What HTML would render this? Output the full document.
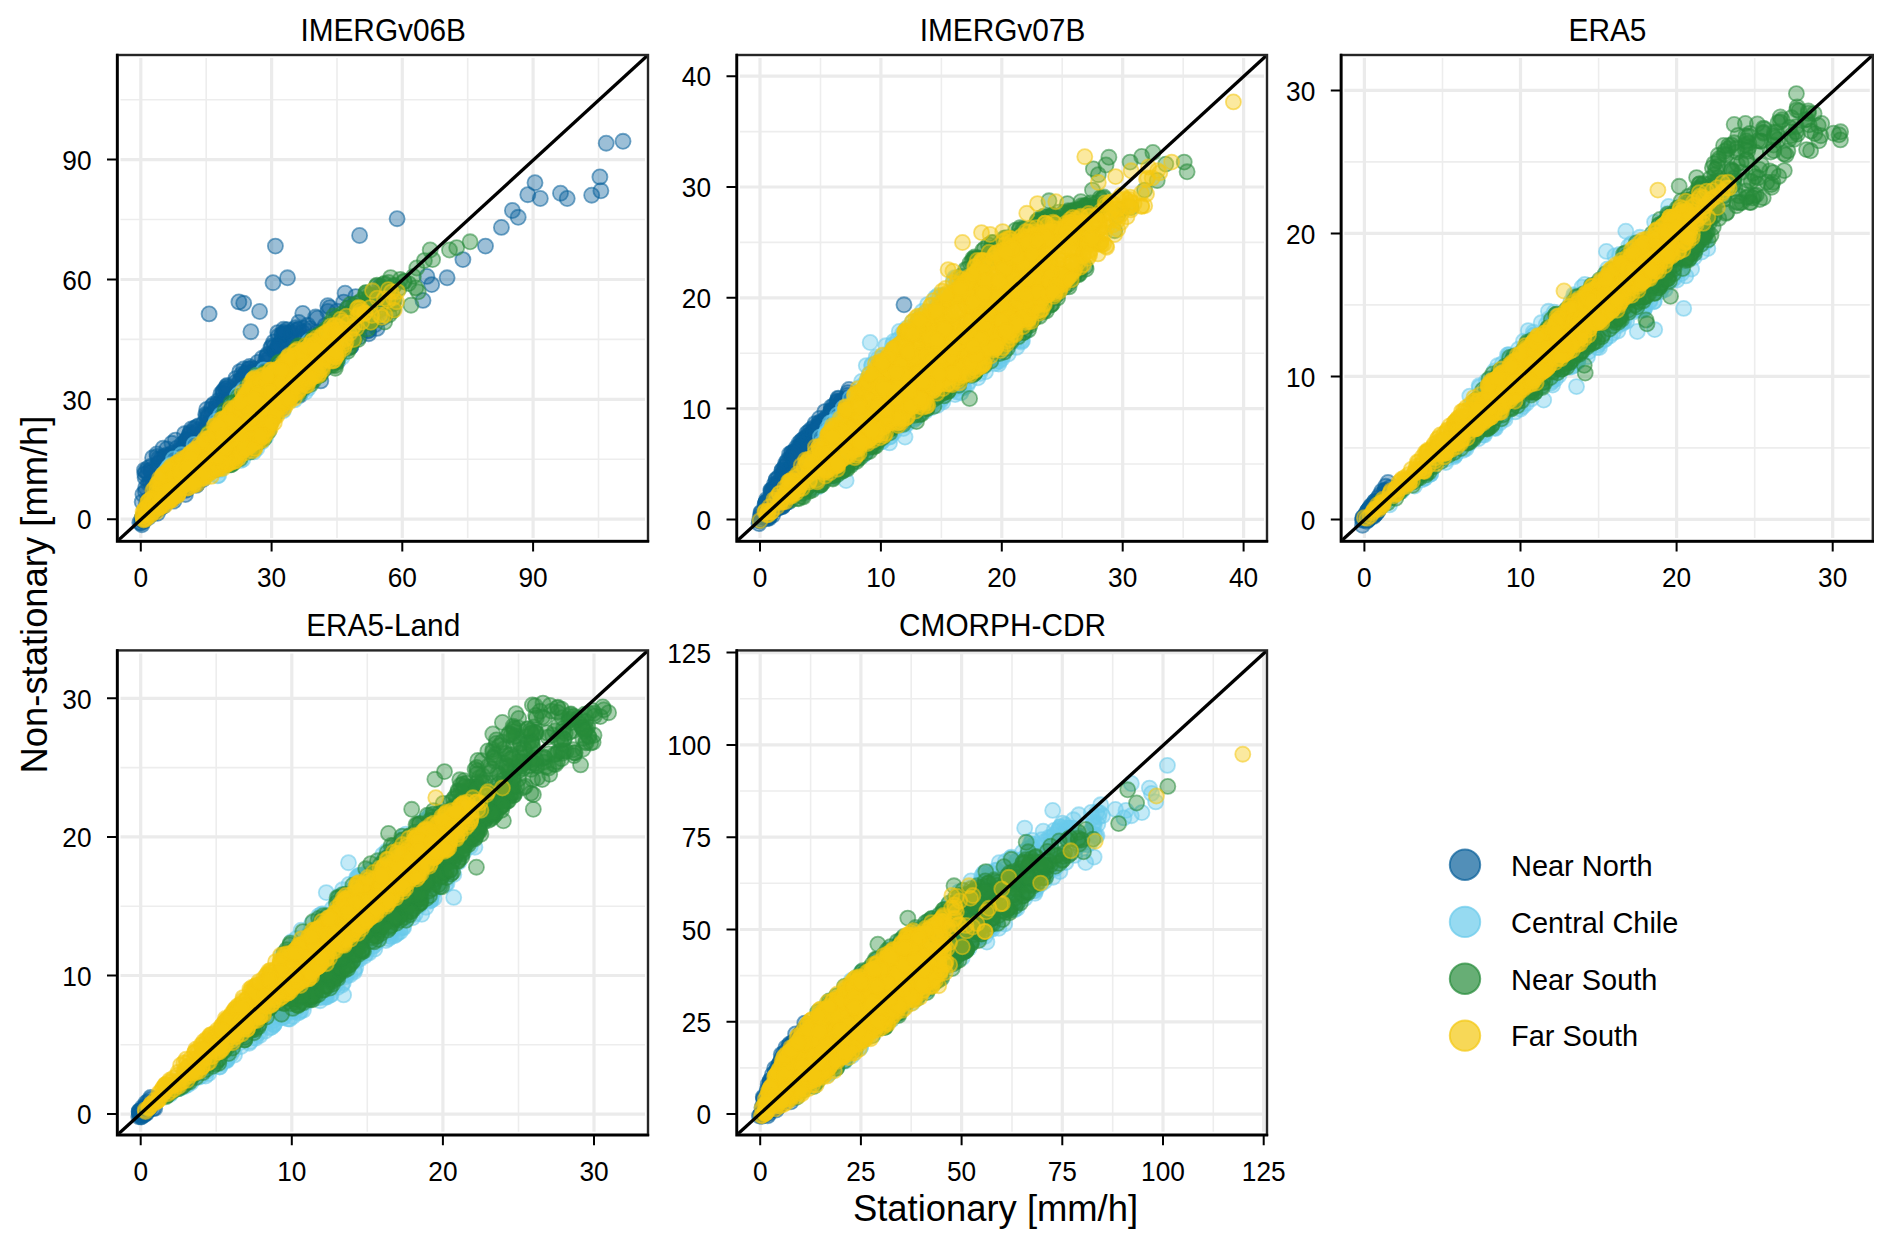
<!DOCTYPE html>
<html lang="en"><head><meta charset="utf-8"><title>Stationary vs Non-stationary</title>
<style>html,body{margin:0;padding:0;background:#fff}svg{display:block}text{font-family:"Liberation Sans", sans-serif;fill:#000}.tk{font-size:28.4px}.tt{font-size:30.8px}.ax{font-size:36.4px}.lg{font-size:29.7px}.pt circle{r:7.55px;stroke-width:1.8px}.nn{fill:#08609a;stroke:#08609a}.cc{fill:#6acaeb;stroke:#6acaeb}.ns{fill:#278b3a;stroke:#278b3a}.fs{fill:#f4c70f;stroke:#f4c70f}.pt{fill-opacity:.4;stroke-opacity:.55}</style></head><body>
<svg width="1892" height="1248" viewBox="0 0 1892 1248">
<rect width="1892" height="1248" fill="#fff"/>
<clipPath id="cp0"><rect x="117.5" y="55" width="530.5" height="486"/></clipPath>
<g><path d="M206.2 58V538M337 58V538M467.7 58V538M598.5 58V538M120.5 459.3H645M120.5 339.4H645M120.5 219.5H645M120.5 99.7H645" stroke="#ededed" stroke-width="1.6" fill="none"/><path d="M140.8 58V538M271.6 58V538M402.3 58V538M533.1 58V538M120.5 519.2H645M120.5 399.3H645M120.5 279.5H645M120.5 159.6H645" stroke="#ebebeb" stroke-width="3.2" fill="none"/></g>
<g class="pt" clip-path="url(#cp0)">
<g class="nn"><circle cx="368.7" cy="333.7"/><circle cx="221.2" cy="423.4"/><circle cx="338.2" cy="329.8"/><circle cx="198.4" cy="443.8"/><circle cx="209.9" cy="438.9"/><circle cx="169.1" cy="499.8"/><circle cx="194.3" cy="446.6"/><circle cx="209.8" cy="423"/><circle cx="360.6" cy="321.8"/><circle cx="231.6" cy="413.4"/><circle cx="257.6" cy="381.9"/><circle cx="312.8" cy="339.8"/><circle cx="312.8" cy="369.1"/><circle cx="268" cy="385.7"/><circle cx="279.1" cy="365.7"/><circle cx="190.4" cy="441.8"/><circle cx="180.1" cy="458.5"/><circle cx="315.4" cy="352.1"/><circle cx="269.5" cy="418.5"/><circle cx="257.8" cy="434.1"/><circle cx="156.9" cy="482.8"/><circle cx="369.4" cy="301.1"/><circle cx="141.9" cy="524.8"/><circle cx="196.3" cy="485.4"/><circle cx="310.9" cy="353.7"/><circle cx="228.9" cy="418.6"/><circle cx="279.1" cy="405.9"/><circle cx="337.6" cy="361.8"/><circle cx="176.3" cy="448.4"/><circle cx="379.7" cy="286.1"/><circle cx="182.2" cy="449.2"/><circle cx="346.9" cy="314.5"/><circle cx="301.2" cy="391.4"/><circle cx="202.4" cy="432.9"/><circle cx="314.9" cy="373.4"/><circle cx="368.5" cy="330.8"/><circle cx="305.1" cy="357.5"/><circle cx="232.9" cy="419.2"/><circle cx="219.4" cy="425.8"/><circle cx="238.3" cy="413.6"/><circle cx="191.2" cy="458.9"/><circle cx="278.6" cy="364.9"/><circle cx="207.2" cy="469.9"/><circle cx="350.8" cy="346.4"/><circle cx="236.6" cy="409"/><circle cx="234.2" cy="408.1"/><circle cx="309.8" cy="328.4"/><circle cx="204.9" cy="436.6"/><circle cx="295.6" cy="395"/><circle cx="322" cy="332.5"/><circle cx="148.4" cy="483.5"/><circle cx="258.1" cy="393.7"/><circle cx="245.9" cy="386"/><circle cx="377" cy="328.4"/><circle cx="143.1" cy="520.6"/><circle cx="186" cy="489.3"/><circle cx="197.4" cy="442.7"/><circle cx="155.3" cy="490.5"/><circle cx="211.3" cy="439"/><circle cx="185.4" cy="494.5"/><circle cx="301.2" cy="388.5"/><circle cx="162.5" cy="481.7"/><circle cx="189.9" cy="484"/><circle cx="269" cy="381.8"/><circle cx="172.4" cy="464.3"/><circle cx="356" cy="303.6"/><circle cx="172.9" cy="467.1"/><circle cx="292.7" cy="397.3"/><circle cx="240.8" cy="396.9"/><circle cx="207.1" cy="439.7"/><circle cx="324.5" cy="368.4"/><circle cx="220.7" cy="411.9"/><circle cx="160.5" cy="507.9"/><circle cx="150.7" cy="482.1"/><circle cx="316.7" cy="367.4"/><circle cx="215.8" cy="411.3"/><circle cx="299.6" cy="395.5"/><circle cx="350.7" cy="346.7"/><circle cx="158.5" cy="483.7"/><circle cx="259" cy="377.7"/><circle cx="195.6" cy="481.6"/><circle cx="341.5" cy="317.1"/><circle cx="202.1" cy="441.1"/><circle cx="351.6" cy="311.5"/><circle cx="186.2" cy="490.3"/><circle cx="221.2" cy="412.9"/><circle cx="295.4" cy="347"/><circle cx="353.1" cy="321"/><circle cx="277.7" cy="352.9"/><circle cx="180.8" cy="453.5"/><circle cx="270.7" cy="417.2"/><circle cx="277.4" cy="407.9"/><circle cx="267" cy="356.1"/><circle cx="254.9" cy="377.3"/><circle cx="318.7" cy="334.2"/><circle cx="246.9" cy="391.1"/><circle cx="165" cy="473.3"/><circle cx="359.5" cy="336.7"/><circle cx="292.8" cy="360.9"/><circle cx="143.4" cy="517.2"/><circle cx="350" cy="318.3"/><circle cx="264.7" cy="378.6"/><circle cx="332.3" cy="346.6"/><circle cx="176.1" cy="494"/><circle cx="254.5" cy="395.3"/><circle cx="241.7" cy="385.1"/><circle cx="180.4" cy="490.2"/><circle cx="157.5" cy="513.2"/><circle cx="266.2" cy="362.8"/><circle cx="193.6" cy="444.5"/><circle cx="256.5" cy="393.9"/><circle cx="202.8" cy="479.5"/><circle cx="305.6" cy="387.3"/><circle cx="325.2" cy="325.6"/><circle cx="276.6" cy="409.1"/><circle cx="339.8" cy="334.4"/><circle cx="154.6" cy="511.6"/><circle cx="169.9" cy="462.7"/><circle cx="245.9" cy="392.7"/><circle cx="333.4" cy="353.2"/><circle cx="182.2" cy="489.5"/><circle cx="379.1" cy="310.3"/><circle cx="319.1" cy="349.2"/><circle cx="210.6" cy="429"/><circle cx="184" cy="488.6"/><circle cx="240.6" cy="400.6"/><circle cx="149.8" cy="482.3"/><circle cx="164" cy="466.8"/><circle cx="254.6" cy="371.7"/><circle cx="362" cy="322.3"/><circle cx="145.7" cy="487.5"/><circle cx="261.1" cy="389"/><circle cx="241.3" cy="390"/><circle cx="169.7" cy="496.5"/><circle cx="310.7" cy="347.9"/><circle cx="272.8" cy="367.2"/><circle cx="371.7" cy="295.7"/><circle cx="163.5" cy="506.2"/><circle cx="239.3" cy="445.1"/><circle cx="202.3" cy="431.1"/><circle cx="321.3" cy="359.2"/><circle cx="262.5" cy="381.7"/><circle cx="260.8" cy="367.9"/><circle cx="143.9" cy="521.2"/><circle cx="190.2" cy="456.7"/><circle cx="189.2" cy="437"/><circle cx="347.6" cy="308.1"/><circle cx="141.3" cy="523.1"/><circle cx="295.7" cy="390.2"/><circle cx="295" cy="347.2"/><circle cx="155.6" cy="480.3"/><circle cx="284.6" cy="400"/><circle cx="269.3" cy="377.9"/><circle cx="332.7" cy="347.8"/><circle cx="371.1" cy="301"/><circle cx="181.3" cy="444.7"/><circle cx="240.1" cy="443.3"/><circle cx="264.7" cy="377.6"/><circle cx="139.8" cy="522.5"/><circle cx="311.1" cy="349.9"/><circle cx="212.3" cy="466.9"/><circle cx="148.4" cy="517.5"/><circle cx="152.7" cy="493.4"/><circle cx="348.4" cy="320.4"/><circle cx="336" cy="351.2"/><circle cx="219.7" cy="417.1"/><circle cx="199.4" cy="451.7"/><circle cx="173.9" cy="501.1"/><circle cx="254.9" cy="374.6"/><circle cx="303.1" cy="367.6"/><circle cx="240.4" cy="408.9"/><circle cx="146.5" cy="504"/><circle cx="231.1" cy="398"/><circle cx="172.4" cy="499.2"/><circle cx="271.4" cy="373"/><circle cx="360.6" cy="325.3"/><circle cx="220.2" cy="417.8"/><circle cx="283" cy="370.7"/><circle cx="245.5" cy="397.2"/><circle cx="313.2" cy="351.3"/><circle cx="250.4" cy="378.5"/><circle cx="221.5" cy="414.3"/><circle cx="241.1" cy="394"/><circle cx="245.7" cy="396.6"/><circle cx="374.8" cy="324.7"/><circle cx="157.2" cy="509.9"/><circle cx="153.4" cy="483.9"/><circle cx="184.6" cy="446.3"/><circle cx="142.2" cy="502"/><circle cx="223.7" cy="463.3"/><circle cx="186.8" cy="440.4"/><circle cx="306.3" cy="368.9"/><circle cx="285.6" cy="397"/><circle cx="301.6" cy="339.3"/><circle cx="170.9" cy="456.3"/><circle cx="153.2" cy="513.6"/><circle cx="235.7" cy="395.9"/><circle cx="358.3" cy="312.6"/><circle cx="197.6" cy="477.1"/><circle cx="250.1" cy="378"/><circle cx="307.9" cy="366.6"/><circle cx="340.8" cy="338.7"/><circle cx="253.2" cy="391.5"/><circle cx="235.1" cy="406.1"/><circle cx="232" cy="405.1"/><circle cx="259.1" cy="436.7"/><circle cx="336.2" cy="348"/><circle cx="337" cy="357.1"/><circle cx="197.2" cy="484.1"/><circle cx="207.3" cy="430.1"/><circle cx="215.9" cy="460.9"/><circle cx="141.9" cy="518.5"/><circle cx="233.9" cy="416.9"/><circle cx="198.8" cy="437.6"/><circle cx="239.7" cy="403.7"/><circle cx="276" cy="369.2"/><circle cx="235.3" cy="447.2"/><circle cx="308.2" cy="337.4"/><circle cx="290.4" cy="361.9"/><circle cx="247.4" cy="401.7"/><circle cx="350.2" cy="319.1"/><circle cx="263.3" cy="423.5"/><circle cx="228.3" cy="452.8"/><circle cx="195.1" cy="443.8"/><circle cx="236" cy="448.2"/><circle cx="287.6" cy="352.5"/><circle cx="151.9" cy="477.8"/><circle cx="288.9" cy="355.2"/><circle cx="179.3" cy="465.4"/><circle cx="142.4" cy="518.1"/><circle cx="302.4" cy="387"/><circle cx="181.4" cy="462.5"/><circle cx="336.1" cy="332.6"/><circle cx="216.2" cy="460.6"/><circle cx="258" cy="380.6"/><circle cx="189.1" cy="484.5"/><circle cx="269.4" cy="414.4"/><circle cx="185.3" cy="444.9"/><circle cx="211.2" cy="439"/><circle cx="249.5" cy="385.6"/><circle cx="204.4" cy="430.1"/><circle cx="166.3" cy="464.7"/><circle cx="231.1" cy="401"/><circle cx="147.4" cy="500.5"/><circle cx="181.5" cy="464.4"/><circle cx="333.4" cy="343.2"/><circle cx="187.2" cy="483.6"/><circle cx="218.3" cy="419.8"/><circle cx="181.9" cy="485.5"/><circle cx="254" cy="393.6"/><circle cx="324.5" cy="358.7"/><circle cx="278.5" cy="370.9"/><circle cx="348.8" cy="313.4"/><circle cx="184.7" cy="453.3"/><circle cx="313.7" cy="353.8"/><circle cx="315.3" cy="371.4"/><circle cx="172.3" cy="453.1"/><circle cx="145.4" cy="491.6"/><circle cx="192.6" cy="482.9"/><circle cx="354.2" cy="319.8"/><circle cx="217.1" cy="422.6"/><circle cx="236.7" cy="413"/><circle cx="271.4" cy="378.7"/><circle cx="297.3" cy="390"/><circle cx="323" cy="362.5"/><circle cx="254.4" cy="436.6"/><circle cx="320.8" cy="380.9"/><circle cx="249.4" cy="381.6"/><circle cx="292.2" cy="391.7"/><circle cx="194.4" cy="475.9"/><circle cx="281.8" cy="408.7"/><circle cx="197.9" cy="444.1"/><circle cx="344.5" cy="325.9"/><circle cx="159.3" cy="484.9"/><circle cx="324.5" cy="368.9"/><circle cx="244.1" cy="403.2"/><circle cx="220.1" cy="429.4"/><circle cx="266.8" cy="357.3"/><circle cx="382.9" cy="317.7"/><circle cx="338.4" cy="355.1"/><circle cx="296.5" cy="346.1"/><circle cx="265.5" cy="371.8"/><circle cx="316.8" cy="332.5"/><circle cx="268.8" cy="369.1"/><circle cx="180.3" cy="449.1"/><circle cx="299.5" cy="349"/><circle cx="305.3" cy="352.9"/><circle cx="317.3" cy="338.4"/><circle cx="245" cy="391.2"/><circle cx="170.8" cy="474.1"/><circle cx="223.7" cy="455.3"/><circle cx="334.6" cy="339"/><circle cx="157.6" cy="468"/><circle cx="246.3" cy="439.7"/><circle cx="368.2" cy="330.2"/><circle cx="270.4" cy="422.9"/><circle cx="377.3" cy="299.5"/><circle cx="223.9" cy="401.2"/><circle cx="289.2" cy="366.2"/><circle cx="294.4" cy="390"/><circle cx="184.8" cy="455.2"/><circle cx="297.4" cy="382.6"/><circle cx="147" cy="514.9"/><circle cx="206.8" cy="426.5"/><circle cx="218.3" cy="432.1"/><circle cx="183.3" cy="444.3"/><circle cx="198" cy="429.4"/><circle cx="171.9" cy="493.5"/><circle cx="171.5" cy="455.8"/><circle cx="175" cy="469.1"/><circle cx="209.1" cy="313.9"/><circle cx="238.9" cy="301.9"/><circle cx="243.7" cy="303.3"/><circle cx="259.6" cy="311.5"/><circle cx="250.9" cy="331.7"/><circle cx="275.4" cy="246.1"/><circle cx="273" cy="282.7"/><circle cx="287.5" cy="277.8"/><circle cx="302.8" cy="313.4"/><circle cx="359.6" cy="235.5"/><circle cx="397.1" cy="218.7"/><circle cx="327.8" cy="311.5"/><circle cx="317.3" cy="318.2"/><circle cx="283.6" cy="329.3"/><circle cx="277.8" cy="332.6"/><circle cx="345.1" cy="293.2"/><circle cx="355.7" cy="296.6"/><circle cx="382.2" cy="288.4"/><circle cx="426.9" cy="276.4"/><circle cx="431.7" cy="284.6"/><circle cx="447.1" cy="277.8"/><circle cx="423" cy="300.4"/><circle cx="462.9" cy="259.6"/><circle cx="485.5" cy="246.1"/><circle cx="501.4" cy="227.4"/><circle cx="512.4" cy="210.5"/><circle cx="518.2" cy="217.3"/><circle cx="527.8" cy="194.7"/><circle cx="535" cy="182.7"/><circle cx="540.3" cy="198.5"/><circle cx="560.5" cy="193.2"/><circle cx="567.2" cy="198.5"/><circle cx="591.7" cy="195.2"/><circle cx="600.9" cy="190.8"/><circle cx="599.9" cy="176.9"/><circle cx="606.2" cy="143.2"/><circle cx="623" cy="141.3"/></g>
<g class="nn"><circle cx="281.2" cy="341.7"/><circle cx="327.8" cy="305.7"/><circle cx="211.5" cy="409.3"/><circle cx="268.9" cy="358.6"/><circle cx="238.4" cy="387.3"/><circle cx="271.9" cy="345.9"/><circle cx="198.5" cy="431.1"/><circle cx="207.8" cy="415.7"/><circle cx="206" cy="424.8"/><circle cx="295.7" cy="327.7"/><circle cx="240.3" cy="380.2"/><circle cx="273.7" cy="341.9"/><circle cx="280.3" cy="346"/><circle cx="211.3" cy="414.8"/><circle cx="164.5" cy="457.7"/><circle cx="258.7" cy="370.3"/><circle cx="265.6" cy="360.5"/><circle cx="278.3" cy="336.3"/><circle cx="285.6" cy="335.3"/><circle cx="247.7" cy="372.2"/><circle cx="216.2" cy="407.3"/><circle cx="147.9" cy="472.7"/><circle cx="145.1" cy="477.8"/><circle cx="161.3" cy="458.6"/><circle cx="189.9" cy="434"/><circle cx="274.6" cy="351.1"/><circle cx="246.4" cy="380.5"/><circle cx="216.2" cy="404.7"/><circle cx="218.3" cy="400.6"/><circle cx="156.9" cy="454"/><circle cx="186.2" cy="439.9"/><circle cx="281.2" cy="345.1"/><circle cx="224.6" cy="405"/><circle cx="274" cy="346.9"/><circle cx="243.7" cy="369"/><circle cx="220.9" cy="393.8"/><circle cx="142.9" cy="494.2"/><circle cx="248.7" cy="369.1"/><circle cx="205.7" cy="414.4"/><circle cx="238" cy="384"/><circle cx="289.3" cy="333"/><circle cx="282.2" cy="335.3"/><circle cx="245.1" cy="374.2"/><circle cx="198.3" cy="425.9"/><circle cx="184.5" cy="433.8"/><circle cx="337" cy="311.2"/><circle cx="157.6" cy="463.5"/><circle cx="194.4" cy="428.4"/><circle cx="223.3" cy="390.6"/><circle cx="211.9" cy="406.2"/><circle cx="277.6" cy="350.2"/><circle cx="189.1" cy="435.5"/><circle cx="298" cy="329.7"/><circle cx="157.2" cy="456.5"/><circle cx="226" cy="388.9"/><circle cx="166.9" cy="448.9"/><circle cx="223.6" cy="393.7"/><circle cx="267.3" cy="354.4"/><circle cx="302.5" cy="332.4"/><circle cx="236.7" cy="390.6"/><circle cx="245.9" cy="379.9"/><circle cx="158.9" cy="463.6"/><circle cx="287.2" cy="340.5"/><circle cx="208.6" cy="416.6"/><circle cx="245.7" cy="373.1"/><circle cx="298.8" cy="322.5"/><circle cx="290.6" cy="334.8"/><circle cx="191.4" cy="429"/><circle cx="243.1" cy="379.2"/><circle cx="227.7" cy="387.4"/><circle cx="228.4" cy="400.5"/><circle cx="151.1" cy="472.4"/><circle cx="287.3" cy="329.6"/><circle cx="303.7" cy="328.5"/><circle cx="227.2" cy="385.5"/><circle cx="150.9" cy="469.9"/><circle cx="190" cy="432.4"/><circle cx="169.6" cy="455.3"/><circle cx="293.5" cy="330"/><circle cx="255.2" cy="371.4"/><circle cx="220.2" cy="401.9"/><circle cx="167" cy="454.9"/><circle cx="151.2" cy="466.3"/><circle cx="229.6" cy="398.2"/><circle cx="284.8" cy="333.4"/><circle cx="144.5" cy="470.1"/><circle cx="278.6" cy="345.3"/><circle cx="249.2" cy="368.8"/><circle cx="239.8" cy="371.6"/><circle cx="186.4" cy="440.3"/><circle cx="343.7" cy="302.1"/><circle cx="270.9" cy="347.9"/><circle cx="254.4" cy="369.1"/><circle cx="284" cy="333.2"/><circle cx="248" cy="377"/><circle cx="291.1" cy="338.1"/><circle cx="148.1" cy="467.9"/><circle cx="196.6" cy="427.1"/><circle cx="241.6" cy="378.9"/><circle cx="223.6" cy="402.6"/><circle cx="282" cy="334.1"/><circle cx="213.6" cy="404.2"/><circle cx="251.4" cy="368.1"/><circle cx="277.4" cy="347.6"/><circle cx="222.7" cy="392.7"/><circle cx="227.6" cy="391"/><circle cx="144.8" cy="474.1"/><circle cx="257.7" cy="362.5"/><circle cx="251.8" cy="373.7"/><circle cx="226.4" cy="386.4"/><circle cx="152.6" cy="457.8"/><circle cx="206.7" cy="409.4"/><circle cx="291.6" cy="332.4"/><circle cx="249.6" cy="366.4"/><circle cx="241.6" cy="374.5"/><circle cx="206.5" cy="415.4"/><circle cx="163.7" cy="456.4"/><circle cx="278.6" cy="344.8"/><circle cx="235.8" cy="378.6"/><circle cx="262.2" cy="358.3"/><circle cx="329.7" cy="307.6"/><circle cx="284.1" cy="331.6"/><circle cx="250.9" cy="375.9"/><circle cx="175.5" cy="440.1"/><circle cx="188.7" cy="439.1"/><circle cx="207.9" cy="417.2"/><circle cx="315.7" cy="317"/><circle cx="225.2" cy="389"/><circle cx="203.3" cy="423.8"/><circle cx="243.5" cy="375.5"/><circle cx="163.1" cy="448.2"/><circle cx="145.8" cy="471.4"/><circle cx="216.6" cy="409.1"/><circle cx="298.9" cy="329"/><circle cx="235.2" cy="382.6"/><circle cx="250.6" cy="374.5"/><circle cx="158.7" cy="458.6"/><circle cx="171.9" cy="443.3"/><circle cx="307.7" cy="325.3"/><circle cx="307.4" cy="331.2"/></g>
<g class="cc"><circle cx="163.2" cy="474.6"/><circle cx="257" cy="376.3"/><circle cx="220.8" cy="415"/><circle cx="194.1" cy="444.4"/><circle cx="230.9" cy="406.4"/><circle cx="293.4" cy="354.3"/><circle cx="185.9" cy="458"/><circle cx="164.7" cy="477.6"/><circle cx="292.6" cy="355.8"/><circle cx="173.5" cy="458.9"/><circle cx="256" cy="379.2"/><circle cx="192.1" cy="453.2"/><circle cx="269.2" cy="372.3"/><circle cx="218.7" cy="422.8"/><circle cx="208.5" cy="433.7"/><circle cx="242" cy="396.2"/><circle cx="232.2" cy="409.1"/><circle cx="280.9" cy="364.6"/><circle cx="263.8" cy="369.9"/><circle cx="236.1" cy="401.2"/><circle cx="241.9" cy="393.9"/><circle cx="216.4" cy="420.9"/><circle cx="190.1" cy="454.3"/><circle cx="193" cy="450.8"/><circle cx="243.9" cy="389.1"/><circle cx="236.8" cy="401.6"/><circle cx="171.4" cy="464.8"/><circle cx="237.5" cy="396"/><circle cx="171.3" cy="467.4"/><circle cx="288.1" cy="361.5"/><circle cx="167.2" cy="473.9"/><circle cx="256.9" cy="375.3"/><circle cx="172.7" cy="469.2"/><circle cx="170.3" cy="465.6"/><circle cx="226.3" cy="417.8"/><circle cx="299.6" cy="349.2"/><circle cx="165.3" cy="471.8"/><circle cx="238.8" cy="394.2"/><circle cx="260.7" cy="379.2"/><circle cx="174.3" cy="468.2"/><circle cx="292.2" cy="353.8"/><circle cx="173.2" cy="466.6"/><circle cx="208.6" cy="437.7"/><circle cx="213.3" cy="430.7"/><circle cx="168.5" cy="467.4"/><circle cx="161.4" cy="479"/><circle cx="221" cy="421.5"/><circle cx="181.5" cy="454.8"/><circle cx="168.1" cy="468"/><circle cx="204.1" cy="440.8"/><circle cx="287.8" cy="357.1"/><circle cx="299.6" cy="354.7"/><circle cx="163.4" cy="475.3"/><circle cx="240" cy="400.3"/><circle cx="215.2" cy="424.8"/><circle cx="250.6" cy="387.6"/><circle cx="252.6" cy="379.5"/><circle cx="220.1" cy="424.3"/><circle cx="308.8" cy="341.4"/><circle cx="168.3" cy="471.9"/></g>
<g class="cc"><circle cx="313" cy="378.3"/><circle cx="206.9" cy="475"/><circle cx="308.4" cy="388.3"/><circle cx="319.3" cy="373.5"/><circle cx="265.8" cy="437"/><circle cx="342.1" cy="357.2"/><circle cx="225" cy="462.2"/><circle cx="226.8" cy="465.5"/><circle cx="227.9" cy="460.7"/><circle cx="266.8" cy="432.7"/><circle cx="240.8" cy="460.5"/><circle cx="341.2" cy="354.5"/><circle cx="242.7" cy="459.5"/><circle cx="338.7" cy="352.8"/><circle cx="226.8" cy="464.2"/><circle cx="203.2" cy="475.1"/><circle cx="347.4" cy="343.1"/><circle cx="338.9" cy="357.1"/><circle cx="253.9" cy="451.9"/><circle cx="222.5" cy="467.1"/><circle cx="262.1" cy="441.7"/><circle cx="328.4" cy="363.5"/><circle cx="261.3" cy="439.4"/><circle cx="294.6" cy="399.9"/><circle cx="244" cy="453.3"/><circle cx="223.8" cy="466.3"/><circle cx="211.3" cy="470.6"/><circle cx="217.5" cy="475.9"/><circle cx="316.3" cy="374.4"/><circle cx="263.7" cy="434.9"/><circle cx="256.8" cy="448.5"/><circle cx="255.3" cy="446.2"/><circle cx="294.2" cy="394.8"/><circle cx="218.8" cy="475.2"/><circle cx="283.3" cy="410.8"/><circle cx="219.7" cy="469.9"/><circle cx="239.4" cy="453.2"/><circle cx="203.6" cy="477.9"/><circle cx="305.5" cy="392.1"/><circle cx="301" cy="392.4"/></g>
<g class="ns"><circle cx="339.1" cy="320.2"/><circle cx="240.7" cy="398"/><circle cx="296.6" cy="352.7"/><circle cx="283.2" cy="365.5"/><circle cx="285" cy="359.2"/><circle cx="221.8" cy="418.9"/><circle cx="293.3" cy="353.2"/><circle cx="259.4" cy="382.9"/><circle cx="255.8" cy="375.5"/><circle cx="321.2" cy="334.1"/><circle cx="319.1" cy="337.7"/><circle cx="230.8" cy="413.7"/><circle cx="239" cy="401.7"/><circle cx="270.2" cy="372.3"/><circle cx="228.4" cy="413.4"/><circle cx="314.9" cy="344.8"/><circle cx="279.3" cy="362.1"/><circle cx="265.7" cy="373.5"/><circle cx="330.6" cy="325.5"/><circle cx="354.4" cy="309.5"/><circle cx="315.7" cy="336.5"/><circle cx="298.7" cy="345.8"/><circle cx="285.6" cy="365.2"/><circle cx="266.6" cy="378.3"/><circle cx="217.2" cy="427.8"/><circle cx="293.3" cy="356.4"/><circle cx="312.8" cy="338.1"/><circle cx="226.8" cy="419.2"/><circle cx="340.6" cy="316.9"/><circle cx="270" cy="376.2"/><circle cx="314.5" cy="340.9"/><circle cx="309.4" cy="346"/><circle cx="265.2" cy="372.7"/><circle cx="231.3" cy="403.1"/><circle cx="332.6" cy="329.7"/><circle cx="306.4" cy="345.8"/><circle cx="298.2" cy="352.4"/><circle cx="226.5" cy="420.9"/><circle cx="224.9" cy="410.6"/><circle cx="329.8" cy="330.4"/><circle cx="258.5" cy="380.8"/><circle cx="326.1" cy="329.1"/><circle cx="220.3" cy="424.9"/><circle cx="208.4" cy="433.2"/><circle cx="283.4" cy="368.3"/><circle cx="256.8" cy="379.9"/><circle cx="216.3" cy="430.3"/><circle cx="284" cy="361.8"/><circle cx="206.6" cy="439.7"/><circle cx="320.6" cy="333.7"/><circle cx="247.8" cy="385.3"/><circle cx="330.5" cy="322.7"/><circle cx="352.3" cy="316.1"/><circle cx="240.8" cy="399.1"/><circle cx="252" cy="385"/><circle cx="313.6" cy="341"/><circle cx="306.9" cy="349.5"/><circle cx="223.7" cy="422.8"/><circle cx="232.4" cy="411.8"/><circle cx="211.8" cy="432.7"/><circle cx="257.5" cy="379.9"/><circle cx="224.6" cy="415.5"/><circle cx="244.5" cy="395.5"/><circle cx="341.8" cy="322.7"/><circle cx="289.3" cy="363.6"/><circle cx="296.4" cy="354.3"/><circle cx="260.1" cy="380"/><circle cx="234.5" cy="402.2"/><circle cx="261" cy="378.9"/><circle cx="270.9" cy="375.6"/><circle cx="347.2" cy="308.5"/><circle cx="291.6" cy="355.2"/><circle cx="230.3" cy="408.2"/><circle cx="326.5" cy="335.1"/><circle cx="278.3" cy="363.3"/><circle cx="338.2" cy="326.9"/><circle cx="224.1" cy="421.8"/><circle cx="238.2" cy="396.4"/><circle cx="259.7" cy="381.8"/><circle cx="326.5" cy="329.6"/><circle cx="216" cy="426.1"/><circle cx="224.2" cy="419.2"/><circle cx="301" cy="347.3"/><circle cx="295.9" cy="349"/><circle cx="341.8" cy="314.2"/><circle cx="243.7" cy="396.3"/><circle cx="301.9" cy="348.4"/><circle cx="212.3" cy="435.2"/><circle cx="267.4" cy="374.2"/><circle cx="281.2" cy="365.6"/><circle cx="408.6" cy="283.6"/><circle cx="413.4" cy="276.4"/><circle cx="430.2" cy="250"/><circle cx="432.6" cy="259.6"/><circle cx="449.5" cy="250"/><circle cx="456.7" cy="247.6"/><circle cx="470.1" cy="241.8"/><circle cx="418.2" cy="291.8"/><circle cx="411" cy="305.2"/><circle cx="399" cy="288.4"/><circle cx="394.2" cy="300.4"/><circle cx="384.6" cy="322.1"/><circle cx="379.8" cy="307.6"/><circle cx="403.8" cy="281.2"/></g>
<g class="ns"><circle cx="263.9" cy="433.4"/><circle cx="231.3" cy="464.7"/><circle cx="334.4" cy="351.9"/><circle cx="336.8" cy="360.7"/><circle cx="252.1" cy="449"/><circle cx="326.1" cy="365.3"/><circle cx="268.8" cy="431.2"/><circle cx="298.7" cy="392.1"/><circle cx="311" cy="375.7"/><circle cx="319.7" cy="375.1"/><circle cx="250.1" cy="452.1"/><circle cx="240" cy="458.7"/><circle cx="305.7" cy="385.7"/><circle cx="313.3" cy="378"/><circle cx="246.6" cy="448.8"/><circle cx="257" cy="443.2"/><circle cx="314" cy="380.3"/><circle cx="230.1" cy="461.4"/><circle cx="349.5" cy="347"/><circle cx="290.3" cy="395.2"/><circle cx="288.1" cy="397.8"/><circle cx="298.6" cy="394.7"/><circle cx="274.5" cy="416.4"/><circle cx="257.2" cy="441.2"/><circle cx="316.6" cy="371.3"/><circle cx="320.2" cy="375.2"/><circle cx="234.4" cy="455"/><circle cx="226.9" cy="462.5"/><circle cx="321.9" cy="371.7"/><circle cx="307.3" cy="378.7"/><circle cx="326.8" cy="360.4"/><circle cx="342.5" cy="346.3"/><circle cx="230" cy="464.9"/><circle cx="274" cy="414.5"/><circle cx="261.3" cy="435.7"/><circle cx="254.2" cy="447.4"/><circle cx="347.8" cy="351.3"/><circle cx="311.2" cy="381.5"/><circle cx="310.9" cy="384.2"/><circle cx="246.5" cy="446.3"/><circle cx="260.9" cy="440.7"/><circle cx="215.8" cy="469.4"/><circle cx="331.1" cy="365"/><circle cx="254.5" cy="442.4"/><circle cx="238.1" cy="456.2"/><circle cx="348.8" cy="348.3"/><circle cx="310.2" cy="375.5"/><circle cx="224.3" cy="463.9"/><circle cx="311.7" cy="374.9"/><circle cx="220.1" cy="462.5"/><circle cx="217.1" cy="466.3"/><circle cx="307.7" cy="378.6"/><circle cx="233" cy="463.4"/><circle cx="337.2" cy="360.2"/><circle cx="303.1" cy="388.5"/><circle cx="331.5" cy="362.8"/><circle cx="339.4" cy="353.7"/><circle cx="278.8" cy="408.8"/><circle cx="264.1" cy="438.5"/><circle cx="350.8" cy="340"/><circle cx="234" cy="458.5"/><circle cx="213.1" cy="468.3"/><circle cx="282" cy="403.5"/><circle cx="350.8" cy="337.9"/><circle cx="223.2" cy="460.9"/><circle cx="295.5" cy="392.1"/><circle cx="243.3" cy="450.3"/><circle cx="294.2" cy="394.2"/><circle cx="245.3" cy="447.6"/><circle cx="205.7" cy="471.9"/></g>
<g class="ns"><circle cx="367.6" cy="328.9"/><circle cx="373.1" cy="295.3"/><circle cx="353.9" cy="332.1"/><circle cx="335.3" cy="368.2"/><circle cx="365.9" cy="292.8"/><circle cx="333.7" cy="316"/><circle cx="381.3" cy="297.3"/><circle cx="344" cy="325.9"/><circle cx="376.4" cy="286.2"/><circle cx="392.2" cy="311.3"/><circle cx="344" cy="332.9"/><circle cx="350.3" cy="304.4"/><circle cx="360.4" cy="327.1"/><circle cx="352.4" cy="320.7"/><circle cx="366.1" cy="294.9"/><circle cx="347" cy="327.9"/><circle cx="358" cy="339.6"/><circle cx="341.9" cy="348.4"/><circle cx="392.8" cy="303.9"/><circle cx="394" cy="285.3"/><circle cx="361.8" cy="300.1"/><circle cx="332.5" cy="365.2"/><circle cx="370" cy="298.8"/><circle cx="343" cy="343.9"/><circle cx="377" cy="285.1"/><circle cx="415.8" cy="287.9"/><circle cx="372.8" cy="315.7"/><circle cx="416.8" cy="268"/><circle cx="390.6" cy="277.6"/><circle cx="338.2" cy="337"/><circle cx="350.5" cy="342.3"/><circle cx="362.6" cy="306.1"/><circle cx="389.4" cy="303.3"/><circle cx="372.5" cy="321.6"/><circle cx="383.8" cy="303.9"/><circle cx="350.4" cy="318.7"/><circle cx="404.3" cy="281.8"/><circle cx="332.6" cy="352.5"/><circle cx="372.7" cy="311.4"/><circle cx="381.2" cy="286.5"/><circle cx="393.8" cy="286.3"/><circle cx="353.7" cy="341"/><circle cx="383.5" cy="284.5"/><circle cx="355.1" cy="337.8"/><circle cx="337.7" cy="341.3"/><circle cx="357.6" cy="318.9"/><circle cx="392.9" cy="297.9"/><circle cx="360.4" cy="324.1"/><circle cx="369" cy="322.5"/><circle cx="363.7" cy="315.1"/><circle cx="359.7" cy="308.8"/><circle cx="336" cy="344.2"/><circle cx="358" cy="321.3"/><circle cx="336" cy="318.6"/><circle cx="355.2" cy="325.4"/><circle cx="334.5" cy="362.5"/><circle cx="358.7" cy="302.7"/><circle cx="350.7" cy="341.3"/><circle cx="384.4" cy="283.5"/><circle cx="389.3" cy="314.7"/><circle cx="353.7" cy="305.9"/><circle cx="351.1" cy="327.1"/><circle cx="354.6" cy="329.4"/><circle cx="365.9" cy="293"/><circle cx="346.6" cy="317.2"/><circle cx="356.5" cy="311.5"/><circle cx="388.6" cy="282.5"/><circle cx="424.4" cy="260.6"/><circle cx="343.5" cy="328.2"/><circle cx="373.7" cy="319.3"/><circle cx="339.9" cy="328.2"/><circle cx="335" cy="365.7"/><circle cx="400.3" cy="279.4"/><circle cx="393.4" cy="309.3"/><circle cx="378.3" cy="299.3"/><circle cx="369.2" cy="296.7"/><circle cx="369.5" cy="321.9"/><circle cx="355.6" cy="312.1"/><circle cx="386.7" cy="298.5"/><circle cx="343.5" cy="334.2"/></g>
<g class="fs"><circle cx="245.6" cy="415.5"/><circle cx="163.9" cy="475.5"/><circle cx="247.9" cy="415"/><circle cx="252.9" cy="425.3"/><circle cx="307.2" cy="385.6"/><circle cx="250.6" cy="445.4"/><circle cx="268.3" cy="389.2"/><circle cx="147.2" cy="517.3"/><circle cx="309.2" cy="365.4"/><circle cx="284.8" cy="375.2"/><circle cx="243.2" cy="443.7"/><circle cx="229.2" cy="462"/><circle cx="268.9" cy="414.2"/><circle cx="310.9" cy="375.9"/><circle cx="247.2" cy="446.3"/><circle cx="289" cy="357.1"/><circle cx="289.7" cy="397.4"/><circle cx="254.7" cy="440.3"/><circle cx="324.7" cy="347.6"/><circle cx="310.8" cy="352.4"/><circle cx="377.2" cy="298.1"/><circle cx="276.3" cy="397.3"/><circle cx="252.6" cy="412.3"/><circle cx="227.8" cy="433.7"/><circle cx="239.7" cy="441.8"/><circle cx="302.4" cy="370"/><circle cx="247.8" cy="427.5"/><circle cx="243.5" cy="445.5"/><circle cx="245.3" cy="446.7"/><circle cx="289.1" cy="378"/><circle cx="330.3" cy="361.1"/><circle cx="224.7" cy="435.4"/><circle cx="322.1" cy="338"/><circle cx="303.9" cy="354.4"/><circle cx="231.4" cy="419.1"/><circle cx="293.3" cy="387"/><circle cx="243.9" cy="407"/><circle cx="178.3" cy="466.1"/><circle cx="316.7" cy="361"/><circle cx="199.2" cy="447.6"/><circle cx="228.6" cy="423.7"/><circle cx="236" cy="457.2"/><circle cx="189.9" cy="454.1"/><circle cx="206.8" cy="446.6"/><circle cx="335.9" cy="357"/><circle cx="276.2" cy="379.9"/><circle cx="249" cy="441.7"/><circle cx="298.8" cy="361.4"/><circle cx="312" cy="362.1"/><circle cx="226.7" cy="463.7"/><circle cx="247.1" cy="401.7"/><circle cx="235.8" cy="455.9"/><circle cx="385" cy="314.9"/><circle cx="239.9" cy="411.2"/><circle cx="210.3" cy="459"/><circle cx="262" cy="415.4"/><circle cx="221" cy="419.6"/><circle cx="204.7" cy="476.6"/><circle cx="228.6" cy="420.9"/><circle cx="229.8" cy="413.6"/><circle cx="332.7" cy="331.7"/><circle cx="304" cy="377.5"/><circle cx="227.1" cy="459.4"/><circle cx="333" cy="344.5"/><circle cx="304" cy="382.8"/><circle cx="158.7" cy="507.1"/><circle cx="322.1" cy="367.5"/><circle cx="185.5" cy="465.6"/><circle cx="306.2" cy="385.2"/><circle cx="171.2" cy="468.5"/><circle cx="335.3" cy="325.3"/><circle cx="261.7" cy="424.3"/><circle cx="154.2" cy="499.7"/><circle cx="287.1" cy="371.5"/><circle cx="310" cy="364.4"/><circle cx="357.6" cy="316.2"/><circle cx="290" cy="391"/><circle cx="272" cy="381.8"/><circle cx="307" cy="357.1"/><circle cx="248.3" cy="424.5"/><circle cx="231.6" cy="462.2"/><circle cx="199.1" cy="444.8"/><circle cx="212.3" cy="447.6"/><circle cx="277.4" cy="385.5"/><circle cx="146.3" cy="513.7"/><circle cx="193.4" cy="451.8"/><circle cx="218.2" cy="427.3"/><circle cx="162.3" cy="505"/><circle cx="312" cy="341.6"/><circle cx="262" cy="399.8"/><circle cx="242.2" cy="426"/><circle cx="316.9" cy="373.2"/><circle cx="261.3" cy="437.4"/><circle cx="308.9" cy="351.6"/><circle cx="242.8" cy="444"/><circle cx="217" cy="455.2"/><circle cx="261.9" cy="397.3"/><circle cx="215.4" cy="426"/><circle cx="255.4" cy="423.7"/><circle cx="226.1" cy="424.5"/><circle cx="271.1" cy="370.1"/><circle cx="271.2" cy="410.7"/><circle cx="250.1" cy="396.9"/><circle cx="391.4" cy="291.9"/><circle cx="248.4" cy="404.6"/><circle cx="145.8" cy="509"/><circle cx="228.8" cy="460.8"/><circle cx="224.1" cy="448.9"/><circle cx="318.9" cy="350.9"/><circle cx="286.1" cy="359.7"/><circle cx="249.5" cy="419.6"/><circle cx="272.6" cy="383.2"/><circle cx="238.6" cy="432"/><circle cx="151.7" cy="513.4"/><circle cx="168.4" cy="491.6"/><circle cx="269" cy="426.9"/><circle cx="211.6" cy="446.3"/><circle cx="240.1" cy="449.7"/><circle cx="270.4" cy="420.2"/><circle cx="225.5" cy="452"/><circle cx="315.1" cy="343.9"/><circle cx="201.6" cy="469.4"/><circle cx="250.5" cy="389.9"/><circle cx="243.9" cy="443.8"/><circle cx="167.3" cy="500.4"/><circle cx="304.8" cy="371"/><circle cx="234.4" cy="442.6"/><circle cx="249.2" cy="391.7"/><circle cx="254.6" cy="385.8"/><circle cx="282.1" cy="391.6"/><circle cx="346.5" cy="316.2"/><circle cx="335.4" cy="350"/><circle cx="174.6" cy="472.4"/><circle cx="265.7" cy="390.8"/><circle cx="311.1" cy="354.3"/><circle cx="252.1" cy="410.9"/><circle cx="327.7" cy="342.8"/><circle cx="333.8" cy="344"/><circle cx="165.4" cy="472.7"/><circle cx="324.6" cy="334.3"/><circle cx="297.7" cy="355.3"/><circle cx="253.5" cy="379.6"/><circle cx="267.9" cy="423"/><circle cx="283.3" cy="409.4"/><circle cx="255.2" cy="438.8"/><circle cx="220.8" cy="443.8"/><circle cx="190.5" cy="476.9"/><circle cx="273.7" cy="374.9"/><circle cx="243.4" cy="408"/><circle cx="332.6" cy="330.3"/><circle cx="160.9" cy="506.8"/><circle cx="341.3" cy="347.4"/><circle cx="263" cy="431.1"/><circle cx="203.7" cy="469.7"/><circle cx="298.7" cy="354.2"/><circle cx="180" cy="488.5"/><circle cx="253.6" cy="379.1"/><circle cx="232.9" cy="409"/><circle cx="235.5" cy="454.5"/><circle cx="248.8" cy="446.8"/><circle cx="238.5" cy="458.3"/><circle cx="245.7" cy="418.7"/><circle cx="292.3" cy="386"/><circle cx="244.4" cy="438.6"/><circle cx="263.9" cy="425.2"/><circle cx="236.4" cy="411"/><circle cx="184.3" cy="469.6"/><circle cx="184" cy="482.5"/><circle cx="182.2" cy="486.5"/><circle cx="251.6" cy="403.1"/><circle cx="254" cy="424.3"/><circle cx="294.5" cy="363.6"/><circle cx="248.5" cy="405.1"/><circle cx="301.1" cy="363.4"/><circle cx="238.1" cy="453.1"/><circle cx="256.9" cy="412.4"/><circle cx="178.6" cy="471"/><circle cx="272.4" cy="379.4"/><circle cx="227.2" cy="416.7"/><circle cx="283" cy="398"/><circle cx="219.5" cy="468.6"/><circle cx="156.6" cy="511.8"/><circle cx="253.9" cy="424.2"/><circle cx="235.7" cy="450.4"/><circle cx="152.4" cy="506.2"/><circle cx="341.9" cy="329.1"/><circle cx="208.8" cy="438.6"/><circle cx="278.2" cy="382.7"/><circle cx="145.7" cy="519.2"/><circle cx="276.6" cy="394.9"/><circle cx="254.7" cy="401.1"/><circle cx="290" cy="384.5"/><circle cx="235.4" cy="456.1"/><circle cx="317.4" cy="350.6"/><circle cx="316.5" cy="338"/><circle cx="150.2" cy="512.2"/><circle cx="235.1" cy="434"/><circle cx="222.9" cy="418.7"/><circle cx="348.1" cy="323.1"/><circle cx="188.3" cy="456.4"/><circle cx="273" cy="418.1"/><circle cx="161.3" cy="500.8"/><circle cx="245.9" cy="432.3"/><circle cx="256.3" cy="379.9"/><circle cx="232.6" cy="438.5"/><circle cx="252.7" cy="450.7"/><circle cx="334.9" cy="355.5"/><circle cx="176" cy="493.8"/><circle cx="201" cy="479.3"/><circle cx="297.2" cy="391.3"/><circle cx="285.1" cy="406.5"/><circle cx="189" cy="480.7"/><circle cx="264.5" cy="430.7"/><circle cx="182" cy="465.6"/><circle cx="195.8" cy="478.8"/><circle cx="288.6" cy="394.2"/><circle cx="235.8" cy="442.3"/><circle cx="242.8" cy="405.5"/><circle cx="178.1" cy="463.8"/><circle cx="267.4" cy="399.4"/><circle cx="247.8" cy="408.2"/><circle cx="268.6" cy="385.4"/><circle cx="159.6" cy="507.5"/><circle cx="155.1" cy="502.4"/><circle cx="230.7" cy="432"/><circle cx="224.9" cy="431.2"/><circle cx="268.7" cy="425.6"/><circle cx="240.7" cy="442.7"/><circle cx="265.8" cy="394.1"/><circle cx="200.7" cy="477.8"/><circle cx="294.3" cy="398.3"/><circle cx="154.4" cy="488.4"/><circle cx="169.8" cy="474.9"/><circle cx="300.8" cy="366.7"/><circle cx="211.7" cy="441.4"/><circle cx="370.8" cy="322.3"/><circle cx="216.1" cy="455.7"/><circle cx="241.3" cy="427.8"/><circle cx="226.8" cy="449.9"/><circle cx="249.4" cy="429.1"/><circle cx="272.2" cy="416.8"/><circle cx="186.6" cy="456.8"/><circle cx="237.9" cy="444.8"/><circle cx="317.5" cy="358.5"/><circle cx="202.2" cy="460.2"/><circle cx="269.9" cy="396.5"/><circle cx="272" cy="405.3"/><circle cx="191.7" cy="481.7"/><circle cx="279.6" cy="400"/><circle cx="279" cy="396.9"/><circle cx="242.4" cy="392.2"/><circle cx="314.1" cy="351.7"/><circle cx="262.6" cy="382.2"/><circle cx="244.7" cy="426.6"/><circle cx="182.8" cy="472.4"/><circle cx="270.6" cy="380.2"/><circle cx="197.6" cy="477.7"/><circle cx="333.5" cy="347.6"/><circle cx="219" cy="452.5"/><circle cx="279.9" cy="407"/><circle cx="247.4" cy="434.6"/><circle cx="259.6" cy="440.5"/><circle cx="319.3" cy="359.1"/><circle cx="254.5" cy="448.2"/><circle cx="345.2" cy="338.2"/><circle cx="304.3" cy="384.1"/><circle cx="156.3" cy="491.7"/><circle cx="262.1" cy="440.6"/><circle cx="358.5" cy="307.4"/><circle cx="177.5" cy="462.5"/><circle cx="226.1" cy="465"/><circle cx="172.2" cy="483.9"/><circle cx="257" cy="386.2"/><circle cx="142.8" cy="515.6"/><circle cx="307.8" cy="354.8"/><circle cx="184.3" cy="481.6"/><circle cx="143.1" cy="511.8"/><circle cx="299.7" cy="361.8"/><circle cx="264.6" cy="386.8"/><circle cx="249.9" cy="384.3"/><circle cx="150.9" cy="507.2"/><circle cx="327.5" cy="354.5"/><circle cx="279.1" cy="401.1"/><circle cx="143.6" cy="520.1"/><circle cx="188.6" cy="471.6"/><circle cx="298.5" cy="366.2"/><circle cx="206.9" cy="472.8"/><circle cx="169" cy="475"/><circle cx="260.7" cy="416.8"/><circle cx="293.7" cy="372"/><circle cx="178.6" cy="466.8"/><circle cx="196.2" cy="469"/><circle cx="148.8" cy="507.3"/><circle cx="292.8" cy="363.7"/><circle cx="200" cy="460.9"/><circle cx="258.7" cy="406.4"/><circle cx="332.4" cy="346.9"/><circle cx="272.4" cy="375.7"/><circle cx="226.3" cy="438.4"/><circle cx="293.4" cy="361.4"/><circle cx="277.6" cy="396.1"/><circle cx="364.5" cy="313"/><circle cx="237.8" cy="423.7"/><circle cx="289.7" cy="396.7"/><circle cx="290.4" cy="376.3"/><circle cx="288.3" cy="366.2"/><circle cx="239.3" cy="448.4"/><circle cx="229.8" cy="449.4"/><circle cx="263.5" cy="416.1"/><circle cx="144.5" cy="518.4"/><circle cx="300.3" cy="372"/><circle cx="240.3" cy="455.1"/><circle cx="250.6" cy="405.6"/><circle cx="252.4" cy="389"/><circle cx="239.8" cy="451.4"/><circle cx="160.3" cy="488.2"/><circle cx="254.2" cy="380.8"/><circle cx="178.3" cy="493.5"/><circle cx="228.2" cy="416.7"/><circle cx="289.7" cy="360.9"/><circle cx="308.4" cy="370.1"/><circle cx="192.8" cy="485.6"/><circle cx="335.7" cy="343.1"/><circle cx="270.6" cy="376.3"/><circle cx="223.9" cy="453.6"/><circle cx="155.4" cy="506"/><circle cx="177.6" cy="462.7"/><circle cx="207.8" cy="456.9"/><circle cx="176.9" cy="473.5"/><circle cx="279.9" cy="368.5"/><circle cx="150.2" cy="515.5"/><circle cx="171.4" cy="498.2"/><circle cx="239.8" cy="451.3"/><circle cx="319" cy="373.9"/><circle cx="220.9" cy="441.4"/><circle cx="238.2" cy="440.7"/><circle cx="283.2" cy="388.6"/><circle cx="204.8" cy="478.1"/><circle cx="264" cy="429.2"/><circle cx="235.7" cy="441.8"/><circle cx="330.9" cy="349.6"/><circle cx="213.2" cy="457.1"/><circle cx="284" cy="401.7"/><circle cx="316.9" cy="352.5"/><circle cx="228.2" cy="464.1"/><circle cx="198.3" cy="469.6"/><circle cx="269.3" cy="398.7"/><circle cx="243.7" cy="421.1"/><circle cx="169.4" cy="470.4"/><circle cx="262" cy="426"/><circle cx="257.8" cy="398.3"/><circle cx="256.9" cy="420.5"/><circle cx="277.2" cy="369.2"/><circle cx="151.9" cy="499"/><circle cx="194.5" cy="472.8"/><circle cx="189.6" cy="480.6"/><circle cx="193.4" cy="483.2"/><circle cx="177.1" cy="490.9"/><circle cx="294.9" cy="351.6"/><circle cx="267.2" cy="415.6"/><circle cx="164.3" cy="492.6"/><circle cx="160.8" cy="487.4"/><circle cx="290.4" cy="392.5"/><circle cx="337.3" cy="334.2"/><circle cx="275.4" cy="379.2"/><circle cx="168.1" cy="495.1"/><circle cx="212.8" cy="443.3"/><circle cx="324.5" cy="346.2"/><circle cx="190.7" cy="469.1"/><circle cx="253.7" cy="387.1"/><circle cx="285.8" cy="362.9"/><circle cx="187.2" cy="488.2"/><circle cx="242.7" cy="431.7"/><circle cx="181.4" cy="472.7"/><circle cx="217.6" cy="450.1"/><circle cx="291.9" cy="376.1"/><circle cx="189.7" cy="466"/><circle cx="169.1" cy="499.9"/><circle cx="186.3" cy="475.8"/><circle cx="295.9" cy="379.1"/><circle cx="319.1" cy="353.6"/><circle cx="256" cy="405.2"/><circle cx="278.2" cy="406.5"/><circle cx="261.1" cy="381.3"/><circle cx="286" cy="374.4"/><circle cx="143.4" cy="519.1"/><circle cx="294.9" cy="393.4"/><circle cx="297.4" cy="349.5"/><circle cx="268.2" cy="385.7"/><circle cx="211.4" cy="453.9"/><circle cx="266.2" cy="428.8"/><circle cx="208.1" cy="466.6"/><circle cx="316.1" cy="374.2"/><circle cx="226.4" cy="426.2"/><circle cx="314" cy="357.2"/><circle cx="217.8" cy="445.9"/><circle cx="349.6" cy="333.6"/><circle cx="202.7" cy="457.1"/><circle cx="320.9" cy="357.4"/><circle cx="300" cy="380.5"/><circle cx="216" cy="458.5"/><circle cx="221.9" cy="462.6"/><circle cx="272.3" cy="373.2"/><circle cx="240.8" cy="405.3"/><circle cx="254.1" cy="424.8"/><circle cx="204.3" cy="474.9"/><circle cx="254.3" cy="394.4"/><circle cx="260.9" cy="376.5"/><circle cx="161.2" cy="502.4"/><circle cx="160" cy="498.2"/><circle cx="251.3" cy="442.7"/><circle cx="171.9" cy="465.7"/><circle cx="255.2" cy="393.8"/><circle cx="334.2" cy="360.3"/><circle cx="244.2" cy="427.3"/><circle cx="158.2" cy="499.8"/><circle cx="230.7" cy="451"/><circle cx="175" cy="465.3"/><circle cx="254.5" cy="377.9"/><circle cx="285.3" cy="403"/><circle cx="326.2" cy="343.4"/><circle cx="278.1" cy="398.4"/><circle cx="247.7" cy="418.2"/><circle cx="327.7" cy="333.9"/><circle cx="186.2" cy="466.6"/><circle cx="244.5" cy="437.4"/><circle cx="177.3" cy="474.9"/><circle cx="165" cy="505.2"/><circle cx="335.8" cy="356.8"/><circle cx="174.3" cy="496.2"/><circle cx="293.4" cy="383.2"/><circle cx="172.5" cy="468.3"/><circle cx="183.9" cy="468.2"/><circle cx="245.5" cy="429.9"/><circle cx="249.5" cy="406.8"/><circle cx="165.6" cy="490.9"/><circle cx="291.9" cy="365.2"/><circle cx="222.7" cy="468.6"/><circle cx="266.7" cy="433"/><circle cx="324.4" cy="352"/><circle cx="250.9" cy="402.2"/><circle cx="298.2" cy="382.3"/><circle cx="309" cy="375.4"/><circle cx="235" cy="461.1"/><circle cx="206.1" cy="441"/><circle cx="253.5" cy="406.2"/><circle cx="276" cy="411.7"/><circle cx="334.6" cy="354"/><circle cx="170.1" cy="479.9"/><circle cx="162.1" cy="485.9"/><circle cx="351.9" cy="329"/><circle cx="201.8" cy="445.4"/><circle cx="226.1" cy="418.2"/><circle cx="280" cy="384.9"/><circle cx="218.6" cy="465.9"/><circle cx="170.6" cy="499.7"/><circle cx="181.3" cy="465.3"/><circle cx="162.7" cy="474.8"/><circle cx="217" cy="468.7"/><circle cx="211.8" cy="463"/><circle cx="152.9" cy="490.5"/><circle cx="198.1" cy="477.6"/><circle cx="245.6" cy="447.7"/><circle cx="261.5" cy="414.6"/><circle cx="263.3" cy="422.5"/><circle cx="312" cy="377.6"/><circle cx="202.9" cy="461.8"/><circle cx="251.1" cy="387.7"/><circle cx="258.9" cy="400"/><circle cx="226.3" cy="447.8"/><circle cx="256.6" cy="421.5"/><circle cx="231.6" cy="428.5"/><circle cx="285.3" cy="378.3"/><circle cx="188" cy="460.1"/><circle cx="182.3" cy="458.7"/><circle cx="213.4" cy="464"/><circle cx="266.9" cy="416.5"/><circle cx="169.6" cy="493.6"/><circle cx="235.9" cy="409.1"/><circle cx="226.5" cy="424.8"/><circle cx="165.7" cy="477.1"/><circle cx="285.8" cy="364.7"/><circle cx="266.3" cy="417.8"/><circle cx="325.8" cy="356"/><circle cx="223.9" cy="462.5"/><circle cx="203.4" cy="444.4"/><circle cx="243.9" cy="448.5"/><circle cx="262.7" cy="405.2"/><circle cx="266.8" cy="407.8"/><circle cx="303.4" cy="374.4"/><circle cx="260.6" cy="411.7"/><circle cx="270.2" cy="428.4"/><circle cx="237.5" cy="448.7"/><circle cx="322.5" cy="369.8"/><circle cx="234.3" cy="424.2"/><circle cx="153.8" cy="511.2"/><circle cx="179.4" cy="464.8"/><circle cx="289.1" cy="401.9"/><circle cx="270.1" cy="386.5"/><circle cx="299.1" cy="361.8"/><circle cx="280.7" cy="377.2"/><circle cx="295.2" cy="378.2"/><circle cx="245.3" cy="396.6"/><circle cx="274.7" cy="405.7"/><circle cx="262.7" cy="428.8"/><circle cx="169" cy="497.9"/><circle cx="229.1" cy="462.6"/><circle cx="231" cy="423.7"/><circle cx="197.8" cy="456.4"/><circle cx="266.3" cy="423.6"/><circle cx="235.1" cy="461"/><circle cx="149.3" cy="500.7"/><circle cx="199.7" cy="476.2"/><circle cx="365" cy="313.3"/><circle cx="234" cy="457.4"/><circle cx="142.8" cy="516.4"/><circle cx="167.9" cy="490"/><circle cx="295.4" cy="370.9"/><circle cx="256.5" cy="383.3"/><circle cx="283.7" cy="362.1"/><circle cx="329" cy="340.3"/><circle cx="282.3" cy="404.3"/><circle cx="244.5" cy="449.8"/><circle cx="234.1" cy="414.7"/><circle cx="217.2" cy="431.8"/><circle cx="254.1" cy="384.7"/><circle cx="212.2" cy="442"/><circle cx="275.1" cy="407"/><circle cx="159.2" cy="501"/><circle cx="294.3" cy="358.3"/><circle cx="278.5" cy="383.4"/><circle cx="296.9" cy="382.2"/><circle cx="312.5" cy="347.3"/><circle cx="206.4" cy="450.8"/><circle cx="296.2" cy="384"/><circle cx="264.7" cy="406.1"/><circle cx="219.1" cy="453.2"/><circle cx="210.7" cy="437.2"/><circle cx="214.1" cy="426"/><circle cx="319.9" cy="337.7"/><circle cx="180.9" cy="478.8"/><circle cx="251.2" cy="438.2"/><circle cx="343" cy="332.6"/><circle cx="209.7" cy="456.9"/><circle cx="194.6" cy="481.5"/><circle cx="304.4" cy="350.4"/><circle cx="243.1" cy="450.1"/><circle cx="211.6" cy="453.9"/><circle cx="219.7" cy="466.2"/><circle cx="149.1" cy="507.7"/><circle cx="231" cy="442.1"/><circle cx="277.1" cy="394.6"/><circle cx="222.9" cy="456.2"/><circle cx="322.4" cy="334.6"/><circle cx="210.6" cy="446.9"/><circle cx="207.5" cy="448.6"/><circle cx="229.5" cy="435"/><circle cx="181.2" cy="478"/><circle cx="213.8" cy="451.6"/><circle cx="195.9" cy="477.9"/><circle cx="257.2" cy="431.7"/><circle cx="210.9" cy="472.3"/><circle cx="248.5" cy="391.2"/><circle cx="281.6" cy="401.8"/><circle cx="187.8" cy="462"/><circle cx="286.5" cy="391.9"/><circle cx="212.3" cy="465.2"/><circle cx="250.9" cy="433.3"/><circle cx="196.4" cy="467.7"/><circle cx="178.7" cy="492.3"/><circle cx="192.6" cy="482.3"/><circle cx="250.9" cy="442.6"/><circle cx="397.4" cy="291.6"/><circle cx="201.6" cy="458"/><circle cx="274.5" cy="391.8"/><circle cx="274.4" cy="373.5"/><circle cx="265.3" cy="392.2"/><circle cx="332.3" cy="330.8"/><circle cx="226.4" cy="437.4"/><circle cx="168.3" cy="470.7"/><circle cx="259.8" cy="413.9"/><circle cx="290.3" cy="374.1"/><circle cx="250.8" cy="422.5"/><circle cx="264.6" cy="436"/><circle cx="245.2" cy="429.8"/><circle cx="170" cy="499.7"/><circle cx="252.7" cy="443.5"/><circle cx="179.1" cy="487.5"/><circle cx="276.2" cy="371.4"/><circle cx="198" cy="471.2"/><circle cx="255.4" cy="383.8"/><circle cx="371.8" cy="315.5"/><circle cx="267.2" cy="410.5"/><circle cx="227.8" cy="436.2"/><circle cx="286.4" cy="369.7"/><circle cx="216.4" cy="428.6"/><circle cx="144.8" cy="510"/><circle cx="167.1" cy="500.5"/><circle cx="309.6" cy="379.1"/><circle cx="278.7" cy="406.8"/><circle cx="284.6" cy="394.9"/><circle cx="312.4" cy="341"/><circle cx="299.8" cy="389"/><circle cx="207.6" cy="439.1"/><circle cx="274.3" cy="422.8"/><circle cx="268.9" cy="411.8"/><circle cx="216.9" cy="433.9"/><circle cx="211.1" cy="476.4"/><circle cx="297.5" cy="382.3"/><circle cx="246.5" cy="440.7"/><circle cx="286" cy="384.1"/><circle cx="215.8" cy="467.9"/><circle cx="261.2" cy="407.8"/><circle cx="281.5" cy="407.2"/><circle cx="229.9" cy="440.1"/><circle cx="334.2" cy="325.9"/><circle cx="237.4" cy="420.8"/><circle cx="222.9" cy="452.9"/><circle cx="239.2" cy="412"/><circle cx="281.5" cy="378.7"/><circle cx="237.7" cy="404.9"/><circle cx="196.7" cy="466.5"/><circle cx="212.2" cy="451.9"/><circle cx="299" cy="372"/><circle cx="255" cy="430.1"/><circle cx="264.3" cy="414.6"/><circle cx="180" cy="472.8"/><circle cx="272.1" cy="421.4"/><circle cx="160.1" cy="482.4"/><circle cx="270.6" cy="369.9"/><circle cx="261.5" cy="386.6"/><circle cx="269.7" cy="422.4"/><circle cx="282.4" cy="365.8"/><circle cx="267.4" cy="425.9"/><circle cx="230.5" cy="451.7"/><circle cx="276.9" cy="416"/><circle cx="277.8" cy="394.1"/><circle cx="213.2" cy="453.9"/><circle cx="353.6" cy="339.5"/><circle cx="388.2" cy="300.2"/><circle cx="154.6" cy="496.9"/><circle cx="298.3" cy="359.2"/><circle cx="230.5" cy="415.2"/><circle cx="251.9" cy="381.8"/><circle cx="240.8" cy="436.3"/><circle cx="227.3" cy="441.7"/><circle cx="228.3" cy="442.8"/><circle cx="156.5" cy="486.8"/><circle cx="255.1" cy="439.6"/><circle cx="210" cy="472.7"/><circle cx="203.8" cy="449.7"/><circle cx="317.2" cy="354.6"/><circle cx="198.7" cy="457.9"/><circle cx="393.3" cy="297.7"/><circle cx="232.3" cy="437.9"/><circle cx="255.7" cy="425.2"/><circle cx="307.6" cy="347.8"/><circle cx="237.4" cy="407.9"/><circle cx="286.6" cy="394.1"/><circle cx="331.9" cy="328.3"/><circle cx="160.7" cy="495.2"/><circle cx="275.3" cy="400.3"/><circle cx="196.3" cy="453.2"/><circle cx="247.8" cy="434.7"/><circle cx="213.7" cy="454.8"/><circle cx="273.9" cy="401.2"/><circle cx="331.4" cy="343.9"/><circle cx="157.7" cy="496.1"/><circle cx="263.8" cy="375.9"/><circle cx="276.3" cy="409.4"/><circle cx="283.3" cy="397.3"/><circle cx="179.4" cy="470.3"/><circle cx="158.2" cy="482.9"/><circle cx="159.6" cy="507.2"/><circle cx="231.3" cy="411.8"/><circle cx="272.5" cy="415.1"/><circle cx="246.4" cy="415"/><circle cx="268.4" cy="376.8"/><circle cx="188.5" cy="487.8"/><circle cx="300.8" cy="371.2"/><circle cx="144.9" cy="509.1"/><circle cx="381.8" cy="317.3"/><circle cx="298.3" cy="383.6"/><circle cx="181.8" cy="474.4"/><circle cx="197.5" cy="469.5"/><circle cx="264.9" cy="408.3"/><circle cx="162.2" cy="479.2"/><circle cx="161.8" cy="476.9"/><circle cx="160.2" cy="501.4"/><circle cx="170.6" cy="496.3"/><circle cx="255.1" cy="391.7"/><circle cx="241.5" cy="415.8"/><circle cx="271.9" cy="377.9"/><circle cx="296.1" cy="351.2"/><circle cx="273.6" cy="371.1"/><circle cx="262.4" cy="418.5"/><circle cx="249" cy="434.4"/><circle cx="257.2" cy="401"/><circle cx="171.4" cy="486.4"/><circle cx="265.1" cy="429.2"/><circle cx="191.9" cy="472.1"/><circle cx="230.3" cy="408.5"/><circle cx="236.2" cy="438.2"/><circle cx="242.6" cy="400.3"/><circle cx="314.4" cy="345.1"/><circle cx="181.7" cy="462.8"/><circle cx="319.6" cy="365.1"/><circle cx="168.7" cy="498.6"/><circle cx="284" cy="401.9"/><circle cx="195.5" cy="449"/><circle cx="227" cy="417.7"/><circle cx="191.2" cy="464.6"/><circle cx="274.4" cy="391.2"/><circle cx="221.5" cy="447"/><circle cx="388.3" cy="289.6"/><circle cx="164.6" cy="488"/><circle cx="258.4" cy="424.8"/><circle cx="272.1" cy="415.6"/><circle cx="236.3" cy="449.9"/><circle cx="190.6" cy="452.8"/><circle cx="264.7" cy="399"/><circle cx="218.5" cy="467.6"/><circle cx="166.8" cy="487.3"/><circle cx="179.4" cy="465.8"/><circle cx="169.4" cy="499.2"/><circle cx="186.1" cy="487"/><circle cx="291.9" cy="396.1"/><circle cx="242.7" cy="402.3"/><circle cx="184.3" cy="459"/><circle cx="343.7" cy="348.5"/><circle cx="293.1" cy="358.2"/><circle cx="338.3" cy="353.6"/><circle cx="271.2" cy="409"/><circle cx="338.7" cy="326.8"/><circle cx="302.2" cy="350.8"/><circle cx="328.2" cy="359.4"/><circle cx="303" cy="356.8"/><circle cx="252.5" cy="420.8"/><circle cx="292.1" cy="379.9"/><circle cx="218.9" cy="428.7"/><circle cx="290.4" cy="397.7"/><circle cx="200" cy="460.6"/><circle cx="278" cy="388.9"/><circle cx="261" cy="428.6"/><circle cx="267.6" cy="424.6"/><circle cx="270.3" cy="385.3"/><circle cx="250.8" cy="407.3"/><circle cx="245.5" cy="407.5"/><circle cx="171.6" cy="500.2"/><circle cx="227.6" cy="420.2"/><circle cx="178.1" cy="494.2"/><circle cx="189.1" cy="474"/><circle cx="248.1" cy="440.3"/><circle cx="149" cy="505.3"/><circle cx="169" cy="501.2"/><circle cx="256" cy="382.6"/><circle cx="183.4" cy="479.6"/><circle cx="227.4" cy="434.9"/><circle cx="243.8" cy="438.7"/><circle cx="321.7" cy="345.2"/><circle cx="301.8" cy="375.4"/><circle cx="202.3" cy="460.1"/><circle cx="253.6" cy="442.8"/><circle cx="245" cy="452.7"/><circle cx="221.5" cy="423.1"/><circle cx="183.2" cy="485.6"/><circle cx="309.6" cy="345.7"/><circle cx="262.2" cy="433.7"/><circle cx="252.8" cy="412.7"/><circle cx="316.4" cy="355.4"/><circle cx="240.5" cy="434.9"/><circle cx="186.7" cy="458.2"/><circle cx="148.4" cy="501"/><circle cx="157.2" cy="484.1"/><circle cx="254" cy="438.1"/><circle cx="361.8" cy="322.1"/><circle cx="287.1" cy="398.4"/><circle cx="148.4" cy="506.6"/><circle cx="204" cy="464.8"/><circle cx="295.5" cy="387.1"/><circle cx="242.8" cy="406.6"/><circle cx="260.3" cy="413"/><circle cx="160.6" cy="488.1"/><circle cx="248.2" cy="393.8"/><circle cx="193.1" cy="463.7"/><circle cx="294.7" cy="355.9"/><circle cx="224.7" cy="418.9"/><circle cx="223.1" cy="425.3"/><circle cx="242.7" cy="399.9"/><circle cx="294.5" cy="368.1"/><circle cx="197.5" cy="460.6"/><circle cx="209.9" cy="471.8"/><circle cx="185.3" cy="464"/><circle cx="232.3" cy="444.4"/><circle cx="286.8" cy="382.7"/><circle cx="238.3" cy="427.8"/><circle cx="298.4" cy="356.3"/><circle cx="338.2" cy="333.1"/><circle cx="195.7" cy="469.8"/><circle cx="177.4" cy="495.8"/><circle cx="182.6" cy="482.9"/><circle cx="199" cy="463.7"/><circle cx="291.8" cy="383.2"/><circle cx="222.9" cy="450.7"/><circle cx="265.4" cy="398.5"/><circle cx="220.6" cy="439.9"/><circle cx="358.9" cy="314.7"/><circle cx="194.4" cy="475.5"/><circle cx="307.6" cy="356.4"/><circle cx="273.8" cy="402.1"/><circle cx="223.5" cy="463.6"/><circle cx="317.2" cy="350.6"/><circle cx="252.1" cy="387"/><circle cx="272.9" cy="376.3"/><circle cx="182.8" cy="462.7"/><circle cx="326.6" cy="332.7"/><circle cx="360.3" cy="308.3"/><circle cx="282.5" cy="389.5"/><circle cx="287.9" cy="380.5"/><circle cx="289.4" cy="357.1"/><circle cx="278.3" cy="382.2"/><circle cx="272.8" cy="404.7"/><circle cx="244.8" cy="394.4"/><circle cx="228.2" cy="435.4"/><circle cx="245.9" cy="395.5"/><circle cx="360.4" cy="311.7"/><circle cx="309" cy="367.7"/><circle cx="205.7" cy="445.4"/><circle cx="225.6" cy="436.2"/><circle cx="246.1" cy="395"/><circle cx="196.6" cy="449.3"/><circle cx="222.9" cy="435.5"/><circle cx="195.7" cy="475.6"/><circle cx="188.7" cy="459"/><circle cx="244.5" cy="431"/><circle cx="164.9" cy="475.7"/><circle cx="201.6" cy="455.7"/><circle cx="323.1" cy="360.9"/><circle cx="150.1" cy="504.6"/><circle cx="150.9" cy="506.1"/><circle cx="213.1" cy="440.4"/><circle cx="286.5" cy="371.5"/><circle cx="256" cy="432.6"/><circle cx="295.2" cy="355.5"/><circle cx="282.1" cy="389.1"/><circle cx="205" cy="439"/><circle cx="255.7" cy="442"/><circle cx="303.5" cy="363.2"/><circle cx="330.9" cy="326"/><circle cx="293.9" cy="383.2"/><circle cx="220.6" cy="467.9"/><circle cx="169.9" cy="499"/><circle cx="231.3" cy="458.6"/><circle cx="259.5" cy="429.4"/><circle cx="268" cy="388.4"/><circle cx="330.4" cy="330.4"/><circle cx="234.7" cy="408.5"/><circle cx="250.6" cy="387.6"/><circle cx="249.3" cy="402.9"/><circle cx="242.1" cy="451.2"/><circle cx="251.2" cy="429.6"/><circle cx="204.7" cy="441.5"/><circle cx="167" cy="485.1"/><circle cx="216.7" cy="469.3"/><circle cx="159.5" cy="478.5"/><circle cx="346" cy="342"/><circle cx="237" cy="456"/><circle cx="324.3" cy="359.4"/><circle cx="308.1" cy="374.2"/><circle cx="281.4" cy="366.7"/><circle cx="318.3" cy="375.5"/><circle cx="323.1" cy="357.8"/><circle cx="150.3" cy="509.3"/><circle cx="332.5" cy="348.4"/><circle cx="225.1" cy="419"/><circle cx="261.6" cy="412.4"/><circle cx="258.5" cy="432.9"/><circle cx="213.7" cy="448.9"/><circle cx="267.1" cy="428.4"/><circle cx="289.4" cy="361.3"/><circle cx="258.2" cy="391.5"/><circle cx="247.8" cy="401.9"/><circle cx="344.2" cy="339.7"/><circle cx="234.8" cy="456.9"/><circle cx="263.8" cy="374.8"/><circle cx="344.9" cy="345"/><circle cx="229.2" cy="459.6"/><circle cx="263.9" cy="378.1"/><circle cx="326.6" cy="332"/><circle cx="356.6" cy="328"/><circle cx="265.3" cy="425.2"/><circle cx="217.8" cy="427.6"/><circle cx="246.7" cy="415.2"/><circle cx="208.1" cy="455.8"/><circle cx="234.3" cy="414.5"/><circle cx="302.4" cy="383.1"/><circle cx="252.9" cy="436.4"/><circle cx="147.5" cy="502.4"/><circle cx="226" cy="459.3"/><circle cx="208.1" cy="471.2"/><circle cx="246.6" cy="439.1"/><circle cx="151.5" cy="498.7"/><circle cx="294.9" cy="370.1"/><circle cx="235" cy="411.3"/><circle cx="260.9" cy="382.1"/><circle cx="267.1" cy="383"/><circle cx="338.2" cy="343.4"/><circle cx="264.8" cy="424.1"/><circle cx="273.7" cy="371.3"/><circle cx="309.7" cy="372.3"/><circle cx="217.4" cy="463.3"/><circle cx="258.9" cy="439.4"/><circle cx="234.3" cy="422.8"/><circle cx="301.3" cy="352.4"/><circle cx="258.8" cy="437.8"/><circle cx="298.3" cy="392"/><circle cx="288.2" cy="360.8"/><circle cx="308.6" cy="381.4"/><circle cx="332.9" cy="361"/><circle cx="156.2" cy="509.6"/><circle cx="298.6" cy="379.6"/><circle cx="189.1" cy="463.9"/><circle cx="225" cy="448.4"/><circle cx="208.4" cy="434.4"/><circle cx="250.9" cy="422.2"/><circle cx="208.8" cy="460"/><circle cx="332.9" cy="345.6"/><circle cx="258" cy="393.9"/><circle cx="255.1" cy="432.4"/><circle cx="268.3" cy="375.6"/><circle cx="180.5" cy="473.3"/><circle cx="254.3" cy="402.8"/><circle cx="253.5" cy="409.4"/><circle cx="342.6" cy="321.9"/><circle cx="193.1" cy="451.9"/><circle cx="207.3" cy="466.7"/><circle cx="259.3" cy="437.1"/><circle cx="261.9" cy="403.8"/><circle cx="305.5" cy="345.8"/><circle cx="163.4" cy="475.6"/><circle cx="281.7" cy="402.2"/><circle cx="203.7" cy="476.2"/><circle cx="243.4" cy="436.1"/><circle cx="196.6" cy="484.6"/><circle cx="354.5" cy="325.7"/><circle cx="169.7" cy="468"/><circle cx="269.7" cy="391.6"/><circle cx="288.7" cy="355.7"/><circle cx="282.5" cy="371.8"/><circle cx="218.8" cy="460"/><circle cx="240.7" cy="408.7"/><circle cx="199.7" cy="465.8"/><circle cx="313.9" cy="376.4"/><circle cx="215" cy="468.1"/><circle cx="340.6" cy="319.3"/><circle cx="204.3" cy="474.4"/><circle cx="315.2" cy="348.7"/><circle cx="336.1" cy="333.5"/><circle cx="243.7" cy="441.6"/><circle cx="215.1" cy="433.1"/><circle cx="251.1" cy="409.6"/><circle cx="338.1" cy="333.8"/><circle cx="251.6" cy="439.1"/><circle cx="250.2" cy="418.1"/><circle cx="223.3" cy="463"/><circle cx="186.5" cy="468.5"/><circle cx="247.7" cy="407.3"/><circle cx="335.6" cy="353.6"/><circle cx="291.9" cy="389.9"/><circle cx="194.5" cy="483.9"/><circle cx="253.5" cy="399.1"/><circle cx="334.9" cy="351.5"/><circle cx="241.6" cy="440.4"/><circle cx="173.8" cy="476.3"/><circle cx="240.6" cy="402.9"/><circle cx="228.9" cy="420.4"/><circle cx="281.5" cy="370.7"/><circle cx="190.9" cy="457.4"/><circle cx="357.2" cy="308.8"/><circle cx="217.6" cy="457.1"/><circle cx="244.8" cy="448.5"/><circle cx="205.6" cy="460.2"/><circle cx="384.3" cy="298.6"/><circle cx="275.9" cy="415.5"/><circle cx="271" cy="423.3"/><circle cx="320.9" cy="367.9"/><circle cx="155.4" cy="506.4"/><circle cx="180.2" cy="469.4"/><circle cx="224.8" cy="447.6"/><circle cx="159.9" cy="499.7"/><circle cx="255" cy="448.6"/><circle cx="281.2" cy="382.7"/><circle cx="263.7" cy="435.6"/><circle cx="289.4" cy="399.2"/><circle cx="216.7" cy="426.7"/><circle cx="219.4" cy="426.3"/><circle cx="223.3" cy="435.5"/><circle cx="294" cy="379.4"/><circle cx="260.4" cy="435.9"/><circle cx="187.5" cy="467.4"/><circle cx="372.5" cy="290.8"/><circle cx="396.6" cy="301.9"/><circle cx="394.2" cy="310.1"/><circle cx="379.8" cy="314.9"/><circle cx="370.1" cy="307.6"/></g>
</g>
<path d="M117.5 541L648 55" stroke="#000" stroke-width="3.3" clip-path="url(#cp0)"/>
<rect x="117.5" y="55" width="530.5" height="486" fill="none" stroke="#262626" stroke-width="2.4"/>
<path d="M117.2 53.8V541.3H649.2" fill="none" stroke="#000" stroke-width="2.7"/>
<path d="M140.8 542v9.5M271.6 542v9.5M402.3 542v9.5M533.1 542v9.5M116.5 519.2h-9.5M116.5 399.3h-9.5M116.5 279.5h-9.5M116.5 159.6h-9.5" stroke="#000" stroke-width="2" fill="none"/>
<text class="tk" transform="translate(140.8 587) scale(.925 1)" text-anchor="middle">0</text>
<text class="tk" transform="translate(271.6 587) scale(.925 1)" text-anchor="middle">30</text>
<text class="tk" transform="translate(402.3 587) scale(.925 1)" text-anchor="middle">60</text>
<text class="tk" transform="translate(533.1 587) scale(.925 1)" text-anchor="middle">90</text>
<text class="tk" transform="translate(91.5 529.4) scale(.925 1)" text-anchor="end">0</text>
<text class="tk" transform="translate(91.5 409.5) scale(.925 1)" text-anchor="end">30</text>
<text class="tk" transform="translate(91.5 289.7) scale(.925 1)" text-anchor="end">60</text>
<text class="tk" transform="translate(91.5 169.8) scale(.925 1)" text-anchor="end">90</text>
<text class="tt" transform="translate(383.2 40.7) scale(.968 1)" text-anchor="middle">IMERGv06B</text>
<clipPath id="cp1"><rect x="737" y="55" width="530" height="486"/></clipPath>
<g><path d="M820.5 58V538M941.4 58V538M1062.2 58V538M1183.2 58V538M740 464H1264M740 353.2H1264M740 242.4H1264M740 131.6H1264" stroke="#ededed" stroke-width="1.6" fill="none"/><path d="M760 58V538M880.9 58V538M1001.8 58V538M1122.7 58V538M1243.6 58V538M740 519.4H1264M740 408.6H1264M740 297.8H1264M740 187H1264M740 76.2H1264" stroke="#ebebeb" stroke-width="3.2" fill="none"/></g>
<g class="pt" clip-path="url(#cp1)">
<g class="nn"><circle cx="783.5" cy="470.7"/><circle cx="784" cy="504"/><circle cx="803" cy="439.4"/><circle cx="792.9" cy="465.9"/><circle cx="791.1" cy="472.5"/><circle cx="814.9" cy="430"/><circle cx="766.4" cy="502.6"/><circle cx="818.8" cy="423.5"/><circle cx="801.9" cy="446.1"/><circle cx="791.3" cy="473.4"/><circle cx="790.3" cy="469.5"/><circle cx="768.6" cy="516.4"/><circle cx="824.8" cy="432.3"/><circle cx="802" cy="456"/><circle cx="800.8" cy="457.9"/><circle cx="825.3" cy="428.3"/><circle cx="824.9" cy="411.6"/><circle cx="814.6" cy="474.5"/><circle cx="821.8" cy="475"/><circle cx="782.3" cy="506.7"/><circle cx="797.3" cy="487.8"/><circle cx="771.3" cy="491.6"/><circle cx="787.6" cy="460.2"/><circle cx="819.1" cy="425.9"/><circle cx="772.2" cy="493.7"/><circle cx="773.6" cy="491.1"/><circle cx="821.6" cy="426.2"/><circle cx="809.8" cy="444.5"/><circle cx="804.3" cy="486.8"/><circle cx="791.8" cy="453.3"/><circle cx="807.2" cy="435.9"/><circle cx="770.9" cy="490.1"/><circle cx="841.9" cy="422"/><circle cx="807.4" cy="479.6"/><circle cx="772.8" cy="491.2"/><circle cx="815.4" cy="450.5"/><circle cx="765.9" cy="507.7"/><circle cx="840.6" cy="416.2"/><circle cx="808.6" cy="432"/><circle cx="821.2" cy="422.6"/><circle cx="793.4" cy="470.4"/><circle cx="800.4" cy="447.2"/><circle cx="798.4" cy="457.9"/><circle cx="846.6" cy="400.4"/><circle cx="826.5" cy="466.2"/><circle cx="832.5" cy="465.1"/><circle cx="813.1" cy="449"/><circle cx="832" cy="465.5"/><circle cx="775.9" cy="509.1"/><circle cx="828.3" cy="428.2"/><circle cx="819.1" cy="470.6"/><circle cx="801.3" cy="440.9"/><circle cx="772.5" cy="510.4"/><circle cx="799.7" cy="472.5"/><circle cx="831.3" cy="407"/><circle cx="814.3" cy="437.7"/><circle cx="831.5" cy="433.5"/><circle cx="804.8" cy="467.1"/><circle cx="807.2" cy="480.4"/><circle cx="786.1" cy="502.7"/><circle cx="816.4" cy="446.6"/><circle cx="834.9" cy="414.3"/><circle cx="835.4" cy="408.6"/><circle cx="824.6" cy="444.9"/><circle cx="768.5" cy="507.7"/><circle cx="772.6" cy="515.3"/><circle cx="796.4" cy="447.6"/><circle cx="777.3" cy="482.6"/><circle cx="811.1" cy="453.5"/><circle cx="809.7" cy="478.4"/><circle cx="808.6" cy="440.3"/><circle cx="823" cy="438.9"/><circle cx="765.9" cy="502.4"/><circle cx="817.1" cy="452.2"/><circle cx="781.9" cy="503.4"/><circle cx="799.9" cy="486.3"/><circle cx="800.2" cy="460.8"/><circle cx="801" cy="445.5"/><circle cx="837.6" cy="422.7"/><circle cx="819.1" cy="436.6"/><circle cx="802" cy="488.3"/><circle cx="786.8" cy="485.4"/><circle cx="825.2" cy="423.2"/><circle cx="796.7" cy="488.1"/><circle cx="795.1" cy="473"/><circle cx="836.6" cy="421.8"/><circle cx="805.6" cy="482.6"/><circle cx="815.8" cy="431.6"/><circle cx="839.3" cy="415.6"/><circle cx="811.8" cy="447.6"/><circle cx="802.1" cy="453.5"/><circle cx="839.6" cy="403.2"/><circle cx="822.5" cy="444.5"/><circle cx="838.7" cy="405.8"/><circle cx="829.1" cy="420.6"/><circle cx="827.8" cy="418.3"/><circle cx="832" cy="412.2"/><circle cx="819.9" cy="422"/><circle cx="821.1" cy="440.3"/><circle cx="813.4" cy="427.8"/><circle cx="829.2" cy="417"/><circle cx="781.7" cy="501.2"/><circle cx="813.4" cy="435.6"/><circle cx="777.6" cy="505.5"/><circle cx="791.9" cy="459.7"/><circle cx="783.7" cy="473.8"/><circle cx="847.9" cy="392.6"/><circle cx="794.4" cy="452.5"/><circle cx="785.2" cy="500"/><circle cx="795.7" cy="475.3"/><circle cx="799.8" cy="446"/><circle cx="818.4" cy="427.4"/><circle cx="759" cy="523.6"/><circle cx="767.7" cy="518.2"/><circle cx="777.6" cy="486.8"/><circle cx="818" cy="428.2"/><circle cx="776.5" cy="485.2"/><circle cx="827.6" cy="424"/><circle cx="804.2" cy="447.3"/><circle cx="806.4" cy="458.5"/><circle cx="816.4" cy="435.4"/><circle cx="781.9" cy="470.4"/><circle cx="774.8" cy="498.9"/><circle cx="799.2" cy="442.9"/><circle cx="806" cy="487.3"/><circle cx="786.6" cy="483.7"/><circle cx="840.3" cy="454.8"/><circle cx="781.6" cy="474.6"/><circle cx="804.7" cy="438.7"/><circle cx="766.8" cy="509.4"/><circle cx="831" cy="410.2"/><circle cx="786.9" cy="465.2"/><circle cx="818.1" cy="473"/><circle cx="831.4" cy="410.8"/><circle cx="768.6" cy="514.6"/><circle cx="801.8" cy="491"/><circle cx="818.1" cy="443.7"/><circle cx="796.1" cy="454.2"/><circle cx="827.8" cy="423"/><circle cx="828.4" cy="422.8"/><circle cx="783.6" cy="475.2"/><circle cx="810.7" cy="435.2"/><circle cx="795.1" cy="456.5"/><circle cx="791.7" cy="455.9"/><circle cx="821.1" cy="471.8"/><circle cx="831.7" cy="411.1"/><circle cx="810.4" cy="459.6"/><circle cx="809.2" cy="434.7"/><circle cx="826.1" cy="424.4"/><circle cx="787" cy="463.1"/><circle cx="829.6" cy="416.6"/><circle cx="781.9" cy="480.5"/><circle cx="794.2" cy="491.3"/><circle cx="781" cy="493.3"/><circle cx="806.7" cy="433.5"/><circle cx="805.6" cy="450.8"/><circle cx="783.7" cy="472.2"/><circle cx="818.8" cy="477"/><circle cx="814.8" cy="479.8"/><circle cx="808.8" cy="444.6"/><circle cx="768.2" cy="500.1"/><circle cx="826.8" cy="430.6"/><circle cx="838.2" cy="398.1"/><circle cx="762.1" cy="516.9"/><circle cx="805.7" cy="484.9"/><circle cx="799" cy="490.1"/><circle cx="788.6" cy="497.4"/><circle cx="831.8" cy="413.1"/><circle cx="836.9" cy="401.4"/><circle cx="831.6" cy="410.7"/><circle cx="839.9" cy="458.4"/><circle cx="813.5" cy="449.9"/><circle cx="761.1" cy="513.1"/><circle cx="788.4" cy="501.9"/><circle cx="819.1" cy="426.2"/><circle cx="841.6" cy="400.7"/><circle cx="808.4" cy="439.7"/><circle cx="821.6" cy="447"/><circle cx="764.3" cy="517"/><circle cx="827.4" cy="435.7"/><circle cx="792.7" cy="476.5"/><circle cx="785" cy="478.2"/><circle cx="794.3" cy="479.3"/><circle cx="761.6" cy="519.6"/><circle cx="766.7" cy="505.9"/><circle cx="794" cy="454.8"/><circle cx="795.8" cy="489.3"/><circle cx="832.2" cy="465.1"/><circle cx="788.7" cy="499.9"/><circle cx="760.2" cy="516.9"/><circle cx="813.2" cy="432.1"/><circle cx="825.7" cy="432"/><circle cx="815.8" cy="448.7"/><circle cx="847.1" cy="395.5"/><circle cx="781.8" cy="492.1"/><circle cx="785.2" cy="503"/><circle cx="841" cy="401.7"/><circle cx="795.3" cy="455.6"/><circle cx="780.1" cy="506.5"/><circle cx="804.2" cy="482.6"/><circle cx="836.8" cy="410.4"/><circle cx="778.4" cy="477.7"/><circle cx="811.5" cy="483.3"/><circle cx="801.7" cy="455.1"/><circle cx="846.3" cy="398.3"/><circle cx="829.8" cy="421.4"/><circle cx="784.8" cy="477.5"/><circle cx="845.5" cy="409.2"/><circle cx="799.9" cy="468.3"/><circle cx="831.6" cy="437.9"/><circle cx="829.9" cy="437.5"/><circle cx="791.2" cy="477.8"/><circle cx="844.1" cy="405.8"/><circle cx="766.6" cy="499.5"/><circle cx="807.8" cy="455.8"/><circle cx="785.8" cy="463"/><circle cx="786.1" cy="484.3"/><circle cx="793.6" cy="490.2"/><circle cx="822.9" cy="428.5"/><circle cx="810.2" cy="436"/><circle cx="772.4" cy="502.8"/><circle cx="797.8" cy="488.8"/><circle cx="819.9" cy="433.9"/><circle cx="849" cy="389.5"/><circle cx="778.3" cy="484.5"/><circle cx="779.3" cy="482.1"/><circle cx="796.6" cy="467.9"/><circle cx="803.9" cy="442.1"/><circle cx="787.9" cy="497"/><circle cx="766.3" cy="502.1"/><circle cx="790.1" cy="459.6"/><circle cx="833.6" cy="432.1"/><circle cx="770.4" cy="514.7"/><circle cx="821" cy="431.7"/><circle cx="841" cy="425.5"/><circle cx="791.5" cy="470.8"/><circle cx="794.3" cy="454"/><circle cx="809.6" cy="457.7"/><circle cx="814" cy="429.8"/><circle cx="769.7" cy="501.7"/><circle cx="821.8" cy="424.4"/><circle cx="794.1" cy="451.5"/><circle cx="843" cy="402"/><circle cx="824" cy="421.3"/><circle cx="761.1" cy="512.3"/><circle cx="815.4" cy="449.8"/><circle cx="776.4" cy="479.2"/><circle cx="815.3" cy="444.2"/><circle cx="792.4" cy="456.7"/><circle cx="817.8" cy="452.3"/><circle cx="759.6" cy="521.1"/><circle cx="794.3" cy="475.4"/><circle cx="811" cy="429.5"/><circle cx="831.8" cy="461.9"/><circle cx="838.6" cy="408.3"/><circle cx="805.5" cy="465.1"/><circle cx="761.1" cy="515.2"/><circle cx="809.6" cy="458.3"/><circle cx="800.6" cy="444.3"/><circle cx="838.1" cy="401.3"/><circle cx="823.7" cy="469.9"/><circle cx="837.2" cy="402.6"/><circle cx="767" cy="507.3"/><circle cx="769" cy="518.2"/><circle cx="774.3" cy="484.4"/><circle cx="769" cy="516.8"/><circle cx="775.9" cy="480.4"/><circle cx="809.7" cy="479.9"/><circle cx="765" cy="504.6"/><circle cx="822.6" cy="443.9"/><circle cx="813.8" cy="433.4"/><circle cx="800.4" cy="469.5"/><circle cx="781.7" cy="506.5"/><circle cx="784.8" cy="466.6"/><circle cx="817.1" cy="434.2"/><circle cx="809" cy="453.6"/><circle cx="786.2" cy="498.7"/><circle cx="819.1" cy="426.5"/><circle cx="777.7" cy="507.7"/><circle cx="838.2" cy="398.9"/><circle cx="784" cy="502.1"/><circle cx="790.9" cy="496.5"/><circle cx="827.2" cy="416.6"/><circle cx="835.5" cy="408.3"/><circle cx="826.7" cy="436.8"/><circle cx="769.6" cy="516.3"/><circle cx="814.5" cy="475.4"/><circle cx="782.7" cy="506.1"/><circle cx="790.7" cy="469.1"/><circle cx="772.8" cy="488.9"/><circle cx="818" cy="443.5"/><circle cx="825.2" cy="419"/><circle cx="804.8" cy="483.2"/><circle cx="802.8" cy="487.8"/><circle cx="789.6" cy="454.1"/><circle cx="800.2" cy="447.5"/><circle cx="783.5" cy="479.7"/><circle cx="785.9" cy="498.9"/><circle cx="783" cy="491.4"/><circle cx="837.1" cy="419.9"/><circle cx="805.9" cy="481.6"/><circle cx="805" cy="461.5"/><circle cx="805.1" cy="463.9"/><circle cx="775.5" cy="487.2"/><circle cx="767.3" cy="516.6"/><circle cx="790.6" cy="472.2"/><circle cx="777.8" cy="496.4"/><circle cx="813.2" cy="442.9"/><circle cx="845.6" cy="449.7"/><circle cx="775.7" cy="489.1"/><circle cx="766.7" cy="518.4"/><circle cx="798.9" cy="471"/><circle cx="815.4" cy="476.1"/><circle cx="775.6" cy="493.3"/><circle cx="819.5" cy="418.5"/><circle cx="796.9" cy="488"/><circle cx="793.1" cy="465.1"/><circle cx="819.4" cy="476.9"/><circle cx="786.2" cy="479.6"/><circle cx="792.4" cy="481"/><circle cx="771.2" cy="490.6"/><circle cx="819.4" cy="429.2"/><circle cx="777.4" cy="508.8"/><circle cx="794.1" cy="454.4"/><circle cx="808.1" cy="483.4"/><circle cx="833.2" cy="406.3"/><circle cx="782.2" cy="470.3"/><circle cx="794.8" cy="471.9"/><circle cx="818.1" cy="438.8"/><circle cx="765.4" cy="503.6"/><circle cx="839.5" cy="407.3"/><circle cx="808.5" cy="480.1"/><circle cx="768.8" cy="512.8"/><circle cx="791.7" cy="452.6"/><circle cx="815.1" cy="423.6"/><circle cx="796.6" cy="450.1"/><circle cx="904" cy="304.8"/></g>
<g class="cc"><circle cx="830.2" cy="422.9"/><circle cx="943.5" cy="296.6"/><circle cx="912.4" cy="321.9"/><circle cx="956.4" cy="278"/><circle cx="959.8" cy="279.8"/><circle cx="897.7" cy="340"/><circle cx="927.6" cy="304.6"/><circle cx="936.1" cy="306.7"/><circle cx="920.2" cy="320.7"/><circle cx="871.8" cy="364.7"/><circle cx="825.5" cy="433.7"/><circle cx="841.5" cy="417.6"/><circle cx="854.1" cy="400.7"/><circle cx="866.5" cy="381.1"/><circle cx="832.6" cy="422.2"/><circle cx="917.4" cy="322.6"/><circle cx="920.6" cy="320.7"/><circle cx="826.2" cy="432.4"/><circle cx="876.3" cy="357"/><circle cx="820.4" cy="436.9"/><circle cx="958.8" cy="280.7"/><circle cx="837.3" cy="421"/><circle cx="830.3" cy="428.3"/><circle cx="925.5" cy="312.7"/><circle cx="918.5" cy="318.5"/><circle cx="938.1" cy="295.4"/><circle cx="915" cy="327"/><circle cx="892.5" cy="344.8"/><circle cx="827.8" cy="427.9"/><circle cx="855.9" cy="394.4"/><circle cx="855" cy="397.1"/><circle cx="902.7" cy="333.3"/><circle cx="821.6" cy="442.7"/><circle cx="935.5" cy="297.6"/><circle cx="899.3" cy="331.5"/><circle cx="885.8" cy="345.8"/><circle cx="893.6" cy="348.3"/><circle cx="893.6" cy="341.5"/><circle cx="951.6" cy="292.7"/><circle cx="850.4" cy="398.2"/><circle cx="827" cy="433.6"/><circle cx="843.5" cy="413.1"/><circle cx="857.8" cy="395.3"/><circle cx="861.3" cy="386.5"/><circle cx="954.7" cy="277.7"/><circle cx="943.9" cy="295.7"/><circle cx="880.7" cy="358.6"/><circle cx="942.1" cy="295.5"/><circle cx="843.2" cy="408"/><circle cx="869.6" cy="380.1"/><circle cx="837.5" cy="414.9"/><circle cx="861.6" cy="381.4"/><circle cx="871.7" cy="365.8"/><circle cx="869.3" cy="374.1"/><circle cx="906.8" cy="328.1"/><circle cx="888" cy="353.6"/><circle cx="953.3" cy="280.4"/><circle cx="878.1" cy="358.5"/><circle cx="922.2" cy="311.4"/><circle cx="836.8" cy="419.1"/><circle cx="870.2" cy="342.5"/><circle cx="905" cy="437.1"/><circle cx="889.5" cy="442.9"/><circle cx="955.1" cy="394.6"/><circle cx="960.9" cy="392.7"/><circle cx="974.5" cy="361.8"/><circle cx="866.3" cy="365.6"/><circle cx="846.1" cy="480.5"/></g>
<g class="cc"><circle cx="860" cy="452.4"/><circle cx="809.7" cy="488.4"/><circle cx="873.7" cy="440.8"/><circle cx="916.5" cy="412.1"/><circle cx="998.8" cy="364.1"/><circle cx="817.1" cy="474.6"/><circle cx="918.3" cy="403.6"/><circle cx="818.1" cy="486.9"/><circle cx="858.9" cy="454.5"/><circle cx="938.1" cy="393.4"/><circle cx="964" cy="387.8"/><circle cx="875.5" cy="442.5"/><circle cx="932.2" cy="398.9"/><circle cx="828.3" cy="468.3"/><circle cx="981.8" cy="368.9"/><circle cx="978.1" cy="368"/><circle cx="803.7" cy="491.6"/><circle cx="901.6" cy="418.1"/><circle cx="846.7" cy="455.9"/><circle cx="889.4" cy="431.4"/><circle cx="1008.2" cy="354"/><circle cx="855.1" cy="452.3"/><circle cx="1014.6" cy="329.7"/><circle cx="950.7" cy="390.2"/><circle cx="956.7" cy="386.7"/><circle cx="902.6" cy="425.3"/><circle cx="864.9" cy="453.4"/><circle cx="978.9" cy="358.1"/><circle cx="994.8" cy="352.4"/><circle cx="826.8" cy="475.1"/><circle cx="900.1" cy="415.9"/><circle cx="1018.8" cy="335.1"/><circle cx="938.4" cy="400.1"/><circle cx="1026.3" cy="322.8"/><circle cx="985.5" cy="365"/><circle cx="906.8" cy="422.9"/><circle cx="991.3" cy="350.4"/><circle cx="931" cy="407.7"/><circle cx="995.3" cy="354.7"/><circle cx="953" cy="387.9"/><circle cx="824.1" cy="476.8"/><circle cx="932.9" cy="400.3"/><circle cx="977.9" cy="377.8"/><circle cx="907.4" cy="419.3"/><circle cx="1021.1" cy="326.6"/><circle cx="854.5" cy="450"/><circle cx="875.7" cy="434.5"/><circle cx="958.9" cy="372.3"/><circle cx="942.4" cy="386.2"/><circle cx="939.7" cy="387.5"/><circle cx="978.5" cy="360.1"/><circle cx="1021.5" cy="322.4"/><circle cx="861.8" cy="453"/><circle cx="874.7" cy="445.1"/><circle cx="805.6" cy="483.2"/><circle cx="895.8" cy="425.2"/><circle cx="1002" cy="358.7"/><circle cx="923.5" cy="405.8"/><circle cx="825.5" cy="470.8"/><circle cx="979.6" cy="373.5"/><circle cx="903.3" cy="428.5"/><circle cx="1002.8" cy="355.8"/><circle cx="875.1" cy="436.4"/><circle cx="915.5" cy="418.2"/><circle cx="940.9" cy="400.7"/><circle cx="890.4" cy="436.7"/><circle cx="807.2" cy="482"/><circle cx="989.8" cy="350"/><circle cx="884.1" cy="438.9"/><circle cx="913.4" cy="420.2"/><circle cx="1004.1" cy="348.8"/><circle cx="855.7" cy="449.5"/><circle cx="953.4" cy="390.2"/><circle cx="907" cy="424.1"/><circle cx="881" cy="431.8"/><circle cx="930" cy="397.1"/><circle cx="836" cy="474.8"/><circle cx="927.7" cy="402.7"/><circle cx="856.7" cy="452.7"/><circle cx="1024.8" cy="332.5"/><circle cx="824.3" cy="477"/><circle cx="915.5" cy="406.5"/><circle cx="953.6" cy="382.8"/><circle cx="957.2" cy="382"/><circle cx="812.5" cy="488.9"/><circle cx="915" cy="413.1"/><circle cx="879.8" cy="441.7"/><circle cx="937.3" cy="405.5"/><circle cx="841.7" cy="463.9"/><circle cx="867" cy="450.6"/><circle cx="898.7" cy="419.9"/><circle cx="983.1" cy="359"/><circle cx="832.6" cy="475.3"/><circle cx="997.7" cy="361.3"/><circle cx="928.9" cy="404.6"/><circle cx="963" cy="387.1"/><circle cx="889.1" cy="437.1"/><circle cx="927.8" cy="400.3"/><circle cx="820" cy="485"/><circle cx="925" cy="399.1"/><circle cx="996.5" cy="358.4"/><circle cx="860.4" cy="449.1"/><circle cx="950.4" cy="388.2"/><circle cx="994.9" cy="357.3"/><circle cx="1020.2" cy="340.5"/><circle cx="836.4" cy="474.9"/><circle cx="839.7" cy="472.3"/><circle cx="854.3" cy="451.9"/><circle cx="888.3" cy="428.8"/><circle cx="1021.5" cy="342"/><circle cx="998.4" cy="351.7"/><circle cx="836.8" cy="474.2"/><circle cx="883.8" cy="433.5"/><circle cx="967.8" cy="371.3"/><circle cx="847.5" cy="461.5"/><circle cx="968" cy="368.5"/><circle cx="985.2" cy="358.5"/><circle cx="921.4" cy="410.5"/><circle cx="853.5" cy="450.9"/><circle cx="848.2" cy="461.7"/><circle cx="1022.5" cy="340.8"/><circle cx="883.5" cy="436.5"/><circle cx="1014.7" cy="328"/><circle cx="851.6" cy="453.2"/><circle cx="836.9" cy="467.1"/><circle cx="851.9" cy="463.7"/><circle cx="897.8" cy="419.1"/><circle cx="942.8" cy="402"/><circle cx="846.4" cy="460.5"/><circle cx="994.8" cy="363.7"/><circle cx="942.9" cy="396.2"/><circle cx="1016.6" cy="347.4"/><circle cx="848.9" cy="458.2"/><circle cx="896.2" cy="427"/><circle cx="968.9" cy="374.4"/><circle cx="956.8" cy="392.1"/><circle cx="863.2" cy="455.3"/><circle cx="1020.1" cy="332.4"/><circle cx="894.3" cy="432.1"/><circle cx="1007.3" cy="340.1"/><circle cx="1023.1" cy="331.9"/><circle cx="916.9" cy="417.1"/><circle cx="923.1" cy="410.8"/><circle cx="879" cy="433.7"/><circle cx="877" cy="436.7"/><circle cx="934.3" cy="401.3"/><circle cx="965.9" cy="377.3"/><circle cx="834.2" cy="476.7"/><circle cx="890.9" cy="426.5"/><circle cx="969.2" cy="381.7"/><circle cx="967" cy="385.4"/><circle cx="804" cy="493.3"/><circle cx="982.2" cy="358"/><circle cx="835.9" cy="465.4"/><circle cx="982.2" cy="355"/><circle cx="800.5" cy="485.2"/><circle cx="925.4" cy="403.5"/><circle cx="903.6" cy="422"/><circle cx="821.4" cy="484.1"/><circle cx="923.2" cy="400.1"/><circle cx="973.2" cy="374.6"/><circle cx="963" cy="381.9"/><circle cx="917.1" cy="414.3"/><circle cx="941.1" cy="399.3"/><circle cx="887.4" cy="434.3"/><circle cx="1029.3" cy="318.5"/><circle cx="969.9" cy="374.2"/><circle cx="1011" cy="343.1"/><circle cx="999.6" cy="361.2"/><circle cx="892.4" cy="432.7"/><circle cx="910.4" cy="409.8"/><circle cx="976.1" cy="361.4"/><circle cx="881.5" cy="441.7"/><circle cx="851.9" cy="457.3"/><circle cx="803.1" cy="493.2"/><circle cx="882" cy="441.6"/><circle cx="1015.4" cy="340.7"/><circle cx="979.2" cy="360.9"/><circle cx="892.4" cy="424.2"/><circle cx="1015" cy="337.4"/><circle cx="921" cy="412.6"/><circle cx="925.5" cy="411.2"/><circle cx="999.1" cy="343.8"/><circle cx="966.6" cy="367"/><circle cx="852.9" cy="451.4"/><circle cx="961.5" cy="379.7"/><circle cx="969" cy="375.5"/><circle cx="950.3" cy="381.9"/><circle cx="900.7" cy="416"/><circle cx="826.9" cy="474.1"/><circle cx="880.4" cy="433.1"/><circle cx="965.2" cy="370.5"/><circle cx="936.7" cy="398.1"/><circle cx="1019.4" cy="327.8"/><circle cx="846.4" cy="460.3"/><circle cx="929.9" cy="405.9"/><circle cx="931.4" cy="404.9"/><circle cx="885.2" cy="428.7"/><circle cx="958.2" cy="375.1"/><circle cx="838.1" cy="470.7"/><circle cx="891.7" cy="421"/><circle cx="857.4" cy="452.1"/><circle cx="916.4" cy="405.2"/><circle cx="833" cy="476.2"/><circle cx="966" cy="367.7"/><circle cx="919.9" cy="402.7"/><circle cx="1005.9" cy="337.7"/><circle cx="1028.4" cy="321.8"/><circle cx="950.4" cy="385.6"/><circle cx="985.5" cy="371.8"/></g>
<g class="ns"><circle cx="927.1" cy="408.4"/><circle cx="850.7" cy="465.4"/><circle cx="999.7" cy="341.3"/><circle cx="1059.1" cy="284.4"/><circle cx="842.2" cy="464"/><circle cx="842.8" cy="470"/><circle cx="803.3" cy="497"/><circle cx="1018.4" cy="336.7"/><circle cx="873.2" cy="439"/><circle cx="971.6" cy="363.7"/><circle cx="937.5" cy="396.2"/><circle cx="974.3" cy="373.5"/><circle cx="941.4" cy="390.7"/><circle cx="1044.6" cy="304.6"/><circle cx="946.8" cy="389"/><circle cx="973.8" cy="364.9"/><circle cx="1044.8" cy="299.9"/><circle cx="848.6" cy="454.7"/><circle cx="1026.1" cy="324.1"/><circle cx="862.4" cy="443.7"/><circle cx="947.8" cy="391.8"/><circle cx="893.1" cy="422.4"/><circle cx="847.2" cy="469"/><circle cx="889.8" cy="432.8"/><circle cx="842.6" cy="469.7"/><circle cx="902.7" cy="418.9"/><circle cx="977" cy="362.6"/><circle cx="821.1" cy="485"/><circle cx="797.6" cy="498.3"/><circle cx="847.1" cy="465.9"/><circle cx="974.7" cy="372.4"/><circle cx="970.5" cy="368.4"/><circle cx="837.3" cy="471.5"/><circle cx="812.1" cy="490.2"/><circle cx="969.8" cy="369.3"/><circle cx="891.1" cy="428.3"/><circle cx="828.1" cy="469.6"/><circle cx="832.9" cy="479.1"/><circle cx="944.1" cy="395.9"/><circle cx="833.1" cy="472"/><circle cx="890.4" cy="429.5"/><circle cx="950.8" cy="385.8"/><circle cx="849.6" cy="455.5"/><circle cx="984.3" cy="365.7"/><circle cx="940.9" cy="388.9"/><circle cx="832" cy="474.1"/><circle cx="839.3" cy="462"/><circle cx="798.3" cy="487"/><circle cx="1009" cy="333.7"/><circle cx="920.8" cy="405"/><circle cx="1055.7" cy="291.1"/><circle cx="968.1" cy="367.1"/><circle cx="964.7" cy="374.8"/><circle cx="898.1" cy="425"/><circle cx="1078.2" cy="274.9"/><circle cx="1023.8" cy="332.2"/><circle cx="1074.1" cy="275.9"/><circle cx="1046.6" cy="303.7"/><circle cx="943.8" cy="392.6"/><circle cx="831.8" cy="475.6"/><circle cx="929" cy="397.9"/><circle cx="921.1" cy="407.7"/><circle cx="831.4" cy="474.4"/><circle cx="828.7" cy="474.7"/><circle cx="1011.1" cy="341.7"/><circle cx="999.9" cy="344.9"/><circle cx="1054.7" cy="296.4"/><circle cx="1061.1" cy="282.3"/><circle cx="903.3" cy="424.2"/><circle cx="1011.4" cy="338.3"/><circle cx="908.8" cy="416.1"/><circle cx="928.7" cy="395.5"/><circle cx="857.6" cy="451.4"/><circle cx="870" cy="447.3"/><circle cx="941.9" cy="393.8"/><circle cx="1034.4" cy="318.6"/><circle cx="1039.7" cy="309.3"/><circle cx="943.6" cy="392.1"/><circle cx="974.2" cy="366.6"/><circle cx="999.9" cy="345.3"/><circle cx="1023.5" cy="332.5"/><circle cx="870.4" cy="442.6"/><circle cx="927.4" cy="400.3"/><circle cx="809.3" cy="491.3"/><circle cx="977.1" cy="368.3"/><circle cx="818.4" cy="484.6"/><circle cx="971.7" cy="375.4"/><circle cx="1058.1" cy="286.5"/><circle cx="864.2" cy="442.3"/><circle cx="846.5" cy="468.2"/><circle cx="995.2" cy="351.5"/><circle cx="1032.5" cy="320"/><circle cx="791.2" cy="500.1"/><circle cx="966.9" cy="368.5"/><circle cx="1057.1" cy="294.7"/><circle cx="1016.5" cy="334.2"/><circle cx="841.3" cy="461.5"/><circle cx="915.9" cy="403.4"/><circle cx="985.8" cy="358.6"/><circle cx="925.7" cy="399.9"/><circle cx="872.7" cy="446.1"/><circle cx="1015.9" cy="333.4"/><circle cx="809.6" cy="489"/><circle cx="1036.5" cy="311.1"/><circle cx="1043.4" cy="310.7"/><circle cx="979.5" cy="365"/><circle cx="979.6" cy="361.2"/><circle cx="1029.9" cy="325.6"/><circle cx="1057.6" cy="297.9"/><circle cx="929.3" cy="398"/><circle cx="1046.6" cy="298.5"/><circle cx="802.4" cy="484.4"/><circle cx="803.3" cy="490.1"/><circle cx="915.3" cy="409.6"/><circle cx="861.9" cy="447.9"/><circle cx="973.9" cy="369.5"/><circle cx="1052.4" cy="303.6"/><circle cx="823.5" cy="481.9"/><circle cx="1064.4" cy="287.6"/><circle cx="817.3" cy="477.7"/><circle cx="1003" cy="339.6"/><circle cx="1022.1" cy="323.1"/><circle cx="1017.8" cy="326.1"/><circle cx="1037.5" cy="309.8"/><circle cx="933.1" cy="399.7"/><circle cx="1060.4" cy="288.1"/><circle cx="1007.4" cy="348.2"/><circle cx="974.5" cy="373.6"/><circle cx="798.5" cy="498.7"/><circle cx="936.4" cy="397.4"/><circle cx="1006.7" cy="337.2"/><circle cx="878.3" cy="441"/><circle cx="984.5" cy="354.7"/><circle cx="867.1" cy="441.4"/><circle cx="1082.4" cy="263"/><circle cx="1024.1" cy="321.3"/><circle cx="990.9" cy="361"/><circle cx="832.8" cy="475.8"/><circle cx="1042.6" cy="307.5"/><circle cx="1074.2" cy="272.3"/><circle cx="969.9" cy="367.4"/><circle cx="919.2" cy="414.8"/><circle cx="1051.3" cy="304.7"/><circle cx="814.4" cy="478.9"/><circle cx="843" cy="470.7"/><circle cx="855.2" cy="454.2"/><circle cx="885.3" cy="428.9"/><circle cx="1069" cy="286.9"/><circle cx="999.7" cy="345.6"/><circle cx="1086.1" cy="269.1"/><circle cx="976.8" cy="362.7"/><circle cx="1068.1" cy="279.9"/><circle cx="864.1" cy="442.9"/><circle cx="875.8" cy="445.9"/><circle cx="965.3" cy="370.2"/><circle cx="926.7" cy="408.7"/><circle cx="1077.9" cy="273.6"/><circle cx="1068.1" cy="279"/><circle cx="1076.7" cy="269.5"/><circle cx="1039.5" cy="316.4"/><circle cx="1042.6" cy="300.8"/><circle cx="1030.1" cy="322.8"/><circle cx="1005.8" cy="337.6"/><circle cx="841.2" cy="466.4"/><circle cx="942.8" cy="389.3"/><circle cx="891.3" cy="426"/><circle cx="1036.8" cy="312.2"/><circle cx="1026.6" cy="326.2"/><circle cx="1054.1" cy="295.3"/><circle cx="802.4" cy="496.2"/><circle cx="802.1" cy="484.5"/><circle cx="977" cy="362.2"/><circle cx="1010.3" cy="340.6"/><circle cx="841.8" cy="471.6"/><circle cx="921.4" cy="414.1"/><circle cx="1013.1" cy="333.7"/><circle cx="837.4" cy="474.6"/><circle cx="1068.5" cy="284.2"/><circle cx="845.7" cy="463.4"/><circle cx="1042.9" cy="312"/><circle cx="883.8" cy="436.2"/><circle cx="933.5" cy="392.5"/><circle cx="1057.4" cy="286.9"/><circle cx="790.6" cy="493.3"/><circle cx="1037.3" cy="310.1"/><circle cx="870.6" cy="436.7"/><circle cx="882.2" cy="438"/><circle cx="958.1" cy="380.3"/><circle cx="806.5" cy="488.7"/><circle cx="961.7" cy="373.7"/><circle cx="869.4" cy="451.4"/><circle cx="905.8" cy="418.2"/><circle cx="838.2" cy="470.7"/><circle cx="852.8" cy="461.7"/><circle cx="941.7" cy="389.6"/><circle cx="1073.6" cy="275.7"/><circle cx="815.1" cy="477.3"/><circle cx="1085.4" cy="266.8"/><circle cx="990" cy="349.4"/><circle cx="948.5" cy="390.6"/><circle cx="858.2" cy="446.4"/><circle cx="1046.8" cy="304.5"/><circle cx="849.2" cy="459.4"/><circle cx="848.1" cy="464"/><circle cx="976" cy="370.6"/><circle cx="1031.7" cy="314.5"/><circle cx="983.3" cy="357.7"/><circle cx="1077.9" cy="271.1"/><circle cx="857" cy="458"/><circle cx="802.2" cy="493.4"/><circle cx="999.6" cy="353.5"/><circle cx="940.3" cy="387.8"/><circle cx="820.1" cy="484.5"/><circle cx="1027.1" cy="317.3"/><circle cx="932.1" cy="393.2"/><circle cx="1020.9" cy="323.5"/><circle cx="914.4" cy="415.4"/><circle cx="856.4" cy="461.5"/><circle cx="819.9" cy="485.4"/><circle cx="858" cy="459"/><circle cx="832.8" cy="478.1"/><circle cx="833.5" cy="475.7"/><circle cx="862.7" cy="450.8"/><circle cx="904.4" cy="415.4"/><circle cx="922" cy="402.3"/><circle cx="1022.7" cy="322.7"/><circle cx="885.1" cy="430.6"/><circle cx="1050.5" cy="305.2"/><circle cx="1079.7" cy="273.8"/><circle cx="961.4" cy="378.4"/><circle cx="899.6" cy="418.9"/><circle cx="964.5" cy="375.4"/><circle cx="890" cy="428.6"/><circle cx="873.8" cy="447.1"/><circle cx="883.8" cy="429.5"/><circle cx="1025.9" cy="317"/><circle cx="807.9" cy="486.9"/><circle cx="883.9" cy="434.8"/><circle cx="856.5" cy="457.9"/><circle cx="901.9" cy="422.4"/><circle cx="890.4" cy="424.2"/><circle cx="926" cy="396.6"/><circle cx="874.1" cy="441.5"/><circle cx="994.5" cy="350.8"/><circle cx="884.8" cy="427.7"/><circle cx="840.5" cy="466.8"/><circle cx="800.7" cy="490.3"/><circle cx="806.6" cy="487.5"/><circle cx="917.7" cy="402.3"/><circle cx="958.7" cy="385.4"/><circle cx="841.5" cy="462.3"/><circle cx="1071.4" cy="280.6"/><circle cx="872.1" cy="445.1"/><circle cx="860.2" cy="457.6"/><circle cx="837.7" cy="462.7"/><circle cx="865.7" cy="453.1"/><circle cx="1046.3" cy="311.1"/><circle cx="1067.1" cy="276.6"/><circle cx="992.4" cy="349.5"/><circle cx="800.6" cy="489.3"/><circle cx="1093.4" cy="168.9"/><circle cx="1106" cy="165"/><circle cx="1108.9" cy="157.3"/><circle cx="1130.1" cy="162.1"/><circle cx="1141.7" cy="156.4"/><circle cx="1152.9" cy="152.5"/><circle cx="1165.8" cy="164.1"/><circle cx="1184.2" cy="162.1"/><circle cx="1187.1" cy="171.8"/><circle cx="1157.2" cy="180.5"/><circle cx="1098.3" cy="174.7"/><circle cx="1092.5" cy="190.1"/><circle cx="1100.2" cy="197.9"/><circle cx="1080.9" cy="201.7"/><circle cx="1067.4" cy="203.6"/><circle cx="1049" cy="200.8"/><circle cx="1117.6" cy="215.2"/><circle cx="1121.4" cy="209.4"/><circle cx="1114.7" cy="230.7"/><circle cx="1023" cy="228.7"/><circle cx="1131.1" cy="207.5"/><circle cx="1144.6" cy="190.1"/><circle cx="969.6" cy="398.5"/><circle cx="1004.4" cy="352.1"/><circle cx="1028.5" cy="329.9"/><circle cx="933.9" cy="406.2"/><circle cx="916.5" cy="421.6"/></g>
<g class="ns"><circle cx="1058.7" cy="227.1"/><circle cx="1076.6" cy="213.7"/><circle cx="999.8" cy="251.7"/><circle cx="1038.4" cy="224.8"/><circle cx="1029.1" cy="241.1"/><circle cx="992.6" cy="242.7"/><circle cx="1005.1" cy="247.3"/><circle cx="1032.3" cy="232.4"/><circle cx="1102.3" cy="205.1"/><circle cx="1072.3" cy="227.6"/><circle cx="1017.9" cy="235.9"/><circle cx="1049" cy="231.7"/><circle cx="1086.5" cy="209"/><circle cx="1072.8" cy="226"/><circle cx="981.1" cy="258.7"/><circle cx="989.3" cy="250.4"/><circle cx="997.2" cy="255.2"/><circle cx="961" cy="276.2"/><circle cx="1019.2" cy="230"/><circle cx="1065.3" cy="216.5"/><circle cx="1050" cy="221.2"/><circle cx="967.3" cy="269.5"/><circle cx="988.4" cy="260.3"/><circle cx="1070" cy="213.6"/><circle cx="963.2" cy="283.8"/><circle cx="975.6" cy="263"/><circle cx="1035.9" cy="224.4"/><circle cx="1044.6" cy="230.1"/><circle cx="1025.5" cy="240.1"/><circle cx="1052.6" cy="215.3"/><circle cx="1093.5" cy="207.1"/><circle cx="1039.2" cy="225.2"/><circle cx="1081.5" cy="208.5"/><circle cx="1090.6" cy="203"/><circle cx="979.4" cy="257.9"/><circle cx="1006.9" cy="239"/><circle cx="1096.7" cy="203"/><circle cx="1068.4" cy="210.7"/><circle cx="1095.8" cy="207.1"/><circle cx="1011" cy="238.5"/><circle cx="1101" cy="199.9"/><circle cx="1104.6" cy="204.7"/><circle cx="1005.1" cy="244.6"/><circle cx="1083.3" cy="206.5"/><circle cx="992.3" cy="242.5"/><circle cx="1072.7" cy="226.2"/><circle cx="986.6" cy="263"/><circle cx="1070.9" cy="211.8"/><circle cx="1042.9" cy="220.4"/><circle cx="972.1" cy="261.7"/><circle cx="999.1" cy="255.9"/><circle cx="1096.4" cy="208.1"/><circle cx="1100" cy="207.8"/><circle cx="1093.8" cy="206.9"/><circle cx="1031.7" cy="232.6"/><circle cx="974.7" cy="256.9"/><circle cx="1059" cy="212.2"/><circle cx="1056" cy="220.2"/><circle cx="1086.2" cy="205.9"/><circle cx="974.5" cy="258.7"/><circle cx="990.5" cy="259.7"/><circle cx="1009.9" cy="242.8"/><circle cx="1016.2" cy="241.1"/><circle cx="1032.3" cy="238.1"/><circle cx="1083.4" cy="210.4"/><circle cx="1043.7" cy="216.3"/><circle cx="1027.3" cy="234.1"/><circle cx="982" cy="260.9"/><circle cx="1015.8" cy="238.4"/><circle cx="1086.4" cy="205.1"/><circle cx="1103.4" cy="198.1"/><circle cx="998.8" cy="244.3"/><circle cx="1077" cy="209.6"/><circle cx="1059.7" cy="230.1"/><circle cx="997.7" cy="252.7"/><circle cx="990.9" cy="254.6"/><circle cx="1047.1" cy="217"/><circle cx="1071.8" cy="213.6"/><circle cx="1084.5" cy="211.8"/><circle cx="975.1" cy="271.6"/><circle cx="1040" cy="218.3"/><circle cx="1020" cy="227.8"/><circle cx="1015.6" cy="230.2"/><circle cx="1103.9" cy="197"/><circle cx="1077.8" cy="214.1"/><circle cx="1066.8" cy="225.6"/><circle cx="1077.8" cy="216"/><circle cx="1065.4" cy="227.8"/><circle cx="962.5" cy="282.8"/><circle cx="1001" cy="255.1"/><circle cx="995.3" cy="252.6"/><circle cx="1043.6" cy="232.4"/><circle cx="1073.3" cy="218.6"/><circle cx="1028.5" cy="239.3"/><circle cx="1004.1" cy="238.2"/><circle cx="1042.9" cy="232.5"/><circle cx="1080.5" cy="219.4"/><circle cx="1065.6" cy="213.1"/><circle cx="1060.2" cy="219.5"/><circle cx="974.7" cy="259.2"/><circle cx="1022" cy="242.1"/><circle cx="1072.9" cy="225.4"/><circle cx="965.6" cy="269.5"/><circle cx="1004.3" cy="247.2"/><circle cx="1051.3" cy="216.3"/><circle cx="1016.7" cy="245.1"/><circle cx="1048.1" cy="216.9"/><circle cx="1055.7" cy="218"/><circle cx="1046.5" cy="225"/><circle cx="1070.5" cy="211.1"/><circle cx="991.2" cy="251.4"/><circle cx="1037.2" cy="220.8"/><circle cx="1052.5" cy="215.6"/><circle cx="1042.3" cy="219.4"/><circle cx="1067.5" cy="228.2"/><circle cx="1028.9" cy="231.4"/><circle cx="1041.4" cy="226.9"/><circle cx="1000.7" cy="251.7"/><circle cx="973" cy="258.6"/><circle cx="1025.6" cy="239.9"/><circle cx="982.7" cy="250.6"/><circle cx="1017.6" cy="242.7"/><circle cx="981" cy="267.3"/><circle cx="1069.3" cy="218.4"/><circle cx="1089.8" cy="215.1"/><circle cx="1089.7" cy="205.9"/><circle cx="1069.3" cy="222.7"/><circle cx="1026.3" cy="234"/><circle cx="1089.6" cy="213.4"/><circle cx="1061.2" cy="230.4"/><circle cx="1056.6" cy="225.3"/><circle cx="1006.5" cy="245.1"/><circle cx="1044.9" cy="224.5"/><circle cx="993.1" cy="248.1"/><circle cx="1049.3" cy="220.1"/><circle cx="1083.7" cy="222.5"/><circle cx="1024.4" cy="229.3"/><circle cx="1032.1" cy="239.2"/><circle cx="1057.1" cy="231.5"/><circle cx="1074.6" cy="209.9"/><circle cx="1055.8" cy="219"/><circle cx="980.4" cy="261.7"/><circle cx="1078.6" cy="216.9"/><circle cx="1049.3" cy="226.1"/><circle cx="1057.2" cy="222.7"/><circle cx="1006.3" cy="237.6"/><circle cx="982.3" cy="264"/><circle cx="984.6" cy="248.7"/><circle cx="970.1" cy="263.1"/><circle cx="1027.4" cy="239.6"/><circle cx="988.4" cy="244.9"/><circle cx="993.6" cy="255.3"/><circle cx="1096.3" cy="214.5"/><circle cx="1006.2" cy="248.1"/><circle cx="1085.1" cy="207.7"/><circle cx="1050.9" cy="217.4"/><circle cx="1067.1" cy="225.5"/><circle cx="977.7" cy="268.8"/><circle cx="976.7" cy="258.4"/><circle cx="1020" cy="244.5"/><circle cx="1072.4" cy="225.2"/><circle cx="1041.5" cy="221.1"/><circle cx="1081.8" cy="205.6"/><circle cx="1076.8" cy="211.9"/><circle cx="1072.3" cy="223.3"/><circle cx="986.5" cy="259.3"/><circle cx="1037.7" cy="221.1"/><circle cx="1063.9" cy="212.5"/><circle cx="1034.3" cy="231.8"/><circle cx="979.8" cy="259.8"/></g>
<g class="fs"><circle cx="893.2" cy="366.8"/><circle cx="985.3" cy="340.7"/><circle cx="984" cy="362.7"/><circle cx="891.4" cy="352.8"/><circle cx="947.4" cy="300.1"/><circle cx="923.3" cy="363.8"/><circle cx="1012.9" cy="314"/><circle cx="870.5" cy="382"/><circle cx="1098.3" cy="243.8"/><circle cx="1036.1" cy="237.4"/><circle cx="988.6" cy="280.5"/><circle cx="1106.9" cy="227.1"/><circle cx="882.9" cy="376.3"/><circle cx="1031.5" cy="239"/><circle cx="828.2" cy="467.2"/><circle cx="939.9" cy="296.5"/><circle cx="933.3" cy="300.6"/><circle cx="958.2" cy="377.4"/><circle cx="908.1" cy="395.9"/><circle cx="896.7" cy="370.1"/><circle cx="884.5" cy="393.8"/><circle cx="877.9" cy="397"/><circle cx="937.5" cy="349.1"/><circle cx="901.5" cy="422.2"/><circle cx="895.2" cy="349.8"/><circle cx="793.1" cy="492.9"/><circle cx="1051.4" cy="265.6"/><circle cx="983.3" cy="261.8"/><circle cx="965.3" cy="282.1"/><circle cx="907.4" cy="408.2"/><circle cx="958.9" cy="362.8"/><circle cx="899.8" cy="352.5"/><circle cx="920.4" cy="369.2"/><circle cx="983" cy="363.4"/><circle cx="1083.1" cy="253.5"/><circle cx="893.6" cy="396.8"/><circle cx="1077.7" cy="254.2"/><circle cx="979.1" cy="346.4"/><circle cx="1147.7" cy="177.9"/><circle cx="968.9" cy="298.6"/><circle cx="1044.9" cy="223.2"/><circle cx="997.8" cy="278"/><circle cx="979.7" cy="366.8"/><circle cx="834.3" cy="428.7"/><circle cx="961.6" cy="321.1"/><circle cx="911.6" cy="390"/><circle cx="927.6" cy="340"/><circle cx="1039.7" cy="291.2"/><circle cx="1008.7" cy="313.7"/><circle cx="1018.7" cy="313.9"/><circle cx="995.4" cy="307.1"/><circle cx="1026.6" cy="309.5"/><circle cx="1011.2" cy="248.2"/><circle cx="1005.4" cy="283.8"/><circle cx="917.5" cy="340.5"/><circle cx="958.5" cy="356.9"/><circle cx="935.7" cy="337.9"/><circle cx="1029.7" cy="261.2"/><circle cx="1030.6" cy="312.8"/><circle cx="905.5" cy="385"/><circle cx="966.3" cy="344.3"/><circle cx="973.8" cy="343.8"/><circle cx="1069.4" cy="225.5"/><circle cx="966.5" cy="305.7"/><circle cx="869.2" cy="395.5"/><circle cx="902.6" cy="398.2"/><circle cx="1024.8" cy="277.6"/><circle cx="931.9" cy="328.9"/><circle cx="907.8" cy="358.3"/><circle cx="825.5" cy="476"/><circle cx="1098.2" cy="230.4"/><circle cx="817.2" cy="481.9"/><circle cx="927.3" cy="332.4"/><circle cx="1022.9" cy="326.7"/><circle cx="1040.4" cy="310.6"/><circle cx="985.3" cy="276.3"/><circle cx="945.8" cy="378.6"/><circle cx="829.6" cy="461.1"/><circle cx="1054.7" cy="232.4"/><circle cx="929" cy="340.4"/><circle cx="862.7" cy="442"/><circle cx="988.1" cy="325.5"/><circle cx="922.7" cy="334.2"/><circle cx="983.5" cy="345.9"/><circle cx="845.7" cy="406.6"/><circle cx="1000.3" cy="299.3"/><circle cx="912.1" cy="328.3"/><circle cx="889.8" cy="389.8"/><circle cx="893.5" cy="367.1"/><circle cx="1053.7" cy="284.7"/><circle cx="1028.7" cy="310.3"/><circle cx="940.4" cy="342.8"/><circle cx="1022.9" cy="298.5"/><circle cx="1076" cy="247.4"/><circle cx="1088.5" cy="241.1"/><circle cx="968" cy="333.5"/><circle cx="1034.1" cy="252.8"/><circle cx="1026.4" cy="259"/><circle cx="1031.5" cy="312.6"/><circle cx="1042.4" cy="237.6"/><circle cx="945.2" cy="362.9"/><circle cx="923.6" cy="392.4"/><circle cx="1096.8" cy="215.8"/><circle cx="1015.4" cy="334.6"/><circle cx="992.3" cy="311"/><circle cx="974.2" cy="296.9"/><circle cx="937" cy="378.6"/><circle cx="760" cy="520.6"/><circle cx="1010.4" cy="261.6"/><circle cx="978" cy="296.7"/><circle cx="1007.7" cy="332.6"/><circle cx="870.3" cy="412"/><circle cx="1042.3" cy="288.9"/><circle cx="995.5" cy="348.3"/><circle cx="1068.9" cy="235.5"/><circle cx="861.7" cy="430"/><circle cx="1007.6" cy="335.2"/><circle cx="984.2" cy="352.3"/><circle cx="931.9" cy="332"/><circle cx="965.3" cy="363.7"/><circle cx="1026.4" cy="314.2"/><circle cx="780.8" cy="501.7"/><circle cx="875" cy="412.2"/><circle cx="981" cy="317.6"/><circle cx="907.5" cy="331.9"/><circle cx="1025.4" cy="322.5"/><circle cx="1055.7" cy="259.8"/><circle cx="1015.4" cy="275.7"/><circle cx="1045.1" cy="223.2"/><circle cx="861.3" cy="392.4"/><circle cx="815.4" cy="447"/><circle cx="889.4" cy="360.6"/><circle cx="890.9" cy="381.6"/><circle cx="868.3" cy="439.4"/><circle cx="867.5" cy="378.7"/><circle cx="785.2" cy="501.7"/><circle cx="993.8" cy="290.7"/><circle cx="1076.4" cy="236.1"/><circle cx="914.5" cy="362.6"/><circle cx="940.6" cy="347.1"/><circle cx="1040" cy="234.5"/><circle cx="866.5" cy="434.2"/><circle cx="1028.1" cy="304.5"/><circle cx="924.7" cy="341.8"/><circle cx="941.3" cy="383.7"/><circle cx="862.5" cy="415.7"/><circle cx="1091.2" cy="240.7"/><circle cx="1067" cy="226.9"/><circle cx="955.1" cy="370.8"/><circle cx="926.9" cy="319.7"/><circle cx="941.5" cy="351.5"/><circle cx="979.8" cy="363.7"/><circle cx="957.5" cy="277.8"/><circle cx="902.4" cy="388.2"/><circle cx="915.6" cy="374.8"/><circle cx="982.6" cy="330.3"/><circle cx="980.2" cy="286.8"/><circle cx="1045.9" cy="245.9"/><circle cx="907.5" cy="349.3"/><circle cx="1009.8" cy="327.3"/><circle cx="1033.1" cy="239.3"/><circle cx="1073.1" cy="225.8"/><circle cx="906.9" cy="392.7"/><circle cx="884.1" cy="435.6"/><circle cx="1013.9" cy="322.9"/><circle cx="1038.3" cy="304.9"/><circle cx="1006.8" cy="239"/><circle cx="945.1" cy="350.6"/><circle cx="1021.9" cy="248.6"/><circle cx="1088.3" cy="231.2"/><circle cx="960.1" cy="344.5"/><circle cx="913.5" cy="352.3"/><circle cx="984.9" cy="349.8"/><circle cx="896.7" cy="414.5"/><circle cx="878.4" cy="426.1"/><circle cx="1022.6" cy="319.5"/><circle cx="1045.3" cy="277.9"/><circle cx="824.6" cy="449.5"/><circle cx="1082.8" cy="245"/><circle cx="971.6" cy="349.1"/><circle cx="953.6" cy="335.6"/><circle cx="914" cy="359.9"/><circle cx="915.7" cy="411.1"/><circle cx="1075.3" cy="253"/><circle cx="1099.9" cy="229"/><circle cx="914.9" cy="330.7"/><circle cx="887.1" cy="384.5"/><circle cx="922.2" cy="380.1"/><circle cx="1090.4" cy="243"/><circle cx="904.4" cy="398.3"/><circle cx="854.8" cy="441.3"/><circle cx="1008.9" cy="265.8"/><circle cx="951.4" cy="295.3"/><circle cx="1085.8" cy="235.2"/><circle cx="846" cy="409.6"/><circle cx="976.2" cy="322.5"/><circle cx="938.9" cy="372.5"/><circle cx="827.7" cy="435.3"/><circle cx="926.6" cy="321.5"/><circle cx="920.9" cy="325.1"/><circle cx="971.9" cy="330.5"/><circle cx="874.8" cy="402.9"/><circle cx="913.2" cy="406.6"/><circle cx="1023.2" cy="295.5"/><circle cx="907.5" cy="395.1"/><circle cx="1000.4" cy="288.4"/><circle cx="1072.7" cy="217.4"/><circle cx="1070.9" cy="225"/><circle cx="1134.1" cy="203.5"/><circle cx="948.1" cy="342.2"/><circle cx="853.9" cy="446.9"/><circle cx="1059.9" cy="288.7"/><circle cx="851" cy="412.6"/><circle cx="864.6" cy="441.8"/><circle cx="950.5" cy="344.2"/><circle cx="1038.1" cy="291.1"/><circle cx="974" cy="273.7"/><circle cx="993.2" cy="307"/><circle cx="1070.1" cy="237.1"/><circle cx="1100.8" cy="242.1"/><circle cx="879.5" cy="421.8"/><circle cx="1038" cy="275.7"/><circle cx="1000.5" cy="331.5"/><circle cx="964.9" cy="332.7"/><circle cx="900.3" cy="358.7"/><circle cx="970.7" cy="354.6"/><circle cx="961.7" cy="286.1"/><circle cx="871.4" cy="418.2"/><circle cx="972.6" cy="357.4"/><circle cx="1063.5" cy="251"/><circle cx="859.1" cy="419.5"/><circle cx="1070" cy="233.1"/><circle cx="1085.5" cy="244.2"/><circle cx="997.1" cy="332.7"/><circle cx="928.2" cy="348.8"/><circle cx="777" cy="497.1"/><circle cx="962.6" cy="286"/><circle cx="1048.8" cy="233"/><circle cx="919" cy="406.3"/><circle cx="974.9" cy="278.9"/><circle cx="1040" cy="266"/><circle cx="996" cy="341"/><circle cx="909.4" cy="368.8"/><circle cx="861" cy="411.5"/><circle cx="999.9" cy="301.3"/><circle cx="918" cy="347"/><circle cx="881.3" cy="424.1"/><circle cx="979.2" cy="284.9"/><circle cx="1079.3" cy="255.8"/><circle cx="989.6" cy="287.4"/><circle cx="1050.3" cy="259"/><circle cx="904.6" cy="400"/><circle cx="956.5" cy="293.1"/><circle cx="862.4" cy="399.9"/><circle cx="907.7" cy="366"/><circle cx="950.1" cy="326.9"/><circle cx="879.4" cy="361.8"/><circle cx="1017.5" cy="314.1"/><circle cx="1089.6" cy="255.3"/><circle cx="936.8" cy="316.9"/><circle cx="906.4" cy="397.8"/><circle cx="953.7" cy="364"/><circle cx="896.3" cy="367"/><circle cx="1141.6" cy="205.8"/><circle cx="1048.6" cy="293"/><circle cx="898" cy="371.5"/><circle cx="891.4" cy="410.2"/><circle cx="922.4" cy="330.6"/><circle cx="896.3" cy="359.5"/><circle cx="880.7" cy="380.7"/><circle cx="979.6" cy="323.1"/><circle cx="1063.5" cy="284.5"/><circle cx="1006.1" cy="256.2"/><circle cx="830" cy="472.7"/><circle cx="1003.2" cy="265.7"/><circle cx="1088.2" cy="250.8"/><circle cx="985.1" cy="322.2"/><circle cx="896.2" cy="379.9"/><circle cx="980.8" cy="291.6"/><circle cx="1048.1" cy="254.5"/><circle cx="1042.4" cy="267.5"/><circle cx="1020.5" cy="244.3"/><circle cx="960.6" cy="293.4"/><circle cx="896.5" cy="407.3"/><circle cx="953.8" cy="323.9"/><circle cx="787.3" cy="486"/><circle cx="883.2" cy="425.1"/><circle cx="1075.7" cy="220.5"/><circle cx="944.2" cy="307.5"/><circle cx="970.6" cy="277.6"/><circle cx="1092.6" cy="244.3"/><circle cx="888.5" cy="409"/><circle cx="894.3" cy="392.8"/><circle cx="870.1" cy="406.6"/><circle cx="932.5" cy="389.5"/><circle cx="1020.1" cy="265.9"/><circle cx="880.7" cy="388.9"/><circle cx="958.5" cy="371.1"/><circle cx="880.2" cy="369.1"/><circle cx="964.1" cy="283.6"/><circle cx="836.4" cy="428.2"/><circle cx="841" cy="440.2"/><circle cx="979.9" cy="357.4"/><circle cx="943.7" cy="361.8"/><circle cx="888.2" cy="357.6"/><circle cx="1019.8" cy="320.7"/><circle cx="942.9" cy="388.5"/><circle cx="1101.4" cy="244.8"/><circle cx="1003.5" cy="324.3"/><circle cx="1011" cy="335.7"/><circle cx="836.2" cy="431.4"/><circle cx="932.8" cy="332.3"/><circle cx="883" cy="384.5"/><circle cx="878.4" cy="411.6"/><circle cx="1061.4" cy="284.4"/><circle cx="930.2" cy="340.3"/><circle cx="969.2" cy="326.3"/><circle cx="1004.5" cy="257.5"/><circle cx="1080.3" cy="267.3"/><circle cx="1029.6" cy="267"/><circle cx="996.3" cy="273.7"/><circle cx="969" cy="328.3"/><circle cx="1010.7" cy="279.9"/><circle cx="1014.5" cy="333.5"/><circle cx="910.9" cy="392"/><circle cx="895.8" cy="394.4"/><circle cx="1044.6" cy="235.1"/><circle cx="971.5" cy="293.4"/><circle cx="977.7" cy="325.2"/><circle cx="975.5" cy="320.3"/><circle cx="1005.5" cy="315"/><circle cx="1062.2" cy="283.2"/><circle cx="948.1" cy="301.6"/><circle cx="1010.9" cy="302.3"/><circle cx="1006.1" cy="256.6"/><circle cx="893.5" cy="385.6"/><circle cx="1038.9" cy="246.3"/><circle cx="815.4" cy="464.7"/><circle cx="993" cy="347"/><circle cx="959.4" cy="290.9"/><circle cx="1017.3" cy="317.5"/><circle cx="781" cy="500"/><circle cx="1048.3" cy="235.6"/><circle cx="767.1" cy="514.8"/><circle cx="1053" cy="288.3"/><circle cx="986.9" cy="294.7"/><circle cx="1011.8" cy="305.8"/><circle cx="1038.7" cy="239.1"/><circle cx="1130.9" cy="209.9"/><circle cx="1034.9" cy="280.4"/><circle cx="906.5" cy="360.1"/><circle cx="947.4" cy="311.3"/><circle cx="910.4" cy="356.5"/><circle cx="938.6" cy="376.8"/><circle cx="878.6" cy="415.3"/><circle cx="981.1" cy="272.2"/><circle cx="1031.7" cy="277.8"/><circle cx="873.9" cy="374.1"/><circle cx="927.2" cy="348.4"/><circle cx="1013.8" cy="310.4"/><circle cx="901.7" cy="419.2"/><circle cx="904.4" cy="331.6"/><circle cx="908.4" cy="383.3"/><circle cx="865.3" cy="391.7"/><circle cx="875" cy="420.4"/><circle cx="915.3" cy="390.8"/><circle cx="1048.2" cy="267.8"/><circle cx="857.8" cy="388.8"/><circle cx="970.2" cy="279.7"/><circle cx="1004.2" cy="270.9"/><circle cx="972.7" cy="367.5"/><circle cx="823.5" cy="472.7"/><circle cx="1027.5" cy="319.3"/><circle cx="1036.5" cy="302.4"/><circle cx="896.1" cy="414.9"/><circle cx="986.5" cy="295.1"/><circle cx="1028.2" cy="321.5"/><circle cx="982.4" cy="306.8"/><circle cx="1078.7" cy="227.6"/><circle cx="1000.8" cy="296.7"/><circle cx="985.3" cy="292.7"/><circle cx="1029.7" cy="241.8"/><circle cx="1071.1" cy="222.4"/><circle cx="830.8" cy="454.3"/><circle cx="1009.4" cy="291.3"/><circle cx="917.7" cy="368.5"/><circle cx="1029.4" cy="261.6"/><circle cx="1097.8" cy="223.7"/><circle cx="884.1" cy="395.6"/><circle cx="1048.4" cy="263.1"/><circle cx="877.4" cy="366.1"/><circle cx="951.1" cy="324.7"/><circle cx="1040.8" cy="265.2"/><circle cx="894.8" cy="389.3"/><circle cx="1005.7" cy="251.7"/><circle cx="828.5" cy="434.7"/><circle cx="911.8" cy="388.9"/><circle cx="826.1" cy="471.3"/><circle cx="1024.5" cy="309.5"/><circle cx="906.9" cy="388.1"/><circle cx="1074.7" cy="242.5"/><circle cx="1033.5" cy="273.3"/><circle cx="951.2" cy="349.7"/><circle cx="1016.5" cy="308.8"/><circle cx="1044" cy="284.2"/><circle cx="1038" cy="239.8"/><circle cx="969.5" cy="276.6"/><circle cx="931.5" cy="389.2"/><circle cx="918.2" cy="339.4"/><circle cx="879.8" cy="388.9"/><circle cx="985.7" cy="307.2"/><circle cx="1023.4" cy="251.4"/><circle cx="1010.7" cy="316.9"/><circle cx="1022.2" cy="245.6"/><circle cx="1036.4" cy="244.4"/><circle cx="994.2" cy="343.7"/><circle cx="842.8" cy="441.5"/><circle cx="786.4" cy="492"/><circle cx="841.3" cy="432.9"/><circle cx="876.8" cy="427.3"/><circle cx="941.9" cy="327.6"/><circle cx="966.9" cy="280.7"/><circle cx="938.4" cy="375.4"/><circle cx="1112.8" cy="225"/><circle cx="1053.8" cy="274.6"/><circle cx="1038.2" cy="250"/><circle cx="859.8" cy="417.6"/><circle cx="835.8" cy="426.8"/><circle cx="877.9" cy="405.4"/><circle cx="978.8" cy="324.3"/><circle cx="1054.4" cy="285.7"/><circle cx="799.6" cy="485.6"/><circle cx="905.3" cy="348.2"/><circle cx="982.5" cy="343.1"/><circle cx="880.5" cy="428.2"/><circle cx="859" cy="394.5"/><circle cx="858.8" cy="392.9"/><circle cx="903.6" cy="340.4"/><circle cx="1020.8" cy="288.1"/><circle cx="873.7" cy="385.7"/><circle cx="886.9" cy="363.3"/><circle cx="920.2" cy="377.1"/><circle cx="989.2" cy="347.2"/><circle cx="926.7" cy="387"/><circle cx="971.2" cy="343.1"/><circle cx="792.3" cy="479.3"/><circle cx="941.8" cy="376.9"/><circle cx="912.4" cy="333.5"/><circle cx="1028" cy="252.2"/><circle cx="927.1" cy="362.5"/><circle cx="892.9" cy="379.4"/><circle cx="1044.5" cy="236.7"/><circle cx="882.5" cy="355.2"/><circle cx="930.6" cy="358.9"/><circle cx="1129.7" cy="199.5"/><circle cx="903.2" cy="360.8"/><circle cx="872.6" cy="378.5"/><circle cx="981.6" cy="260.9"/><circle cx="834.4" cy="467.1"/><circle cx="888.5" cy="398.5"/><circle cx="1022.3" cy="270.9"/><circle cx="801.2" cy="465.5"/><circle cx="1002.9" cy="330.8"/><circle cx="944.6" cy="344.6"/><circle cx="1090" cy="215.9"/><circle cx="882.1" cy="364.6"/><circle cx="1014.8" cy="248.4"/><circle cx="886.6" cy="392.5"/><circle cx="896" cy="346.7"/><circle cx="928.5" cy="321.3"/><circle cx="952.4" cy="307.8"/><circle cx="980.9" cy="311.3"/><circle cx="1009.3" cy="281.1"/><circle cx="1026.6" cy="283.5"/><circle cx="903.6" cy="343.8"/><circle cx="1078.3" cy="223.8"/><circle cx="944.7" cy="349.7"/><circle cx="899.5" cy="406.4"/><circle cx="832.5" cy="465.1"/><circle cx="940.5" cy="333.9"/><circle cx="915.5" cy="330.1"/><circle cx="936.4" cy="315.5"/><circle cx="1146.5" cy="179.3"/><circle cx="959.3" cy="289.7"/><circle cx="906.8" cy="417.6"/><circle cx="887.6" cy="375.4"/><circle cx="1009.9" cy="314.6"/><circle cx="848.7" cy="456.2"/><circle cx="910.2" cy="349.4"/><circle cx="873.3" cy="433.2"/><circle cx="1069.8" cy="240.8"/><circle cx="802.2" cy="488.4"/><circle cx="981.3" cy="260.4"/><circle cx="988.8" cy="313.2"/><circle cx="878.8" cy="423.1"/><circle cx="992.1" cy="322.9"/><circle cx="811.3" cy="472.1"/><circle cx="950.4" cy="295.6"/><circle cx="998.8" cy="280.8"/><circle cx="1006.6" cy="341.2"/><circle cx="1028.4" cy="292.4"/><circle cx="1013" cy="271"/><circle cx="1019.9" cy="273.2"/><circle cx="923.3" cy="326.9"/><circle cx="1066.9" cy="279.2"/><circle cx="1023.6" cy="306.1"/><circle cx="876.7" cy="404.7"/><circle cx="904.9" cy="373.1"/><circle cx="1074.3" cy="250.8"/><circle cx="864.4" cy="432.7"/><circle cx="957.8" cy="380.6"/><circle cx="781.3" cy="499.6"/><circle cx="1021.1" cy="320"/><circle cx="869.1" cy="380.7"/><circle cx="1021.8" cy="284.6"/><circle cx="809.2" cy="482.1"/><circle cx="924.9" cy="354.4"/><circle cx="959.3" cy="382.9"/><circle cx="895.6" cy="368"/><circle cx="893.1" cy="373.1"/><circle cx="931.4" cy="305.3"/><circle cx="1037.3" cy="310.9"/><circle cx="970.2" cy="374.7"/><circle cx="980.3" cy="338"/><circle cx="992.2" cy="312.6"/><circle cx="1076.1" cy="241.3"/><circle cx="940.4" cy="380.2"/><circle cx="1020.5" cy="241.5"/><circle cx="1037.4" cy="294.4"/><circle cx="900.8" cy="343.8"/><circle cx="933.8" cy="346.1"/><circle cx="1016.2" cy="303.9"/><circle cx="1003" cy="283.7"/><circle cx="963" cy="293.8"/><circle cx="1059.8" cy="268.2"/><circle cx="1083.1" cy="255.9"/><circle cx="1100.9" cy="239.4"/><circle cx="925.9" cy="337.9"/><circle cx="921.9" cy="341.6"/><circle cx="1127.6" cy="206.3"/><circle cx="1046.8" cy="273.5"/><circle cx="888.5" cy="406"/><circle cx="860" cy="414.6"/><circle cx="846" cy="443"/><circle cx="1053.6" cy="287.7"/><circle cx="837.5" cy="437.4"/><circle cx="883.9" cy="376.8"/><circle cx="901.4" cy="377.5"/><circle cx="1126.7" cy="200.2"/><circle cx="999.6" cy="334.1"/><circle cx="1012.6" cy="285.9"/><circle cx="888.2" cy="357.4"/><circle cx="981.9" cy="365"/><circle cx="977.5" cy="337.1"/><circle cx="983" cy="340.2"/><circle cx="1068.7" cy="228.8"/><circle cx="866" cy="384.8"/><circle cx="1025" cy="293.1"/><circle cx="1066.8" cy="276"/><circle cx="829.8" cy="453.3"/><circle cx="1006.2" cy="292.3"/><circle cx="1130.2" cy="197.1"/><circle cx="977.9" cy="351.6"/><circle cx="888.4" cy="387.8"/><circle cx="962" cy="359.1"/><circle cx="986" cy="302.9"/><circle cx="995.7" cy="347.2"/><circle cx="879.6" cy="389.9"/><circle cx="1000" cy="285.6"/><circle cx="1002.9" cy="347.8"/><circle cx="855.8" cy="449.5"/><circle cx="928.3" cy="317.7"/><circle cx="989.7" cy="290.4"/><circle cx="1082.7" cy="232.3"/><circle cx="824.9" cy="444.5"/><circle cx="1070.2" cy="262.5"/><circle cx="1098" cy="253.9"/><circle cx="967.7" cy="365.1"/><circle cx="1010.2" cy="267.6"/><circle cx="930.6" cy="312.3"/><circle cx="793.9" cy="481.4"/><circle cx="1047.4" cy="294.8"/><circle cx="1080.8" cy="217.8"/><circle cx="856.9" cy="441.3"/><circle cx="880.9" cy="363.2"/><circle cx="935.3" cy="387.1"/><circle cx="835.3" cy="425.6"/><circle cx="978.9" cy="270"/><circle cx="973.5" cy="319.1"/><circle cx="980.7" cy="299.5"/><circle cx="885.4" cy="361.5"/><circle cx="927.5" cy="361"/><circle cx="953.6" cy="351"/><circle cx="890.2" cy="423.2"/><circle cx="924.7" cy="348.9"/><circle cx="949.5" cy="296.8"/><circle cx="987.9" cy="261.2"/><circle cx="1006.4" cy="307"/><circle cx="1049.9" cy="231.4"/><circle cx="901" cy="415.9"/><circle cx="1069.3" cy="222.4"/><circle cx="996.3" cy="252.7"/><circle cx="1038.7" cy="235.1"/><circle cx="946.6" cy="325.1"/><circle cx="1011.4" cy="290.7"/><circle cx="1014.4" cy="329.7"/><circle cx="898.9" cy="348.2"/><circle cx="926.9" cy="330.2"/><circle cx="1117.7" cy="209.1"/><circle cx="849.7" cy="419.8"/><circle cx="984.2" cy="363.7"/><circle cx="1038.5" cy="280.3"/><circle cx="768.3" cy="511.2"/><circle cx="984.8" cy="280.2"/><circle cx="937.1" cy="339.6"/><circle cx="1005.4" cy="244.6"/><circle cx="956.3" cy="293.1"/><circle cx="975.8" cy="325.8"/><circle cx="867.8" cy="443.6"/><circle cx="949.6" cy="344.9"/><circle cx="992.3" cy="344.7"/><circle cx="797.9" cy="485.2"/><circle cx="905.5" cy="353.9"/><circle cx="1010.3" cy="318.4"/><circle cx="819.2" cy="458.9"/><circle cx="889.4" cy="363.5"/><circle cx="1079.4" cy="253"/><circle cx="919.8" cy="397.5"/><circle cx="902.1" cy="405.5"/><circle cx="903.1" cy="405.3"/><circle cx="1043.7" cy="249.2"/><circle cx="990.7" cy="319"/><circle cx="914.7" cy="343.9"/><circle cx="1066.2" cy="272.9"/><circle cx="1024.3" cy="251"/><circle cx="967.1" cy="290.6"/><circle cx="908.8" cy="358.1"/><circle cx="988.5" cy="345.5"/><circle cx="964.7" cy="333.5"/><circle cx="1027.9" cy="300.4"/><circle cx="1012.9" cy="278.1"/><circle cx="789.8" cy="481.1"/><circle cx="1030.5" cy="308.1"/><circle cx="867.9" cy="410.3"/><circle cx="1062.5" cy="235.6"/><circle cx="900.9" cy="373.7"/><circle cx="787.8" cy="489.4"/><circle cx="1007" cy="265.7"/><circle cx="905.8" cy="330.6"/><circle cx="906.7" cy="342.9"/><circle cx="849.5" cy="416.1"/><circle cx="979.4" cy="342.5"/><circle cx="980.6" cy="334.2"/><circle cx="987.9" cy="313.2"/><circle cx="848.4" cy="410.1"/><circle cx="944.4" cy="357.3"/><circle cx="918.3" cy="384.6"/><circle cx="975.8" cy="293.5"/><circle cx="945.8" cy="339.1"/><circle cx="1034" cy="252"/><circle cx="1002.6" cy="259.1"/><circle cx="1009.1" cy="278.2"/><circle cx="934.2" cy="374.8"/><circle cx="916.1" cy="363.7"/><circle cx="905.1" cy="361.3"/><circle cx="853.2" cy="432.8"/><circle cx="968.3" cy="373.1"/><circle cx="920.3" cy="345.9"/><circle cx="1062" cy="281.9"/><circle cx="957.6" cy="373.3"/><circle cx="905.3" cy="331.6"/><circle cx="813" cy="472.5"/><circle cx="1023.8" cy="296.3"/><circle cx="1009.5" cy="308.5"/><circle cx="1005.4" cy="262.3"/><circle cx="885.3" cy="364.3"/><circle cx="1050.6" cy="252.9"/><circle cx="993.4" cy="345.1"/><circle cx="941.1" cy="364.8"/><circle cx="1063.7" cy="260.1"/><circle cx="840.1" cy="418.6"/><circle cx="1020.2" cy="294.9"/><circle cx="913.9" cy="384.2"/><circle cx="998.8" cy="339.4"/><circle cx="983.2" cy="332"/><circle cx="831.4" cy="441.9"/><circle cx="960.3" cy="368.3"/><circle cx="972.8" cy="350.7"/><circle cx="1035.9" cy="305.8"/><circle cx="1080.1" cy="225.1"/><circle cx="923.8" cy="323.6"/><circle cx="1065.7" cy="240.4"/><circle cx="819.6" cy="449.1"/><circle cx="925.1" cy="393.5"/><circle cx="1013.6" cy="324.1"/><circle cx="1014.8" cy="266.1"/><circle cx="848.9" cy="449.8"/><circle cx="902" cy="379.1"/><circle cx="987.6" cy="332.5"/><circle cx="899.9" cy="371.4"/><circle cx="951.4" cy="322.4"/><circle cx="980" cy="327.8"/><circle cx="1027.7" cy="260.4"/><circle cx="907.7" cy="388.7"/><circle cx="900.8" cy="357.5"/><circle cx="1058" cy="231.9"/><circle cx="1015.9" cy="244.7"/><circle cx="944.1" cy="304.3"/><circle cx="1001" cy="250.9"/><circle cx="897.8" cy="346.4"/><circle cx="878.1" cy="376.7"/><circle cx="779.4" cy="493.5"/><circle cx="1058.2" cy="283.8"/><circle cx="976.1" cy="338.2"/><circle cx="1015.2" cy="292.1"/><circle cx="910.1" cy="400"/><circle cx="979.9" cy="263.7"/><circle cx="943.4" cy="310.3"/><circle cx="1000.6" cy="350.6"/><circle cx="991.6" cy="324.8"/><circle cx="835.6" cy="448.5"/><circle cx="830" cy="435"/><circle cx="999.2" cy="315.8"/><circle cx="1028.4" cy="232.2"/><circle cx="848.2" cy="438.8"/><circle cx="927.5" cy="357.4"/><circle cx="1001.1" cy="326"/><circle cx="981" cy="328.9"/><circle cx="945.5" cy="334.5"/><circle cx="850.2" cy="417.8"/><circle cx="937" cy="315"/><circle cx="1120.9" cy="214.6"/><circle cx="894.4" cy="417"/><circle cx="897.2" cy="423.2"/><circle cx="974.3" cy="295"/><circle cx="859.7" cy="401.2"/><circle cx="933.1" cy="391"/><circle cx="917.3" cy="384.3"/><circle cx="936.4" cy="336.1"/><circle cx="1033" cy="248.4"/><circle cx="1009.5" cy="281.6"/><circle cx="852.2" cy="434.3"/><circle cx="920.6" cy="400.6"/><circle cx="1053.1" cy="222.2"/><circle cx="918.2" cy="398.5"/><circle cx="990.4" cy="283.8"/><circle cx="922.5" cy="323.5"/><circle cx="961.8" cy="364.8"/><circle cx="986.2" cy="356.9"/><circle cx="1025.5" cy="242.6"/><circle cx="939.1" cy="347.1"/><circle cx="807" cy="463.3"/><circle cx="1003.7" cy="288.5"/><circle cx="997.3" cy="297.3"/><circle cx="1023.1" cy="257.9"/><circle cx="993.8" cy="259.8"/><circle cx="852.8" cy="447"/><circle cx="796.7" cy="481.6"/><circle cx="956.5" cy="289.9"/><circle cx="851.5" cy="409.2"/><circle cx="1022" cy="281.1"/><circle cx="957.9" cy="289.9"/><circle cx="828.1" cy="459.2"/><circle cx="956.7" cy="284.1"/><circle cx="971.7" cy="313.3"/><circle cx="901.3" cy="381.7"/><circle cx="1032.6" cy="272.8"/><circle cx="901.4" cy="359.6"/><circle cx="1023.6" cy="261.3"/><circle cx="1081.7" cy="223.2"/><circle cx="859.6" cy="419.6"/><circle cx="967.2" cy="361.6"/><circle cx="1024.5" cy="241.4"/><circle cx="940.7" cy="357.1"/><circle cx="900.2" cy="361.9"/><circle cx="989.5" cy="346.9"/><circle cx="950.8" cy="364.4"/><circle cx="996.6" cy="321"/><circle cx="874" cy="385"/><circle cx="801.3" cy="484.4"/><circle cx="835.5" cy="442.2"/><circle cx="1010" cy="330.9"/><circle cx="824.7" cy="457.7"/><circle cx="902.7" cy="354.8"/><circle cx="1010.3" cy="264.1"/><circle cx="1071.1" cy="274.8"/><circle cx="962.2" cy="317.1"/><circle cx="1022.1" cy="235.8"/><circle cx="917.9" cy="372.4"/><circle cx="1015.8" cy="288.1"/><circle cx="1068.6" cy="274.6"/><circle cx="873.2" cy="417.1"/><circle cx="1017.3" cy="246.9"/><circle cx="977.1" cy="330.2"/><circle cx="924.9" cy="338.3"/><circle cx="1021.9" cy="319.2"/><circle cx="779.3" cy="493.9"/><circle cx="942.3" cy="358.9"/><circle cx="1039.6" cy="263.9"/><circle cx="1032.2" cy="240.8"/><circle cx="957" cy="372.7"/><circle cx="911" cy="379.7"/><circle cx="887.6" cy="368.1"/><circle cx="911.5" cy="355.6"/><circle cx="1071.8" cy="231.5"/><circle cx="905.5" cy="411.8"/><circle cx="924.5" cy="402"/><circle cx="975.6" cy="266.8"/><circle cx="897.1" cy="400"/><circle cx="788.4" cy="481.7"/><circle cx="839.9" cy="424.6"/><circle cx="928.9" cy="392"/><circle cx="1020.7" cy="306.1"/><circle cx="861.5" cy="398"/><circle cx="877.1" cy="370.9"/><circle cx="1051.4" cy="282.1"/><circle cx="941.9" cy="335"/><circle cx="909.2" cy="377.8"/><circle cx="876.8" cy="393"/><circle cx="1010.3" cy="303.6"/><circle cx="924.7" cy="366.7"/><circle cx="1067.6" cy="232.4"/><circle cx="935.3" cy="368.6"/><circle cx="837.4" cy="463.8"/><circle cx="1090" cy="251"/><circle cx="945.6" cy="320.7"/><circle cx="902.7" cy="374"/><circle cx="967.8" cy="355.1"/><circle cx="934.8" cy="340.2"/><circle cx="900.1" cy="366.1"/><circle cx="923.9" cy="361.6"/><circle cx="972" cy="329"/><circle cx="1058.5" cy="254.7"/><circle cx="1053.2" cy="262.3"/><circle cx="1059.4" cy="244.6"/><circle cx="952" cy="297.2"/><circle cx="1065.4" cy="280.1"/><circle cx="1105.1" cy="202.9"/><circle cx="995.5" cy="312.9"/><circle cx="1141.3" cy="193.3"/><circle cx="899.6" cy="344.3"/><circle cx="1125" cy="198.8"/><circle cx="998.1" cy="299.1"/><circle cx="795.5" cy="477.4"/><circle cx="853.9" cy="406.4"/><circle cx="965.3" cy="363"/><circle cx="1000.6" cy="295.5"/><circle cx="933.7" cy="390.3"/><circle cx="846.1" cy="417.2"/><circle cx="896.7" cy="417"/><circle cx="1003.8" cy="266.2"/><circle cx="1026.7" cy="244.7"/><circle cx="1040.5" cy="263.1"/><circle cx="990.8" cy="344.5"/><circle cx="1100.3" cy="243.1"/><circle cx="831.9" cy="431"/><circle cx="949.3" cy="363"/><circle cx="999.7" cy="299.5"/><circle cx="961.5" cy="338.1"/><circle cx="1010.9" cy="323.2"/><circle cx="920.1" cy="385.9"/><circle cx="808.8" cy="471.2"/><circle cx="893.4" cy="349.2"/><circle cx="916.7" cy="379"/><circle cx="994" cy="288.4"/><circle cx="847.4" cy="454.7"/><circle cx="1070.6" cy="271.3"/><circle cx="828.8" cy="438.5"/><circle cx="984.8" cy="287.5"/><circle cx="813.3" cy="462.5"/><circle cx="784.6" cy="487.7"/><circle cx="917.2" cy="398"/><circle cx="996.4" cy="280"/><circle cx="981.6" cy="303.1"/><circle cx="771.2" cy="512.1"/><circle cx="1014.6" cy="293.8"/><circle cx="946.2" cy="374.9"/><circle cx="831.3" cy="429.5"/><circle cx="1111.1" cy="202"/><circle cx="1049.5" cy="237.6"/><circle cx="943" cy="324.7"/><circle cx="879.2" cy="378.5"/><circle cx="950.2" cy="338.2"/><circle cx="936.7" cy="324.9"/><circle cx="855.5" cy="439.4"/><circle cx="920.5" cy="396.6"/><circle cx="1082.6" cy="255.7"/><circle cx="974.9" cy="291.3"/><circle cx="994.2" cy="274.6"/><circle cx="890.2" cy="401.2"/><circle cx="928.7" cy="318.2"/><circle cx="820.4" cy="450.3"/><circle cx="989" cy="293.9"/><circle cx="993.8" cy="349.9"/><circle cx="864.4" cy="400.2"/><circle cx="884" cy="374.2"/><circle cx="830" cy="444.1"/><circle cx="994.5" cy="295.5"/><circle cx="1035" cy="304.9"/><circle cx="950.6" cy="312"/><circle cx="765.5" cy="511.1"/><circle cx="983.8" cy="260.4"/><circle cx="985.7" cy="334.7"/><circle cx="1042.1" cy="309.1"/><circle cx="816.8" cy="480"/><circle cx="844.3" cy="457.9"/><circle cx="973.1" cy="358.7"/><circle cx="1074.9" cy="237.2"/><circle cx="852.9" cy="417.5"/><circle cx="927.4" cy="339.7"/><circle cx="966.8" cy="319.6"/><circle cx="967.5" cy="348.1"/><circle cx="978.8" cy="342.1"/><circle cx="1016.4" cy="254.4"/><circle cx="1083.9" cy="238.9"/><circle cx="873.5" cy="413.7"/><circle cx="904.7" cy="411.1"/><circle cx="919.2" cy="338.7"/><circle cx="1038" cy="287.8"/><circle cx="798.4" cy="489"/><circle cx="1051.8" cy="276.1"/><circle cx="884.2" cy="379.5"/><circle cx="1117.7" cy="220.3"/><circle cx="909.9" cy="363"/><circle cx="952.4" cy="328.2"/><circle cx="945.2" cy="320.9"/><circle cx="1157.6" cy="170.6"/><circle cx="916.9" cy="396"/><circle cx="1003.2" cy="290.8"/><circle cx="895.3" cy="349.3"/><circle cx="1009.3" cy="238.4"/><circle cx="916.8" cy="375.7"/><circle cx="1101.7" cy="213.5"/><circle cx="892.9" cy="402.5"/><circle cx="960.9" cy="375.1"/><circle cx="875.8" cy="385.8"/><circle cx="960.7" cy="325.5"/><circle cx="965.5" cy="305.6"/><circle cx="857" cy="393.1"/><circle cx="895" cy="377.1"/><circle cx="977.3" cy="269.9"/><circle cx="854.7" cy="403.8"/><circle cx="1026.5" cy="281.5"/><circle cx="858.5" cy="445.1"/><circle cx="933.3" cy="312.2"/><circle cx="952.9" cy="300.2"/><circle cx="889" cy="406.6"/><circle cx="1111.2" cy="219.9"/><circle cx="976.3" cy="343.8"/><circle cx="869.8" cy="381.4"/><circle cx="1025.4" cy="318.6"/><circle cx="888.1" cy="355.5"/><circle cx="1058.8" cy="265.2"/><circle cx="1020.7" cy="260.7"/><circle cx="1086.5" cy="239.3"/><circle cx="938.2" cy="363.7"/><circle cx="936.9" cy="393.4"/><circle cx="846.5" cy="411.1"/><circle cx="834.4" cy="465.6"/><circle cx="1003.9" cy="326.8"/><circle cx="966.5" cy="350"/><circle cx="1070.8" cy="226.3"/><circle cx="1046.5" cy="281.8"/><circle cx="954" cy="330.8"/><circle cx="946.4" cy="378.1"/><circle cx="872.3" cy="427.4"/><circle cx="961.8" cy="286.9"/><circle cx="969.8" cy="357.7"/><circle cx="953.8" cy="343"/><circle cx="1022.3" cy="289.7"/><circle cx="906.5" cy="351.8"/><circle cx="914" cy="346.6"/><circle cx="1002.5" cy="308.9"/><circle cx="959.3" cy="373.6"/><circle cx="1044.3" cy="233.7"/><circle cx="851.3" cy="405.7"/><circle cx="1052.3" cy="250.7"/><circle cx="1116.3" cy="217.8"/><circle cx="1045.4" cy="259.3"/><circle cx="881" cy="401"/><circle cx="854.5" cy="394.6"/><circle cx="883.1" cy="398.2"/><circle cx="945.6" cy="288.5"/><circle cx="875.4" cy="363.7"/><circle cx="905" cy="346.2"/><circle cx="920.7" cy="325.7"/><circle cx="907.9" cy="333.4"/><circle cx="885.1" cy="407.9"/><circle cx="1063.1" cy="258"/><circle cx="962.5" cy="347.9"/><circle cx="1070" cy="219.7"/><circle cx="961.5" cy="279.1"/><circle cx="951.1" cy="376.2"/><circle cx="833.9" cy="435.4"/><circle cx="947.9" cy="384.1"/><circle cx="916.8" cy="338.1"/><circle cx="832.7" cy="462.5"/><circle cx="923.3" cy="375.2"/><circle cx="855.5" cy="421.9"/><circle cx="1065.3" cy="267.2"/><circle cx="925.1" cy="355.1"/><circle cx="961.7" cy="341.2"/><circle cx="911.7" cy="351.2"/><circle cx="928.3" cy="367.7"/><circle cx="911.3" cy="363.9"/><circle cx="1054.8" cy="223.4"/><circle cx="952.4" cy="293.5"/><circle cx="907.3" cy="361.8"/><circle cx="1093.1" cy="232.7"/><circle cx="845.7" cy="416.3"/><circle cx="1053.5" cy="287.8"/><circle cx="1101" cy="211.2"/><circle cx="883.7" cy="421.9"/><circle cx="958.4" cy="324.4"/><circle cx="950.8" cy="376.3"/><circle cx="949.2" cy="334.4"/><circle cx="928.1" cy="321.1"/><circle cx="1003.4" cy="332.9"/><circle cx="923.1" cy="398.8"/><circle cx="920.1" cy="398"/><circle cx="1034.8" cy="288.6"/><circle cx="1016.7" cy="265.3"/><circle cx="893.2" cy="418.9"/><circle cx="858.7" cy="448.9"/><circle cx="1008.1" cy="286.3"/><circle cx="976.9" cy="324.9"/><circle cx="1045.9" cy="261.4"/><circle cx="1036.7" cy="255.2"/><circle cx="821.7" cy="460.1"/><circle cx="833" cy="463.6"/><circle cx="992.4" cy="299.1"/><circle cx="987" cy="346.2"/><circle cx="1065.5" cy="242.5"/><circle cx="934.1" cy="368.8"/><circle cx="1030.3" cy="240.9"/><circle cx="1015.3" cy="274.1"/><circle cx="877.1" cy="391.2"/><circle cx="1083.1" cy="264.7"/><circle cx="1009.4" cy="292.3"/><circle cx="875.6" cy="374.3"/><circle cx="1087.9" cy="258.3"/><circle cx="1008.7" cy="330.9"/><circle cx="932.4" cy="331"/><circle cx="843.3" cy="442.7"/><circle cx="1002.1" cy="252.5"/><circle cx="963.1" cy="375.4"/><circle cx="1001.7" cy="257.1"/><circle cx="1021" cy="318.8"/><circle cx="945.5" cy="337.5"/><circle cx="1028.3" cy="313.1"/><circle cx="919.9" cy="324.8"/><circle cx="897.9" cy="352"/><circle cx="1002.7" cy="325"/><circle cx="926.7" cy="326.3"/><circle cx="1033.1" cy="243.7"/><circle cx="1008.9" cy="267.6"/><circle cx="842" cy="455.5"/><circle cx="872.4" cy="436.9"/><circle cx="1019.7" cy="256.3"/><circle cx="898" cy="372.4"/><circle cx="951.6" cy="374.2"/><circle cx="881.6" cy="433.5"/><circle cx="982" cy="350.6"/><circle cx="1023.1" cy="285.3"/><circle cx="922.6" cy="407.2"/><circle cx="1022.6" cy="316.1"/><circle cx="1106.1" cy="204.9"/><circle cx="920.4" cy="397.4"/><circle cx="957.4" cy="295.4"/><circle cx="831.7" cy="457.6"/><circle cx="876.2" cy="408.1"/><circle cx="966.3" cy="315.7"/><circle cx="1104" cy="220.9"/><circle cx="987" cy="315.3"/><circle cx="865.3" cy="385.6"/><circle cx="962.9" cy="285.6"/><circle cx="931.6" cy="324.9"/><circle cx="875.2" cy="434.6"/><circle cx="1060" cy="282.1"/><circle cx="871.7" cy="379.9"/><circle cx="1035.4" cy="285.3"/><circle cx="999.9" cy="337.4"/><circle cx="1014.2" cy="325.7"/><circle cx="1033.6" cy="275.3"/><circle cx="837.9" cy="464.9"/><circle cx="856.8" cy="446.4"/><circle cx="873.1" cy="375.8"/><circle cx="970.7" cy="328.7"/><circle cx="923.9" cy="386.3"/><circle cx="849.5" cy="427.9"/><circle cx="974.6" cy="316.5"/><circle cx="1059.4" cy="279"/><circle cx="854.9" cy="457.7"/><circle cx="1057.8" cy="277.5"/><circle cx="1025.8" cy="281.8"/><circle cx="912.6" cy="376.9"/><circle cx="1020.1" cy="237.7"/><circle cx="1028.7" cy="236.9"/><circle cx="1049.8" cy="268"/><circle cx="809.1" cy="470.5"/><circle cx="965.8" cy="337.8"/><circle cx="908.9" cy="357"/><circle cx="775.2" cy="500.8"/><circle cx="948.8" cy="349"/><circle cx="1011.6" cy="242"/><circle cx="837.4" cy="469.2"/><circle cx="889.1" cy="396.4"/><circle cx="855.4" cy="426.7"/><circle cx="885.9" cy="394.4"/><circle cx="780.5" cy="502.7"/><circle cx="1044.8" cy="254.9"/><circle cx="935.7" cy="348.5"/><circle cx="999.4" cy="292.4"/><circle cx="947" cy="331.7"/><circle cx="1028.1" cy="319.4"/><circle cx="881.2" cy="363.2"/><circle cx="1100.1" cy="224.5"/><circle cx="965" cy="302.9"/><circle cx="1059.3" cy="234.5"/><circle cx="857.9" cy="397.3"/><circle cx="817" cy="460.4"/><circle cx="922.1" cy="369"/><circle cx="914.2" cy="378"/><circle cx="922.1" cy="319.1"/><circle cx="1049.8" cy="232.3"/><circle cx="843" cy="421.4"/><circle cx="1072" cy="232"/><circle cx="913" cy="367.9"/><circle cx="933.1" cy="341.4"/><circle cx="861.8" cy="390.5"/><circle cx="1036.3" cy="227.7"/><circle cx="859.7" cy="437.4"/><circle cx="957.5" cy="337.3"/><circle cx="892.5" cy="406.1"/><circle cx="1064.2" cy="235.9"/><circle cx="919.2" cy="397.9"/><circle cx="863.9" cy="388.8"/><circle cx="905.5" cy="340.2"/><circle cx="941.3" cy="372.3"/><circle cx="1009.5" cy="331.8"/><circle cx="1043.9" cy="270.7"/><circle cx="1068" cy="276.4"/><circle cx="920.9" cy="362.9"/><circle cx="939.5" cy="303.8"/><circle cx="869.6" cy="403.1"/><circle cx="1005.5" cy="287.5"/><circle cx="1021.5" cy="297.9"/><circle cx="994.1" cy="256.2"/><circle cx="901.2" cy="405"/><circle cx="789.6" cy="491.6"/><circle cx="1016.3" cy="290.8"/><circle cx="947.2" cy="361.6"/><circle cx="982.8" cy="338.9"/><circle cx="971.5" cy="313.8"/><circle cx="1009.9" cy="329.1"/><circle cx="968.4" cy="353.2"/><circle cx="1014.4" cy="311.8"/><circle cx="926.4" cy="403.4"/><circle cx="1022.9" cy="239.5"/><circle cx="1056" cy="228.8"/><circle cx="923.4" cy="401.3"/><circle cx="791.8" cy="484.4"/><circle cx="897.6" cy="416.3"/><circle cx="827.7" cy="470"/><circle cx="1030.5" cy="247.5"/><circle cx="931.8" cy="386"/><circle cx="864.1" cy="437.6"/><circle cx="789.7" cy="496.8"/><circle cx="959.3" cy="359.4"/><circle cx="985.9" cy="303.9"/><circle cx="910.8" cy="372.1"/><circle cx="1050.4" cy="231.6"/><circle cx="791.4" cy="492.5"/><circle cx="788.6" cy="488.1"/><circle cx="845.9" cy="424.1"/><circle cx="952.9" cy="360.6"/><circle cx="982.3" cy="324.5"/><circle cx="950.9" cy="371.4"/><circle cx="871.8" cy="395.9"/><circle cx="1026.5" cy="243"/><circle cx="874.6" cy="370.7"/><circle cx="943.3" cy="302.2"/><circle cx="1034.9" cy="231.7"/><circle cx="888.2" cy="423.5"/><circle cx="953.3" cy="282.6"/><circle cx="913.3" cy="393.8"/><circle cx="790.1" cy="481.8"/><circle cx="1063.6" cy="249.8"/><circle cx="978.2" cy="281.1"/><circle cx="1046.4" cy="272.1"/><circle cx="985.7" cy="318.9"/><circle cx="812.2" cy="463.5"/><circle cx="986.3" cy="305.5"/><circle cx="1085.7" cy="247"/><circle cx="862.3" cy="390.8"/><circle cx="887.8" cy="389.4"/><circle cx="924.4" cy="334"/><circle cx="818.1" cy="467.5"/><circle cx="877.1" cy="393"/><circle cx="1045.7" cy="253.5"/><circle cx="1025.6" cy="243.5"/><circle cx="963.7" cy="314.3"/><circle cx="975" cy="280.1"/><circle cx="901.8" cy="375.6"/><circle cx="948.3" cy="300.9"/><circle cx="855" cy="445.8"/><circle cx="965" cy="364.7"/><circle cx="1117.8" cy="229.2"/><circle cx="882.7" cy="369.1"/><circle cx="1036.1" cy="238.9"/><circle cx="870.3" cy="397.7"/><circle cx="994.5" cy="341.2"/><circle cx="1024.2" cy="300.3"/><circle cx="839.2" cy="432.9"/><circle cx="827.3" cy="455.6"/><circle cx="951.4" cy="328.8"/><circle cx="949.6" cy="372.9"/><circle cx="912.8" cy="370.7"/><circle cx="868.3" cy="439.8"/><circle cx="935.5" cy="350.6"/><circle cx="995.8" cy="309.4"/><circle cx="910.8" cy="377.6"/><circle cx="1043.8" cy="303.8"/><circle cx="932.7" cy="366.9"/><circle cx="861.1" cy="427.3"/><circle cx="886" cy="390.2"/><circle cx="1038.2" cy="286.6"/><circle cx="818.8" cy="447.1"/><circle cx="866.3" cy="437.1"/><circle cx="1052.5" cy="281.3"/><circle cx="1028.7" cy="318.5"/><circle cx="958.5" cy="311.2"/><circle cx="842.2" cy="419.3"/><circle cx="1075.9" cy="261.9"/><circle cx="990.9" cy="325.6"/><circle cx="930.5" cy="306"/><circle cx="903.7" cy="389.1"/><circle cx="899.6" cy="389.3"/><circle cx="963.9" cy="283.8"/><circle cx="966.5" cy="281.4"/><circle cx="952.7" cy="308"/><circle cx="885.6" cy="433.4"/><circle cx="979" cy="310"/><circle cx="963.6" cy="285.8"/><circle cx="828.8" cy="455.7"/><circle cx="1089.1" cy="236"/><circle cx="869.3" cy="410.4"/><circle cx="913.3" cy="402.2"/><circle cx="948.8" cy="351.4"/><circle cx="1020.7" cy="273.7"/><circle cx="934.8" cy="312.2"/><circle cx="1076" cy="234"/><circle cx="930.1" cy="380.6"/><circle cx="1020.9" cy="284.1"/><circle cx="1031.1" cy="321.6"/><circle cx="913.3" cy="404.8"/><circle cx="1010.5" cy="238.4"/><circle cx="962.1" cy="360.3"/><circle cx="1056.3" cy="289.7"/><circle cx="1043.8" cy="286.2"/><circle cx="986.9" cy="348.1"/><circle cx="1004.7" cy="254.2"/><circle cx="995.2" cy="287.4"/><circle cx="993.4" cy="276.5"/><circle cx="938.1" cy="385.2"/><circle cx="972.7" cy="358.8"/><circle cx="1043.5" cy="274.6"/><circle cx="791.4" cy="494.7"/><circle cx="1077.7" cy="223.2"/><circle cx="825.5" cy="469.2"/><circle cx="873.8" cy="379.3"/><circle cx="1072.6" cy="225.4"/><circle cx="965.1" cy="328.8"/><circle cx="903.9" cy="398.3"/><circle cx="937.6" cy="331.9"/><circle cx="834.6" cy="438.9"/><circle cx="1049.9" cy="271.1"/><circle cx="1011.9" cy="247.9"/><circle cx="1050.1" cy="239.9"/><circle cx="923.7" cy="325.4"/><circle cx="900.3" cy="402.7"/><circle cx="897.6" cy="410"/><circle cx="890.2" cy="406.6"/><circle cx="922.8" cy="380.3"/><circle cx="935" cy="351.3"/><circle cx="872.3" cy="384.4"/><circle cx="940.9" cy="381.1"/><circle cx="1048.8" cy="260.5"/><circle cx="943.3" cy="328.7"/><circle cx="868.9" cy="385.9"/><circle cx="940.9" cy="345.1"/><circle cx="960.3" cy="309.3"/><circle cx="919.4" cy="345.9"/><circle cx="845.2" cy="445.5"/><circle cx="872.3" cy="402.4"/><circle cx="890.7" cy="371.1"/><circle cx="977.2" cy="260.5"/><circle cx="980.5" cy="273.1"/><circle cx="988.7" cy="344"/><circle cx="866.6" cy="442.1"/><circle cx="838.2" cy="462.9"/><circle cx="994" cy="292.1"/><circle cx="905.7" cy="405.5"/><circle cx="819" cy="446.4"/><circle cx="983.1" cy="288.5"/><circle cx="1045.8" cy="240.2"/><circle cx="1108.4" cy="210.9"/><circle cx="1016.9" cy="277"/><circle cx="1046.9" cy="275.5"/><circle cx="827.9" cy="434.1"/><circle cx="942.2" cy="291.1"/><circle cx="1052.9" cy="228.4"/><circle cx="798.7" cy="475.7"/><circle cx="962.2" cy="297.7"/><circle cx="1019.8" cy="303.4"/><circle cx="903.6" cy="388.7"/><circle cx="1005.8" cy="325.1"/><circle cx="893" cy="348.7"/><circle cx="1073.7" cy="238.2"/><circle cx="998.9" cy="338.3"/><circle cx="905.5" cy="407.8"/><circle cx="938.4" cy="308.2"/><circle cx="857.4" cy="429.4"/><circle cx="903.6" cy="413.1"/><circle cx="1059.5" cy="291.2"/><circle cx="1104.2" cy="233.5"/><circle cx="992" cy="305.1"/><circle cx="947.2" cy="301.4"/><circle cx="949.3" cy="350.2"/><circle cx="974.2" cy="350"/><circle cx="908.5" cy="333.3"/><circle cx="907.5" cy="416.6"/><circle cx="852.1" cy="451.1"/><circle cx="854.6" cy="395.6"/><circle cx="952.8" cy="366.8"/><circle cx="980.7" cy="335.7"/><circle cx="936.2" cy="331.2"/><circle cx="801.1" cy="482.7"/><circle cx="962.1" cy="336"/><circle cx="1002.5" cy="261.8"/><circle cx="1103.7" cy="226.1"/><circle cx="939.2" cy="379.9"/><circle cx="1087.8" cy="243.5"/><circle cx="1071.7" cy="262.1"/><circle cx="964.8" cy="287"/><circle cx="952.2" cy="384.7"/><circle cx="1015.6" cy="324"/><circle cx="901.3" cy="375.6"/><circle cx="926.6" cy="325.5"/><circle cx="952.6" cy="325.4"/><circle cx="955.6" cy="358.7"/><circle cx="872.9" cy="440.4"/><circle cx="1038.1" cy="289"/><circle cx="917.9" cy="320"/><circle cx="874.2" cy="389.7"/><circle cx="836" cy="465.2"/><circle cx="1096.5" cy="243.3"/><circle cx="1063.1" cy="280.5"/><circle cx="944.8" cy="363.5"/><circle cx="1099.8" cy="243"/><circle cx="935.7" cy="381.9"/><circle cx="934.9" cy="369.9"/><circle cx="1048.9" cy="240.4"/><circle cx="999.8" cy="326.1"/><circle cx="910.5" cy="407.4"/><circle cx="926.1" cy="371.5"/><circle cx="807.2" cy="475.9"/><circle cx="1046.4" cy="294.9"/><circle cx="998.2" cy="337.6"/><circle cx="951.9" cy="318.9"/><circle cx="868.3" cy="383"/><circle cx="884.5" cy="426.3"/><circle cx="1069.7" cy="235.6"/><circle cx="845.1" cy="410.1"/><circle cx="870.7" cy="431.5"/><circle cx="932.9" cy="387.7"/><circle cx="939.2" cy="342.3"/><circle cx="982.2" cy="290.4"/><circle cx="1065.6" cy="223.5"/><circle cx="956.1" cy="293.9"/><circle cx="917.5" cy="372.1"/><circle cx="922" cy="320.6"/><circle cx="976.4" cy="350.3"/><circle cx="972.2" cy="350.5"/><circle cx="1029.6" cy="238.9"/><circle cx="1054" cy="296.2"/><circle cx="1046.3" cy="291.8"/><circle cx="975.3" cy="304.2"/><circle cx="1035.8" cy="299.8"/><circle cx="957.9" cy="370.3"/><circle cx="783" cy="501.9"/><circle cx="978.3" cy="270.6"/><circle cx="1002.5" cy="291.2"/><circle cx="1009.2" cy="328.6"/><circle cx="914.8" cy="360.9"/><circle cx="984.6" cy="301.3"/><circle cx="921" cy="401.8"/><circle cx="808.9" cy="459.1"/><circle cx="822.6" cy="453.1"/><circle cx="792.3" cy="480.9"/><circle cx="1017.7" cy="265.3"/><circle cx="995.1" cy="262.7"/><circle cx="857.8" cy="436.3"/><circle cx="840.7" cy="460.2"/><circle cx="1005.1" cy="312"/><circle cx="1071.8" cy="250.8"/><circle cx="809.6" cy="480"/><circle cx="1121.4" cy="195.1"/><circle cx="1088.7" cy="216.9"/><circle cx="999.3" cy="283.2"/><circle cx="962.1" cy="293.7"/><circle cx="926.8" cy="384.4"/><circle cx="917.9" cy="316.1"/><circle cx="898.2" cy="425.6"/><circle cx="797.1" cy="481.1"/><circle cx="924.7" cy="331.1"/><circle cx="951.8" cy="334.9"/><circle cx="1031.7" cy="286"/><circle cx="932.1" cy="355.4"/><circle cx="1002.5" cy="261.1"/><circle cx="1042.4" cy="259.2"/><circle cx="945" cy="324.6"/><circle cx="917.7" cy="373.5"/><circle cx="768.2" cy="514.8"/><circle cx="984.5" cy="290.1"/><circle cx="987.3" cy="293.4"/><circle cx="868.1" cy="382.1"/><circle cx="787.9" cy="494.2"/><circle cx="923.6" cy="362.1"/><circle cx="888.6" cy="373.2"/><circle cx="974.2" cy="370.9"/><circle cx="947.9" cy="376.1"/><circle cx="1093.6" cy="235.9"/><circle cx="1073.2" cy="269.9"/><circle cx="1034.2" cy="245"/><circle cx="985.9" cy="267.5"/><circle cx="1073.5" cy="271.4"/><circle cx="1033" cy="235.9"/><circle cx="898.4" cy="362.8"/><circle cx="959" cy="372.7"/><circle cx="1042.4" cy="263"/><circle cx="980.2" cy="289"/><circle cx="1110.1" cy="202.3"/><circle cx="929" cy="366.7"/><circle cx="951.2" cy="383.2"/><circle cx="1041.9" cy="299.3"/><circle cx="1039" cy="298"/><circle cx="986.8" cy="333.2"/><circle cx="1054.1" cy="268.1"/><circle cx="1040.3" cy="265.2"/><circle cx="841.1" cy="460"/><circle cx="1020" cy="287"/><circle cx="942.5" cy="370.7"/><circle cx="855.5" cy="439.2"/><circle cx="787.4" cy="492.4"/><circle cx="1032.4" cy="256.5"/><circle cx="1075" cy="268.7"/><circle cx="1039" cy="287.4"/><circle cx="936.9" cy="366.5"/><circle cx="859.2" cy="446.7"/><circle cx="976.9" cy="352.8"/><circle cx="1072.9" cy="234.3"/><circle cx="1026.5" cy="271.2"/><circle cx="1016.3" cy="256.1"/><circle cx="996.4" cy="261.9"/><circle cx="965.6" cy="280.4"/><circle cx="825.5" cy="447.7"/><circle cx="819.9" cy="449.4"/><circle cx="950.8" cy="304.6"/><circle cx="917.5" cy="329.9"/><circle cx="1031.3" cy="264.3"/><circle cx="1048.4" cy="281.5"/><circle cx="883.9" cy="427"/><circle cx="1072.3" cy="227.9"/><circle cx="915.8" cy="318"/><circle cx="972.5" cy="330.7"/><circle cx="1026.1" cy="231.4"/><circle cx="1002.8" cy="276.1"/><circle cx="1022.6" cy="246.7"/><circle cx="819.5" cy="455.3"/><circle cx="928.2" cy="360.5"/><circle cx="929.1" cy="316"/><circle cx="851.4" cy="427.9"/><circle cx="969.2" cy="364.5"/><circle cx="909" cy="335.2"/><circle cx="1021.9" cy="242.3"/><circle cx="1014.4" cy="305.9"/><circle cx="984.3" cy="273.7"/><circle cx="1099" cy="227.8"/><circle cx="958.4" cy="346.9"/><circle cx="1010.7" cy="272.1"/><circle cx="804.5" cy="468.6"/><circle cx="1014.7" cy="249.4"/><circle cx="1026.6" cy="285.7"/><circle cx="1066.1" cy="226"/><circle cx="1018" cy="320.2"/><circle cx="888.7" cy="357.4"/><circle cx="985.8" cy="332.3"/><circle cx="1029.3" cy="266.7"/><circle cx="842.8" cy="435.1"/><circle cx="797.6" cy="473.9"/><circle cx="996.9" cy="274.9"/><circle cx="1016.6" cy="321.9"/><circle cx="1046.7" cy="289.8"/><circle cx="825.4" cy="469.8"/><circle cx="973.4" cy="330.6"/><circle cx="996.5" cy="253"/><circle cx="926.6" cy="311.6"/><circle cx="965.7" cy="351"/><circle cx="1008.8" cy="282.5"/><circle cx="790.1" cy="482.3"/><circle cx="911.8" cy="332.2"/><circle cx="830.3" cy="457.5"/><circle cx="1045.5" cy="272.6"/><circle cx="845.8" cy="407.8"/><circle cx="959.6" cy="354"/><circle cx="846" cy="444.9"/><circle cx="934.6" cy="351.1"/><circle cx="976.4" cy="369.3"/><circle cx="847" cy="444.7"/><circle cx="1094.1" cy="223"/><circle cx="1002.4" cy="265"/><circle cx="1045.6" cy="255.5"/><circle cx="899.6" cy="386"/><circle cx="1022.1" cy="306.6"/><circle cx="1078" cy="263"/><circle cx="1006.7" cy="297.5"/><circle cx="979.7" cy="354.7"/><circle cx="915.7" cy="398.3"/><circle cx="928" cy="339.5"/><circle cx="987.3" cy="327.3"/><circle cx="918.3" cy="334"/><circle cx="798.2" cy="489.1"/><circle cx="986.9" cy="288"/><circle cx="824.6" cy="453.3"/><circle cx="988.2" cy="265.2"/><circle cx="917.3" cy="372.9"/><circle cx="1114.6" cy="234.5"/><circle cx="1071.1" cy="266.2"/><circle cx="934.2" cy="317.5"/><circle cx="829.4" cy="433.8"/><circle cx="863.5" cy="426.2"/><circle cx="989" cy="295"/><circle cx="909.6" cy="398.3"/><circle cx="977.1" cy="271.6"/><circle cx="1003.8" cy="241.1"/><circle cx="830" cy="460.5"/><circle cx="1027.3" cy="256.5"/><circle cx="895.9" cy="421.6"/><circle cx="989.1" cy="252.2"/><circle cx="863.5" cy="389.5"/><circle cx="803.9" cy="467.3"/><circle cx="976.6" cy="300.3"/><circle cx="971.5" cy="320.4"/><circle cx="1071.1" cy="241.4"/><circle cx="954.8" cy="371.4"/><circle cx="909" cy="405.2"/><circle cx="1024.4" cy="237.2"/><circle cx="898.2" cy="422.7"/><circle cx="1120.9" cy="222.5"/><circle cx="1019.2" cy="274.4"/><circle cx="1004.6" cy="270.4"/><circle cx="791.3" cy="494.1"/><circle cx="1017.8" cy="300"/><circle cx="937.9" cy="376.1"/><circle cx="1020.8" cy="318.7"/><circle cx="950.1" cy="368"/><circle cx="938.9" cy="313.5"/><circle cx="1060.5" cy="229.2"/><circle cx="932.4" cy="363.6"/><circle cx="1030.2" cy="308.6"/><circle cx="950.1" cy="353.3"/><circle cx="998.1" cy="332.8"/><circle cx="919.5" cy="355.7"/><circle cx="966.4" cy="362.7"/><circle cx="1004.2" cy="267.5"/><circle cx="996.4" cy="288.7"/><circle cx="947.2" cy="383.8"/><circle cx="985" cy="308.7"/><circle cx="797.4" cy="485.7"/><circle cx="1023.4" cy="306"/><circle cx="1116" cy="205.5"/><circle cx="945.9" cy="337.4"/><circle cx="976" cy="297.4"/><circle cx="889.9" cy="372.6"/><circle cx="792.4" cy="495.7"/><circle cx="859.1" cy="453.2"/><circle cx="842.2" cy="428.2"/><circle cx="824.2" cy="442.9"/><circle cx="1088.9" cy="253.7"/><circle cx="827" cy="469.9"/><circle cx="1027.7" cy="292.7"/><circle cx="1064.6" cy="278.2"/><circle cx="973.7" cy="366.5"/><circle cx="921.9" cy="315.6"/><circle cx="1017.7" cy="292.3"/><circle cx="853.8" cy="436.4"/><circle cx="1022.6" cy="318.2"/><circle cx="864.3" cy="438.4"/><circle cx="991.8" cy="281.2"/><circle cx="990.7" cy="356.1"/><circle cx="898.3" cy="380.5"/><circle cx="947.1" cy="358.7"/><circle cx="1103.7" cy="244.1"/><circle cx="901.4" cy="365"/><circle cx="995.8" cy="319.1"/><circle cx="841.9" cy="455.1"/><circle cx="832.2" cy="445.6"/><circle cx="876.7" cy="431.9"/><circle cx="1010.6" cy="257.3"/><circle cx="988.8" cy="318.3"/><circle cx="966.6" cy="298.1"/><circle cx="964.4" cy="331.9"/><circle cx="931.8" cy="357.2"/><circle cx="889.9" cy="402.5"/><circle cx="928.2" cy="384.8"/><circle cx="913.7" cy="356.9"/><circle cx="984" cy="290.3"/><circle cx="1015" cy="322.8"/><circle cx="1035.6" cy="289.7"/><circle cx="867.1" cy="423.1"/><circle cx="1040" cy="234"/><circle cx="943.8" cy="358.6"/><circle cx="840.2" cy="438.2"/><circle cx="887.5" cy="421.8"/><circle cx="869.1" cy="400.8"/><circle cx="883.3" cy="375.7"/><circle cx="943.4" cy="328.4"/><circle cx="974.4" cy="357.1"/><circle cx="1021" cy="251.2"/><circle cx="938.8" cy="337.7"/><circle cx="863.6" cy="412.4"/><circle cx="966.9" cy="363.1"/><circle cx="972.2" cy="315.7"/><circle cx="936.8" cy="331.3"/><circle cx="853.7" cy="427.8"/><circle cx="987.2" cy="335"/><circle cx="945.8" cy="332.1"/><circle cx="1095.8" cy="221.1"/><circle cx="927.8" cy="405.2"/><circle cx="1060.7" cy="240.6"/><circle cx="868.1" cy="408"/><circle cx="889" cy="410"/><circle cx="1088.7" cy="213.5"/><circle cx="868.9" cy="439.4"/><circle cx="771.8" cy="511.4"/><circle cx="891.4" cy="419.3"/><circle cx="1032.6" cy="284.8"/><circle cx="940.9" cy="373.8"/><circle cx="996.5" cy="297.8"/><circle cx="970" cy="345.8"/><circle cx="829.3" cy="433.1"/><circle cx="957.2" cy="370.2"/><circle cx="1159.8" cy="172.8"/><circle cx="1043.8" cy="274"/><circle cx="841.2" cy="431"/><circle cx="855.4" cy="438.8"/><circle cx="956.2" cy="300.3"/><circle cx="783.3" cy="495.8"/><circle cx="1027.9" cy="300"/><circle cx="905.2" cy="418.5"/><circle cx="867.5" cy="384.4"/><circle cx="1040.9" cy="300.3"/><circle cx="1046.1" cy="294.9"/><circle cx="888" cy="371.6"/><circle cx="990.9" cy="307.5"/><circle cx="830.1" cy="451.3"/><circle cx="856.8" cy="438.9"/><circle cx="954.9" cy="338"/><circle cx="1076" cy="218.8"/><circle cx="1012.7" cy="277.8"/><circle cx="856.7" cy="455.3"/><circle cx="973.2" cy="290.5"/><circle cx="832.4" cy="425.8"/><circle cx="965.7" cy="357.6"/><circle cx="882.2" cy="364.4"/><circle cx="806.6" cy="462.3"/><circle cx="968.3" cy="355.4"/><circle cx="1001.4" cy="297.5"/><circle cx="850.2" cy="437.5"/><circle cx="1003.8" cy="269"/><circle cx="1039.6" cy="291.6"/><circle cx="1080.5" cy="223"/><circle cx="1034.2" cy="235.4"/><circle cx="847.6" cy="409.8"/><circle cx="1004.6" cy="310.8"/><circle cx="922.7" cy="324.8"/><circle cx="981.3" cy="366.4"/><circle cx="918.9" cy="331.1"/><circle cx="1035.4" cy="280.4"/><circle cx="882.5" cy="361.1"/><circle cx="1024.2" cy="246.1"/><circle cx="910" cy="384.3"/><circle cx="1003.9" cy="310"/><circle cx="987.7" cy="347.8"/><circle cx="1020.9" cy="259.4"/><circle cx="908.4" cy="327.7"/><circle cx="944.7" cy="315.1"/><circle cx="936.6" cy="384.5"/><circle cx="1008.4" cy="317.5"/><circle cx="927.5" cy="383.1"/><circle cx="1068.3" cy="277.6"/><circle cx="926.4" cy="406.2"/><circle cx="990.4" cy="332.5"/><circle cx="777" cy="506.7"/><circle cx="1037.4" cy="292.6"/><circle cx="1044.4" cy="304.6"/><circle cx="953.5" cy="373.2"/><circle cx="942.8" cy="322.9"/><circle cx="905.2" cy="347.1"/><circle cx="1130.1" cy="205.7"/><circle cx="867.2" cy="381.8"/><circle cx="1071.9" cy="262.8"/><circle cx="1002.5" cy="304.5"/><circle cx="846.9" cy="455.9"/><circle cx="917.1" cy="328.5"/><circle cx="1015.9" cy="322"/><circle cx="950.6" cy="315.1"/><circle cx="1001.8" cy="321.2"/><circle cx="900.2" cy="408.5"/><circle cx="874.2" cy="425.7"/><circle cx="1045.4" cy="231.9"/><circle cx="1071.5" cy="225"/><circle cx="967.2" cy="305"/><circle cx="1023.6" cy="266.6"/><circle cx="764.9" cy="512.1"/><circle cx="908.1" cy="331.4"/><circle cx="911.5" cy="406.1"/><circle cx="971.3" cy="298.3"/><circle cx="1030.6" cy="228.3"/><circle cx="994.8" cy="340.5"/><circle cx="1113" cy="208.6"/><circle cx="875.7" cy="412.2"/><circle cx="1118.1" cy="199.1"/><circle cx="921.7" cy="375.9"/><circle cx="979.4" cy="352.7"/><circle cx="986" cy="323.4"/><circle cx="1037.7" cy="238.5"/><circle cx="931.1" cy="361.6"/><circle cx="1152.2" cy="178"/><circle cx="971.4" cy="305.6"/><circle cx="895.6" cy="399.4"/><circle cx="1009.3" cy="246.1"/><circle cx="974.7" cy="266.7"/><circle cx="942.3" cy="372.2"/><circle cx="979.2" cy="290.8"/><circle cx="815.2" cy="452.2"/><circle cx="1020.2" cy="284.1"/><circle cx="1129.4" cy="207.5"/><circle cx="985.8" cy="328.3"/><circle cx="926.8" cy="355.6"/><circle cx="1064.8" cy="241.4"/><circle cx="869.9" cy="429.2"/><circle cx="912.5" cy="321.6"/><circle cx="965.4" cy="336.8"/><circle cx="1048.5" cy="294.2"/><circle cx="1034" cy="263.4"/><circle cx="1030.3" cy="260.8"/><circle cx="1038.3" cy="232.8"/><circle cx="947.8" cy="292.8"/><circle cx="1006.7" cy="344"/><circle cx="880.3" cy="398.9"/><circle cx="881.1" cy="364.3"/><circle cx="875.6" cy="379.8"/><circle cx="1059" cy="259.8"/><circle cx="967.8" cy="293.2"/><circle cx="913.2" cy="333.9"/><circle cx="1047.9" cy="224.8"/><circle cx="773.9" cy="499.6"/><circle cx="951.8" cy="374"/><circle cx="982.8" cy="324"/><circle cx="796.3" cy="492.8"/><circle cx="872.1" cy="376.2"/><circle cx="967.7" cy="282.2"/><circle cx="874.7" cy="375.3"/><circle cx="1027.9" cy="278.6"/><circle cx="813.3" cy="457.4"/><circle cx="1116.9" cy="208.7"/><circle cx="1041.1" cy="234.7"/><circle cx="829.3" cy="455.6"/><circle cx="983.5" cy="272.1"/><circle cx="916.1" cy="379.5"/><circle cx="968.5" cy="362.4"/><circle cx="769.8" cy="506.6"/><circle cx="1060.6" cy="274.9"/><circle cx="931.3" cy="361"/><circle cx="1144.7" cy="205.7"/><circle cx="1131" cy="202.2"/><circle cx="951.2" cy="356.7"/><circle cx="1062.6" cy="275.8"/><circle cx="971.3" cy="322.4"/><circle cx="1009.5" cy="257.1"/><circle cx="1043.2" cy="235.8"/><circle cx="838.4" cy="435.3"/><circle cx="930.1" cy="338"/><circle cx="908.3" cy="352.1"/><circle cx="837.3" cy="465.6"/><circle cx="983.1" cy="291.9"/><circle cx="832" cy="436.5"/><circle cx="1098.8" cy="221.6"/><circle cx="1009.9" cy="339.4"/><circle cx="945.7" cy="295.3"/><circle cx="1016.4" cy="325.1"/><circle cx="877.2" cy="434.9"/><circle cx="832.3" cy="464"/><circle cx="810.7" cy="469.4"/><circle cx="869.8" cy="374"/><circle cx="858.8" cy="440.7"/><circle cx="805.5" cy="459.9"/><circle cx="1049.6" cy="262.4"/><circle cx="1054.7" cy="294.1"/><circle cx="858.9" cy="403.6"/><circle cx="1023.3" cy="262.9"/><circle cx="986.6" cy="349"/><circle cx="919.6" cy="379.3"/><circle cx="1017.1" cy="256.3"/><circle cx="879.9" cy="437.8"/><circle cx="1046.5" cy="237.7"/><circle cx="961.5" cy="367"/><circle cx="900" cy="418.3"/><circle cx="979.5" cy="317.9"/><circle cx="859.4" cy="416.6"/><circle cx="968.5" cy="373.4"/><circle cx="877.6" cy="430.3"/><circle cx="1006.3" cy="330.7"/><circle cx="917.6" cy="374.4"/><circle cx="920.3" cy="399.1"/><circle cx="997.8" cy="297.5"/><circle cx="1025.6" cy="295"/><circle cx="1051.3" cy="282.7"/><circle cx="975.2" cy="337.5"/><circle cx="980.9" cy="299.4"/><circle cx="988.9" cy="280.7"/><circle cx="994.2" cy="277.4"/><circle cx="1049.4" cy="280.6"/><circle cx="958.3" cy="309.7"/><circle cx="1004.6" cy="249.7"/><circle cx="860.9" cy="443.3"/><circle cx="960.6" cy="285.9"/><circle cx="1083.9" cy="222.4"/><circle cx="1042.2" cy="257.4"/><circle cx="1096.3" cy="219.2"/><circle cx="1111.8" cy="212.7"/><circle cx="985.3" cy="281.3"/><circle cx="904.6" cy="374.6"/><circle cx="859.2" cy="407"/><circle cx="910.3" cy="391"/><circle cx="972.6" cy="275.4"/><circle cx="1080.9" cy="216.3"/><circle cx="1068.9" cy="249.1"/><circle cx="995.1" cy="254.2"/><circle cx="944.2" cy="329.1"/><circle cx="814.7" cy="468.2"/><circle cx="872.6" cy="431.5"/><circle cx="954.6" cy="311.5"/><circle cx="819" cy="471.1"/><circle cx="1013.3" cy="248.9"/><circle cx="927.9" cy="370.5"/><circle cx="971.3" cy="362.9"/><circle cx="996" cy="347.1"/><circle cx="825.6" cy="454.2"/><circle cx="976" cy="355.1"/><circle cx="936.4" cy="311"/><circle cx="973.8" cy="301.7"/><circle cx="807.7" cy="460.8"/><circle cx="1051.2" cy="271.6"/><circle cx="1055.9" cy="285.8"/><circle cx="1092.6" cy="238.7"/><circle cx="879.4" cy="406"/><circle cx="1067.1" cy="231.6"/><circle cx="893.3" cy="391.2"/><circle cx="895.4" cy="417.9"/><circle cx="878.5" cy="387.6"/><circle cx="878.8" cy="405.6"/><circle cx="936.7" cy="340.2"/><circle cx="1092.1" cy="224.4"/><circle cx="767.1" cy="512.4"/><circle cx="960.4" cy="288.6"/><circle cx="1028.5" cy="242.2"/><circle cx="1069.8" cy="237.5"/><circle cx="1032.6" cy="253.9"/><circle cx="981.1" cy="338.7"/><circle cx="922.6" cy="382.1"/><circle cx="939" cy="374.4"/><circle cx="973.4" cy="346.3"/><circle cx="983.8" cy="293.4"/><circle cx="953.5" cy="373.6"/><circle cx="886.3" cy="415.5"/><circle cx="881.6" cy="384.9"/><circle cx="883.9" cy="387.7"/><circle cx="836.8" cy="463.7"/><circle cx="1037.6" cy="240.9"/><circle cx="919" cy="320.5"/><circle cx="953.4" cy="348.2"/><circle cx="1044.6" cy="262.8"/><circle cx="999.1" cy="280.8"/><circle cx="895.9" cy="372.6"/><circle cx="1006.1" cy="253"/><circle cx="1127" cy="216.8"/><circle cx="886.5" cy="409.6"/><circle cx="1084.8" cy="156.7"/><circle cx="1171.6" cy="162.1"/><circle cx="1233.4" cy="101.9"/><circle cx="1148.5" cy="167"/><circle cx="1141.7" cy="206.5"/><circle cx="1146.5" cy="194"/><circle cx="1055.8" cy="201.7"/><circle cx="1037.5" cy="203.6"/><circle cx="1026.8" cy="213.3"/><circle cx="981.5" cy="232.6"/><circle cx="990.2" cy="234.5"/><circle cx="1002.7" cy="231.6"/><circle cx="1098.3" cy="182.4"/><circle cx="1115.6" cy="176.6"/><circle cx="1131.1" cy="170.8"/><circle cx="1106" cy="246.1"/><circle cx="1071.2" cy="279.9"/><circle cx="962.5" cy="242.5"/><circle cx="948.1" cy="269.7"/><circle cx="952.9" cy="271.3"/><circle cx="1106.7" cy="247.3"/><circle cx="1039.4" cy="313"/><circle cx="1053.8" cy="292.2"/></g>
</g>
<path d="M737 541L1267 55" stroke="#000" stroke-width="3.3" clip-path="url(#cp1)"/>
<rect x="737" y="55" width="530" height="486" fill="none" stroke="#262626" stroke-width="2.4"/>
<path d="M736.7 53.8V541.3H1268.2" fill="none" stroke="#000" stroke-width="2.7"/>
<path d="M760 542v9.5M880.9 542v9.5M1001.8 542v9.5M1122.7 542v9.5M1243.6 542v9.5M736 519.4h-9.5M736 408.6h-9.5M736 297.8h-9.5M736 187h-9.5M736 76.2h-9.5" stroke="#000" stroke-width="2" fill="none"/>
<text class="tk" transform="translate(760 587) scale(.925 1)" text-anchor="middle">0</text>
<text class="tk" transform="translate(880.9 587) scale(.925 1)" text-anchor="middle">10</text>
<text class="tk" transform="translate(1001.8 587) scale(.925 1)" text-anchor="middle">20</text>
<text class="tk" transform="translate(1122.7 587) scale(.925 1)" text-anchor="middle">30</text>
<text class="tk" transform="translate(1243.6 587) scale(.925 1)" text-anchor="middle">40</text>
<text class="tk" transform="translate(711 529.6) scale(.925 1)" text-anchor="end">0</text>
<text class="tk" transform="translate(711 418.8) scale(.925 1)" text-anchor="end">10</text>
<text class="tk" transform="translate(711 308) scale(.925 1)" text-anchor="end">20</text>
<text class="tk" transform="translate(711 197.2) scale(.925 1)" text-anchor="end">30</text>
<text class="tk" transform="translate(711 86.4) scale(.925 1)" text-anchor="end">40</text>
<text class="tt" transform="translate(1002.5 40.7) scale(.968 1)" text-anchor="middle">IMERGv07B</text>
<clipPath id="cp2"><rect x="1341.3" y="55" width="531.5" height="486"/></clipPath>
<g><path d="M1442.5 58V538M1598.6 58V538M1754.7 58V538M1344.3 447.9H1869.8M1344.3 304.9H1869.8M1344.3 161.9H1869.8" stroke="#ededed" stroke-width="1.6" fill="none"/><path d="M1364.4 58V538M1520.5 58V538M1676.6 58V538M1832.7 58V538M1344.3 519.4H1869.8M1344.3 376.4H1869.8M1344.3 233.4H1869.8M1344.3 90.4H1869.8" stroke="#ebebeb" stroke-width="3.2" fill="none"/></g>
<g class="pt" clip-path="url(#cp2)">
<g class="nn"><circle cx="1376.3" cy="505"/><circle cx="1388.5" cy="493.4"/><circle cx="1368.6" cy="509.9"/><circle cx="1366.2" cy="513"/><circle cx="1376.5" cy="501.6"/><circle cx="1376" cy="502.7"/><circle cx="1365.3" cy="515.7"/><circle cx="1380.3" cy="507"/><circle cx="1365.9" cy="517.9"/><circle cx="1385.7" cy="486.3"/><circle cx="1368.2" cy="519.6"/><circle cx="1376.6" cy="502.2"/><circle cx="1371.2" cy="514.3"/><circle cx="1367.9" cy="519.7"/><circle cx="1375.9" cy="513.8"/><circle cx="1374.1" cy="514.5"/><circle cx="1375.4" cy="504.4"/><circle cx="1374.8" cy="501.8"/><circle cx="1384.7" cy="490.7"/><circle cx="1383.1" cy="494.3"/><circle cx="1377.9" cy="498.2"/><circle cx="1367.7" cy="518.3"/><circle cx="1368.8" cy="516.4"/><circle cx="1367" cy="517.5"/><circle cx="1389.9" cy="487.7"/><circle cx="1369.4" cy="515.1"/><circle cx="1366.3" cy="516.2"/><circle cx="1387.1" cy="491.7"/><circle cx="1366.7" cy="521.2"/><circle cx="1388.7" cy="493.2"/><circle cx="1375.1" cy="513.9"/><circle cx="1380.7" cy="500.7"/><circle cx="1377.8" cy="511.1"/><circle cx="1362.5" cy="525.2"/><circle cx="1362.7" cy="520.3"/><circle cx="1367.8" cy="510.7"/><circle cx="1373.6" cy="515.4"/><circle cx="1370.8" cy="505.9"/><circle cx="1362.8" cy="517.4"/><circle cx="1373.8" cy="506.5"/><circle cx="1375.3" cy="514.1"/><circle cx="1368.5" cy="510.1"/><circle cx="1373.5" cy="516.5"/><circle cx="1363.5" cy="517.3"/><circle cx="1377.7" cy="511.4"/><circle cx="1370.6" cy="507.1"/><circle cx="1368.1" cy="519.7"/><circle cx="1369.9" cy="515.6"/><circle cx="1381.8" cy="491.2"/><circle cx="1371.4" cy="517"/><circle cx="1367.8" cy="513.6"/><circle cx="1375.6" cy="504.1"/><circle cx="1371.2" cy="508"/><circle cx="1374.6" cy="501.5"/><circle cx="1372.4" cy="505.1"/><circle cx="1368.9" cy="518"/><circle cx="1368.4" cy="509.9"/><circle cx="1378.6" cy="502"/><circle cx="1388" cy="482.5"/><circle cx="1379.7" cy="495.2"/><circle cx="1362.8" cy="519.6"/><circle cx="1370.8" cy="511.1"/><circle cx="1385.2" cy="490.3"/><circle cx="1375.8" cy="510.7"/><circle cx="1373.4" cy="514.8"/></g>
<g class="cc"><circle cx="1578" cy="360.7"/><circle cx="1605.1" cy="338.9"/><circle cx="1492.7" cy="418.2"/><circle cx="1637.6" cy="296"/><circle cx="1546.5" cy="369.9"/><circle cx="1621.8" cy="322.4"/><circle cx="1696.9" cy="246.7"/><circle cx="1640.8" cy="310.4"/><circle cx="1428.1" cy="474.2"/><circle cx="1682" cy="247.6"/><circle cx="1545.2" cy="380.9"/><circle cx="1570" cy="352.3"/><circle cx="1569.4" cy="367.3"/><circle cx="1630.2" cy="295.3"/><circle cx="1640.6" cy="299.2"/><circle cx="1463.8" cy="448.6"/><circle cx="1549.4" cy="366.4"/><circle cx="1551.4" cy="363.8"/><circle cx="1574.7" cy="354.3"/><circle cx="1694.1" cy="257.5"/><circle cx="1426.5" cy="474.9"/><circle cx="1645.6" cy="301.2"/><circle cx="1500.8" cy="415.3"/><circle cx="1601.5" cy="337"/><circle cx="1507.2" cy="411"/><circle cx="1650.3" cy="300.1"/><circle cx="1445.7" cy="462.5"/><circle cx="1610.6" cy="310"/><circle cx="1574" cy="365.2"/><circle cx="1493.6" cy="427.1"/><circle cx="1631.8" cy="294.4"/><circle cx="1703.6" cy="226.6"/><circle cx="1470.1" cy="434.8"/><circle cx="1577.7" cy="359"/><circle cx="1655.5" cy="278.4"/><circle cx="1571.9" cy="358.1"/><circle cx="1447.8" cy="455.8"/><circle cx="1520.5" cy="409"/><circle cx="1414.5" cy="486.1"/><circle cx="1639.6" cy="300.8"/><circle cx="1456.7" cy="449.1"/><circle cx="1673.2" cy="266.9"/><circle cx="1685.8" cy="275.9"/><circle cx="1482.8" cy="434.8"/><circle cx="1592.4" cy="338.4"/><circle cx="1462.4" cy="443.1"/><circle cx="1599.9" cy="328"/><circle cx="1635.5" cy="288.7"/><circle cx="1654.8" cy="285.3"/><circle cx="1671.5" cy="280.7"/><circle cx="1653.8" cy="285.3"/><circle cx="1495.3" cy="428.5"/><circle cx="1559.7" cy="359.6"/><circle cx="1493.5" cy="422.6"/><circle cx="1542.1" cy="384.8"/><circle cx="1584.2" cy="346.6"/><circle cx="1677.1" cy="280"/><circle cx="1544.9" cy="370.8"/><circle cx="1430.5" cy="474.2"/><circle cx="1444.2" cy="452.6"/><circle cx="1578.3" cy="349.5"/><circle cx="1584.5" cy="349"/><circle cx="1681" cy="262.6"/><circle cx="1608.7" cy="330.6"/><circle cx="1598.4" cy="344.9"/><circle cx="1454.3" cy="456.8"/><circle cx="1463.4" cy="450.2"/><circle cx="1629.9" cy="304.8"/><circle cx="1659.6" cy="276.3"/><circle cx="1617.5" cy="320.8"/><circle cx="1649.7" cy="301.8"/><circle cx="1701.1" cy="223.3"/><circle cx="1691.6" cy="269"/><circle cx="1526.3" cy="403.4"/><circle cx="1554.5" cy="373.1"/><circle cx="1676.5" cy="260.6"/><circle cx="1537.4" cy="389"/><circle cx="1619.7" cy="313.9"/><circle cx="1559" cy="375.2"/><circle cx="1598.6" cy="325.4"/><circle cx="1420.2" cy="474.3"/><circle cx="1493.9" cy="417.2"/><circle cx="1523" cy="389.6"/><circle cx="1478.3" cy="438.7"/><circle cx="1660.5" cy="291.8"/><circle cx="1539.4" cy="377.1"/><circle cx="1476.8" cy="426.1"/><circle cx="1624.1" cy="321.5"/><circle cx="1691.6" cy="256"/><circle cx="1658.5" cy="286.7"/><circle cx="1424.6" cy="478.1"/><circle cx="1636" cy="309.8"/><circle cx="1501.2" cy="405"/><circle cx="1642.8" cy="300.6"/><circle cx="1503.3" cy="418.3"/><circle cx="1647.5" cy="286.1"/><circle cx="1507.2" cy="404.8"/><circle cx="1534.7" cy="392.3"/><circle cx="1518" cy="400.4"/><circle cx="1463" cy="440.3"/><circle cx="1502.5" cy="414.4"/><circle cx="1552.5" cy="366.2"/><circle cx="1622" cy="319"/><circle cx="1522.1" cy="392.2"/><circle cx="1513.4" cy="406.7"/><circle cx="1534.3" cy="380.9"/><circle cx="1577.7" cy="359"/><circle cx="1495.9" cy="421.7"/><circle cx="1617.5" cy="325.9"/><circle cx="1659.7" cy="272.4"/><circle cx="1515.2" cy="411.9"/><circle cx="1614" cy="321.6"/><circle cx="1687.3" cy="258.9"/><circle cx="1647" cy="282"/><circle cx="1552.3" cy="373.3"/><circle cx="1629" cy="311.5"/><circle cx="1421.6" cy="479.9"/><circle cx="1658.3" cy="274"/><circle cx="1665.4" cy="284.7"/><circle cx="1613.4" cy="323.9"/><circle cx="1626.6" cy="321.2"/><circle cx="1559.9" cy="356.4"/><circle cx="1388.3" cy="500.3"/><circle cx="1399.8" cy="491.3"/><circle cx="1592.4" cy="334"/><circle cx="1620.9" cy="303.1"/><circle cx="1452.2" cy="455.6"/><circle cx="1585.8" cy="339.1"/><circle cx="1584.7" cy="337.4"/><circle cx="1653.5" cy="288.7"/><circle cx="1613" cy="332.9"/><circle cx="1637.2" cy="292.1"/><circle cx="1469" cy="443.7"/><circle cx="1482.7" cy="423.1"/><circle cx="1455.1" cy="455.2"/><circle cx="1655.8" cy="290.5"/><circle cx="1682.9" cy="256"/><circle cx="1472.5" cy="440.1"/><circle cx="1688.2" cy="240.5"/><circle cx="1486.3" cy="426.3"/><circle cx="1586.3" cy="341.6"/><circle cx="1447" cy="458.9"/><circle cx="1665.6" cy="272.5"/><circle cx="1622.7" cy="319.5"/><circle cx="1484.5" cy="435.1"/><circle cx="1510.4" cy="402"/><circle cx="1461.8" cy="437.8"/><circle cx="1578.3" cy="354.3"/><circle cx="1609.8" cy="335.9"/><circle cx="1602.3" cy="328"/><circle cx="1621.6" cy="302.1"/><circle cx="1557.3" cy="371.2"/><circle cx="1601.3" cy="319.6"/><circle cx="1497.6" cy="412.1"/><circle cx="1622.6" cy="306.4"/><circle cx="1661.7" cy="265.3"/><circle cx="1492.8" cy="419.8"/><circle cx="1571" cy="362.4"/><circle cx="1454.5" cy="454.6"/><circle cx="1416.1" cy="475.6"/><circle cx="1401.7" cy="491.3"/><circle cx="1551.9" cy="381.2"/><circle cx="1696.4" cy="245.3"/><circle cx="1679.8" cy="261"/><circle cx="1558.5" cy="369"/><circle cx="1605.9" cy="321.9"/><circle cx="1681.8" cy="251"/><circle cx="1489.7" cy="425.7"/><circle cx="1671.7" cy="273.4"/><circle cx="1596.8" cy="347.5"/><circle cx="1643.4" cy="308.9"/><circle cx="1528.7" cy="391.9"/><circle cx="1662.3" cy="270.7"/><circle cx="1528.9" cy="383.8"/><circle cx="1582.9" cy="351.7"/><circle cx="1626.8" cy="301.7"/><circle cx="1465.9" cy="442.4"/><circle cx="1644.2" cy="308.8"/><circle cx="1591" cy="327.2"/><circle cx="1466" cy="448.7"/><circle cx="1566.5" cy="365.3"/><circle cx="1535.8" cy="377.7"/><circle cx="1546.8" cy="367.9"/><circle cx="1485.1" cy="432.5"/><circle cx="1425.8" cy="466.7"/><circle cx="1572" cy="350.5"/><circle cx="1440.8" cy="457.7"/><circle cx="1531.3" cy="398.9"/><circle cx="1665.1" cy="289.5"/><circle cx="1660.5" cy="289.3"/><circle cx="1543.6" cy="372.9"/><circle cx="1568.8" cy="346.4"/><circle cx="1692.6" cy="248"/><circle cx="1511.6" cy="401.4"/><circle cx="1606" cy="319.5"/><circle cx="1389.5" cy="504.9"/><circle cx="1424.7" cy="478.4"/><circle cx="1551" cy="383.1"/><circle cx="1694.5" cy="251.9"/><circle cx="1681.5" cy="273.5"/><circle cx="1566.1" cy="362.6"/><circle cx="1599.4" cy="347.5"/><circle cx="1666.3" cy="262.1"/><circle cx="1602.6" cy="334.8"/><circle cx="1650.1" cy="288"/><circle cx="1504.4" cy="416"/><circle cx="1499.8" cy="422.9"/><circle cx="1564.5" cy="361.5"/><circle cx="1644.8" cy="307.4"/><circle cx="1615.6" cy="315.1"/><circle cx="1430.7" cy="474"/><circle cx="1565.8" cy="365.8"/><circle cx="1555.6" cy="379.1"/><circle cx="1605.2" cy="329"/><circle cx="1599.1" cy="332.1"/><circle cx="1484.9" cy="425.7"/><circle cx="1574.4" cy="344.6"/><circle cx="1482" cy="431.1"/><circle cx="1590.5" cy="334.9"/><circle cx="1701.7" cy="252.1"/><circle cx="1656.9" cy="278.3"/><circle cx="1591.1" cy="338.9"/><circle cx="1653.7" cy="301.8"/><circle cx="1474" cy="437.9"/><circle cx="1526.6" cy="395.2"/><circle cx="1531.6" cy="390.4"/><circle cx="1548.6" cy="371.8"/><circle cx="1483.9" cy="420.9"/><circle cx="1633.4" cy="312"/><circle cx="1563.3" cy="356"/><circle cx="1599.6" cy="342.5"/><circle cx="1656.8" cy="279.4"/><circle cx="1617.9" cy="331"/><circle cx="1667.8" cy="260.7"/><circle cx="1488.6" cy="424.9"/><circle cx="1600.1" cy="325.4"/><circle cx="1556.6" cy="360.8"/><circle cx="1629.3" cy="311.8"/><circle cx="1588.7" cy="351.7"/><circle cx="1594.1" cy="326.2"/><circle cx="1581.6" cy="352.8"/><circle cx="1707.7" cy="218.4"/><circle cx="1519.5" cy="406.2"/><circle cx="1605.1" cy="339.6"/><circle cx="1671.9" cy="258.1"/><circle cx="1636.6" cy="288.8"/><circle cx="1553.4" cy="377.3"/><circle cx="1674.1" cy="278.4"/><circle cx="1704.7" cy="242.3"/><circle cx="1467.8" cy="435"/><circle cx="1522.9" cy="406.5"/><circle cx="1683.9" cy="248.3"/><circle cx="1490.3" cy="424.3"/><circle cx="1446.2" cy="450.5"/><circle cx="1577.6" cy="361.8"/><circle cx="1455.3" cy="454.7"/><circle cx="1659.1" cy="268.5"/><circle cx="1590" cy="328.2"/><circle cx="1577.5" cy="356"/><circle cx="1574.5" cy="362.2"/><circle cx="1605.1" cy="323.1"/><circle cx="1534.4" cy="379.3"/><circle cx="1560.5" cy="354.3"/><circle cx="1552.6" cy="385.1"/><circle cx="1668" cy="260.9"/><circle cx="1539.5" cy="372.2"/><circle cx="1571.8" cy="366.7"/><circle cx="1642" cy="309.1"/><circle cx="1685.2" cy="246"/><circle cx="1635.6" cy="295.8"/><circle cx="1622.5" cy="323.4"/><circle cx="1637.1" cy="304.6"/><circle cx="1643.3" cy="286.1"/><circle cx="1506.6" cy="404"/><circle cx="1494.7" cy="427.9"/><circle cx="1530.6" cy="383"/><circle cx="1680.9" cy="270.6"/><circle cx="1468.4" cy="443.4"/><circle cx="1601.8" cy="317.7"/><circle cx="1549.1" cy="374.5"/><circle cx="1624.4" cy="310.2"/><circle cx="1619.1" cy="304.2"/><circle cx="1536.4" cy="380.4"/><circle cx="1573.7" cy="343.4"/><circle cx="1661.4" cy="275.7"/><circle cx="1530.8" cy="381"/><circle cx="1644.1" cy="310"/><circle cx="1429.5" cy="474.1"/><circle cx="1505" cy="419.5"/><circle cx="1587.5" cy="356.7"/><circle cx="1705.8" cy="241.9"/><circle cx="1466.5" cy="439.7"/><circle cx="1654.3" cy="301.3"/><circle cx="1596" cy="326.2"/><circle cx="1632.5" cy="299.1"/><circle cx="1683.7" cy="308.4"/><circle cx="1654.7" cy="329.6"/><circle cx="1637.3" cy="331.5"/><circle cx="1576.5" cy="386.6"/><circle cx="1707.8" cy="248.5"/><circle cx="1625.8" cy="231.2"/><circle cx="1606.4" cy="251.4"/><circle cx="1528.3" cy="330.6"/><circle cx="1548.5" cy="311.3"/><circle cx="1543.7" cy="400.1"/><circle cx="1668.6" cy="206.5"/></g>
<g class="cc"><circle cx="1560.8" cy="316.9"/><circle cx="1472.4" cy="403.2"/><circle cx="1636.7" cy="242.7"/><circle cx="1523.5" cy="341.3"/><circle cx="1632.8" cy="250.6"/><circle cx="1573.7" cy="294.8"/><circle cx="1667.6" cy="213.4"/><circle cx="1622.5" cy="257.8"/><circle cx="1513.5" cy="358.4"/><circle cx="1497.6" cy="365.8"/><circle cx="1511.2" cy="362.1"/><circle cx="1628.7" cy="246.3"/><circle cx="1509" cy="354.6"/><circle cx="1503.9" cy="367.1"/><circle cx="1639.9" cy="237.3"/><circle cx="1607.5" cy="268.9"/><circle cx="1558.8" cy="316.9"/><circle cx="1492.8" cy="380.6"/><circle cx="1619.6" cy="254.5"/><circle cx="1612.8" cy="271.9"/><circle cx="1582" cy="287.2"/><circle cx="1469.8" cy="396.1"/><circle cx="1546.1" cy="324.7"/><circle cx="1507.5" cy="354.9"/><circle cx="1495.4" cy="378.5"/><circle cx="1502.4" cy="369.6"/><circle cx="1631.4" cy="243.8"/><circle cx="1682.3" cy="208.6"/><circle cx="1654.6" cy="222.1"/><circle cx="1511.1" cy="357.3"/><circle cx="1641.3" cy="243.8"/><circle cx="1531.7" cy="341.1"/><circle cx="1597.7" cy="284.4"/><circle cx="1554" cy="316.7"/><circle cx="1604.1" cy="278.1"/><circle cx="1541.2" cy="322.8"/><circle cx="1490" cy="385.5"/><circle cx="1534.6" cy="340.3"/><circle cx="1479.6" cy="387.2"/><circle cx="1551.6" cy="322.3"/><circle cx="1508.2" cy="360.2"/><circle cx="1695" cy="201.6"/><circle cx="1533.8" cy="335.6"/><circle cx="1533.7" cy="334.9"/><circle cx="1518.5" cy="349.2"/><circle cx="1508.4" cy="356.7"/><circle cx="1547.8" cy="327.2"/><circle cx="1598.1" cy="282.7"/><circle cx="1565.1" cy="311.4"/><circle cx="1518.7" cy="353.9"/><circle cx="1554.3" cy="312.1"/><circle cx="1549" cy="318.8"/><circle cx="1574.6" cy="295.8"/><circle cx="1700.5" cy="187.4"/><circle cx="1494.3" cy="371"/><circle cx="1708.1" cy="188.9"/><circle cx="1588" cy="291.6"/><circle cx="1535.8" cy="341.4"/><circle cx="1570.8" cy="301.7"/><circle cx="1614.9" cy="256"/><circle cx="1651.9" cy="237.1"/><circle cx="1530.8" cy="341.2"/><circle cx="1699.3" cy="190.3"/><circle cx="1533.3" cy="332.3"/><circle cx="1584.8" cy="284.4"/><circle cx="1479.1" cy="385.8"/><circle cx="1486.5" cy="381.1"/><circle cx="1502.4" cy="363.6"/><circle cx="1502.9" cy="368.2"/><circle cx="1571.7" cy="306.8"/></g>
<g class="ns"><circle cx="1659.4" cy="287.8"/><circle cx="1562.2" cy="369.1"/><circle cx="1553.1" cy="362.3"/><circle cx="1605.5" cy="313.7"/><circle cx="1588.4" cy="342.1"/><circle cx="1509.5" cy="400.5"/><circle cx="1707.6" cy="231.4"/><circle cx="1425.8" cy="475"/><circle cx="1620.5" cy="309.2"/><circle cx="1417.5" cy="477.7"/><circle cx="1594.5" cy="336.6"/><circle cx="1568.5" cy="359.2"/><circle cx="1704.6" cy="222.8"/><circle cx="1659" cy="267.4"/><circle cx="1566.9" cy="367.1"/><circle cx="1494.3" cy="411.1"/><circle cx="1670.3" cy="258.8"/><circle cx="1565.5" cy="360.1"/><circle cx="1612" cy="309.1"/><circle cx="1662.9" cy="267.2"/><circle cx="1688.3" cy="259.9"/><circle cx="1713.2" cy="216"/><circle cx="1639.6" cy="284.3"/><circle cx="1477.2" cy="433"/><circle cx="1532.7" cy="377.4"/><circle cx="1579.2" cy="347"/><circle cx="1613.4" cy="320.7"/><circle cx="1709.4" cy="222.4"/><circle cx="1615.1" cy="322.6"/><circle cx="1572.1" cy="343.9"/><circle cx="1585.1" cy="334.7"/><circle cx="1481.4" cy="429.5"/><circle cx="1695.5" cy="237.8"/><circle cx="1616.7" cy="308.7"/><circle cx="1694.4" cy="253.5"/><circle cx="1602.6" cy="322.4"/><circle cx="1585.9" cy="331.5"/><circle cx="1661.8" cy="262.7"/><circle cx="1657.5" cy="271.6"/><circle cx="1703.1" cy="217.9"/><circle cx="1430.4" cy="467.3"/><circle cx="1597.1" cy="341.1"/><circle cx="1550.4" cy="371.4"/><circle cx="1643.2" cy="300.9"/><circle cx="1581.8" cy="350.7"/><circle cx="1532.4" cy="378.4"/><circle cx="1584.4" cy="330.6"/><circle cx="1557.5" cy="372.8"/><circle cx="1533.3" cy="386.7"/><circle cx="1619.5" cy="317.4"/><circle cx="1655.2" cy="276.7"/><circle cx="1618.3" cy="322.2"/><circle cx="1704.4" cy="237.6"/><circle cx="1651.1" cy="288.4"/><circle cx="1601.8" cy="336.8"/><circle cx="1713.4" cy="208.7"/><circle cx="1557.2" cy="369.1"/><circle cx="1472" cy="432.4"/><circle cx="1701.2" cy="244.3"/><circle cx="1593.8" cy="342.4"/><circle cx="1638.6" cy="282.8"/><circle cx="1576.4" cy="352.5"/><circle cx="1649.2" cy="276.1"/><circle cx="1559.5" cy="355"/><circle cx="1448.4" cy="452.6"/><circle cx="1441" cy="458.5"/><circle cx="1421" cy="474.2"/><circle cx="1617.8" cy="308.8"/><circle cx="1429" cy="472.2"/><circle cx="1591.2" cy="326.9"/><circle cx="1458.8" cy="437.5"/><circle cx="1643.8" cy="297.1"/><circle cx="1575.3" cy="356.1"/><circle cx="1437.4" cy="457.5"/><circle cx="1604" cy="317.5"/><circle cx="1638.5" cy="296.7"/><circle cx="1518.3" cy="399.3"/><circle cx="1645.1" cy="296.8"/><circle cx="1674.7" cy="257.3"/><circle cx="1662.1" cy="275.4"/><circle cx="1666.6" cy="273.4"/><circle cx="1585.8" cy="329"/><circle cx="1588.5" cy="343.8"/><circle cx="1509.8" cy="397.4"/><circle cx="1706.3" cy="233.2"/><circle cx="1569.6" cy="349.7"/><circle cx="1501.3" cy="418.8"/><circle cx="1669.2" cy="269.8"/><circle cx="1569.7" cy="362.4"/><circle cx="1448.7" cy="455"/><circle cx="1616.1" cy="304.4"/><circle cx="1511.3" cy="409.1"/><circle cx="1694.6" cy="236.5"/><circle cx="1656.3" cy="274"/><circle cx="1637.5" cy="294"/><circle cx="1634.3" cy="287.7"/><circle cx="1623" cy="308.2"/><circle cx="1465.5" cy="442.4"/><circle cx="1566.8" cy="354.6"/><circle cx="1690.4" cy="247.1"/><circle cx="1684.2" cy="242"/><circle cx="1656.4" cy="275"/><circle cx="1553.1" cy="372"/><circle cx="1626.3" cy="294.2"/><circle cx="1487.6" cy="429"/><circle cx="1459.7" cy="443.6"/><circle cx="1570.1" cy="348.3"/><circle cx="1665.9" cy="273.1"/><circle cx="1699" cy="241.8"/><circle cx="1657.9" cy="287.9"/><circle cx="1696.2" cy="229.6"/><circle cx="1521.9" cy="400.6"/><circle cx="1624.9" cy="307"/><circle cx="1690.9" cy="253"/><circle cx="1489.3" cy="418.2"/><circle cx="1698.5" cy="225.4"/><circle cx="1647.2" cy="278.2"/><circle cx="1397.2" cy="492"/><circle cx="1582.1" cy="345.2"/><circle cx="1413.3" cy="482"/><circle cx="1692.4" cy="233.5"/><circle cx="1660.9" cy="284.2"/><circle cx="1439.5" cy="457.8"/><circle cx="1654.5" cy="293.4"/><circle cx="1533.3" cy="390.4"/><circle cx="1620.5" cy="316.5"/><circle cx="1426.2" cy="473"/><circle cx="1422.7" cy="470.1"/><circle cx="1542.3" cy="387.5"/><circle cx="1637.1" cy="306.8"/><circle cx="1661" cy="283.9"/><circle cx="1580.1" cy="339.9"/><circle cx="1416.8" cy="478.9"/><circle cx="1512.6" cy="399.5"/><circle cx="1625.7" cy="298.9"/><circle cx="1565.6" cy="349.7"/><circle cx="1455.1" cy="445.2"/><circle cx="1588.4" cy="344"/><circle cx="1654.4" cy="293"/><circle cx="1627.8" cy="300.6"/><circle cx="1587.9" cy="329.8"/><circle cx="1531.3" cy="395"/><circle cx="1553.5" cy="360.5"/><circle cx="1473.2" cy="437.3"/><circle cx="1613.1" cy="325.8"/><circle cx="1651.9" cy="283.9"/><circle cx="1587.3" cy="346.7"/><circle cx="1468.7" cy="430.1"/><circle cx="1679.1" cy="248.7"/><circle cx="1503" cy="414.8"/><circle cx="1511.5" cy="408"/><circle cx="1709.3" cy="219.2"/><circle cx="1542.5" cy="382.5"/><circle cx="1509.4" cy="407.7"/><circle cx="1434.2" cy="466.6"/><circle cx="1610" cy="319.9"/><circle cx="1646.2" cy="286.3"/><circle cx="1565.4" cy="355.1"/><circle cx="1576.6" cy="339.8"/><circle cx="1704.2" cy="234.5"/><circle cx="1707.7" cy="219.7"/><circle cx="1466.8" cy="443.3"/><circle cx="1620.1" cy="318.4"/><circle cx="1588.8" cy="344.8"/><circle cx="1708.2" cy="239.8"/><circle cx="1487.5" cy="424.9"/><circle cx="1550.4" cy="377.5"/><circle cx="1639" cy="302.3"/><circle cx="1561.3" cy="369.3"/><circle cx="1534.6" cy="392.4"/><circle cx="1569.5" cy="346.3"/><circle cx="1462.9" cy="434.6"/><circle cx="1492.4" cy="424"/><circle cx="1635.7" cy="286.2"/><circle cx="1669.1" cy="261"/><circle cx="1609.5" cy="329.1"/><circle cx="1682.6" cy="241.5"/><circle cx="1403.3" cy="488.7"/><circle cx="1564.5" cy="349.3"/><circle cx="1484" cy="420.7"/><circle cx="1615.1" cy="304.1"/><circle cx="1470.1" cy="441.5"/><circle cx="1666.6" cy="265.5"/><circle cx="1598.1" cy="320.8"/><circle cx="1535.1" cy="392.3"/><circle cx="1510.8" cy="396.9"/><circle cx="1588.1" cy="338.8"/><circle cx="1589.9" cy="339.1"/><circle cx="1514.8" cy="395.7"/><circle cx="1648.8" cy="293.7"/><circle cx="1533.5" cy="386.6"/><circle cx="1419.6" cy="477.9"/><circle cx="1617.7" cy="308.8"/><circle cx="1686.1" cy="258.4"/><circle cx="1612.8" cy="314"/><circle cx="1709" cy="217.4"/><circle cx="1689.5" cy="240.5"/><circle cx="1436" cy="461.4"/><circle cx="1512.4" cy="395"/><circle cx="1693.2" cy="241.6"/><circle cx="1556.5" cy="363"/><circle cx="1395.8" cy="498.2"/><circle cx="1677.1" cy="254.1"/><circle cx="1548.1" cy="362.7"/><circle cx="1566.8" cy="363.1"/><circle cx="1705.1" cy="226.1"/><circle cx="1545" cy="382.2"/><circle cx="1556.8" cy="365.4"/><circle cx="1504.5" cy="407.4"/><circle cx="1659.4" cy="285.1"/><circle cx="1655.8" cy="271"/><circle cx="1491.4" cy="426"/><circle cx="1579.5" cy="354.2"/><circle cx="1543.1" cy="378.7"/><circle cx="1695.5" cy="249.5"/><circle cx="1663.7" cy="267.1"/><circle cx="1628.5" cy="310"/><circle cx="1637.6" cy="301.1"/><circle cx="1470.5" cy="428.3"/><circle cx="1679.7" cy="259.5"/><circle cx="1529.8" cy="391.4"/><circle cx="1673.5" cy="273.7"/><circle cx="1566.9" cy="352.5"/><circle cx="1668.1" cy="278.5"/><circle cx="1475.3" cy="429.6"/><circle cx="1531.5" cy="392.1"/><circle cx="1711.1" cy="211.4"/><circle cx="1697.8" cy="234.1"/><circle cx="1702.7" cy="221.1"/><circle cx="1670.7" cy="259.8"/><circle cx="1638.4" cy="283.9"/><circle cx="1685.7" cy="244.8"/><circle cx="1636.6" cy="296.8"/><circle cx="1380.6" cy="506.6"/><circle cx="1675.8" cy="259.2"/><circle cx="1652.9" cy="277.7"/><circle cx="1515.1" cy="392.6"/><circle cx="1486.6" cy="428.8"/><circle cx="1674" cy="269"/><circle cx="1481.5" cy="418.6"/><circle cx="1617.2" cy="310"/><circle cx="1636.4" cy="294.2"/><circle cx="1397.8" cy="492.5"/><circle cx="1691.1" cy="253.3"/><circle cx="1692.7" cy="252.5"/><circle cx="1516.7" cy="402.4"/><circle cx="1662.9" cy="276"/><circle cx="1686.3" cy="257.5"/><circle cx="1578.8" cy="353.4"/><circle cx="1495.8" cy="417.5"/><circle cx="1701.4" cy="223"/><circle cx="1570" cy="362.2"/><circle cx="1530.2" cy="381.2"/><circle cx="1682.7" cy="268.5"/><circle cx="1674.6" cy="264.7"/><circle cx="1693.5" cy="247.9"/><circle cx="1669.3" cy="275.3"/><circle cx="1628.9" cy="312.3"/><circle cx="1646.7" cy="296"/><circle cx="1681.4" cy="246.2"/><circle cx="1713.2" cy="227.3"/><circle cx="1480.5" cy="421.6"/><circle cx="1569" cy="359.1"/><circle cx="1685.7" cy="260.5"/><circle cx="1612.6" cy="313.2"/><circle cx="1483.8" cy="424.3"/><circle cx="1655.4" cy="282.2"/><circle cx="1630.9" cy="299.5"/><circle cx="1487" cy="427.9"/><circle cx="1683" cy="242.5"/><circle cx="1399.7" cy="492.3"/><circle cx="1489.3" cy="427.2"/><circle cx="1380.8" cy="501.4"/><circle cx="1430.4" cy="464.5"/><circle cx="1510.7" cy="399.2"/><circle cx="1685.1" cy="256"/><circle cx="1635.3" cy="305.1"/><circle cx="1473.5" cy="438.7"/><circle cx="1554.9" cy="366.8"/><circle cx="1460.8" cy="448.5"/><circle cx="1642.5" cy="296.6"/><circle cx="1592.3" cy="343.4"/><circle cx="1655.3" cy="267.4"/><circle cx="1615.7" cy="320"/><circle cx="1425.5" cy="467.4"/><circle cx="1557.9" cy="362.6"/><circle cx="1529.3" cy="392.5"/><circle cx="1476.8" cy="434.3"/><circle cx="1429.6" cy="465.5"/><circle cx="1489.4" cy="419.7"/><circle cx="1564.2" cy="364.4"/><circle cx="1598" cy="337.5"/><circle cx="1616" cy="314.2"/><circle cx="1695.6" cy="241.6"/><circle cx="1702.2" cy="220.2"/><circle cx="1687.7" cy="247.3"/><circle cx="1484.8" cy="423.6"/><circle cx="1391.4" cy="497.8"/><circle cx="1640" cy="280.8"/><circle cx="1618.5" cy="317.8"/><circle cx="1705.4" cy="230.8"/><circle cx="1665.2" cy="280"/><circle cx="1425.9" cy="470.9"/><circle cx="1670.3" cy="260.6"/><circle cx="1487" cy="426.1"/><circle cx="1532.2" cy="388"/><circle cx="1432.5" cy="460.9"/><circle cx="1566.2" cy="350.1"/><circle cx="1582.1" cy="351"/><circle cx="1602.7" cy="322.8"/><circle cx="1713.3" cy="209.3"/><circle cx="1631.2" cy="294.8"/><circle cx="1667.6" cy="278.9"/><circle cx="1441.2" cy="461.3"/><circle cx="1544.8" cy="369.6"/><circle cx="1587.7" cy="337"/><circle cx="1695.1" cy="229.6"/><circle cx="1677.8" cy="257.6"/><circle cx="1572.7" cy="359.2"/><circle cx="1600.1" cy="323.1"/><circle cx="1659.9" cy="285.8"/><circle cx="1640.7" cy="286.1"/><circle cx="1660.6" cy="282.6"/><circle cx="1689.8" cy="258"/><circle cx="1491.2" cy="414.5"/><circle cx="1517.4" cy="405.8"/><circle cx="1701.9" cy="226.7"/><circle cx="1574.3" cy="343.5"/><circle cx="1421.1" cy="472.7"/><circle cx="1387.6" cy="502.9"/><circle cx="1660.5" cy="264.4"/><circle cx="1711" cy="235.3"/><circle cx="1628.5" cy="299"/><circle cx="1581.7" cy="344.4"/><circle cx="1578.3" cy="338.1"/><circle cx="1625.7" cy="294.1"/><circle cx="1564.2" cy="367.3"/><circle cx="1541.7" cy="386.2"/><circle cx="1453.9" cy="452.6"/><circle cx="1634.5" cy="297.9"/><circle cx="1613.2" cy="304.4"/><circle cx="1651.9" cy="285.8"/><circle cx="1603" cy="334.1"/><circle cx="1686.4" cy="258.6"/><circle cx="1615.2" cy="313.4"/><circle cx="1700.2" cy="232.1"/><circle cx="1702.5" cy="226.7"/><circle cx="1468.6" cy="442.7"/><circle cx="1652.8" cy="270.2"/><circle cx="1613.3" cy="309"/><circle cx="1637.6" cy="298"/><circle cx="1423.4" cy="471.8"/><circle cx="1621.4" cy="319.5"/><circle cx="1663.8" cy="278.8"/><circle cx="1697.2" cy="243.6"/><circle cx="1562.1" cy="356.5"/><circle cx="1412.8" cy="485.2"/><circle cx="1584.9" cy="335.2"/><circle cx="1509.7" cy="401.4"/><circle cx="1675.1" cy="257.2"/><circle cx="1542.9" cy="371.2"/><circle cx="1714.3" cy="215.9"/><circle cx="1700.8" cy="236.1"/><circle cx="1653.9" cy="274.5"/><circle cx="1531.6" cy="387.9"/><circle cx="1699.1" cy="222.4"/><circle cx="1584.3" cy="345.4"/><circle cx="1796.4" cy="93.6"/><circle cx="1734.2" cy="124.5"/><circle cx="1745.4" cy="123.5"/><circle cx="1764.1" cy="129.3"/><circle cx="1833.6" cy="133.2"/><circle cx="1840.4" cy="139.9"/><circle cx="1806.6" cy="149.6"/><circle cx="1818.2" cy="125.5"/><circle cx="1805.6" cy="119.7"/><circle cx="1679.2" cy="186.3"/><circle cx="1696.6" cy="177.6"/><circle cx="1728.4" cy="145.7"/><circle cx="1734.2" cy="142.8"/><circle cx="1669.5" cy="280.9"/><circle cx="1670.5" cy="296.3"/><circle cx="1647" cy="323.8"/><circle cx="1646" cy="320"/><circle cx="1585.2" cy="373.1"/><circle cx="1584.2" cy="365.3"/></g>
<g class="ns"><circle cx="1548.4" cy="328.4"/><circle cx="1518.8" cy="358.3"/><circle cx="1681.3" cy="201"/><circle cx="1497" cy="376"/><circle cx="1626.8" cy="260.7"/><circle cx="1677.1" cy="208.2"/><circle cx="1566.7" cy="309.2"/><circle cx="1698.8" cy="192.3"/><circle cx="1475.1" cy="400.9"/><circle cx="1544.9" cy="332.5"/><circle cx="1577.5" cy="297"/><circle cx="1667.8" cy="214.1"/><circle cx="1628.5" cy="255.4"/><circle cx="1582.4" cy="299"/><circle cx="1605.2" cy="273.9"/><circle cx="1668.7" cy="222.5"/><circle cx="1591.4" cy="285.4"/><circle cx="1627.2" cy="256.4"/><circle cx="1690.1" cy="199.9"/><circle cx="1515.9" cy="360.9"/><circle cx="1525.5" cy="347.2"/><circle cx="1623.6" cy="253.9"/><circle cx="1555.6" cy="314.5"/><circle cx="1514.8" cy="363.7"/><circle cx="1486.4" cy="389.6"/><circle cx="1646.6" cy="243.7"/><circle cx="1699.2" cy="189.6"/><circle cx="1576.3" cy="296.7"/><circle cx="1556.4" cy="314.2"/><circle cx="1577.1" cy="306.1"/><circle cx="1505.1" cy="366.1"/><circle cx="1527.2" cy="342.1"/><circle cx="1625.3" cy="253"/><circle cx="1581" cy="302.8"/><circle cx="1688.3" cy="196.5"/><circle cx="1660" cy="219.5"/><circle cx="1531.8" cy="340.3"/><circle cx="1545.4" cy="333.1"/><circle cx="1694" cy="193.3"/><circle cx="1675.4" cy="213"/><circle cx="1509.7" cy="357.5"/><circle cx="1591.9" cy="286.7"/><circle cx="1492.7" cy="374"/><circle cx="1573.4" cy="301.6"/><circle cx="1523.4" cy="349.9"/><circle cx="1698.2" cy="196.2"/><circle cx="1645.3" cy="242.5"/><circle cx="1687.4" cy="205"/><circle cx="1686.4" cy="200.4"/><circle cx="1659.1" cy="225.4"/><circle cx="1667.8" cy="220.2"/><circle cx="1547.7" cy="327.9"/><circle cx="1476.7" cy="399.9"/><circle cx="1529.7" cy="346.5"/><circle cx="1666.3" cy="220.6"/><circle cx="1636.3" cy="243"/><circle cx="1678.7" cy="207.8"/><circle cx="1592.9" cy="286.2"/><circle cx="1663.8" cy="222.5"/><circle cx="1596.7" cy="288.1"/><circle cx="1665.8" cy="225.6"/><circle cx="1671.6" cy="214.4"/><circle cx="1668.2" cy="215.9"/><circle cx="1573.3" cy="309.4"/><circle cx="1583.3" cy="293.9"/><circle cx="1513.8" cy="356.1"/><circle cx="1663" cy="222.7"/><circle cx="1560.2" cy="320.8"/><circle cx="1526.9" cy="343.7"/><circle cx="1508.1" cy="371.1"/><circle cx="1557" cy="320.3"/><circle cx="1482.8" cy="389.9"/><circle cx="1541.5" cy="336.7"/><circle cx="1599.5" cy="280"/><circle cx="1572.1" cy="307.2"/><circle cx="1633.8" cy="254.2"/><circle cx="1551.3" cy="319.6"/><circle cx="1642" cy="246.5"/><circle cx="1509.9" cy="364.1"/><circle cx="1622.9" cy="264.1"/><circle cx="1652.1" cy="233.7"/><circle cx="1642.1" cy="243.3"/><circle cx="1512.7" cy="359.1"/><circle cx="1499.5" cy="371"/><circle cx="1512.3" cy="366"/><circle cx="1611.3" cy="270.3"/><circle cx="1477.3" cy="398.9"/><circle cx="1658.9" cy="224.7"/><circle cx="1694.2" cy="199.3"/><circle cx="1489.1" cy="378.9"/></g>
<g class="ns"><circle cx="1755.1" cy="176.6"/><circle cx="1748.2" cy="180.7"/><circle cx="1776.7" cy="132.3"/><circle cx="1694.8" cy="231.8"/><circle cx="1773.1" cy="172.6"/><circle cx="1773.4" cy="145"/><circle cx="1696.4" cy="245.2"/><circle cx="1797.5" cy="134.1"/><circle cx="1739" cy="195.8"/><circle cx="1774.6" cy="137.9"/><circle cx="1807.1" cy="119.6"/><circle cx="1719.3" cy="180.4"/><circle cx="1724.3" cy="181.6"/><circle cx="1772.9" cy="182.2"/><circle cx="1709.9" cy="214.6"/><circle cx="1771.6" cy="184.6"/><circle cx="1716.3" cy="182.9"/><circle cx="1712.5" cy="206.7"/><circle cx="1748.2" cy="136.3"/><circle cx="1704.3" cy="197.1"/><circle cx="1748.9" cy="143.2"/><circle cx="1771.6" cy="187.2"/><circle cx="1699.8" cy="183.8"/><circle cx="1714.7" cy="193.8"/><circle cx="1741.8" cy="202.5"/><circle cx="1731.3" cy="169.5"/><circle cx="1755.6" cy="152.4"/><circle cx="1746.4" cy="159.6"/><circle cx="1723.5" cy="195.5"/><circle cx="1814.9" cy="133.6"/><circle cx="1745.4" cy="149.8"/><circle cx="1715.1" cy="201.4"/><circle cx="1702.1" cy="185.7"/><circle cx="1840.6" cy="131.8"/><circle cx="1703.3" cy="183.7"/><circle cx="1763.3" cy="133.3"/><circle cx="1745.3" cy="144.8"/><circle cx="1716.9" cy="184.1"/><circle cx="1714.9" cy="197.2"/><circle cx="1758.1" cy="177.7"/><circle cx="1818.9" cy="140.8"/><circle cx="1699.1" cy="196.4"/><circle cx="1763.2" cy="197.7"/><circle cx="1710.7" cy="183.2"/><circle cx="1723.7" cy="199.4"/><circle cx="1725.9" cy="213.4"/><circle cx="1718.8" cy="218.4"/><circle cx="1737.9" cy="135.4"/><circle cx="1763.5" cy="132.1"/><circle cx="1787.8" cy="150.9"/><circle cx="1757.5" cy="184.1"/><circle cx="1748.8" cy="147.1"/><circle cx="1727.2" cy="212.3"/><circle cx="1810.8" cy="131.1"/><circle cx="1736.9" cy="148.3"/><circle cx="1731.6" cy="145.1"/><circle cx="1761.3" cy="164.8"/><circle cx="1782.1" cy="119.8"/><circle cx="1711.7" cy="186.2"/><circle cx="1780.3" cy="121.9"/><circle cx="1728.2" cy="148.8"/><circle cx="1748.5" cy="196.6"/><circle cx="1724.9" cy="151.2"/><circle cx="1714.8" cy="182.1"/><circle cx="1759.7" cy="199.5"/><circle cx="1750.9" cy="202.4"/><circle cx="1774.6" cy="132"/><circle cx="1756.2" cy="195.1"/><circle cx="1763.5" cy="128.1"/><circle cx="1839.1" cy="134.8"/><circle cx="1702.3" cy="196.7"/><circle cx="1732.9" cy="185.2"/><circle cx="1736.6" cy="205.7"/><circle cx="1714" cy="163.6"/><circle cx="1746.2" cy="191"/><circle cx="1709.9" cy="178.8"/><circle cx="1733.9" cy="178.3"/><circle cx="1752.6" cy="197.9"/><circle cx="1712.4" cy="167.7"/><circle cx="1814.1" cy="113.6"/><circle cx="1697" cy="207.2"/><circle cx="1757.4" cy="124"/><circle cx="1749.8" cy="133.4"/><circle cx="1719" cy="158.8"/><circle cx="1780.3" cy="117"/><circle cx="1750" cy="202.6"/><circle cx="1791.6" cy="135.5"/><circle cx="1699.5" cy="216.3"/><circle cx="1797.3" cy="107"/><circle cx="1724.3" cy="154.2"/><circle cx="1778.7" cy="176.4"/><circle cx="1794.2" cy="139.2"/><circle cx="1760.2" cy="141"/><circle cx="1706.8" cy="209.5"/><circle cx="1726.3" cy="155.1"/><circle cx="1746.7" cy="159.9"/><circle cx="1789.3" cy="139.2"/><circle cx="1731.4" cy="170.3"/><circle cx="1754.2" cy="195.7"/><circle cx="1770.8" cy="152"/><circle cx="1778" cy="139.7"/><circle cx="1751.2" cy="181.5"/><circle cx="1741.7" cy="172.3"/><circle cx="1702.5" cy="238.4"/><circle cx="1796.4" cy="126.6"/><circle cx="1703.4" cy="218.7"/><circle cx="1784.3" cy="170.6"/><circle cx="1759.6" cy="169.5"/><circle cx="1723.9" cy="196.4"/><circle cx="1761" cy="141.2"/><circle cx="1700.5" cy="235.3"/><circle cx="1810.6" cy="150.8"/><circle cx="1808.3" cy="111"/><circle cx="1773.9" cy="150.5"/><circle cx="1695.3" cy="246.4"/><circle cx="1778.1" cy="122.5"/><circle cx="1717.5" cy="166.7"/><circle cx="1821.7" cy="123.5"/><circle cx="1734.9" cy="188.6"/><circle cx="1733.2" cy="171.5"/><circle cx="1786.1" cy="154.9"/><circle cx="1695" cy="197.6"/><circle cx="1773.8" cy="136.2"/><circle cx="1718.3" cy="155.3"/><circle cx="1789.5" cy="127.5"/><circle cx="1809.2" cy="124.8"/><circle cx="1769.7" cy="171"/><circle cx="1766.9" cy="182.1"/><circle cx="1808.4" cy="113.2"/><circle cx="1703.9" cy="236"/><circle cx="1701.7" cy="198"/><circle cx="1731.4" cy="171"/><circle cx="1698.1" cy="188.4"/><circle cx="1820.8" cy="135.7"/><circle cx="1746.9" cy="197.6"/><circle cx="1718" cy="161.2"/><circle cx="1799" cy="110.8"/><circle cx="1737.1" cy="152.1"/><circle cx="1714.3" cy="208.1"/><circle cx="1791.6" cy="117.7"/><circle cx="1757.6" cy="140.9"/><circle cx="1753.1" cy="173"/><circle cx="1739.8" cy="202.9"/><circle cx="1710.2" cy="190.8"/><circle cx="1733.5" cy="180.9"/><circle cx="1747.6" cy="151.3"/><circle cx="1714.9" cy="174.5"/><circle cx="1746.3" cy="140.9"/><circle cx="1741.2" cy="162.7"/><circle cx="1796.8" cy="109.9"/><circle cx="1796.1" cy="131.7"/><circle cx="1736.9" cy="202.3"/><circle cx="1784" cy="153.8"/><circle cx="1715.5" cy="169.4"/><circle cx="1718.3" cy="178.1"/><circle cx="1737.3" cy="164.1"/><circle cx="1723.6" cy="145.5"/><circle cx="1721.2" cy="186.4"/><circle cx="1745.8" cy="135.8"/><circle cx="1699.1" cy="184.3"/></g>
<g class="fs"><circle cx="1664.6" cy="265.8"/><circle cx="1631.2" cy="262.4"/><circle cx="1455.5" cy="421.5"/><circle cx="1591.2" cy="292.2"/><circle cx="1623.8" cy="281.9"/><circle cx="1628.3" cy="274.4"/><circle cx="1456" cy="442.9"/><circle cx="1530" cy="348.3"/><circle cx="1565.3" cy="350.9"/><circle cx="1383.5" cy="501"/><circle cx="1698.7" cy="218.2"/><circle cx="1534.2" cy="361.2"/><circle cx="1627" cy="272.9"/><circle cx="1648.3" cy="243.8"/><circle cx="1554.5" cy="344.9"/><circle cx="1600.7" cy="280.2"/><circle cx="1674.5" cy="234.1"/><circle cx="1506.3" cy="372.8"/><circle cx="1642.2" cy="275.7"/><circle cx="1445.6" cy="447.9"/><circle cx="1652.6" cy="261.8"/><circle cx="1533.3" cy="342.4"/><circle cx="1636.1" cy="258.4"/><circle cx="1519.4" cy="365.3"/><circle cx="1571.9" cy="311"/><circle cx="1473.3" cy="405.5"/><circle cx="1630.9" cy="266.1"/><circle cx="1534.6" cy="370.3"/><circle cx="1656.7" cy="257.3"/><circle cx="1570.7" cy="325.3"/><circle cx="1673.4" cy="230.6"/><circle cx="1501.2" cy="373.8"/><circle cx="1481.4" cy="417.1"/><circle cx="1522.2" cy="373.1"/><circle cx="1559.5" cy="354.3"/><circle cx="1583" cy="315.5"/><circle cx="1611.5" cy="268.6"/><circle cx="1687.9" cy="215.2"/><circle cx="1575.8" cy="301.3"/><circle cx="1477.5" cy="402.1"/><circle cx="1598.1" cy="294.7"/><circle cx="1364.4" cy="517.8"/><circle cx="1715.8" cy="196.7"/><circle cx="1626.1" cy="261.5"/><circle cx="1524.1" cy="379.7"/><circle cx="1596.3" cy="297"/><circle cx="1597.8" cy="288.3"/><circle cx="1415.9" cy="469.5"/><circle cx="1539" cy="366.8"/><circle cx="1370.1" cy="516"/><circle cx="1600.6" cy="320.1"/><circle cx="1443.5" cy="440.6"/><circle cx="1396.3" cy="494"/><circle cx="1589.6" cy="329.3"/><circle cx="1526.1" cy="347.8"/><circle cx="1685.1" cy="223.5"/><circle cx="1670.9" cy="237.7"/><circle cx="1680.9" cy="222.4"/><circle cx="1657.5" cy="244.1"/><circle cx="1556.9" cy="316.7"/><circle cx="1636.6" cy="278.5"/><circle cx="1397.3" cy="487.2"/><circle cx="1474.5" cy="418.7"/><circle cx="1582.2" cy="329.1"/><circle cx="1496.1" cy="403.1"/><circle cx="1519.8" cy="376.1"/><circle cx="1613.9" cy="288.3"/><circle cx="1573.7" cy="314.1"/><circle cx="1621.4" cy="264.1"/><circle cx="1649.8" cy="278.7"/><circle cx="1616.1" cy="264.7"/><circle cx="1598.3" cy="297.4"/><circle cx="1462.9" cy="439.1"/><circle cx="1588.7" cy="294.4"/><circle cx="1457.6" cy="441.8"/><circle cx="1512.3" cy="388.3"/><circle cx="1639.9" cy="242.7"/><circle cx="1572.9" cy="325.5"/><circle cx="1597.7" cy="319"/><circle cx="1531.2" cy="366.2"/><circle cx="1479.6" cy="400.5"/><circle cx="1546.7" cy="362.3"/><circle cx="1656.2" cy="260.7"/><circle cx="1678.8" cy="251.4"/><circle cx="1504" cy="393.2"/><circle cx="1418.4" cy="462.2"/><circle cx="1489.3" cy="387.4"/><circle cx="1520.5" cy="369"/><circle cx="1512.5" cy="362.1"/><circle cx="1666.4" cy="230.8"/><circle cx="1504" cy="375.2"/><circle cx="1586" cy="305.9"/><circle cx="1390.1" cy="492.7"/><circle cx="1437.2" cy="439.4"/><circle cx="1551.3" cy="348.9"/><circle cx="1484.5" cy="398.6"/><circle cx="1602.7" cy="292.7"/><circle cx="1527" cy="375"/><circle cx="1686.3" cy="224.1"/><circle cx="1642.5" cy="260.5"/><circle cx="1515" cy="361.1"/><circle cx="1612.6" cy="301"/><circle cx="1527" cy="350.8"/><circle cx="1383" cy="499.2"/><circle cx="1614.5" cy="279.2"/><circle cx="1500.4" cy="410.7"/><circle cx="1598.7" cy="285.8"/><circle cx="1476.6" cy="427.6"/><circle cx="1608.5" cy="300.5"/><circle cx="1448.1" cy="442.6"/><circle cx="1453.6" cy="443.7"/><circle cx="1580" cy="343.8"/><circle cx="1624.8" cy="281.3"/><circle cx="1569" cy="347.6"/><circle cx="1409.2" cy="482.7"/><circle cx="1668.5" cy="220.4"/><circle cx="1590.5" cy="291"/><circle cx="1514.2" cy="393.9"/><circle cx="1463.4" cy="410.8"/><circle cx="1545.5" cy="350.8"/><circle cx="1495.8" cy="384.2"/><circle cx="1559.4" cy="340.1"/><circle cx="1680" cy="225.6"/><circle cx="1500.7" cy="380.8"/><circle cx="1488.6" cy="394.9"/><circle cx="1581.7" cy="312.5"/><circle cx="1480.6" cy="419.9"/><circle cx="1445.4" cy="453"/><circle cx="1624.9" cy="266"/><circle cx="1584" cy="338.7"/><circle cx="1647" cy="242.3"/><circle cx="1512.9" cy="370.9"/><circle cx="1378.8" cy="507.4"/><circle cx="1404.4" cy="477.8"/><circle cx="1577.2" cy="303.9"/><circle cx="1549.7" cy="351.3"/><circle cx="1439.3" cy="452.3"/><circle cx="1597.1" cy="320.9"/><circle cx="1674.8" cy="216.6"/><circle cx="1496" cy="404"/><circle cx="1469.7" cy="420.6"/><circle cx="1578.7" cy="326.5"/><circle cx="1624.1" cy="291.5"/><circle cx="1527.7" cy="371.7"/><circle cx="1460.6" cy="443.5"/><circle cx="1484" cy="399.9"/><circle cx="1671.3" cy="247.9"/><circle cx="1440.3" cy="434.9"/><circle cx="1479.9" cy="411.2"/><circle cx="1533" cy="342.6"/><circle cx="1615.2" cy="288.2"/><circle cx="1448.7" cy="446.8"/><circle cx="1532.7" cy="343.1"/><circle cx="1646.4" cy="267.3"/><circle cx="1496.2" cy="382.5"/><circle cx="1587.8" cy="315.6"/><circle cx="1654.9" cy="235.5"/><circle cx="1563" cy="328.6"/><circle cx="1508.2" cy="401.3"/><circle cx="1457.2" cy="419.5"/><circle cx="1455.5" cy="443.3"/><circle cx="1532.5" cy="380.3"/><circle cx="1442.3" cy="450.7"/><circle cx="1422.4" cy="457"/><circle cx="1692.1" cy="211.6"/><circle cx="1617.1" cy="266.3"/><circle cx="1560" cy="336.5"/><circle cx="1682.1" cy="212.3"/><circle cx="1557.9" cy="323.3"/><circle cx="1646.7" cy="249.3"/><circle cx="1595.1" cy="288.6"/><circle cx="1611.7" cy="310.9"/><circle cx="1667" cy="259.3"/><circle cx="1542.3" cy="371.4"/><circle cx="1496.7" cy="385.7"/><circle cx="1482.8" cy="403.2"/><circle cx="1638.5" cy="257.4"/><circle cx="1395.7" cy="488.5"/><circle cx="1626.6" cy="284.4"/><circle cx="1437.5" cy="448.4"/><circle cx="1615.2" cy="294.2"/><circle cx="1541.3" cy="354.7"/><circle cx="1655.9" cy="235.2"/><circle cx="1651.3" cy="263.5"/><circle cx="1665.9" cy="261.1"/><circle cx="1540.4" cy="354.7"/><circle cx="1667.5" cy="254.9"/><circle cx="1491.3" cy="387.5"/><circle cx="1491.4" cy="417.1"/><circle cx="1508.9" cy="397.6"/><circle cx="1435" cy="461"/><circle cx="1621.7" cy="301"/><circle cx="1612.7" cy="308.9"/><circle cx="1656.1" cy="271.3"/><circle cx="1568.2" cy="346"/><circle cx="1602.4" cy="293.8"/><circle cx="1633.5" cy="248.1"/><circle cx="1682.1" cy="212.8"/><circle cx="1604.9" cy="296.5"/><circle cx="1489.3" cy="414.9"/><circle cx="1523.8" cy="352.2"/><circle cx="1643.4" cy="253.4"/><circle cx="1444" cy="433.9"/><circle cx="1612.6" cy="295.3"/><circle cx="1670.4" cy="237.7"/><circle cx="1541.2" cy="336.1"/><circle cx="1523.5" cy="387"/><circle cx="1449.6" cy="426"/><circle cx="1607.9" cy="313.4"/><circle cx="1694.9" cy="205.1"/><circle cx="1655.3" cy="257.8"/><circle cx="1491.3" cy="409.5"/><circle cx="1607.9" cy="303.4"/><circle cx="1467.2" cy="438.1"/><circle cx="1548.9" cy="332.4"/><circle cx="1558.7" cy="329.6"/><circle cx="1563.5" cy="350"/><circle cx="1530.6" cy="347.1"/><circle cx="1563.1" cy="354.5"/><circle cx="1614.3" cy="295.1"/><circle cx="1433.1" cy="448.6"/><circle cx="1579.9" cy="337.8"/><circle cx="1635.4" cy="246.9"/><circle cx="1600.3" cy="282.3"/><circle cx="1582" cy="304.1"/><circle cx="1582.3" cy="323"/><circle cx="1503.6" cy="376.5"/><circle cx="1560.9" cy="324.5"/><circle cx="1560.6" cy="349.5"/><circle cx="1591.6" cy="313.8"/><circle cx="1638.2" cy="271.3"/><circle cx="1557.2" cy="358.9"/><circle cx="1534.1" cy="342.9"/><circle cx="1553.8" cy="349.2"/><circle cx="1656.8" cy="231.2"/><circle cx="1463.2" cy="417.1"/><circle cx="1648" cy="267.4"/><circle cx="1668.6" cy="240.6"/><circle cx="1538.4" cy="353.2"/><circle cx="1468.4" cy="432.4"/><circle cx="1488" cy="385.1"/><circle cx="1682.6" cy="229.7"/><circle cx="1543.9" cy="333.1"/><circle cx="1656.8" cy="229.6"/><circle cx="1560" cy="352.4"/><circle cx="1588.9" cy="321.9"/><circle cx="1614.4" cy="278.5"/><circle cx="1422.8" cy="468.4"/><circle cx="1606.2" cy="276.7"/><circle cx="1642.9" cy="243.7"/><circle cx="1404.7" cy="483.9"/><circle cx="1600.2" cy="315.5"/><circle cx="1561.7" cy="316"/><circle cx="1694" cy="220.8"/><circle cx="1567.2" cy="350.8"/><circle cx="1671.1" cy="256.4"/><circle cx="1493.8" cy="381.5"/><circle cx="1609.6" cy="277.3"/><circle cx="1501.5" cy="379.4"/><circle cx="1543.6" cy="343.7"/><circle cx="1366.9" cy="518.4"/><circle cx="1381.7" cy="503.4"/><circle cx="1631.8" cy="295.3"/><circle cx="1494.5" cy="397.1"/><circle cx="1672.9" cy="225.8"/><circle cx="1400.3" cy="488.5"/><circle cx="1536.4" cy="373.2"/><circle cx="1570.1" cy="321.4"/><circle cx="1472.5" cy="428.2"/><circle cx="1677.7" cy="252.3"/><circle cx="1589.5" cy="311.3"/><circle cx="1534" cy="348.1"/><circle cx="1728.1" cy="182.3"/><circle cx="1556.7" cy="348.8"/><circle cx="1577.5" cy="344.7"/><circle cx="1480.1" cy="394.7"/><circle cx="1471.9" cy="418.7"/><circle cx="1642" cy="245.4"/><circle cx="1587.9" cy="300.3"/><circle cx="1501.1" cy="369.2"/><circle cx="1445.8" cy="452.7"/><circle cx="1533.4" cy="366.3"/><circle cx="1602.4" cy="288.4"/><circle cx="1632.9" cy="283.2"/><circle cx="1574.5" cy="340.9"/><circle cx="1568.4" cy="323.2"/><circle cx="1630.1" cy="260"/><circle cx="1603.2" cy="284.2"/><circle cx="1580" cy="333.4"/><circle cx="1551.5" cy="332.9"/><circle cx="1689.6" cy="233.9"/><circle cx="1522.2" cy="369.3"/><circle cx="1670.7" cy="222.4"/><circle cx="1479.3" cy="425.4"/><circle cx="1474.5" cy="400.8"/><circle cx="1673.3" cy="217.4"/><circle cx="1648.1" cy="264.5"/><circle cx="1558.6" cy="318.6"/><circle cx="1634.8" cy="255.6"/><circle cx="1590.1" cy="291.8"/><circle cx="1432.8" cy="446.9"/><circle cx="1693.7" cy="202"/><circle cx="1441.4" cy="453.9"/><circle cx="1492.7" cy="384.9"/><circle cx="1669.7" cy="217.2"/><circle cx="1626.3" cy="296.8"/><circle cx="1454.6" cy="422.4"/><circle cx="1565" cy="333.6"/><circle cx="1655.3" cy="238.4"/><circle cx="1603.6" cy="316.5"/><circle cx="1588.7" cy="295"/><circle cx="1641.2" cy="262.5"/><circle cx="1599.8" cy="314.6"/><circle cx="1526.7" cy="349.3"/><circle cx="1535.5" cy="362.4"/><circle cx="1568.6" cy="344.9"/><circle cx="1537.1" cy="338.9"/><circle cx="1516" cy="394.9"/><circle cx="1554" cy="331.1"/><circle cx="1490.3" cy="394.9"/><circle cx="1464.1" cy="416.6"/><circle cx="1682.6" cy="244.5"/><circle cx="1539.7" cy="374.1"/><circle cx="1527.1" cy="349.4"/><circle cx="1494.6" cy="413.5"/><circle cx="1685.9" cy="201.1"/><circle cx="1586.2" cy="303.2"/><circle cx="1517.4" cy="355.1"/><circle cx="1666.5" cy="223.2"/><circle cx="1534.3" cy="376"/><circle cx="1705.1" cy="206.3"/><circle cx="1486.5" cy="419.1"/><circle cx="1460.6" cy="440.6"/><circle cx="1583.2" cy="316.5"/><circle cx="1586.4" cy="295.5"/><circle cx="1656.2" cy="250"/><circle cx="1454.3" cy="422.6"/><circle cx="1611.1" cy="301.4"/><circle cx="1512.6" cy="396.1"/><circle cx="1415" cy="471.6"/><circle cx="1447.3" cy="430"/><circle cx="1391.2" cy="490.6"/><circle cx="1479.5" cy="423.2"/><circle cx="1449" cy="449.9"/><circle cx="1650" cy="259.3"/><circle cx="1645" cy="252.3"/><circle cx="1659.2" cy="266.1"/><circle cx="1500.8" cy="373.7"/><circle cx="1498.8" cy="393.4"/><circle cx="1417.3" cy="462"/><circle cx="1580.7" cy="317"/><circle cx="1555.8" cy="336.1"/><circle cx="1602.4" cy="317.9"/><circle cx="1595.5" cy="292.7"/><circle cx="1474.8" cy="401.3"/><circle cx="1590" cy="306.8"/><circle cx="1523.8" cy="374.5"/><circle cx="1543.6" cy="370.4"/><circle cx="1404.2" cy="485.4"/><circle cx="1685.4" cy="241.4"/><circle cx="1579.8" cy="338"/><circle cx="1638.3" cy="283.2"/><circle cx="1636.2" cy="258.8"/><circle cx="1660.9" cy="235.1"/><circle cx="1597.7" cy="321.9"/><circle cx="1611" cy="287.2"/><circle cx="1536.5" cy="369.2"/><circle cx="1631.4" cy="255.3"/><circle cx="1490.9" cy="381.2"/><circle cx="1490.5" cy="417.4"/><circle cx="1491.8" cy="399.6"/><circle cx="1422.9" cy="461.6"/><circle cx="1703.1" cy="207.3"/><circle cx="1478.4" cy="409.7"/><circle cx="1577.6" cy="310.6"/><circle cx="1637.1" cy="279.6"/><circle cx="1452.6" cy="441.6"/><circle cx="1501.9" cy="397.8"/><circle cx="1495.4" cy="398.7"/><circle cx="1576.6" cy="303.3"/><circle cx="1512.8" cy="383.3"/><circle cx="1461.5" cy="426"/><circle cx="1672.4" cy="247.9"/><circle cx="1644.4" cy="277"/><circle cx="1572.9" cy="311.6"/><circle cx="1594.5" cy="322.1"/><circle cx="1377.4" cy="505"/><circle cx="1393.4" cy="494"/><circle cx="1628.6" cy="264.9"/><circle cx="1432" cy="451.9"/><circle cx="1539.5" cy="350.2"/><circle cx="1532.9" cy="365.7"/><circle cx="1631.3" cy="288"/><circle cx="1436" cy="463.7"/><circle cx="1661.2" cy="249.4"/><circle cx="1401.4" cy="480.4"/><circle cx="1601.9" cy="322.5"/><circle cx="1525.7" cy="387"/><circle cx="1633.4" cy="277.6"/><circle cx="1665.8" cy="223.5"/><circle cx="1547" cy="368.4"/><circle cx="1529" cy="357"/><circle cx="1674.2" cy="223.4"/><circle cx="1554.7" cy="327"/><circle cx="1535.8" cy="378.1"/><circle cx="1569.6" cy="306.2"/><circle cx="1457" cy="442.2"/><circle cx="1686.2" cy="217.3"/><circle cx="1647.5" cy="239.7"/><circle cx="1408.5" cy="474.7"/><circle cx="1462.5" cy="418.6"/><circle cx="1613.4" cy="307"/><circle cx="1588.8" cy="329.8"/><circle cx="1599.2" cy="287.4"/><circle cx="1713" cy="198.3"/><circle cx="1463.8" cy="424.2"/><circle cx="1519.1" cy="391.4"/><circle cx="1555.5" cy="362.3"/><circle cx="1612" cy="303.9"/><circle cx="1534.2" cy="356.5"/><circle cx="1596.1" cy="311.3"/><circle cx="1539" cy="361.4"/><circle cx="1548.2" cy="367"/><circle cx="1428.4" cy="451"/><circle cx="1475.4" cy="413.6"/><circle cx="1501.3" cy="407.1"/><circle cx="1588.5" cy="335.2"/><circle cx="1660" cy="263.4"/><circle cx="1463.2" cy="430.9"/><circle cx="1523" cy="378.3"/><circle cx="1682.6" cy="244.5"/><circle cx="1462" cy="422.9"/><circle cx="1619.1" cy="295.8"/><circle cx="1599.6" cy="320.2"/><circle cx="1523.4" cy="359"/><circle cx="1555.3" cy="328.8"/><circle cx="1426.8" cy="452.4"/><circle cx="1523.7" cy="386"/><circle cx="1495.4" cy="392.7"/><circle cx="1620.4" cy="283.2"/><circle cx="1691.4" cy="218.2"/><circle cx="1545.9" cy="348.7"/><circle cx="1546" cy="337"/><circle cx="1692.9" cy="215"/><circle cx="1535.7" cy="341.8"/><circle cx="1703.6" cy="210.7"/><circle cx="1405.5" cy="480"/><circle cx="1451.7" cy="440.5"/><circle cx="1553.9" cy="337.5"/><circle cx="1499.5" cy="407.4"/><circle cx="1616.3" cy="271.9"/><circle cx="1597.2" cy="322.4"/><circle cx="1474.3" cy="429.2"/><circle cx="1563.6" cy="355"/><circle cx="1452.5" cy="428.2"/><circle cx="1488.8" cy="418.2"/><circle cx="1405.8" cy="481.7"/><circle cx="1685.4" cy="242.3"/><circle cx="1605.1" cy="315.4"/><circle cx="1572.5" cy="319.9"/><circle cx="1587.5" cy="323.8"/><circle cx="1488.4" cy="408.4"/><circle cx="1618.3" cy="282.4"/><circle cx="1699.2" cy="192.7"/><circle cx="1563.4" cy="339.8"/><circle cx="1510.4" cy="400.2"/><circle cx="1590.9" cy="318.5"/><circle cx="1570.8" cy="309.9"/><circle cx="1453" cy="443.8"/><circle cx="1434.2" cy="443.9"/><circle cx="1631.5" cy="257"/><circle cx="1614.6" cy="270.7"/><circle cx="1688.2" cy="241.5"/><circle cx="1533" cy="380.9"/><circle cx="1658.7" cy="271.2"/><circle cx="1717.6" cy="187.6"/><circle cx="1499.5" cy="412.5"/><circle cx="1447" cy="444.7"/><circle cx="1528.2" cy="380.4"/><circle cx="1443" cy="452.6"/><circle cx="1381.3" cy="506.7"/><circle cx="1542.5" cy="336"/><circle cx="1565.4" cy="311.7"/><circle cx="1472.3" cy="425.6"/><circle cx="1680" cy="224.7"/><circle cx="1497.5" cy="396"/><circle cx="1489.4" cy="405.5"/><circle cx="1617.2" cy="310.3"/><circle cx="1606.4" cy="313.5"/><circle cx="1623" cy="281.7"/><circle cx="1634.2" cy="258.9"/><circle cx="1530.4" cy="359.6"/><circle cx="1590.4" cy="319.9"/><circle cx="1464.5" cy="430.9"/><circle cx="1646.5" cy="238.9"/><circle cx="1559.6" cy="329"/><circle cx="1518.8" cy="375.9"/><circle cx="1427.7" cy="450.3"/><circle cx="1627.8" cy="294.9"/><circle cx="1601.1" cy="308"/><circle cx="1623.3" cy="265.6"/><circle cx="1606.6" cy="301.3"/><circle cx="1533.9" cy="372.5"/><circle cx="1519.5" cy="373.3"/><circle cx="1662.4" cy="226.3"/><circle cx="1552.6" cy="351.8"/><circle cx="1671.8" cy="253.9"/><circle cx="1648.4" cy="258.7"/><circle cx="1485.4" cy="420.6"/><circle cx="1428.5" cy="465.5"/><circle cx="1579.9" cy="300.4"/><circle cx="1487.3" cy="413"/><circle cx="1589.8" cy="296.8"/><circle cx="1519.2" cy="357.8"/><circle cx="1618.9" cy="275"/><circle cx="1553.8" cy="332.4"/><circle cx="1568.3" cy="312.2"/><circle cx="1662.6" cy="226.2"/><circle cx="1691.6" cy="207.5"/><circle cx="1687.7" cy="232.1"/><circle cx="1643.3" cy="263.5"/><circle cx="1536" cy="369.9"/><circle cx="1433.4" cy="454.4"/><circle cx="1559.1" cy="341.8"/><circle cx="1477.3" cy="426.9"/><circle cx="1514.2" cy="392"/><circle cx="1460" cy="442.6"/><circle cx="1601.7" cy="281.9"/><circle cx="1584.2" cy="310.7"/><circle cx="1582.3" cy="301"/><circle cx="1656.7" cy="244.4"/><circle cx="1494.6" cy="379.9"/><circle cx="1569.5" cy="306.8"/><circle cx="1440.8" cy="440.7"/><circle cx="1407.6" cy="480.5"/><circle cx="1623.3" cy="278.1"/><circle cx="1613.5" cy="275.8"/><circle cx="1640.1" cy="283.9"/><circle cx="1461.5" cy="438.9"/><circle cx="1631" cy="257.8"/><circle cx="1568.6" cy="322.8"/><circle cx="1677.8" cy="224.7"/><circle cx="1455.7" cy="427.3"/><circle cx="1461.5" cy="411.6"/><circle cx="1502.8" cy="396.7"/><circle cx="1569.6" cy="351.6"/><circle cx="1448" cy="443.8"/><circle cx="1674.5" cy="229.4"/><circle cx="1638.1" cy="290.3"/><circle cx="1557.3" cy="321.1"/><circle cx="1549.3" cy="329.7"/><circle cx="1445.5" cy="453.2"/><circle cx="1451.7" cy="430.6"/><circle cx="1554.2" cy="354"/><circle cx="1372.6" cy="512.6"/><circle cx="1516.5" cy="360"/><circle cx="1485.4" cy="420.4"/><circle cx="1455.2" cy="425"/><circle cx="1487.2" cy="407.1"/><circle cx="1636.6" cy="250.7"/><circle cx="1584.9" cy="294.4"/><circle cx="1518.6" cy="379.8"/><circle cx="1661.9" cy="249.5"/><circle cx="1458.8" cy="432.2"/><circle cx="1643.4" cy="278.6"/><circle cx="1588.9" cy="310.4"/><circle cx="1568.2" cy="349.3"/><circle cx="1579.2" cy="298.8"/><circle cx="1462.5" cy="433.8"/><circle cx="1474" cy="397.6"/><circle cx="1592.3" cy="286.3"/><circle cx="1597.7" cy="322.5"/><circle cx="1466.3" cy="407.5"/><circle cx="1677.6" cy="231.6"/><circle cx="1572.3" cy="321.6"/><circle cx="1572.6" cy="342.9"/><circle cx="1658.1" cy="261"/><circle cx="1606.3" cy="296.1"/><circle cx="1581" cy="320.5"/><circle cx="1624.7" cy="264.5"/><circle cx="1721.8" cy="193.7"/><circle cx="1510.3" cy="370.5"/><circle cx="1512.9" cy="388"/><circle cx="1513.5" cy="366.7"/><circle cx="1480.6" cy="420.6"/><circle cx="1622.3" cy="281.6"/><circle cx="1489.1" cy="385.7"/><circle cx="1571.8" cy="311.4"/><circle cx="1611.8" cy="299.7"/><circle cx="1615.5" cy="281.6"/><circle cx="1475" cy="422"/><circle cx="1686.4" cy="215.2"/><circle cx="1695.2" cy="216"/><circle cx="1507.7" cy="383.4"/><circle cx="1565.7" cy="353.5"/><circle cx="1506.2" cy="387.6"/><circle cx="1548.3" cy="358.5"/><circle cx="1599.9" cy="314.5"/><circle cx="1528.1" cy="350.1"/><circle cx="1523.5" cy="372.6"/><circle cx="1687.4" cy="210.8"/><circle cx="1393.9" cy="495.8"/><circle cx="1653.8" cy="244.2"/><circle cx="1505.5" cy="374.3"/><circle cx="1688.1" cy="220"/><circle cx="1518.3" cy="393.5"/><circle cx="1503.4" cy="372.4"/><circle cx="1566.7" cy="349.4"/><circle cx="1666.7" cy="253.2"/><circle cx="1679.4" cy="213.8"/><circle cx="1480.6" cy="421.6"/><circle cx="1630.6" cy="292.8"/><circle cx="1689.2" cy="231"/><circle cx="1507.1" cy="390.5"/><circle cx="1686.3" cy="235.8"/><circle cx="1566.9" cy="344.1"/><circle cx="1563.5" cy="352.1"/><circle cx="1470.2" cy="412.3"/><circle cx="1422.8" cy="470.6"/><circle cx="1501.9" cy="404.3"/><circle cx="1518.3" cy="360.6"/><circle cx="1500.3" cy="392.9"/><circle cx="1639.6" cy="247.6"/><circle cx="1633.2" cy="284.8"/><circle cx="1525.1" cy="361.2"/><circle cx="1637.4" cy="263.6"/><circle cx="1530.7" cy="364.7"/><circle cx="1552.2" cy="356.6"/><circle cx="1396.9" cy="493.3"/><circle cx="1693.3" cy="215"/><circle cx="1560.2" cy="347.9"/><circle cx="1597.7" cy="286.8"/><circle cx="1522.4" cy="369.2"/><circle cx="1598" cy="287"/><circle cx="1539.3" cy="353.5"/><circle cx="1597.5" cy="298.7"/><circle cx="1674.8" cy="219.4"/><circle cx="1679.7" cy="218.9"/><circle cx="1662.4" cy="242.5"/><circle cx="1657" cy="265.2"/><circle cx="1545.6" cy="365.2"/><circle cx="1617.2" cy="282.5"/><circle cx="1692.5" cy="234.3"/><circle cx="1493.8" cy="382.5"/><circle cx="1499.1" cy="375.9"/><circle cx="1627.4" cy="270.4"/><circle cx="1468.4" cy="409.7"/><circle cx="1489.2" cy="411.5"/><circle cx="1498.1" cy="380"/><circle cx="1502.8" cy="404"/><circle cx="1632.5" cy="279.1"/><circle cx="1376.1" cy="508.6"/><circle cx="1591.8" cy="286.4"/><circle cx="1414.2" cy="473.5"/><circle cx="1608.4" cy="274.9"/><circle cx="1383.2" cy="502.5"/><circle cx="1427.9" cy="451.6"/><circle cx="1535.6" cy="371.2"/><circle cx="1416.3" cy="466.5"/><circle cx="1645.9" cy="250.5"/><circle cx="1459.2" cy="422.7"/><circle cx="1537.6" cy="335.8"/><circle cx="1513.3" cy="364.6"/><circle cx="1644.7" cy="254"/><circle cx="1644.2" cy="265.3"/><circle cx="1495.4" cy="401.8"/><circle cx="1503.8" cy="405.3"/><circle cx="1560.9" cy="344.3"/><circle cx="1501.8" cy="392.7"/><circle cx="1508.4" cy="374.9"/><circle cx="1567.7" cy="310.8"/><circle cx="1475.5" cy="428.7"/><circle cx="1436.9" cy="448.6"/><circle cx="1566.4" cy="332.5"/><circle cx="1584.7" cy="306.6"/><circle cx="1470.7" cy="420.8"/><circle cx="1512.4" cy="397.4"/><circle cx="1622.2" cy="281.1"/><circle cx="1568.8" cy="335.2"/><circle cx="1445.6" cy="447.4"/><circle cx="1576.4" cy="313.2"/><circle cx="1512.7" cy="370.2"/><circle cx="1621.7" cy="264.5"/><circle cx="1651.8" cy="270.6"/><circle cx="1398.8" cy="482.5"/><circle cx="1565.6" cy="318.4"/><circle cx="1639.9" cy="282.6"/><circle cx="1525.4" cy="382.2"/><circle cx="1656.6" cy="262.8"/><circle cx="1612.7" cy="309.2"/><circle cx="1717.4" cy="207.5"/><circle cx="1433.8" cy="450"/><circle cx="1483.4" cy="407.5"/><circle cx="1522.7" cy="389.5"/><circle cx="1475.4" cy="411"/><circle cx="1433.7" cy="454.5"/><circle cx="1378.4" cy="509.4"/><circle cx="1607.7" cy="296.5"/><circle cx="1534.6" cy="339.5"/><circle cx="1681.4" cy="212.9"/><circle cx="1534.6" cy="361.6"/><circle cx="1582.1" cy="313.9"/><circle cx="1537.3" cy="372.6"/><circle cx="1648.1" cy="278.5"/><circle cx="1515.1" cy="381.4"/><circle cx="1594.8" cy="289.2"/><circle cx="1480.7" cy="415.9"/><circle cx="1620" cy="303.2"/><circle cx="1494.1" cy="413.2"/><circle cx="1511.4" cy="370"/><circle cx="1563.7" cy="321.7"/><circle cx="1426.6" cy="453.2"/><circle cx="1557.8" cy="332.3"/><circle cx="1579.7" cy="315.6"/><circle cx="1442.9" cy="453.2"/><circle cx="1489.3" cy="395.9"/><circle cx="1547.5" cy="350.8"/><circle cx="1458.7" cy="429.1"/><circle cx="1726.8" cy="188"/><circle cx="1611.5" cy="310.1"/><circle cx="1451.7" cy="449.5"/><circle cx="1532.2" cy="357.6"/><circle cx="1438.3" cy="441.6"/><circle cx="1515.9" cy="392.3"/><circle cx="1476.5" cy="422.3"/><circle cx="1624.1" cy="289.4"/><circle cx="1522.9" cy="386.5"/><circle cx="1521.2" cy="387.8"/><circle cx="1686.5" cy="236.6"/><circle cx="1666.8" cy="238.9"/><circle cx="1549.8" cy="364.8"/><circle cx="1643.4" cy="280.4"/><circle cx="1621.9" cy="260.1"/><circle cx="1446.9" cy="430.9"/><circle cx="1559.7" cy="319"/><circle cx="1420.1" cy="465.5"/><circle cx="1512.2" cy="387.3"/><circle cx="1580.2" cy="337.3"/><circle cx="1570.6" cy="338.7"/><circle cx="1519.5" cy="355.5"/><circle cx="1464.5" cy="429.7"/><circle cx="1661.2" cy="240.7"/><circle cx="1544.7" cy="370.4"/><circle cx="1570.4" cy="308.9"/><circle cx="1597" cy="294.5"/><circle cx="1616" cy="296.3"/><circle cx="1692.1" cy="237.8"/><circle cx="1457" cy="446.7"/><circle cx="1498.5" cy="387.5"/><circle cx="1555.9" cy="352.4"/><circle cx="1606.5" cy="298.2"/><circle cx="1556" cy="335.3"/><circle cx="1389.8" cy="494.5"/><circle cx="1509.9" cy="366.4"/><circle cx="1655" cy="260.7"/><circle cx="1634.2" cy="265.3"/><circle cx="1438.4" cy="444.5"/><circle cx="1451.1" cy="434"/><circle cx="1643.7" cy="244"/><circle cx="1549.4" cy="341.3"/><circle cx="1555.4" cy="353.3"/><circle cx="1539.7" cy="351.6"/><circle cx="1424.3" cy="471.5"/><circle cx="1564.6" cy="320.1"/><circle cx="1535.7" cy="342.6"/><circle cx="1545" cy="369.4"/><circle cx="1576.2" cy="343.6"/><circle cx="1501.5" cy="382.7"/><circle cx="1473.2" cy="425.3"/><circle cx="1547.6" cy="344.4"/><circle cx="1565.2" cy="353.2"/><circle cx="1448" cy="431.7"/><circle cx="1531.9" cy="378.1"/><circle cx="1495.4" cy="388"/><circle cx="1695.6" cy="221.7"/><circle cx="1667" cy="255.1"/><circle cx="1569.5" cy="310.6"/><circle cx="1574.7" cy="311.8"/><circle cx="1423.9" cy="471"/><circle cx="1610.1" cy="298.5"/><circle cx="1586.8" cy="292.4"/><circle cx="1419.1" cy="471.2"/><circle cx="1554.7" cy="326.9"/><circle cx="1545" cy="339.6"/><circle cx="1570.3" cy="344"/><circle cx="1525.2" cy="345.6"/><circle cx="1395.7" cy="489"/><circle cx="1548.6" cy="359.4"/><circle cx="1511.9" cy="377.5"/><circle cx="1626.6" cy="278.8"/><circle cx="1596.6" cy="322.8"/><circle cx="1558.4" cy="345"/><circle cx="1627.9" cy="277.8"/><circle cx="1661.8" cy="237.4"/><circle cx="1500.4" cy="387.3"/><circle cx="1561.2" cy="355.4"/><circle cx="1382.8" cy="502.7"/><circle cx="1657.8" cy="253.3"/><circle cx="1673.8" cy="216.9"/><circle cx="1584.2" cy="319.3"/><circle cx="1670.5" cy="251.5"/><circle cx="1647.9" cy="256"/><circle cx="1662.5" cy="249.6"/><circle cx="1555.8" cy="354.5"/><circle cx="1641.5" cy="275.5"/><circle cx="1586.2" cy="295.4"/><circle cx="1456.2" cy="425.5"/><circle cx="1690.1" cy="229.8"/><circle cx="1457.8" cy="418.2"/><circle cx="1602.9" cy="286.1"/><circle cx="1572.5" cy="350.1"/><circle cx="1669.8" cy="218.9"/><circle cx="1460.7" cy="434.8"/><circle cx="1627.2" cy="257.3"/><circle cx="1554.6" cy="341"/><circle cx="1529.9" cy="384.4"/><circle cx="1636.4" cy="274.9"/><circle cx="1655.2" cy="270.8"/><circle cx="1575" cy="309"/><circle cx="1681.6" cy="224.8"/><circle cx="1562.8" cy="321.2"/><circle cx="1649.3" cy="276"/><circle cx="1374.5" cy="509.1"/><circle cx="1706.7" cy="191.1"/><circle cx="1573.6" cy="321.1"/><circle cx="1608.7" cy="276.1"/><circle cx="1680.5" cy="235.7"/><circle cx="1640.7" cy="272.6"/><circle cx="1552.5" cy="346.6"/><circle cx="1483.2" cy="422.9"/><circle cx="1568.3" cy="342.1"/><circle cx="1655.8" cy="230.6"/><circle cx="1408.4" cy="478.9"/><circle cx="1671.6" cy="222.8"/><circle cx="1683.6" cy="208.7"/><circle cx="1680.4" cy="217"/><circle cx="1517.9" cy="367.9"/><circle cx="1497.1" cy="396.1"/><circle cx="1535.3" cy="351.7"/><circle cx="1516.9" cy="386.4"/><circle cx="1545.2" cy="354.9"/><circle cx="1529" cy="359.8"/><circle cx="1682.9" cy="249.8"/><circle cx="1671.2" cy="249.7"/><circle cx="1532.5" cy="348.5"/><circle cx="1581.1" cy="317.9"/><circle cx="1444.3" cy="456.9"/><circle cx="1520.2" cy="353.8"/><circle cx="1467.7" cy="422.7"/><circle cx="1558.3" cy="357.5"/><circle cx="1603.9" cy="285.7"/><circle cx="1459.8" cy="421.7"/><circle cx="1509.6" cy="370.4"/><circle cx="1656" cy="237.8"/><circle cx="1437.2" cy="447.2"/><circle cx="1698.8" cy="198.5"/><circle cx="1619.3" cy="305"/><circle cx="1683.9" cy="220.5"/><circle cx="1620.1" cy="281.1"/><circle cx="1633.2" cy="264.6"/><circle cx="1419.6" cy="469.6"/><circle cx="1627.3" cy="268.5"/><circle cx="1454.7" cy="430.1"/><circle cx="1631.5" cy="249.9"/><circle cx="1554" cy="340.9"/><circle cx="1598.5" cy="296.7"/><circle cx="1612.2" cy="291.2"/><circle cx="1653.2" cy="262.5"/><circle cx="1449.2" cy="437.8"/><circle cx="1556" cy="322.8"/><circle cx="1608.7" cy="282.3"/><circle cx="1605.1" cy="289.6"/><circle cx="1569.8" cy="345.6"/><circle cx="1702.6" cy="214.9"/><circle cx="1610.3" cy="287"/><circle cx="1541.9" cy="372.2"/><circle cx="1584.4" cy="330.2"/><circle cx="1642.6" cy="240.1"/><circle cx="1470.9" cy="421.5"/><circle cx="1515.1" cy="372"/><circle cx="1492.3" cy="380.5"/><circle cx="1405.9" cy="486.3"/><circle cx="1411.3" cy="469.5"/><circle cx="1383.4" cy="504.1"/><circle cx="1577.2" cy="322.7"/><circle cx="1729.1" cy="188.1"/><circle cx="1380.7" cy="503.1"/><circle cx="1491.9" cy="413"/><circle cx="1509.7" cy="364.7"/><circle cx="1666.5" cy="249.2"/><circle cx="1637.9" cy="286.4"/><circle cx="1427.2" cy="457.4"/><circle cx="1458.5" cy="420.5"/><circle cx="1643.6" cy="281"/><circle cx="1458.8" cy="428.6"/><circle cx="1627.9" cy="266.7"/><circle cx="1647" cy="256.5"/><circle cx="1548.1" cy="366.6"/><circle cx="1424" cy="470.6"/><circle cx="1409.2" cy="479.3"/><circle cx="1487.2" cy="412.9"/><circle cx="1482.8" cy="404.7"/><circle cx="1583.9" cy="305.3"/><circle cx="1722.7" cy="191.5"/><circle cx="1545.6" cy="332.6"/><circle cx="1478.1" cy="413.7"/><circle cx="1563.4" cy="342.2"/><circle cx="1493.2" cy="407.1"/><circle cx="1687.2" cy="231.5"/><circle cx="1558.8" cy="315.6"/><circle cx="1675.3" cy="229.4"/><circle cx="1532.2" cy="378.5"/><circle cx="1489.5" cy="395"/><circle cx="1465.4" cy="424.4"/><circle cx="1679.5" cy="210.5"/><circle cx="1438.4" cy="438"/><circle cx="1501.4" cy="412.1"/><circle cx="1547.5" cy="359.1"/><circle cx="1560.6" cy="358.9"/><circle cx="1536.1" cy="383"/><circle cx="1707.9" cy="217.2"/><circle cx="1506.9" cy="372.5"/><circle cx="1557.7" cy="326.9"/><circle cx="1460.1" cy="434.9"/><circle cx="1722.7" cy="182.7"/><circle cx="1656" cy="244.4"/><circle cx="1567.2" cy="339.8"/><circle cx="1688.3" cy="237.5"/><circle cx="1479.4" cy="412.6"/><circle cx="1435.7" cy="457.7"/><circle cx="1584.1" cy="335.2"/><circle cx="1676" cy="227.2"/><circle cx="1631.6" cy="272.3"/><circle cx="1606.7" cy="314.5"/><circle cx="1427.8" cy="459"/><circle cx="1586.3" cy="316.5"/><circle cx="1535.4" cy="343.7"/><circle cx="1688.1" cy="212.2"/><circle cx="1669.9" cy="217.2"/><circle cx="1668.9" cy="242.6"/><circle cx="1415.4" cy="473"/><circle cx="1488.4" cy="418.1"/><circle cx="1593.1" cy="313.5"/><circle cx="1643.7" cy="256.9"/><circle cx="1609.8" cy="272.8"/><circle cx="1615.1" cy="303.9"/><circle cx="1508.1" cy="387.9"/><circle cx="1453.9" cy="442.5"/><circle cx="1409.1" cy="483.5"/><circle cx="1710.6" cy="200.3"/><circle cx="1670.4" cy="231"/><circle cx="1585.4" cy="305.1"/><circle cx="1700" cy="196.3"/><circle cx="1636.8" cy="273.7"/><circle cx="1537.9" cy="336.4"/><circle cx="1651.6" cy="257.3"/><circle cx="1620.3" cy="267.5"/><circle cx="1667.2" cy="235.5"/><circle cx="1505.1" cy="400.7"/><circle cx="1657.9" cy="253.6"/><circle cx="1617.3" cy="268.2"/><circle cx="1463.7" cy="425.7"/><circle cx="1489.6" cy="409.2"/><circle cx="1457.1" cy="431.7"/><circle cx="1470.5" cy="404.3"/><circle cx="1570.8" cy="343.9"/><circle cx="1544.3" cy="354.5"/><circle cx="1499.8" cy="384.6"/><circle cx="1609.4" cy="270.5"/><circle cx="1687.1" cy="212.8"/><circle cx="1425.2" cy="452.4"/><circle cx="1403.5" cy="480.9"/><circle cx="1623.4" cy="298"/><circle cx="1641.6" cy="246.5"/><circle cx="1538.5" cy="369.7"/><circle cx="1629.3" cy="266.8"/><circle cx="1571.1" cy="345.7"/><circle cx="1514.4" cy="380.3"/><circle cx="1643" cy="275.8"/><circle cx="1565.2" cy="344.4"/><circle cx="1652.2" cy="274.8"/><circle cx="1672.7" cy="254.8"/><circle cx="1655.7" cy="256.6"/><circle cx="1373.7" cy="510.9"/><circle cx="1563.4" cy="343.2"/><circle cx="1540.3" cy="357"/><circle cx="1588" cy="300.1"/><circle cx="1468.3" cy="418"/><circle cx="1412.3" cy="481"/><circle cx="1712.6" cy="190.6"/><circle cx="1602.7" cy="297"/><circle cx="1590.5" cy="326.3"/><circle cx="1545.6" cy="349.3"/><circle cx="1401.9" cy="479.1"/><circle cx="1490.5" cy="383.5"/><circle cx="1621" cy="263.3"/><circle cx="1624.4" cy="289.2"/><circle cx="1627.1" cy="278"/><circle cx="1643.5" cy="281.4"/><circle cx="1557.1" cy="338.6"/><circle cx="1667.7" cy="249.1"/><circle cx="1488.1" cy="386.2"/><circle cx="1531.7" cy="384"/><circle cx="1476.4" cy="428.8"/><circle cx="1398.1" cy="489.2"/><circle cx="1533.2" cy="381"/><circle cx="1460.7" cy="416.3"/><circle cx="1591.5" cy="301.7"/><circle cx="1703.2" cy="223.4"/><circle cx="1703.5" cy="197.6"/><circle cx="1633.7" cy="253.6"/><circle cx="1626.5" cy="277.9"/><circle cx="1409.8" cy="481"/><circle cx="1543.5" cy="370.5"/><circle cx="1680.4" cy="207.4"/><circle cx="1675.6" cy="219"/><circle cx="1600.5" cy="321.2"/><circle cx="1489.3" cy="407.8"/><circle cx="1510.7" cy="366.3"/><circle cx="1461.1" cy="434.3"/><circle cx="1619.3" cy="302.4"/><circle cx="1475.7" cy="420.2"/><circle cx="1666.8" cy="231.2"/><circle cx="1606" cy="279"/><circle cx="1641.9" cy="282.9"/><circle cx="1675.2" cy="228.3"/><circle cx="1558.1" cy="338.8"/><circle cx="1443.3" cy="440.5"/><circle cx="1627.2" cy="269.2"/><circle cx="1651.3" cy="270.9"/><circle cx="1476.9" cy="409.6"/><circle cx="1556.8" cy="321.3"/><circle cx="1633" cy="269.9"/><circle cx="1708.4" cy="202.7"/><circle cx="1540" cy="370.6"/><circle cx="1614.6" cy="293.7"/><circle cx="1563.9" cy="344.5"/><circle cx="1604.8" cy="295.4"/><circle cx="1610.1" cy="304"/><circle cx="1696.1" cy="224.4"/><circle cx="1620.2" cy="296.5"/><circle cx="1497.3" cy="378"/><circle cx="1666.9" cy="256"/><circle cx="1515" cy="401.2"/><circle cx="1577.6" cy="325.7"/><circle cx="1455.5" cy="437.9"/><circle cx="1616.9" cy="298.7"/><circle cx="1464.1" cy="412.3"/><circle cx="1550.8" cy="327.1"/><circle cx="1556.1" cy="332.9"/><circle cx="1657.9" cy="190.1"/><circle cx="1564" cy="291"/></g>
</g>
<path d="M1341.3 541L1872.8 55" stroke="#000" stroke-width="3.3" clip-path="url(#cp2)"/>
<rect x="1341.3" y="55" width="531.5" height="486" fill="none" stroke="#262626" stroke-width="2.4"/>
<path d="M1341 53.8V541.3H1874" fill="none" stroke="#000" stroke-width="2.7"/>
<path d="M1364.4 542v9.5M1520.5 542v9.5M1676.6 542v9.5M1832.7 542v9.5M1340.3 519.4h-9.5M1340.3 376.4h-9.5M1340.3 233.4h-9.5M1340.3 90.4h-9.5" stroke="#000" stroke-width="2" fill="none"/>
<text class="tk" transform="translate(1364.4 587) scale(.925 1)" text-anchor="middle">0</text>
<text class="tk" transform="translate(1520.5 587) scale(.925 1)" text-anchor="middle">10</text>
<text class="tk" transform="translate(1676.6 587) scale(.925 1)" text-anchor="middle">20</text>
<text class="tk" transform="translate(1832.7 587) scale(.925 1)" text-anchor="middle">30</text>
<text class="tk" transform="translate(1315.3 529.6) scale(.925 1)" text-anchor="end">0</text>
<text class="tk" transform="translate(1315.3 386.6) scale(.925 1)" text-anchor="end">10</text>
<text class="tk" transform="translate(1315.3 243.6) scale(.925 1)" text-anchor="end">20</text>
<text class="tk" transform="translate(1315.3 100.6) scale(.925 1)" text-anchor="end">30</text>
<text class="tt" transform="translate(1607.5 40.7) scale(.968 1)" text-anchor="middle">ERA5</text>
<clipPath id="cp3"><rect x="117.5" y="650.4" width="530.5" height="484.4"/></clipPath>
<g><path d="M216.2 653.4V1131.8M367.3 653.4V1131.8M518.5 653.4V1131.8M120.5 1044.8H645M120.5 906.2H645M120.5 767.6H645" stroke="#ededed" stroke-width="1.6" fill="none"/><path d="M140.7 653.4V1131.8M291.8 653.4V1131.8M442.9 653.4V1131.8M594 653.4V1131.8M120.5 1114.1H645M120.5 975.5H645M120.5 836.9H645M120.5 698.3H645" stroke="#ebebeb" stroke-width="3.2" fill="none"/></g>
<g class="pt" clip-path="url(#cp3)">
<g class="nn"><circle cx="146.1" cy="1111"/><circle cx="148.4" cy="1109.3"/><circle cx="142.4" cy="1113.9"/><circle cx="139.4" cy="1111.5"/><circle cx="144.7" cy="1114.2"/><circle cx="146.8" cy="1109.2"/><circle cx="143.3" cy="1109.2"/><circle cx="146.3" cy="1108.1"/><circle cx="150.6" cy="1097.4"/><circle cx="139.7" cy="1114.9"/><circle cx="146.4" cy="1109.8"/><circle cx="140.4" cy="1111.9"/><circle cx="140" cy="1115.1"/><circle cx="141.2" cy="1117.1"/><circle cx="147.1" cy="1107"/><circle cx="153.2" cy="1108.6"/><circle cx="139.2" cy="1111.1"/><circle cx="146.6" cy="1113.2"/><circle cx="148.5" cy="1107.7"/><circle cx="140.5" cy="1113.9"/><circle cx="139.2" cy="1111.9"/><circle cx="154.7" cy="1108.4"/><circle cx="146.7" cy="1109.8"/><circle cx="142.2" cy="1110.4"/><circle cx="141.2" cy="1116.6"/><circle cx="143.7" cy="1115.3"/><circle cx="142" cy="1114.2"/><circle cx="145.3" cy="1107.9"/><circle cx="150.9" cy="1099.1"/><circle cx="147.4" cy="1110.9"/><circle cx="145.6" cy="1107.5"/><circle cx="143.8" cy="1108.9"/><circle cx="142.1" cy="1113"/><circle cx="145.8" cy="1105.5"/><circle cx="147.3" cy="1110.6"/><circle cx="149.5" cy="1108.6"/><circle cx="145.1" cy="1108.5"/><circle cx="141.9" cy="1114.5"/><circle cx="142.1" cy="1107.8"/><circle cx="140.4" cy="1110.9"/><circle cx="147.8" cy="1101.6"/><circle cx="146.1" cy="1109"/><circle cx="142.5" cy="1112.8"/><circle cx="145.6" cy="1103.3"/><circle cx="138.8" cy="1116.7"/><circle cx="145.7" cy="1113.4"/><circle cx="146" cy="1106.8"/><circle cx="142.9" cy="1111.5"/></g>
<g class="cc"><circle cx="428.3" cy="896.3"/><circle cx="330.3" cy="995"/><circle cx="320.9" cy="990.1"/><circle cx="320.1" cy="1000.7"/><circle cx="338.8" cy="964.9"/><circle cx="317.8" cy="997.6"/><circle cx="178.7" cy="1087.2"/><circle cx="395.1" cy="919"/><circle cx="308.4" cy="997"/><circle cx="334.5" cy="977.3"/><circle cx="411.5" cy="903.4"/><circle cx="299" cy="1002.1"/><circle cx="403.6" cy="927.8"/><circle cx="222.5" cy="1054.5"/><circle cx="190.9" cy="1082.7"/><circle cx="339.1" cy="969.9"/><circle cx="333.3" cy="984"/><circle cx="430.5" cy="900.2"/><circle cx="431.2" cy="896.5"/><circle cx="433.4" cy="890.6"/><circle cx="384.5" cy="934.1"/><circle cx="354.4" cy="971.7"/><circle cx="424.2" cy="891.3"/><circle cx="377.5" cy="932.7"/><circle cx="301.7" cy="998.2"/><circle cx="345.8" cy="976.8"/><circle cx="355.8" cy="967.6"/><circle cx="386.2" cy="925.2"/><circle cx="327.1" cy="997"/><circle cx="375.4" cy="937.8"/><circle cx="348.4" cy="964.9"/><circle cx="226" cy="1060.3"/><circle cx="188.4" cy="1079.7"/><circle cx="265.5" cy="1031"/><circle cx="223" cy="1059.5"/><circle cx="171.3" cy="1091"/><circle cx="369.2" cy="953"/><circle cx="220.9" cy="1064.1"/><circle cx="396.8" cy="915.8"/><circle cx="396.1" cy="934.5"/><circle cx="426.8" cy="899.2"/><circle cx="378.9" cy="934.4"/><circle cx="205.6" cy="1076.1"/><circle cx="313.2" cy="995.1"/><circle cx="208.7" cy="1073.6"/><circle cx="353.7" cy="956.2"/><circle cx="425.9" cy="891.7"/><circle cx="459" cy="862.1"/><circle cx="464" cy="852.3"/><circle cx="374.1" cy="945.5"/><circle cx="419.8" cy="904.5"/><circle cx="201.2" cy="1071.4"/><circle cx="415.8" cy="905.8"/><circle cx="259.9" cy="1035.5"/><circle cx="426" cy="907.2"/><circle cx="180.9" cy="1088.1"/><circle cx="330.5" cy="982.8"/><circle cx="445.4" cy="872.7"/><circle cx="421.8" cy="914.3"/><circle cx="434" cy="880.2"/><circle cx="172.7" cy="1089.7"/><circle cx="269.8" cy="1027.9"/><circle cx="372.2" cy="938.2"/><circle cx="470.2" cy="846.5"/><circle cx="325.6" cy="997.2"/><circle cx="391.1" cy="936.7"/><circle cx="366.5" cy="948.5"/><circle cx="234.5" cy="1055"/><circle cx="271.9" cy="1027.1"/><circle cx="393.1" cy="924.8"/><circle cx="219.8" cy="1056.7"/><circle cx="303.4" cy="1010.2"/><circle cx="315.7" cy="985.5"/><circle cx="291.4" cy="1006"/><circle cx="355.5" cy="953.7"/><circle cx="395.1" cy="923.6"/><circle cx="249.2" cy="1043.2"/><circle cx="261.5" cy="1026.3"/><circle cx="446.3" cy="879.4"/><circle cx="315.8" cy="995"/><circle cx="379.3" cy="936.7"/><circle cx="337.6" cy="966.4"/><circle cx="366.9" cy="953.1"/><circle cx="231.5" cy="1047.9"/><circle cx="350" cy="963.6"/><circle cx="337.7" cy="975.4"/><circle cx="167.6" cy="1092.8"/><circle cx="415.1" cy="914.2"/><circle cx="283.9" cy="1017.2"/><circle cx="176.8" cy="1087.9"/><circle cx="432.4" cy="890.8"/><circle cx="370.5" cy="941.4"/><circle cx="406.1" cy="916.7"/><circle cx="387.6" cy="925.3"/><circle cx="233.1" cy="1046.4"/><circle cx="359.8" cy="951.9"/><circle cx="327.6" cy="982.2"/><circle cx="178.6" cy="1088.8"/><circle cx="399.9" cy="911.4"/><circle cx="358.6" cy="954"/><circle cx="343.6" cy="970.6"/><circle cx="302.7" cy="1000"/><circle cx="337.5" cy="968.3"/><circle cx="170.1" cy="1094.6"/><circle cx="397.8" cy="933"/><circle cx="305.8" cy="1002.8"/><circle cx="434.1" cy="883.6"/><circle cx="359.9" cy="959.2"/><circle cx="333.6" cy="987.1"/><circle cx="338.9" cy="978.6"/><circle cx="382" cy="935.8"/><circle cx="320.3" cy="997.7"/><circle cx="201.1" cy="1076.4"/><circle cx="428.8" cy="889.6"/><circle cx="406.8" cy="914.7"/><circle cx="404.5" cy="916.6"/><circle cx="434" cy="898.6"/><circle cx="346.3" cy="973.1"/><circle cx="325.8" cy="996.6"/><circle cx="388.4" cy="938.7"/><circle cx="394.5" cy="935.8"/><circle cx="439.7" cy="882.1"/><circle cx="206.1" cy="1068.1"/><circle cx="318.6" cy="986.3"/><circle cx="337.6" cy="971"/><circle cx="311.1" cy="998.2"/><circle cx="281.9" cy="1014.6"/><circle cx="230.7" cy="1047.1"/><circle cx="401.3" cy="911.5"/><circle cx="355.1" cy="961.6"/><circle cx="403" cy="927.1"/><circle cx="366" cy="950.5"/><circle cx="347.7" cy="974.7"/><circle cx="273.8" cy="1024.6"/><circle cx="219.8" cy="1067"/><circle cx="349.9" cy="957.2"/><circle cx="389.5" cy="936"/><circle cx="376.9" cy="942.5"/><circle cx="385.2" cy="932.7"/><circle cx="198.7" cy="1077.2"/><circle cx="422.7" cy="893.2"/><circle cx="388.6" cy="933.1"/><circle cx="451" cy="871"/><circle cx="335.8" cy="984.8"/><circle cx="210.4" cy="1066.7"/><circle cx="365.4" cy="949.6"/><circle cx="215.2" cy="1061.2"/><circle cx="342.1" cy="985"/><circle cx="212.6" cy="1061.1"/><circle cx="346.9" cy="973.2"/><circle cx="438" cy="875.5"/><circle cx="282.1" cy="1017.6"/><circle cx="299.9" cy="1002.5"/><circle cx="431.3" cy="900.1"/><circle cx="221.7" cy="1056.1"/><circle cx="312.6" cy="993.8"/><circle cx="337.5" cy="987.4"/><circle cx="429.8" cy="901.2"/><circle cx="192.9" cy="1079.6"/><circle cx="404" cy="915.9"/><circle cx="350" cy="975"/><circle cx="219.5" cy="1066.7"/><circle cx="358.7" cy="949.7"/><circle cx="226.9" cy="1058.3"/><circle cx="407.4" cy="918.4"/><circle cx="230.7" cy="1054.8"/><circle cx="400.2" cy="931.8"/><circle cx="226" cy="1058.9"/><circle cx="375.4" cy="939.5"/><circle cx="437.7" cy="888"/><circle cx="364.7" cy="956"/><circle cx="274.8" cy="1023.3"/><circle cx="402.6" cy="918"/><circle cx="450.9" cy="873.6"/><circle cx="211.7" cy="1061.4"/><circle cx="324.9" cy="995.4"/><circle cx="233.1" cy="1050.6"/><circle cx="202.9" cy="1067.8"/><circle cx="354.4" cy="969.8"/><circle cx="219" cy="1057.6"/><circle cx="320.8" cy="988.7"/><circle cx="447" cy="883.5"/><circle cx="278.7" cy="1013.8"/><circle cx="254.3" cy="1037.6"/><circle cx="241" cy="1046.5"/><circle cx="360.2" cy="954.9"/><circle cx="410.9" cy="908.7"/><circle cx="299.8" cy="1011.8"/><circle cx="299.9" cy="996.3"/><circle cx="226.8" cy="1060.8"/><circle cx="285.9" cy="1009.9"/><circle cx="343.8" cy="975"/><circle cx="281.7" cy="1017.2"/><circle cx="204.5" cy="1070.5"/><circle cx="289.7" cy="1019.1"/><circle cx="208.7" cy="1066.4"/><circle cx="326.1" cy="993.2"/><circle cx="357.9" cy="959.6"/><circle cx="388.4" cy="930.5"/><circle cx="382.7" cy="933.5"/><circle cx="372.7" cy="946.7"/><circle cx="447.4" cy="871.3"/><circle cx="239" cy="1043"/><circle cx="429.8" cy="899.1"/><circle cx="446.5" cy="870.1"/><circle cx="331.2" cy="994.6"/><circle cx="308.7" cy="991.6"/><circle cx="329.6" cy="977.9"/><circle cx="226.7" cy="1059.7"/><circle cx="393.7" cy="921.3"/><circle cx="446.8" cy="870.6"/><circle cx="255.7" cy="1038.2"/><circle cx="343.3" cy="982.8"/><circle cx="400.2" cy="928"/><circle cx="270.6" cy="1018"/><circle cx="187.5" cy="1085.1"/><circle cx="273.3" cy="1020.6"/><circle cx="207.5" cy="1071"/><circle cx="258.5" cy="1033.6"/><circle cx="395.5" cy="922.3"/><circle cx="345.5" cy="971.9"/><circle cx="301" cy="1010.4"/><circle cx="323.5" cy="992.4"/><circle cx="387.8" cy="923.5"/><circle cx="295.6" cy="1003.2"/><circle cx="321.2" cy="985.1"/><circle cx="184.5" cy="1086.6"/><circle cx="250.2" cy="1041.5"/><circle cx="432.2" cy="893.6"/><circle cx="405.6" cy="904.1"/><circle cx="333.4" cy="973.8"/><circle cx="292.9" cy="1016.4"/><circle cx="255.2" cy="1032"/><circle cx="273.9" cy="1025"/><circle cx="374.8" cy="949.1"/><circle cx="385.9" cy="940.5"/><circle cx="296.9" cy="1009"/><circle cx="412.6" cy="917.8"/><circle cx="355.3" cy="956.4"/><circle cx="298.2" cy="1013"/><circle cx="390.9" cy="931"/><circle cx="389.9" cy="930.4"/><circle cx="428.6" cy="890.4"/><circle cx="412.8" cy="907.4"/><circle cx="226.7" cy="1059.7"/><circle cx="333.8" cy="979.5"/><circle cx="225.5" cy="1051.9"/><circle cx="324.7" cy="991.2"/><circle cx="445.6" cy="884.5"/><circle cx="431.4" cy="884.6"/><circle cx="419.2" cy="906.1"/><circle cx="339.7" cy="971"/><circle cx="287.9" cy="1018.9"/><circle cx="187.9" cy="1078.5"/><circle cx="291.8" cy="1011.9"/><circle cx="254.3" cy="1031.4"/><circle cx="419.3" cy="898.7"/><circle cx="453.8" cy="874.5"/><circle cx="300.3" cy="1002.3"/><circle cx="329.8" cy="975.2"/><circle cx="348.5" cy="862.7"/><circle cx="326.3" cy="892.6"/><circle cx="301.2" cy="930.2"/><circle cx="453.7" cy="897.4"/><circle cx="474.9" cy="847.2"/><circle cx="343.6" cy="994.9"/></g>
<g class="cc"><circle cx="425.2" cy="820"/><circle cx="342.4" cy="896.9"/><circle cx="429.5" cy="815.7"/><circle cx="292.6" cy="951.1"/><circle cx="422.9" cy="830.6"/><circle cx="336.1" cy="905.1"/><circle cx="368.6" cy="873.9"/><circle cx="292.9" cy="951.7"/><circle cx="356.8" cy="877.3"/><circle cx="281.3" cy="956"/><circle cx="383.6" cy="862.1"/><circle cx="400.2" cy="844.6"/><circle cx="403.3" cy="836.4"/><circle cx="386.4" cy="862.3"/><circle cx="311.5" cy="923.7"/><circle cx="296.5" cy="938.4"/><circle cx="289.7" cy="954.7"/><circle cx="362.6" cy="879.1"/><circle cx="396.1" cy="852.2"/><circle cx="353" cy="889.6"/><circle cx="357.1" cy="888"/><circle cx="369" cy="870.1"/><circle cx="400" cy="845"/><circle cx="291.7" cy="941.6"/><circle cx="359.5" cy="875.1"/><circle cx="321.4" cy="914.2"/><circle cx="342.5" cy="889.8"/><circle cx="341.9" cy="896.8"/><circle cx="382.7" cy="854.7"/><circle cx="297.4" cy="945.3"/><circle cx="338.5" cy="896.7"/><circle cx="390.9" cy="854.5"/><circle cx="390.9" cy="852.3"/><circle cx="375.1" cy="869.8"/><circle cx="357" cy="878.6"/><circle cx="340.5" cy="904.2"/><circle cx="348.9" cy="884.4"/><circle cx="365.1" cy="878.8"/><circle cx="422.6" cy="832.2"/><circle cx="413.6" cy="839.4"/><circle cx="430.6" cy="815.6"/><circle cx="283.7" cy="958.4"/><circle cx="332.5" cy="908.2"/><circle cx="300.9" cy="944.5"/><circle cx="358.5" cy="876.1"/><circle cx="390.9" cy="859.7"/><circle cx="363.9" cy="881.9"/><circle cx="322.9" cy="914"/><circle cx="423.7" cy="821.1"/><circle cx="313.8" cy="934.9"/><circle cx="309.6" cy="933.1"/><circle cx="328.4" cy="918.9"/><circle cx="361" cy="875.4"/><circle cx="342.3" cy="898.8"/><circle cx="318.6" cy="915.9"/><circle cx="338.3" cy="904.5"/><circle cx="384.8" cy="862.4"/><circle cx="386.7" cy="851"/><circle cx="341.4" cy="894.9"/><circle cx="405.9" cy="834.1"/></g>
<g class="ns"><circle cx="372.8" cy="914.1"/><circle cx="513.3" cy="786.7"/><circle cx="418.3" cy="873.6"/><circle cx="251.1" cy="1020.7"/><circle cx="315.2" cy="995.7"/><circle cx="415.1" cy="896.3"/><circle cx="318.5" cy="994.6"/><circle cx="438.5" cy="856.8"/><circle cx="308.6" cy="997.3"/><circle cx="295.5" cy="1002.1"/><circle cx="505.5" cy="796.7"/><circle cx="475" cy="824.5"/><circle cx="407.9" cy="889.2"/><circle cx="457.9" cy="861.2"/><circle cx="437.1" cy="874.8"/><circle cx="171.8" cy="1089.5"/><circle cx="202.6" cy="1072.7"/><circle cx="420.6" cy="875.1"/><circle cx="380.9" cy="925.4"/><circle cx="441.6" cy="886.9"/><circle cx="421" cy="902.6"/><circle cx="461.9" cy="836.8"/><circle cx="479.1" cy="823.8"/><circle cx="357.2" cy="946.5"/><circle cx="324.7" cy="977.8"/><circle cx="493.6" cy="815.8"/><circle cx="166.9" cy="1095.3"/><circle cx="339.5" cy="954.8"/><circle cx="215.4" cy="1055.3"/><circle cx="461" cy="837.8"/><circle cx="303" cy="989.4"/><circle cx="383.2" cy="924.7"/><circle cx="351.1" cy="937"/><circle cx="376.8" cy="936.2"/><circle cx="390.7" cy="905.5"/><circle cx="362.4" cy="939.3"/><circle cx="493.5" cy="796.5"/><circle cx="408.1" cy="882.2"/><circle cx="355.6" cy="951.1"/><circle cx="378.1" cy="924.8"/><circle cx="206.7" cy="1058.7"/><circle cx="327.1" cy="966.4"/><circle cx="363.7" cy="936.5"/><circle cx="414.4" cy="902.8"/><circle cx="508.5" cy="786.3"/><circle cx="482.5" cy="813.4"/><circle cx="494.4" cy="805.8"/><circle cx="497.7" cy="791.8"/><circle cx="207.1" cy="1059.1"/><circle cx="488" cy="796.5"/><circle cx="181.3" cy="1082.3"/><circle cx="474.7" cy="838.9"/><circle cx="195.2" cy="1071.4"/><circle cx="398.7" cy="908.8"/><circle cx="463.6" cy="825.4"/><circle cx="265.6" cy="1010.9"/><circle cx="294.1" cy="998.5"/><circle cx="497.2" cy="802.8"/><circle cx="361.6" cy="932.9"/><circle cx="189.5" cy="1082"/><circle cx="253.7" cy="1018.5"/><circle cx="409.1" cy="892.3"/><circle cx="292.8" cy="999.4"/><circle cx="285.9" cy="990.8"/><circle cx="238.2" cy="1034.4"/><circle cx="381.2" cy="927.3"/><circle cx="395.7" cy="909.1"/><circle cx="398.2" cy="916.8"/><circle cx="412.5" cy="904"/><circle cx="462.6" cy="822.6"/><circle cx="434.8" cy="882"/><circle cx="488.9" cy="809.8"/><circle cx="181.4" cy="1087"/><circle cx="396.3" cy="900.6"/><circle cx="305" cy="983.4"/><circle cx="328.7" cy="981.7"/><circle cx="290.9" cy="1003.5"/><circle cx="397.6" cy="909.9"/><circle cx="412.3" cy="883.8"/><circle cx="348.7" cy="951.9"/><circle cx="502.6" cy="803.3"/><circle cx="249.1" cy="1025.1"/><circle cx="439.9" cy="886.6"/><circle cx="458.6" cy="859.3"/><circle cx="258.2" cy="1020.7"/><circle cx="299.2" cy="988"/><circle cx="420.9" cy="887.2"/><circle cx="398.2" cy="904.5"/><circle cx="317" cy="975.7"/><circle cx="416" cy="887.1"/><circle cx="353" cy="950.9"/><circle cx="360.1" cy="946.8"/><circle cx="367.4" cy="923.9"/><circle cx="511.3" cy="786.3"/><circle cx="407.3" cy="889"/><circle cx="463.8" cy="841.5"/><circle cx="235.3" cy="1041.9"/><circle cx="189.2" cy="1079.9"/><circle cx="372.7" cy="913.9"/><circle cx="210.4" cy="1056.4"/><circle cx="427.9" cy="883.2"/><circle cx="206.1" cy="1069.5"/><circle cx="369.7" cy="934.2"/><circle cx="317" cy="972.7"/><circle cx="223.3" cy="1051"/><circle cx="514.2" cy="794.9"/><circle cx="293.6" cy="989.6"/><circle cx="331.6" cy="959.5"/><circle cx="486.8" cy="816"/><circle cx="337.7" cy="975"/><circle cx="461.1" cy="850.7"/><circle cx="464.4" cy="829.2"/><circle cx="213.3" cy="1054.5"/><circle cx="424.9" cy="877"/><circle cx="299.1" cy="1004.3"/><circle cx="290.5" cy="990.4"/><circle cx="363.2" cy="938.4"/><circle cx="490.5" cy="800.4"/><circle cx="307.8" cy="983"/><circle cx="245.1" cy="1026.3"/><circle cx="453.8" cy="855.4"/><circle cx="200.6" cy="1066.8"/><circle cx="311.4" cy="966.3"/><circle cx="398.3" cy="917.8"/><circle cx="451.1" cy="849.8"/><circle cx="482.8" cy="811.5"/><circle cx="218.8" cy="1063.3"/><circle cx="332.7" cy="984.1"/><circle cx="409.5" cy="888.7"/><circle cx="458.8" cy="846.8"/><circle cx="443.3" cy="872.4"/><circle cx="479.3" cy="826.6"/><circle cx="470.9" cy="837.8"/><circle cx="369.4" cy="922.4"/><circle cx="371" cy="937.7"/><circle cx="513.3" cy="776.8"/><circle cx="485.8" cy="819.1"/><circle cx="255.5" cy="1029.2"/><circle cx="178.1" cy="1088.9"/><circle cx="452" cy="854"/><circle cx="379" cy="912.3"/><circle cx="423.8" cy="873.6"/><circle cx="259.2" cy="1024.3"/><circle cx="431.5" cy="861.1"/><circle cx="322.3" cy="957.4"/><circle cx="391.1" cy="901.6"/><circle cx="338.5" cy="970.4"/><circle cx="464.5" cy="824.5"/><circle cx="362" cy="951.7"/><circle cx="343.7" cy="969"/><circle cx="340" cy="972.5"/><circle cx="353.1" cy="960.7"/><circle cx="437.8" cy="853.8"/><circle cx="354" cy="947.6"/><circle cx="295.4" cy="989.1"/><circle cx="278.5" cy="998.3"/><circle cx="476.1" cy="821.3"/><circle cx="192.9" cy="1075.3"/><circle cx="219.5" cy="1049.8"/><circle cx="228.7" cy="1053.5"/><circle cx="362.2" cy="950.6"/><circle cx="488.7" cy="820.3"/><circle cx="297.3" cy="1005.1"/><circle cx="472.2" cy="823.3"/><circle cx="333.9" cy="979.5"/><circle cx="393.6" cy="921"/><circle cx="375.9" cy="919"/><circle cx="378.3" cy="931.9"/><circle cx="324.9" cy="965.3"/><circle cx="199.8" cy="1068.8"/><circle cx="429.5" cy="895.7"/><circle cx="332.3" cy="977.7"/><circle cx="326.4" cy="973.4"/><circle cx="343.6" cy="967.1"/><circle cx="284.3" cy="1003"/><circle cx="421" cy="871"/><circle cx="349.9" cy="964.8"/><circle cx="348.3" cy="941.9"/><circle cx="404.3" cy="917.3"/><circle cx="352.4" cy="954.7"/><circle cx="407.4" cy="883.8"/><circle cx="362.2" cy="940.7"/><circle cx="408.4" cy="889.3"/><circle cx="407.7" cy="907.4"/><circle cx="471.1" cy="830.7"/><circle cx="419.3" cy="892"/><circle cx="405.9" cy="913.7"/><circle cx="458.2" cy="860.9"/><circle cx="313.3" cy="981"/><circle cx="462.5" cy="846.2"/><circle cx="345.7" cy="938.8"/><circle cx="426.1" cy="871.9"/><circle cx="337.8" cy="978.4"/><circle cx="356.5" cy="939.7"/><circle cx="350.4" cy="930.9"/><circle cx="376.7" cy="936.1"/><circle cx="308" cy="972"/><circle cx="433.5" cy="854"/><circle cx="400.5" cy="915.3"/><circle cx="475.8" cy="831.3"/><circle cx="416.6" cy="874.4"/><circle cx="292.6" cy="1008.4"/><circle cx="420.6" cy="883.9"/><circle cx="335.7" cy="954.9"/><circle cx="441.5" cy="870.3"/><circle cx="510" cy="777.5"/><circle cx="476.3" cy="832"/><circle cx="287.2" cy="998.2"/><circle cx="475.3" cy="822.3"/><circle cx="500.9" cy="807"/><circle cx="418.9" cy="899"/><circle cx="353" cy="933.3"/><circle cx="308" cy="998.8"/><circle cx="447.1" cy="863.4"/><circle cx="405.4" cy="890.8"/><circle cx="410.8" cy="880.9"/><circle cx="413.3" cy="909.2"/><circle cx="419.2" cy="887.9"/><circle cx="471.2" cy="816.8"/><circle cx="389.1" cy="899.7"/><circle cx="505.3" cy="784.4"/><circle cx="403.9" cy="893.3"/><circle cx="402" cy="906.7"/><circle cx="310.3" cy="970.3"/><circle cx="221" cy="1052.2"/><circle cx="498.2" cy="790.1"/><circle cx="392.1" cy="911.1"/><circle cx="358.4" cy="946.6"/><circle cx="348.6" cy="956.9"/><circle cx="315.6" cy="973.5"/><circle cx="316.7" cy="978.2"/><circle cx="217.2" cy="1061"/><circle cx="331.6" cy="969"/><circle cx="476.6" cy="833.3"/><circle cx="419.5" cy="903.9"/><circle cx="462.6" cy="839.4"/><circle cx="494" cy="801.5"/><circle cx="480.9" cy="817.9"/><circle cx="495" cy="814.5"/><circle cx="449" cy="842"/><circle cx="441.3" cy="876.4"/><circle cx="450.2" cy="857.6"/><circle cx="381.6" cy="924.6"/><circle cx="406.1" cy="905.2"/><circle cx="438.1" cy="861.2"/><circle cx="299.3" cy="986.2"/><circle cx="297.8" cy="981.7"/><circle cx="332" cy="976.5"/><circle cx="327.3" cy="986.4"/><circle cx="344.6" cy="952.6"/><circle cx="248.7" cy="1026.6"/><circle cx="442.4" cy="857.2"/><circle cx="391.3" cy="896.5"/><circle cx="340.5" cy="962.5"/><circle cx="318" cy="963.4"/><circle cx="324" cy="989.9"/><circle cx="307.1" cy="996.9"/><circle cx="453" cy="861.3"/><circle cx="411.7" cy="874.1"/><circle cx="346.7" cy="964.9"/><circle cx="401.7" cy="902.6"/><circle cx="381.2" cy="933.6"/><circle cx="360.9" cy="932"/><circle cx="350.4" cy="948.7"/><circle cx="481.4" cy="819.3"/><circle cx="373.3" cy="928.5"/><circle cx="342.7" cy="969.6"/><circle cx="439.1" cy="858.5"/><circle cx="433.4" cy="884.4"/><circle cx="269.6" cy="1004.4"/><circle cx="351.6" cy="941.2"/><circle cx="312.5" cy="999.8"/><circle cx="413.1" cy="900.5"/><circle cx="484" cy="822"/><circle cx="387.7" cy="898.7"/><circle cx="315.5" cy="967.5"/><circle cx="491" cy="818.7"/><circle cx="308.2" cy="972.7"/><circle cx="403.9" cy="886.2"/><circle cx="240.9" cy="1035.5"/><circle cx="389.5" cy="911"/><circle cx="253.8" cy="1032.7"/><circle cx="298.8" cy="983.6"/><circle cx="384.9" cy="908.9"/><circle cx="331.9" cy="970.8"/><circle cx="334.1" cy="958.6"/><circle cx="211.4" cy="1055.9"/><circle cx="438.4" cy="884.8"/><circle cx="409.7" cy="904"/><circle cx="424.1" cy="886.9"/><circle cx="372.7" cy="918.3"/><circle cx="440" cy="857.2"/><circle cx="314.5" cy="989.5"/><circle cx="477.3" cy="831.4"/><circle cx="420.2" cy="902.6"/><circle cx="515.4" cy="792.2"/><circle cx="484.2" cy="802.4"/><circle cx="432.3" cy="888.7"/><circle cx="224.2" cy="1051"/><circle cx="413.9" cy="890"/><circle cx="433" cy="855.5"/><circle cx="351.2" cy="959.9"/><circle cx="473.6" cy="824.3"/><circle cx="369.6" cy="916"/><circle cx="278.8" cy="1002.7"/><circle cx="443.4" cy="851"/><circle cx="295.6" cy="993.1"/><circle cx="192.6" cy="1076.2"/><circle cx="347.5" cy="948.1"/><circle cx="492.5" cy="801.9"/><circle cx="503.3" cy="805"/><circle cx="322.9" cy="960.4"/><circle cx="454.4" cy="846.3"/><circle cx="322.8" cy="979.4"/><circle cx="299.7" cy="981.6"/><circle cx="419.6" cy="902.9"/><circle cx="463.5" cy="846.4"/><circle cx="269.9" cy="1008"/><circle cx="302.5" cy="1001.3"/><circle cx="339.5" cy="945.8"/><circle cx="411.9" cy="902.4"/><circle cx="270.3" cy="1007.6"/><circle cx="433.9" cy="857.1"/><circle cx="330.1" cy="964.7"/><circle cx="496.5" cy="806.4"/><circle cx="431.6" cy="876.2"/><circle cx="351.6" cy="931.8"/><circle cx="331.2" cy="978.2"/><circle cx="488.9" cy="803"/><circle cx="389.7" cy="926.5"/><circle cx="418.7" cy="887.8"/><circle cx="315.1" cy="987.3"/><circle cx="376.7" cy="909.6"/><circle cx="252.5" cy="1027.6"/><circle cx="440.5" cy="869.1"/><circle cx="166.8" cy="1095.5"/><circle cx="314.8" cy="986.4"/><circle cx="395.9" cy="897.1"/><circle cx="411.8" cy="908.5"/><circle cx="426.3" cy="873.6"/><circle cx="442.9" cy="848.5"/><circle cx="466.1" cy="844.9"/><circle cx="512.5" cy="777.8"/><circle cx="454.4" cy="842.8"/><circle cx="440.7" cy="869.6"/><circle cx="383" cy="903.8"/><circle cx="319.7" cy="965"/><circle cx="324.8" cy="985.8"/><circle cx="439.2" cy="861.4"/><circle cx="186.4" cy="1082.7"/><circle cx="409.5" cy="914.9"/><circle cx="303.6" cy="980"/><circle cx="363.4" cy="922.6"/><circle cx="308.6" cy="991.7"/><circle cx="316" cy="990.2"/><circle cx="374.1" cy="941.9"/><circle cx="330" cy="988.1"/><circle cx="426.7" cy="877.3"/><circle cx="337" cy="972.5"/><circle cx="389.4" cy="928"/><circle cx="351.4" cy="948.6"/><circle cx="492.8" cy="817"/><circle cx="287.6" cy="993.5"/><circle cx="337" cy="975.3"/><circle cx="297.8" cy="982.6"/><circle cx="459.7" cy="830.1"/><circle cx="333.4" cy="967.4"/><circle cx="511.2" cy="793.5"/><circle cx="335" cy="976.8"/><circle cx="499.4" cy="795"/><circle cx="387.3" cy="912.7"/><circle cx="509.9" cy="793.1"/><circle cx="386.4" cy="915.6"/><circle cx="389.3" cy="902"/><circle cx="363.5" cy="951.3"/><circle cx="400.3" cy="900.1"/><circle cx="395.9" cy="919.1"/><circle cx="218.1" cy="1050.4"/><circle cx="290.8" cy="991.6"/><circle cx="402.7" cy="888.8"/><circle cx="373" cy="935.6"/><circle cx="404.5" cy="909"/><circle cx="404.6" cy="912.2"/><circle cx="493.5" cy="796.4"/><circle cx="284.1" cy="1003.7"/><circle cx="331.2" cy="967.7"/><circle cx="316.7" cy="965.7"/><circle cx="378.8" cy="939.5"/><circle cx="347.1" cy="941.5"/><circle cx="374.6" cy="915.5"/><circle cx="427.5" cy="881.4"/><circle cx="455.8" cy="855"/><circle cx="431.4" cy="856.1"/><circle cx="372.1" cy="928.2"/><circle cx="463.3" cy="844.5"/><circle cx="258.3" cy="1018.9"/><circle cx="433" cy="875"/><circle cx="426.3" cy="898.6"/><circle cx="183.4" cy="1085.8"/><circle cx="466.9" cy="839.2"/><circle cx="244.9" cy="1037.4"/><circle cx="392.1" cy="907.7"/><circle cx="252.2" cy="1029.9"/><circle cx="463.6" cy="840.6"/><circle cx="355.2" cy="930.7"/><circle cx="337.7" cy="976.1"/><circle cx="243.1" cy="1031.4"/><circle cx="374.9" cy="911.9"/><circle cx="453.1" cy="852.5"/><circle cx="450.8" cy="856.8"/><circle cx="413.5" cy="878"/><circle cx="379.8" cy="929.5"/><circle cx="500.8" cy="800.6"/><circle cx="467.8" cy="827.5"/><circle cx="311.5" cy="996.6"/><circle cx="415.9" cy="876.3"/><circle cx="363.6" cy="933.8"/><circle cx="357.7" cy="933.9"/><circle cx="310.5" cy="999.7"/><circle cx="228" cy="1039.2"/><circle cx="458" cy="841.4"/><circle cx="255.7" cy="1016.8"/><circle cx="344.5" cy="970.4"/><circle cx="352.2" cy="961.9"/><circle cx="395.2" cy="900.8"/><circle cx="325.3" cy="964.7"/><circle cx="477.2" cy="820.3"/><circle cx="416.9" cy="906.1"/><circle cx="348.2" cy="965.8"/><circle cx="462.2" cy="854"/><circle cx="492.3" cy="807.8"/><circle cx="485" cy="807.4"/><circle cx="413.9" cy="886.4"/><circle cx="493.1" cy="804.1"/><circle cx="380.6" cy="924.8"/><circle cx="498.9" cy="800.1"/><circle cx="394.1" cy="919.3"/><circle cx="282.9" cy="998"/><circle cx="450.9" cy="874.1"/><circle cx="410.3" cy="886.7"/><circle cx="467.5" cy="819.8"/><circle cx="370.8" cy="941.4"/><circle cx="296.6" cy="998.7"/><circle cx="170.8" cy="1092.9"/><circle cx="438.1" cy="868.3"/><circle cx="446.5" cy="877.6"/><circle cx="268.8" cy="1004.1"/><circle cx="306.5" cy="970.8"/><circle cx="316.4" cy="991.6"/><circle cx="332.6" cy="981.4"/><circle cx="399.7" cy="891.9"/><circle cx="446.3" cy="871.2"/><circle cx="394.1" cy="904.4"/><circle cx="331.4" cy="969.8"/><circle cx="198.1" cy="1066.8"/><circle cx="387" cy="900.7"/><circle cx="456.3" cy="846.1"/><circle cx="365.2" cy="920"/><circle cx="337.5" cy="946.7"/><circle cx="377.3" cy="909.5"/><circle cx="334.3" cy="964"/><circle cx="420.9" cy="890"/><circle cx="471.9" cy="839.6"/><circle cx="316.4" cy="965.4"/><circle cx="411.4" cy="911.6"/><circle cx="365.1" cy="920.9"/><circle cx="313.4" cy="968"/><circle cx="358" cy="942.9"/><circle cx="309.8" cy="999.1"/><circle cx="441.6" cy="876.7"/><circle cx="355.4" cy="937.4"/><circle cx="499.6" cy="807.6"/><circle cx="385.3" cy="923"/><circle cx="479.6" cy="830.9"/><circle cx="250.6" cy="1027.7"/><circle cx="334.3" cy="949"/><circle cx="290.2" cy="998"/><circle cx="318.2" cy="967.6"/><circle cx="295" cy="997.9"/><circle cx="478.1" cy="808.7"/><circle cx="337.1" cy="967"/><circle cx="513.3" cy="795.6"/><circle cx="328.9" cy="978.7"/><circle cx="331.1" cy="954.6"/><circle cx="410.3" cy="911.6"/><circle cx="309.1" cy="983.6"/><circle cx="249.3" cy="1031"/><circle cx="504.8" cy="794.3"/><circle cx="510.3" cy="795.7"/><circle cx="297.9" cy="1005.8"/><circle cx="453.6" cy="842.9"/><circle cx="340.7" cy="961.9"/><circle cx="281.5" cy="1014.2"/><circle cx="411.9" cy="880"/><circle cx="444.1" cy="843"/><circle cx="295.7" cy="980.9"/><circle cx="443" cy="862.1"/><circle cx="346.7" cy="942"/><circle cx="258.6" cy="1017.6"/><circle cx="174.4" cy="1090.1"/><circle cx="468.4" cy="844.8"/><circle cx="215.5" cy="1064.1"/><circle cx="427.3" cy="880.2"/><circle cx="363.1" cy="922.5"/><circle cx="396.5" cy="923.2"/><circle cx="311.2" cy="990.2"/><circle cx="486.1" cy="817"/><circle cx="261.9" cy="1016.7"/><circle cx="406.1" cy="920.3"/><circle cx="303.4" cy="1002.7"/><circle cx="265.9" cy="1008.2"/><circle cx="303.5" cy="989.9"/><circle cx="304.6" cy="981.6"/><circle cx="382" cy="904.9"/><circle cx="448.7" cy="850.5"/><circle cx="386.5" cy="905.2"/><circle cx="420.5" cy="889.6"/><circle cx="452.7" cy="872.3"/><circle cx="351" cy="940"/><circle cx="362.4" cy="949.2"/><circle cx="415.6" cy="875.8"/><circle cx="212.9" cy="1066.2"/><circle cx="413.8" cy="895.7"/><circle cx="419.9" cy="895.7"/><circle cx="434.2" cy="879.4"/><circle cx="457.8" cy="847.5"/><circle cx="506" cy="800.8"/><circle cx="392.4" cy="918.6"/><circle cx="461.8" cy="857"/><circle cx="501.3" cy="796.9"/><circle cx="462.5" cy="829"/><circle cx="446.2" cy="855.6"/><circle cx="375.9" cy="924.9"/><circle cx="381.5" cy="926.2"/><circle cx="421.3" cy="898.6"/><circle cx="358.4" cy="954.4"/><circle cx="312" cy="996.2"/><circle cx="417.2" cy="890"/><circle cx="400.3" cy="920.2"/><circle cx="496" cy="813"/><circle cx="246.9" cy="1024.9"/><circle cx="367.4" cy="921.4"/><circle cx="266.5" cy="1017.1"/><circle cx="440.3" cy="857.6"/><circle cx="333.1" cy="952.5"/><circle cx="171.5" cy="1091"/><circle cx="457.6" cy="830.6"/><circle cx="393.3" cy="919.2"/><circle cx="355.4" cy="931.7"/><circle cx="477.5" cy="832"/><circle cx="420.8" cy="893"/><circle cx="435.1" cy="861.9"/><circle cx="444.5" cy="872.6"/><circle cx="354.9" cy="955.2"/><circle cx="327.4" cy="961.4"/><circle cx="252.5" cy="1020.1"/><circle cx="228.1" cy="1046.5"/><circle cx="347.7" cy="968.8"/><circle cx="400.9" cy="890.8"/><circle cx="219.3" cy="1059"/><circle cx="426.2" cy="878.8"/><circle cx="428.9" cy="891"/><circle cx="232.5" cy="1048.1"/><circle cx="459.9" cy="839.4"/><circle cx="244.6" cy="1040.1"/><circle cx="391.5" cy="925.3"/><circle cx="196.3" cy="1077.2"/><circle cx="479" cy="830.5"/><circle cx="353.9" cy="934.4"/><circle cx="330" cy="962.5"/><circle cx="302" cy="996.1"/><circle cx="341.4" cy="958.4"/><circle cx="183.8" cy="1080.5"/><circle cx="443.4" cy="848.3"/><circle cx="439.7" cy="850.7"/><circle cx="413.2" cy="894.9"/><circle cx="330.3" cy="953.3"/><circle cx="326" cy="985.9"/><circle cx="179.6" cy="1083.9"/><circle cx="457.6" cy="832.4"/><circle cx="313.2" cy="974.1"/><circle cx="365.4" cy="932.2"/><circle cx="507.6" cy="801.3"/><circle cx="431.7" cy="866"/><circle cx="249.1" cy="1027.7"/><circle cx="469.4" cy="815.1"/><circle cx="419.1" cy="894"/><circle cx="467.5" cy="842.6"/><circle cx="318" cy="981.5"/><circle cx="291.9" cy="995.5"/><circle cx="394.7" cy="918.2"/><circle cx="258.2" cy="1026.9"/><circle cx="400.9" cy="890"/><circle cx="401.3" cy="892.7"/><circle cx="483.7" cy="820.1"/><circle cx="425.8" cy="883.5"/><circle cx="455.2" cy="856.4"/><circle cx="376.2" cy="924.1"/><circle cx="368.8" cy="921.3"/><circle cx="207.5" cy="1065.2"/><circle cx="316.2" cy="979.7"/><circle cx="402.9" cy="900.9"/><circle cx="508.5" cy="800.6"/><circle cx="387.8" cy="930.1"/><circle cx="405.7" cy="897.5"/><circle cx="453.1" cy="859.7"/><circle cx="326.5" cy="974.4"/><circle cx="345.7" cy="949.8"/><circle cx="166" cy="1096.7"/><circle cx="360.9" cy="938"/><circle cx="511.5" cy="788.3"/><circle cx="245" cy="1039.8"/><circle cx="322.5" cy="990.3"/><circle cx="361.8" cy="949.9"/><circle cx="580.6" cy="764.9"/><circle cx="533.3" cy="809.3"/><circle cx="476.4" cy="867.2"/><circle cx="434.9" cy="779.3"/><circle cx="444.5" cy="771.6"/><circle cx="388.5" cy="833.4"/><circle cx="411.7" cy="809.3"/><circle cx="602.8" cy="706.9"/><circle cx="608.6" cy="712.7"/><circle cx="543" cy="703.1"/><circle cx="532.4" cy="705"/><circle cx="557.5" cy="707.9"/><circle cx="516" cy="713.7"/><circle cx="492.8" cy="734"/><circle cx="502.4" cy="722.4"/><circle cx="503.4" cy="820.8"/></g>
<g class="ns"><circle cx="379.1" cy="870.2"/><circle cx="351.6" cy="897.6"/><circle cx="425.5" cy="831.7"/><circle cx="463.1" cy="792.2"/><circle cx="433.5" cy="810.7"/><circle cx="289.9" cy="944.9"/><circle cx="358.6" cy="889.6"/><circle cx="417" cy="837.1"/><circle cx="318.6" cy="918.5"/><circle cx="341.8" cy="906.4"/><circle cx="419.7" cy="823.4"/><circle cx="312.9" cy="921.8"/><circle cx="432.6" cy="817.1"/><circle cx="401.9" cy="836.2"/><circle cx="310.1" cy="935"/><circle cx="374.3" cy="872.6"/><circle cx="352.9" cy="885.3"/><circle cx="337.4" cy="911.9"/><circle cx="387.9" cy="858"/><circle cx="404.2" cy="851.3"/><circle cx="453.3" cy="813.5"/><circle cx="463.4" cy="804.1"/><circle cx="314.1" cy="930"/><circle cx="443.2" cy="803.5"/><circle cx="323.3" cy="915.8"/><circle cx="365.2" cy="881.1"/><circle cx="402.4" cy="840.4"/><circle cx="474.6" cy="802.9"/><circle cx="416" cy="824.8"/><circle cx="460.6" cy="809.4"/><circle cx="411.5" cy="843.5"/><circle cx="463.7" cy="809.6"/><circle cx="402.1" cy="839.9"/><circle cx="286.5" cy="949.7"/><circle cx="387.3" cy="852.4"/><circle cx="471" cy="796.7"/><circle cx="439.7" cy="812.8"/><circle cx="337.1" cy="897.8"/><circle cx="468.5" cy="790.3"/><circle cx="472.3" cy="800.3"/><circle cx="429.7" cy="820.8"/><circle cx="378" cy="873"/><circle cx="450.7" cy="802.1"/><circle cx="454.2" cy="806.1"/><circle cx="313.1" cy="932.6"/><circle cx="433.2" cy="814.1"/><circle cx="377.5" cy="860.8"/><circle cx="370.3" cy="880.2"/><circle cx="409.8" cy="835.7"/><circle cx="342.7" cy="894.7"/><circle cx="407.7" cy="842.3"/><circle cx="419.4" cy="824.1"/><circle cx="345.9" cy="894.1"/><circle cx="469.6" cy="790.2"/><circle cx="338.6" cy="897.8"/><circle cx="455.7" cy="796.1"/><circle cx="380.7" cy="864.2"/><circle cx="348" cy="900.7"/><circle cx="327.2" cy="915.8"/><circle cx="442.2" cy="818.8"/><circle cx="465.4" cy="806.8"/><circle cx="313.2" cy="935.8"/><circle cx="431.6" cy="820.1"/><circle cx="315.6" cy="934.9"/><circle cx="326.3" cy="922.4"/><circle cx="442.3" cy="812.8"/><circle cx="396.4" cy="847.2"/><circle cx="427.3" cy="815.3"/><circle cx="460.5" cy="811.4"/><circle cx="392.9" cy="860.9"/><circle cx="290.4" cy="943.1"/><circle cx="290.3" cy="952.1"/><circle cx="393.3" cy="845.7"/><circle cx="302.4" cy="945.2"/><circle cx="370.7" cy="863.7"/><circle cx="420.8" cy="836.8"/><circle cx="311.8" cy="937.1"/><circle cx="320.6" cy="923.2"/><circle cx="284.2" cy="953.1"/><circle cx="459.1" cy="804"/><circle cx="409.4" cy="836.2"/><circle cx="471.8" cy="791.6"/><circle cx="400" cy="848.6"/><circle cx="365.7" cy="868.8"/><circle cx="389.4" cy="856.2"/><circle cx="391.2" cy="845.4"/><circle cx="321.6" cy="920"/><circle cx="314.1" cy="935.3"/><circle cx="302.7" cy="946.1"/><circle cx="422.7" cy="835.4"/><circle cx="460.4" cy="808.5"/><circle cx="336.6" cy="903"/><circle cx="302.8" cy="931.6"/><circle cx="375.2" cy="875.6"/><circle cx="340" cy="907.2"/><circle cx="411.1" cy="841"/><circle cx="384.6" cy="858.8"/><circle cx="462.5" cy="799.6"/><circle cx="398.1" cy="849.5"/><circle cx="403.9" cy="847.8"/><circle cx="373.6" cy="872.9"/><circle cx="385.9" cy="859.4"/><circle cx="462.4" cy="807.4"/><circle cx="405.6" cy="843.7"/><circle cx="391.8" cy="856.7"/><circle cx="471.6" cy="792.6"/><circle cx="415.3" cy="832.1"/><circle cx="314.5" cy="935.3"/><circle cx="455" cy="807.1"/><circle cx="417.3" cy="824.7"/></g>
<g class="ns"><circle cx="534.7" cy="763.4"/><circle cx="461.7" cy="852.1"/><circle cx="523.8" cy="748.2"/><circle cx="464.1" cy="805.1"/><circle cx="485" cy="809.5"/><circle cx="544.1" cy="757.3"/><circle cx="465.3" cy="841.2"/><circle cx="449.6" cy="870.2"/><circle cx="504" cy="748.8"/><circle cx="454.8" cy="807.8"/><circle cx="498.1" cy="773.2"/><circle cx="510.6" cy="754.6"/><circle cx="463.5" cy="849.3"/><circle cx="554.9" cy="731"/><circle cx="476.5" cy="819"/><circle cx="491.9" cy="768.9"/><circle cx="513.9" cy="727.9"/><circle cx="600.3" cy="716.6"/><circle cx="522.9" cy="768.3"/><circle cx="468.8" cy="787.3"/><circle cx="486.8" cy="795.8"/><circle cx="482.8" cy="775.8"/><circle cx="603.8" cy="709.8"/><circle cx="544.6" cy="757.8"/><circle cx="490.3" cy="805.2"/><circle cx="458" cy="790.6"/><circle cx="502.6" cy="801.5"/><circle cx="508.1" cy="770.6"/><circle cx="493.3" cy="788.9"/><circle cx="531" cy="769.4"/><circle cx="558.6" cy="725.3"/><circle cx="483.3" cy="818.3"/><circle cx="585.6" cy="741.7"/><circle cx="459.9" cy="816.7"/><circle cx="577.9" cy="720"/><circle cx="453.4" cy="830.2"/><circle cx="544" cy="762.2"/><circle cx="479" cy="818.6"/><circle cx="520.6" cy="743.1"/><circle cx="475.1" cy="769.2"/><circle cx="476.8" cy="767.4"/><circle cx="504.6" cy="779.4"/><circle cx="496.5" cy="739.9"/><circle cx="531.9" cy="741.5"/><circle cx="515.6" cy="768.1"/><circle cx="476.1" cy="787.1"/><circle cx="447" cy="862.3"/><circle cx="485.4" cy="801.5"/><circle cx="570.4" cy="714.7"/><circle cx="449.8" cy="858"/><circle cx="450.4" cy="870.3"/><circle cx="518.7" cy="718.5"/><circle cx="468.4" cy="815.9"/><circle cx="533.4" cy="794.6"/><circle cx="594" cy="735.2"/><circle cx="563.4" cy="728.4"/><circle cx="513.8" cy="729.3"/><circle cx="537.5" cy="777.8"/><circle cx="574.4" cy="752.9"/><circle cx="575.2" cy="752.8"/><circle cx="518.4" cy="728"/><circle cx="565.2" cy="733.2"/><circle cx="563.3" cy="731.4"/><circle cx="492.8" cy="810.7"/><circle cx="579.8" cy="724.1"/><circle cx="552.5" cy="735"/><circle cx="531" cy="793.1"/><circle cx="459.5" cy="830"/><circle cx="566.1" cy="751.2"/><circle cx="589" cy="736.8"/><circle cx="477.2" cy="825.7"/><circle cx="568.7" cy="720.8"/><circle cx="533.4" cy="757.4"/><circle cx="463.9" cy="818.6"/><circle cx="528.2" cy="728.7"/><circle cx="496.3" cy="743.5"/><circle cx="453.6" cy="798.9"/><circle cx="470.5" cy="787.5"/><circle cx="492.8" cy="749.6"/><circle cx="495.2" cy="801.1"/><circle cx="523.4" cy="762.1"/><circle cx="536.4" cy="717.7"/><circle cx="531.9" cy="732.6"/><circle cx="501.5" cy="810.3"/><circle cx="505.3" cy="753.5"/><circle cx="498.9" cy="783.6"/><circle cx="481.9" cy="760.7"/><circle cx="469.9" cy="804.5"/><circle cx="546.2" cy="766.9"/><circle cx="582.4" cy="727.4"/><circle cx="513.3" cy="792.7"/><circle cx="513.8" cy="731.5"/><circle cx="583.2" cy="729.3"/><circle cx="503.7" cy="763.2"/><circle cx="468.7" cy="827.7"/><circle cx="563.8" cy="739"/><circle cx="457.1" cy="797.4"/><circle cx="493.4" cy="797.2"/><circle cx="569.4" cy="732.3"/><circle cx="486.9" cy="800.5"/><circle cx="460.6" cy="785.3"/><circle cx="490.2" cy="772.8"/><circle cx="519.9" cy="752.8"/><circle cx="487.9" cy="805.8"/><circle cx="530.2" cy="749"/><circle cx="499.6" cy="775"/><circle cx="477.4" cy="786.6"/><circle cx="487.9" cy="750.9"/><circle cx="518.6" cy="778.9"/><circle cx="518.7" cy="770.8"/><circle cx="492.8" cy="751.8"/><circle cx="588.7" cy="713.5"/><circle cx="520.2" cy="744.2"/><circle cx="493.6" cy="757.3"/><circle cx="570.9" cy="713.9"/><circle cx="536.3" cy="732.8"/><circle cx="586.1" cy="742.9"/><circle cx="569.2" cy="716.5"/><circle cx="573.1" cy="730.7"/><circle cx="562.6" cy="753.2"/><circle cx="530.2" cy="730.8"/><circle cx="513.5" cy="779"/><circle cx="484.8" cy="815.3"/><circle cx="586.4" cy="729"/><circle cx="557" cy="753.7"/><circle cx="553.6" cy="764.2"/><circle cx="585.1" cy="729.1"/><circle cx="542.7" cy="758.7"/><circle cx="446.2" cy="852.2"/><circle cx="558.2" cy="751.7"/><circle cx="499.6" cy="745.7"/><circle cx="587.8" cy="727"/><circle cx="459.8" cy="779.8"/><circle cx="513.3" cy="744.7"/><circle cx="475.8" cy="837.3"/><circle cx="593.1" cy="742.2"/><circle cx="536.6" cy="765"/><circle cx="557.4" cy="761.7"/><circle cx="502.2" cy="742"/><circle cx="483.2" cy="790"/><circle cx="519.7" cy="762"/><circle cx="507" cy="765.6"/><circle cx="449.2" cy="810.5"/><circle cx="564.4" cy="739.2"/><circle cx="475.8" cy="831.2"/><circle cx="532.6" cy="779.4"/><circle cx="546.9" cy="732.9"/><circle cx="542.2" cy="779.6"/><circle cx="551.4" cy="711.1"/><circle cx="560.9" cy="750.7"/><circle cx="588.2" cy="736"/><circle cx="555.4" cy="764.5"/><circle cx="513.8" cy="736.9"/><circle cx="561.6" cy="758.7"/><circle cx="509.9" cy="771.1"/><circle cx="535.1" cy="705.8"/><circle cx="476.4" cy="783.2"/><circle cx="548" cy="737.1"/><circle cx="480.7" cy="810.4"/><circle cx="571.2" cy="722.6"/><circle cx="540.1" cy="711.2"/><circle cx="481.4" cy="782.7"/><circle cx="508.9" cy="755.3"/><circle cx="531.1" cy="740.9"/><circle cx="495" cy="754.7"/><circle cx="502" cy="805.2"/><circle cx="503.9" cy="779.4"/><circle cx="479.3" cy="777.8"/><circle cx="534.4" cy="727"/><circle cx="592.3" cy="710.4"/><circle cx="493" cy="813.3"/><circle cx="526.5" cy="736.6"/><circle cx="471.7" cy="837.7"/><circle cx="478.5" cy="815.5"/><circle cx="557.7" cy="712.4"/><circle cx="523.6" cy="787.6"/><circle cx="535.2" cy="732.3"/><circle cx="528.1" cy="742.4"/><circle cx="542.3" cy="717.1"/><circle cx="477.2" cy="770.7"/><circle cx="472.2" cy="804.9"/><circle cx="573.4" cy="749.8"/><circle cx="458.2" cy="791.9"/><circle cx="529.8" cy="759.9"/><circle cx="477.1" cy="773.9"/><circle cx="466.5" cy="783.1"/><circle cx="464.2" cy="780.7"/><circle cx="549.7" cy="774.3"/><circle cx="582.6" cy="727.5"/><circle cx="529.2" cy="765.9"/><circle cx="537.1" cy="766"/><circle cx="584.7" cy="714.3"/><circle cx="544.3" cy="718.1"/><circle cx="456.7" cy="812.2"/><circle cx="516.1" cy="735.9"/><circle cx="582.8" cy="749.2"/><circle cx="520.7" cy="766.4"/><circle cx="487.1" cy="809.7"/><circle cx="451.2" cy="819.7"/><circle cx="524" cy="757.9"/><circle cx="516.9" cy="786.1"/><circle cx="557.8" cy="707.3"/><circle cx="594.2" cy="713.3"/><circle cx="535.5" cy="733.3"/><circle cx="531.6" cy="762.5"/><circle cx="548.8" cy="753.9"/><circle cx="509.2" cy="733.4"/><circle cx="488.5" cy="766.1"/><circle cx="476" cy="835.3"/><circle cx="457.1" cy="837.1"/><circle cx="503.1" cy="783.6"/><circle cx="477.3" cy="829.1"/><circle cx="485.3" cy="782.9"/><circle cx="574" cy="755.6"/><circle cx="561.8" cy="743.8"/><circle cx="462.9" cy="783.9"/><circle cx="562.1" cy="717.6"/><circle cx="456.5" cy="813.9"/><circle cx="513.1" cy="726.3"/><circle cx="569.9" cy="719.2"/><circle cx="514.7" cy="769.8"/><circle cx="532.7" cy="748.1"/><circle cx="578.6" cy="717.7"/><circle cx="554.7" cy="754.5"/><circle cx="531.4" cy="733.6"/><circle cx="585.6" cy="721.5"/><circle cx="590.7" cy="743"/><circle cx="477.8" cy="760.4"/><circle cx="524.7" cy="750"/><circle cx="557.5" cy="738.8"/><circle cx="460.9" cy="791.5"/><circle cx="508.2" cy="735.3"/><circle cx="494.8" cy="761"/><circle cx="574.1" cy="716.5"/><circle cx="473" cy="801.8"/><circle cx="483.3" cy="782.3"/><circle cx="527" cy="729.2"/><circle cx="480.9" cy="834.2"/><circle cx="525.4" cy="786.2"/><circle cx="509.7" cy="766.3"/><circle cx="448.7" cy="812"/><circle cx="472.4" cy="825"/><circle cx="564" cy="750.9"/><circle cx="523.8" cy="763.6"/><circle cx="457.9" cy="825.4"/><circle cx="491.4" cy="814.5"/><circle cx="561.6" cy="709.2"/><circle cx="511.2" cy="734.6"/><circle cx="594.5" cy="716"/><circle cx="535.6" cy="759.2"/><circle cx="464.8" cy="786.8"/><circle cx="582.8" cy="738.4"/><circle cx="548.8" cy="768"/><circle cx="506.3" cy="767.8"/><circle cx="493.8" cy="758.3"/><circle cx="473.5" cy="828.7"/><circle cx="446.8" cy="856.3"/><circle cx="491.8" cy="812.9"/><circle cx="476.7" cy="789.9"/><circle cx="466.2" cy="813.4"/><circle cx="484.3" cy="806.9"/><circle cx="550" cy="705.5"/><circle cx="512.5" cy="757.7"/><circle cx="535.7" cy="715.4"/><circle cx="510" cy="759.2"/><circle cx="584.4" cy="731.3"/><circle cx="532.3" cy="744"/><circle cx="560.6" cy="740.1"/><circle cx="462.6" cy="799.5"/><circle cx="519.4" cy="760.7"/></g>
<g class="fs"><circle cx="350.5" cy="939.3"/><circle cx="297" cy="983.5"/><circle cx="409.8" cy="857.1"/><circle cx="258.3" cy="989.9"/><circle cx="467.7" cy="825.6"/><circle cx="339.5" cy="938"/><circle cx="300.2" cy="950.9"/><circle cx="267.5" cy="988"/><circle cx="417.4" cy="835.6"/><circle cx="414.5" cy="839.8"/><circle cx="364" cy="901.7"/><circle cx="359.9" cy="896.5"/><circle cx="159.5" cy="1099.2"/><circle cx="385" cy="899.5"/><circle cx="298.9" cy="955.9"/><circle cx="469.9" cy="822.5"/><circle cx="303.8" cy="950"/><circle cx="209.5" cy="1062"/><circle cx="212.6" cy="1056.5"/><circle cx="280.8" cy="997.6"/><circle cx="206.1" cy="1053.6"/><circle cx="427.3" cy="846.1"/><circle cx="450.2" cy="839.5"/><circle cx="340.7" cy="929.3"/><circle cx="329.6" cy="945.6"/><circle cx="234.4" cy="1029.1"/><circle cx="388.2" cy="883.4"/><circle cx="370" cy="902"/><circle cx="361.1" cy="901.9"/><circle cx="347.4" cy="910"/><circle cx="406.7" cy="845.6"/><circle cx="235.7" cy="1018.7"/><circle cx="338.7" cy="933.8"/><circle cx="385.2" cy="870.9"/><circle cx="440.1" cy="844.6"/><circle cx="379.1" cy="880.7"/><circle cx="197.1" cy="1066.7"/><circle cx="206.7" cy="1039.1"/><circle cx="372.2" cy="916"/><circle cx="272.1" cy="978.3"/><circle cx="267.2" cy="974.5"/><circle cx="202.2" cy="1054.1"/><circle cx="420.2" cy="872.3"/><circle cx="360.5" cy="918.2"/><circle cx="351" cy="927"/><circle cx="408.1" cy="855.9"/><circle cx="297.1" cy="948.3"/><circle cx="373.2" cy="881.6"/><circle cx="453.9" cy="817"/><circle cx="445.2" cy="836.3"/><circle cx="216" cy="1035.9"/><circle cx="295.8" cy="950.2"/><circle cx="238.4" cy="1008"/><circle cx="409.7" cy="861.5"/><circle cx="347.4" cy="923.9"/><circle cx="256.3" cy="997.8"/><circle cx="215.1" cy="1033.1"/><circle cx="399.1" cy="879.1"/><circle cx="320.7" cy="963.3"/><circle cx="218.2" cy="1046.2"/><circle cx="187.7" cy="1073"/><circle cx="319.6" cy="929.4"/><circle cx="396" cy="873.3"/><circle cx="379.1" cy="897.1"/><circle cx="448.6" cy="825.1"/><circle cx="374.1" cy="891.4"/><circle cx="298.9" cy="944.8"/><circle cx="215.1" cy="1044.4"/><circle cx="310.5" cy="961.6"/><circle cx="255.8" cy="1015.1"/><circle cx="387.2" cy="873.7"/><circle cx="234" cy="1029.4"/><circle cx="401.3" cy="854.2"/><circle cx="308.6" cy="951"/><circle cx="177.5" cy="1075.2"/><circle cx="441.9" cy="835.8"/><circle cx="339.4" cy="920.8"/><circle cx="357.8" cy="933.4"/><circle cx="372" cy="909.8"/><circle cx="215.2" cy="1047"/><circle cx="324" cy="950.2"/><circle cx="313.7" cy="941.9"/><circle cx="344" cy="937.4"/><circle cx="340.3" cy="905.6"/><circle cx="306.1" cy="954"/><circle cx="448.9" cy="848"/><circle cx="192.4" cy="1071.1"/><circle cx="202" cy="1067.3"/><circle cx="444.8" cy="823.3"/><circle cx="377.4" cy="899.1"/><circle cx="408.4" cy="848"/><circle cx="342.7" cy="933.3"/><circle cx="300.1" cy="958.6"/><circle cx="387.6" cy="867.1"/><circle cx="308.4" cy="948.7"/><circle cx="230.3" cy="1029"/><circle cx="209.5" cy="1043.9"/><circle cx="406.1" cy="856.4"/><circle cx="313.7" cy="948.6"/><circle cx="339" cy="931.2"/><circle cx="287.4" cy="991.4"/><circle cx="320.1" cy="961.9"/><circle cx="372.6" cy="892.9"/><circle cx="316.9" cy="934.1"/><circle cx="419.7" cy="851.1"/><circle cx="437.9" cy="823.8"/><circle cx="362.7" cy="917.1"/><circle cx="277.6" cy="979.6"/><circle cx="180.9" cy="1082.6"/><circle cx="339.6" cy="916.3"/><circle cx="245.6" cy="1001"/><circle cx="327.2" cy="951.5"/><circle cx="188.7" cy="1066"/><circle cx="422.6" cy="849.8"/><circle cx="151.5" cy="1103.6"/><circle cx="167.7" cy="1093.7"/><circle cx="396.8" cy="877"/><circle cx="212.5" cy="1048.9"/><circle cx="335.6" cy="936.6"/><circle cx="443.3" cy="848.5"/><circle cx="459.5" cy="831"/><circle cx="351.9" cy="933.6"/><circle cx="383.9" cy="878.7"/><circle cx="294.1" cy="986.2"/><circle cx="186.2" cy="1077"/><circle cx="434.7" cy="857"/><circle cx="257.3" cy="984.5"/><circle cx="282.3" cy="996.5"/><circle cx="294" cy="957"/><circle cx="267.7" cy="998.8"/><circle cx="264.6" cy="981"/><circle cx="159" cy="1093"/><circle cx="333.6" cy="916.8"/><circle cx="203.6" cy="1041.4"/><circle cx="363.6" cy="921.1"/><circle cx="236.4" cy="1025.7"/><circle cx="169.7" cy="1080.2"/><circle cx="281.3" cy="973.5"/><circle cx="320.2" cy="928"/><circle cx="236.8" cy="1020.8"/><circle cx="231.3" cy="1040.4"/><circle cx="230.4" cy="1027.2"/><circle cx="228.8" cy="1030"/><circle cx="337.5" cy="918.5"/><circle cx="319.7" cy="942.2"/><circle cx="202.2" cy="1066.4"/><circle cx="382.8" cy="890"/><circle cx="186.1" cy="1059.2"/><circle cx="268.1" cy="994.6"/><circle cx="320.8" cy="940.2"/><circle cx="356.9" cy="921.1"/><circle cx="451.1" cy="818.6"/><circle cx="253.5" cy="1017.5"/><circle cx="251.4" cy="1009.5"/><circle cx="270" cy="992.3"/><circle cx="381" cy="876.4"/><circle cx="210.6" cy="1037.7"/><circle cx="285.9" cy="992.4"/><circle cx="337.5" cy="927.6"/><circle cx="185.8" cy="1073.2"/><circle cx="149.9" cy="1106.7"/><circle cx="408.2" cy="882.2"/><circle cx="305" cy="962.3"/><circle cx="356.2" cy="919"/><circle cx="366.7" cy="880.5"/><circle cx="225" cy="1022.2"/><circle cx="270.5" cy="1005.4"/><circle cx="276.1" cy="985.2"/><circle cx="439.9" cy="823.7"/><circle cx="294.5" cy="959.7"/><circle cx="365" cy="906.2"/><circle cx="409.8" cy="863.8"/><circle cx="279.5" cy="976.1"/><circle cx="233.4" cy="1032"/><circle cx="461.7" cy="824.4"/><circle cx="284.2" cy="985.7"/><circle cx="209.9" cy="1035.2"/><circle cx="454.8" cy="828.1"/><circle cx="275.5" cy="996.8"/><circle cx="353.6" cy="914.2"/><circle cx="436.4" cy="825.2"/><circle cx="441.9" cy="832.7"/><circle cx="411.7" cy="875.3"/><circle cx="456.4" cy="837.5"/><circle cx="283.1" cy="993.8"/><circle cx="251.9" cy="987.5"/><circle cx="405.6" cy="888.4"/><circle cx="434.4" cy="838.1"/><circle cx="215.5" cy="1036.5"/><circle cx="296.8" cy="983.8"/><circle cx="380.5" cy="898.8"/><circle cx="203.1" cy="1051.5"/><circle cx="417.4" cy="874.5"/><circle cx="383.5" cy="866.9"/><circle cx="256.3" cy="998.2"/><circle cx="384.4" cy="902.8"/><circle cx="228.5" cy="1034.8"/><circle cx="422.3" cy="834.8"/><circle cx="376.7" cy="906.2"/><circle cx="204.2" cy="1044.3"/><circle cx="306.3" cy="943.6"/><circle cx="338" cy="918.2"/><circle cx="374.2" cy="895.7"/><circle cx="276.2" cy="968.9"/><circle cx="374.5" cy="902"/><circle cx="317.5" cy="966.9"/><circle cx="295.7" cy="983.5"/><circle cx="263.8" cy="1005.6"/><circle cx="288" cy="966"/><circle cx="339.9" cy="914.6"/><circle cx="470.5" cy="821.3"/><circle cx="399.4" cy="883.4"/><circle cx="347.8" cy="899.5"/><circle cx="362.3" cy="914.2"/><circle cx="388.9" cy="863.2"/><circle cx="320.9" cy="963.9"/><circle cx="337.5" cy="941.7"/><circle cx="398.8" cy="853"/><circle cx="241.1" cy="1004.5"/><circle cx="209.2" cy="1057.2"/><circle cx="311.7" cy="958.2"/><circle cx="440.2" cy="847.1"/><circle cx="425.4" cy="834.2"/><circle cx="334.1" cy="913.3"/><circle cx="200.7" cy="1057.2"/><circle cx="375.2" cy="913.5"/><circle cx="430.6" cy="825"/><circle cx="344.6" cy="943.6"/><circle cx="416.8" cy="872.7"/><circle cx="433.9" cy="842.5"/><circle cx="234.7" cy="1011.1"/><circle cx="312.6" cy="971.2"/><circle cx="389.8" cy="868.8"/><circle cx="337" cy="907.4"/><circle cx="355.8" cy="925"/><circle cx="263.6" cy="995.5"/><circle cx="270.9" cy="983.1"/><circle cx="270.4" cy="970.4"/><circle cx="400.4" cy="867.9"/><circle cx="367.9" cy="917.8"/><circle cx="372.6" cy="892.5"/><circle cx="454.7" cy="814.6"/><circle cx="254.7" cy="987.2"/><circle cx="312.6" cy="930.3"/><circle cx="463.9" cy="804.3"/><circle cx="448.1" cy="828"/><circle cx="290.8" cy="990.9"/><circle cx="376.8" cy="899.7"/><circle cx="416.3" cy="847.8"/><circle cx="271" cy="992.4"/><circle cx="245.4" cy="1013.4"/><circle cx="460.6" cy="809.1"/><circle cx="459.3" cy="815.8"/><circle cx="420" cy="866.4"/><circle cx="390" cy="896.4"/><circle cx="417.4" cy="872.9"/><circle cx="334.5" cy="936.8"/><circle cx="311.7" cy="971.7"/><circle cx="341.6" cy="921.6"/><circle cx="334.5" cy="927.2"/><circle cx="341.6" cy="941.8"/><circle cx="310.9" cy="942.4"/><circle cx="202" cy="1066.8"/><circle cx="453.8" cy="827.2"/><circle cx="302.5" cy="947.4"/><circle cx="215.5" cy="1043.6"/><circle cx="341.4" cy="916.6"/><circle cx="415.9" cy="838.4"/><circle cx="320.2" cy="939"/><circle cx="405.2" cy="867.6"/><circle cx="307.4" cy="974.7"/><circle cx="402.6" cy="844.5"/><circle cx="437.4" cy="837.8"/><circle cx="387.1" cy="904"/><circle cx="357.7" cy="884"/><circle cx="253" cy="1020"/><circle cx="417.6" cy="847.3"/><circle cx="266.4" cy="975.1"/><circle cx="372.3" cy="915.1"/><circle cx="343.1" cy="898.2"/><circle cx="318.1" cy="943.3"/><circle cx="328.9" cy="919.8"/><circle cx="354.9" cy="892.5"/><circle cx="196.2" cy="1063"/><circle cx="303.3" cy="970.3"/><circle cx="448.1" cy="820.4"/><circle cx="195.8" cy="1049.2"/><circle cx="163.3" cy="1088.1"/><circle cx="480" cy="802.9"/><circle cx="468.3" cy="808.5"/><circle cx="346.4" cy="918.4"/><circle cx="335" cy="914.5"/><circle cx="326.2" cy="942.7"/><circle cx="371" cy="888.5"/><circle cx="345.1" cy="916.1"/><circle cx="271.1" cy="972.2"/><circle cx="433" cy="832.6"/><circle cx="428.4" cy="842.7"/><circle cx="387.5" cy="883.4"/><circle cx="370.1" cy="878.7"/><circle cx="286.9" cy="989.3"/><circle cx="378" cy="886"/><circle cx="294.2" cy="963.9"/><circle cx="406.8" cy="858.2"/><circle cx="249.9" cy="989.1"/><circle cx="404.9" cy="878.7"/><circle cx="252.6" cy="994.2"/><circle cx="357.8" cy="907.1"/><circle cx="150.9" cy="1104.4"/><circle cx="424.8" cy="851"/><circle cx="315.5" cy="941.5"/><circle cx="333.7" cy="916.9"/><circle cx="356.9" cy="928"/><circle cx="301.8" cy="979.5"/><circle cx="430.8" cy="845.7"/><circle cx="259.3" cy="984.6"/><circle cx="429.3" cy="866.2"/><circle cx="386.1" cy="897.1"/><circle cx="449.8" cy="841.9"/><circle cx="252.3" cy="1011.4"/><circle cx="301.1" cy="981.4"/><circle cx="280.2" cy="960.7"/><circle cx="362.3" cy="925.2"/><circle cx="356.8" cy="883.7"/><circle cx="311.6" cy="976.5"/><circle cx="365.4" cy="905.4"/><circle cx="337.9" cy="910.2"/><circle cx="413.2" cy="877.3"/><circle cx="145.5" cy="1111.6"/><circle cx="368.7" cy="902.3"/><circle cx="388.2" cy="878.2"/><circle cx="235.5" cy="1008.5"/><circle cx="283.7" cy="981.3"/><circle cx="387.9" cy="904"/><circle cx="196.9" cy="1050.6"/><circle cx="242.9" cy="1016.4"/><circle cx="222.2" cy="1039"/><circle cx="343.5" cy="900.8"/><circle cx="350.4" cy="928.3"/><circle cx="317.6" cy="929.6"/><circle cx="418.7" cy="852.2"/><circle cx="328.9" cy="951"/><circle cx="353.3" cy="912.6"/><circle cx="373.6" cy="872.5"/><circle cx="259.3" cy="1012.1"/><circle cx="283.3" cy="990.5"/><circle cx="245.6" cy="1004.8"/><circle cx="229" cy="1019.5"/><circle cx="257" cy="1020.5"/><circle cx="346" cy="902.5"/><circle cx="280.6" cy="955.2"/><circle cx="283.4" cy="973.2"/><circle cx="285" cy="984.8"/><circle cx="387.6" cy="901"/><circle cx="355.9" cy="928.5"/><circle cx="251.6" cy="990.8"/><circle cx="333.8" cy="938"/><circle cx="413.2" cy="859.3"/><circle cx="198.9" cy="1060.4"/><circle cx="304.7" cy="960"/><circle cx="178.1" cy="1084.8"/><circle cx="235.9" cy="1036.4"/><circle cx="178.1" cy="1072.3"/><circle cx="333.2" cy="951.2"/><circle cx="305.2" cy="948.4"/><circle cx="444.9" cy="828.3"/><circle cx="412.5" cy="845.2"/><circle cx="222.3" cy="1048"/><circle cx="425.8" cy="855.5"/><circle cx="301.9" cy="953.6"/><circle cx="387.2" cy="895.8"/><circle cx="465.4" cy="828"/><circle cx="430.3" cy="843.2"/><circle cx="179.2" cy="1080.4"/><circle cx="427.4" cy="848.2"/><circle cx="380.6" cy="886.9"/><circle cx="326.3" cy="963.7"/><circle cx="417.1" cy="874"/><circle cx="449.2" cy="844.4"/><circle cx="335.5" cy="935.6"/><circle cx="260.3" cy="1016.3"/><circle cx="480.9" cy="810.2"/><circle cx="359.1" cy="882.5"/><circle cx="249.8" cy="1023.7"/><circle cx="310.5" cy="936.6"/><circle cx="257.3" cy="1004.4"/><circle cx="315" cy="931.6"/><circle cx="353.1" cy="933.7"/><circle cx="178.8" cy="1086.4"/><circle cx="433.8" cy="823.2"/><circle cx="317.3" cy="932.4"/><circle cx="397.9" cy="857.3"/><circle cx="278" cy="987.6"/><circle cx="356.6" cy="923.9"/><circle cx="171.9" cy="1081.7"/><circle cx="274.4" cy="999.9"/><circle cx="266.9" cy="995.2"/><circle cx="303.3" cy="949.9"/><circle cx="340.6" cy="921.6"/><circle cx="404.9" cy="878.7"/><circle cx="174" cy="1089.4"/><circle cx="434.8" cy="857.6"/><circle cx="374.1" cy="880.4"/><circle cx="470.9" cy="818.9"/><circle cx="377.3" cy="910"/><circle cx="343.5" cy="939.9"/><circle cx="353.3" cy="904.9"/><circle cx="238.8" cy="1017.4"/><circle cx="392" cy="896.8"/><circle cx="338.5" cy="938.6"/><circle cx="392.4" cy="893.8"/><circle cx="341.2" cy="922.4"/><circle cx="190.6" cy="1072.7"/><circle cx="270" cy="972.6"/><circle cx="220.2" cy="1042.1"/><circle cx="326.6" cy="956.8"/><circle cx="402.8" cy="891.7"/><circle cx="305" cy="953.6"/><circle cx="271.5" cy="985.4"/><circle cx="286.9" cy="965.7"/><circle cx="263.6" cy="1015"/><circle cx="259.5" cy="1004.1"/><circle cx="234.3" cy="1009.8"/><circle cx="379.9" cy="910.4"/><circle cx="163" cy="1093.7"/><circle cx="286.7" cy="953.8"/><circle cx="310.4" cy="939.7"/><circle cx="231.9" cy="1015.6"/><circle cx="340.4" cy="903.8"/><circle cx="257.5" cy="1005.4"/><circle cx="467.6" cy="802"/><circle cx="277.8" cy="999.8"/><circle cx="286" cy="973.5"/><circle cx="333.8" cy="948.8"/><circle cx="323.5" cy="924.1"/><circle cx="304.7" cy="942.7"/><circle cx="279.7" cy="978.6"/><circle cx="470.8" cy="811.9"/><circle cx="438.7" cy="824.2"/><circle cx="329.5" cy="957.9"/><circle cx="223.3" cy="1033.3"/><circle cx="415.4" cy="838"/><circle cx="274.6" cy="995.1"/><circle cx="203.4" cy="1057.8"/><circle cx="357.7" cy="920"/><circle cx="267.3" cy="1005.7"/><circle cx="201" cy="1061.2"/><circle cx="233.5" cy="1014"/><circle cx="249.1" cy="1013.2"/><circle cx="156.9" cy="1101.2"/><circle cx="251.2" cy="1012.6"/><circle cx="342.2" cy="945.1"/><circle cx="302.6" cy="951.7"/><circle cx="446.4" cy="815.9"/><circle cx="263.7" cy="978.4"/><circle cx="289.8" cy="956.8"/><circle cx="317.2" cy="961.2"/><circle cx="486.5" cy="794.5"/><circle cx="429.1" cy="835.8"/><circle cx="352.6" cy="932.7"/><circle cx="295.3" cy="966.7"/><circle cx="240.7" cy="1024.3"/><circle cx="289.2" cy="985.6"/><circle cx="362.1" cy="898.5"/><circle cx="460.6" cy="805.3"/><circle cx="289.2" cy="988.1"/><circle cx="354.3" cy="912.9"/><circle cx="472.9" cy="797.8"/><circle cx="402.1" cy="887.1"/><circle cx="243.8" cy="1027.5"/><circle cx="442.3" cy="849.1"/><circle cx="304.6" cy="978.1"/><circle cx="211.4" cy="1034.6"/><circle cx="258" cy="996.7"/><circle cx="318.6" cy="966"/><circle cx="425.6" cy="829.9"/><circle cx="352.2" cy="900.7"/><circle cx="345.4" cy="899.3"/><circle cx="376.4" cy="906"/><circle cx="362.8" cy="911.2"/><circle cx="219.9" cy="1050.1"/><circle cx="308.5" cy="978.7"/><circle cx="422" cy="841"/><circle cx="445" cy="814.4"/><circle cx="209.3" cy="1043.3"/><circle cx="320.6" cy="938.2"/><circle cx="353.1" cy="928.5"/><circle cx="165.5" cy="1084.5"/><circle cx="237.6" cy="1005.9"/><circle cx="312.3" cy="956.4"/><circle cx="448.5" cy="843.2"/><circle cx="287.6" cy="981.3"/><circle cx="466" cy="815.7"/><circle cx="452.9" cy="814.8"/><circle cx="292.1" cy="966.9"/><circle cx="224.3" cy="1022.7"/><circle cx="194.7" cy="1052.5"/><circle cx="294.9" cy="966.6"/><circle cx="436.3" cy="835.1"/><circle cx="155.1" cy="1102.9"/><circle cx="309.6" cy="936.1"/><circle cx="322.1" cy="936.7"/><circle cx="441.8" cy="826.7"/><circle cx="322.3" cy="955.3"/><circle cx="365" cy="913.2"/><circle cx="341.7" cy="932.6"/><circle cx="243.1" cy="1019.8"/><circle cx="221.1" cy="1026.4"/><circle cx="272.3" cy="1004"/><circle cx="232.4" cy="1031.3"/><circle cx="317.7" cy="929.4"/><circle cx="271.4" cy="988.2"/><circle cx="177" cy="1083.9"/><circle cx="290.9" cy="985.9"/><circle cx="259.7" cy="1016.6"/><circle cx="366.1" cy="921.6"/><circle cx="416.4" cy="850.9"/><circle cx="418.4" cy="876.7"/><circle cx="323.4" cy="934.4"/><circle cx="379.9" cy="905.3"/><circle cx="253.6" cy="996"/><circle cx="380" cy="868.3"/><circle cx="222.2" cy="1026.8"/><circle cx="454.4" cy="826.6"/><circle cx="317.5" cy="929.2"/><circle cx="412" cy="877.6"/><circle cx="345.1" cy="898.9"/><circle cx="333.1" cy="939.2"/><circle cx="417.9" cy="854.8"/><circle cx="365.5" cy="912.1"/><circle cx="363.8" cy="908.6"/><circle cx="412" cy="850"/><circle cx="361.1" cy="896.5"/><circle cx="254.2" cy="1005.5"/><circle cx="263.1" cy="987.4"/><circle cx="317.4" cy="942.5"/><circle cx="354.3" cy="929.8"/><circle cx="196.7" cy="1069.8"/><circle cx="257.5" cy="1003.4"/><circle cx="345.9" cy="906.4"/><circle cx="255.1" cy="998"/><circle cx="232.1" cy="1012.9"/><circle cx="366.1" cy="921"/><circle cx="262.9" cy="1013.5"/><circle cx="273.4" cy="976.7"/><circle cx="412.2" cy="878.2"/><circle cx="361.6" cy="891.1"/><circle cx="235.6" cy="1024"/><circle cx="383.4" cy="870.3"/><circle cx="341.4" cy="932.5"/><circle cx="344" cy="945.4"/><circle cx="288.3" cy="993.1"/><circle cx="463" cy="804"/><circle cx="170.6" cy="1091.5"/><circle cx="443.6" cy="839.6"/><circle cx="311.8" cy="938.6"/><circle cx="287.7" cy="962"/><circle cx="352.3" cy="919"/><circle cx="280.3" cy="961.9"/><circle cx="299.8" cy="969.3"/><circle cx="245.3" cy="1025.2"/><circle cx="161.1" cy="1091.6"/><circle cx="283.9" cy="957.7"/><circle cx="296.4" cy="983.9"/><circle cx="267.2" cy="981.2"/><circle cx="248.8" cy="1009.8"/><circle cx="436.9" cy="846.9"/><circle cx="410.4" cy="874.7"/><circle cx="448.3" cy="838.6"/><circle cx="185.7" cy="1070.3"/><circle cx="352.6" cy="933.7"/><circle cx="253.1" cy="997.3"/><circle cx="408.6" cy="838.4"/><circle cx="285" cy="984.1"/><circle cx="413.2" cy="862.6"/><circle cx="299.7" cy="947.9"/><circle cx="308.6" cy="936.5"/><circle cx="412.2" cy="849.9"/><circle cx="322.8" cy="935.6"/><circle cx="206.8" cy="1040.7"/><circle cx="352.6" cy="928.9"/><circle cx="414.8" cy="867.6"/><circle cx="253.3" cy="1007.8"/><circle cx="217.6" cy="1052.4"/><circle cx="299.9" cy="946.3"/><circle cx="183.9" cy="1062.7"/><circle cx="409.6" cy="859.9"/><circle cx="226.9" cy="1019.7"/><circle cx="345.1" cy="906.7"/><circle cx="246.5" cy="999.7"/><circle cx="437.5" cy="851.8"/><circle cx="323.4" cy="936.7"/><circle cx="412.3" cy="852"/><circle cx="380.6" cy="891.5"/><circle cx="300" cy="945.5"/><circle cx="426.5" cy="865.3"/><circle cx="405.1" cy="851.5"/><circle cx="348.1" cy="906.2"/><circle cx="173.2" cy="1078.2"/><circle cx="214.8" cy="1040.4"/><circle cx="235.8" cy="1018.1"/><circle cx="224.9" cy="1030.1"/><circle cx="420" cy="865.6"/><circle cx="419.4" cy="861.9"/><circle cx="440.6" cy="850.8"/><circle cx="439" cy="849.3"/><circle cx="253.3" cy="991.5"/><circle cx="308.9" cy="978.9"/><circle cx="402.2" cy="855.6"/><circle cx="315.3" cy="968"/><circle cx="344.3" cy="901.4"/><circle cx="280.6" cy="964"/><circle cx="415.9" cy="859.5"/><circle cx="324" cy="927.7"/><circle cx="422.7" cy="851"/><circle cx="165.7" cy="1090.5"/><circle cx="321" cy="935.9"/><circle cx="228.6" cy="1031.7"/><circle cx="401.6" cy="888.9"/><circle cx="390" cy="898.6"/><circle cx="362" cy="899.2"/><circle cx="378.3" cy="901.8"/><circle cx="278.5" cy="975.7"/><circle cx="358.7" cy="885"/><circle cx="378.9" cy="902.8"/><circle cx="383" cy="904.8"/><circle cx="238.7" cy="1009.2"/><circle cx="422.9" cy="864.3"/><circle cx="307.5" cy="970.5"/><circle cx="258.5" cy="999.1"/><circle cx="454.6" cy="820.7"/><circle cx="370.8" cy="917.3"/><circle cx="326.7" cy="927.4"/><circle cx="391.1" cy="869.6"/><circle cx="335.4" cy="913"/><circle cx="349.5" cy="936.4"/><circle cx="327.4" cy="923.8"/><circle cx="232.5" cy="1042.7"/><circle cx="351.8" cy="898.2"/><circle cx="385.8" cy="896.4"/><circle cx="423.8" cy="851.6"/><circle cx="416.7" cy="837.3"/><circle cx="424.2" cy="830.8"/><circle cx="170.6" cy="1086.2"/><circle cx="262.2" cy="999"/><circle cx="395.5" cy="877.9"/><circle cx="330.3" cy="923.3"/><circle cx="363.9" cy="906.3"/><circle cx="166.3" cy="1085.4"/><circle cx="264.3" cy="983"/><circle cx="255" cy="1006.4"/><circle cx="370.6" cy="914"/><circle cx="332.3" cy="945.1"/><circle cx="395.7" cy="897.9"/><circle cx="172.8" cy="1085.1"/><circle cx="363.9" cy="924"/><circle cx="284.5" cy="954.6"/><circle cx="354.9" cy="929.8"/><circle cx="403.1" cy="855.3"/><circle cx="367.4" cy="918.7"/><circle cx="364.2" cy="919.9"/><circle cx="246" cy="1009.1"/><circle cx="421.5" cy="869.6"/><circle cx="289" cy="986.5"/><circle cx="204.2" cy="1059"/><circle cx="382" cy="894.2"/><circle cx="297" cy="984.4"/><circle cx="379" cy="883.2"/><circle cx="228.7" cy="1019.1"/><circle cx="415.9" cy="851"/><circle cx="265.5" cy="987.1"/><circle cx="350.9" cy="915.3"/><circle cx="355" cy="920.1"/><circle cx="250.1" cy="991.4"/><circle cx="336.4" cy="937.8"/><circle cx="281.6" cy="988.3"/><circle cx="208.8" cy="1045.4"/><circle cx="334.9" cy="917"/><circle cx="403.3" cy="856.9"/><circle cx="288.7" cy="985.1"/><circle cx="213.4" cy="1044.7"/><circle cx="246.5" cy="999.7"/><circle cx="227.9" cy="1018.7"/><circle cx="236.3" cy="1032.3"/><circle cx="204.3" cy="1058.9"/><circle cx="432.4" cy="856"/><circle cx="355.7" cy="924.6"/><circle cx="442.5" cy="821.3"/><circle cx="148.5" cy="1108.2"/><circle cx="451.1" cy="829.1"/><circle cx="158.7" cy="1098.5"/><circle cx="315" cy="949.1"/><circle cx="280.6" cy="972.5"/><circle cx="352.4" cy="911.2"/><circle cx="192.3" cy="1073.4"/><circle cx="253.2" cy="1010.3"/><circle cx="190.4" cy="1058.9"/><circle cx="391.2" cy="899.9"/><circle cx="431.6" cy="831.9"/><circle cx="259.8" cy="992.2"/><circle cx="441.7" cy="816.7"/><circle cx="374" cy="878.9"/><circle cx="285.3" cy="975.5"/><circle cx="224.5" cy="1044.7"/><circle cx="201.3" cy="1059.8"/><circle cx="294.6" cy="950.4"/><circle cx="335.1" cy="919.8"/><circle cx="251.7" cy="998.5"/><circle cx="166.7" cy="1087.9"/><circle cx="164.9" cy="1084.9"/><circle cx="217.8" cy="1035.1"/><circle cx="342.8" cy="939.2"/><circle cx="477.8" cy="809.4"/><circle cx="149.1" cy="1107.6"/><circle cx="345.6" cy="895.4"/><circle cx="423.8" cy="858.2"/><circle cx="449.6" cy="820.2"/><circle cx="471.5" cy="816"/><circle cx="217.2" cy="1052.1"/><circle cx="422.8" cy="831.5"/><circle cx="199.4" cy="1071.3"/><circle cx="276" cy="986.5"/><circle cx="370.6" cy="886.4"/><circle cx="487.9" cy="791.8"/><circle cx="446.4" cy="812.3"/><circle cx="372.2" cy="908.3"/><circle cx="255.1" cy="986.2"/><circle cx="321.4" cy="926.9"/><circle cx="323.8" cy="950.9"/><circle cx="460" cy="806.1"/><circle cx="381.5" cy="894.6"/><circle cx="222.4" cy="1024.8"/><circle cx="356.9" cy="926.5"/><circle cx="218" cy="1047.7"/><circle cx="398.1" cy="850.2"/><circle cx="418.8" cy="870.6"/><circle cx="382.3" cy="868.9"/><circle cx="163.8" cy="1092.2"/><circle cx="263.6" cy="1002"/><circle cx="313.1" cy="958.6"/><circle cx="386.8" cy="877.9"/><circle cx="396.3" cy="895"/><circle cx="236.7" cy="1020.5"/><circle cx="327.1" cy="937.2"/><circle cx="328" cy="944.4"/><circle cx="340.3" cy="932"/><circle cx="314.1" cy="929.9"/><circle cx="413.9" cy="858.9"/><circle cx="360.8" cy="898.1"/><circle cx="350.2" cy="921.9"/><circle cx="331.7" cy="931.4"/><circle cx="226.5" cy="1030"/><circle cx="415.5" cy="876"/><circle cx="392.4" cy="864"/><circle cx="227" cy="1019.6"/><circle cx="190.1" cy="1075.7"/><circle cx="454.4" cy="822.7"/><circle cx="331.3" cy="916.9"/><circle cx="295.2" cy="957"/><circle cx="216" cy="1046.3"/><circle cx="362.1" cy="917.7"/><circle cx="228.7" cy="1038.2"/><circle cx="311.6" cy="960.7"/><circle cx="301.5" cy="938.8"/><circle cx="446" cy="813.7"/><circle cx="381.2" cy="899.9"/><circle cx="197.5" cy="1061.5"/><circle cx="332.2" cy="935.7"/><circle cx="198.3" cy="1051.6"/><circle cx="239.5" cy="1005.3"/><circle cx="350.5" cy="900.4"/><circle cx="339.2" cy="916.3"/><circle cx="268.7" cy="989.6"/><circle cx="184.3" cy="1070.5"/><circle cx="360.1" cy="911"/><circle cx="237.6" cy="1013.3"/><circle cx="344.1" cy="902.2"/><circle cx="349.5" cy="897.7"/><circle cx="385" cy="897.2"/><circle cx="390.1" cy="892.1"/><circle cx="476.2" cy="801.9"/><circle cx="326.7" cy="940"/><circle cx="225.4" cy="1018.5"/><circle cx="369.2" cy="918.4"/><circle cx="183.7" cy="1074.6"/><circle cx="287.7" cy="993.3"/><circle cx="304.8" cy="969.6"/><circle cx="270.1" cy="995.3"/><circle cx="207.7" cy="1063.2"/><circle cx="387.9" cy="859.8"/><circle cx="302.1" cy="980.9"/><circle cx="359.6" cy="911.7"/><circle cx="392" cy="895.9"/><circle cx="328.7" cy="946.6"/><circle cx="350.1" cy="918.6"/><circle cx="386" cy="886.7"/><circle cx="361.4" cy="928.7"/><circle cx="450.1" cy="829.5"/><circle cx="425.9" cy="853.5"/><circle cx="451.8" cy="810.6"/><circle cx="397.6" cy="887.4"/><circle cx="309.5" cy="963.3"/><circle cx="252.1" cy="1011.9"/><circle cx="422.4" cy="853.5"/><circle cx="261.7" cy="1001.6"/><circle cx="329.5" cy="925.3"/><circle cx="369.9" cy="903.2"/><circle cx="216.1" cy="1046.2"/><circle cx="389.3" cy="884.7"/><circle cx="202.4" cy="1045"/><circle cx="303.4" cy="955.2"/><circle cx="218.4" cy="1047.3"/><circle cx="463.4" cy="803"/><circle cx="476.5" cy="802.3"/><circle cx="201.1" cy="1044.9"/><circle cx="376.8" cy="893.2"/><circle cx="321.8" cy="921.4"/><circle cx="333.4" cy="926.6"/><circle cx="300.4" cy="985.5"/><circle cx="366" cy="889.2"/><circle cx="155.2" cy="1099.9"/><circle cx="375.9" cy="914.7"/><circle cx="275.6" cy="961.7"/><circle cx="363.1" cy="888.8"/><circle cx="216.9" cy="1030.5"/><circle cx="395.1" cy="864.6"/><circle cx="257.4" cy="988.1"/><circle cx="329" cy="938.1"/><circle cx="249.1" cy="1017.3"/><circle cx="307.1" cy="977.7"/><circle cx="338" cy="915"/><circle cx="208.8" cy="1047.8"/><circle cx="428.5" cy="830"/><circle cx="345.5" cy="910.9"/><circle cx="244.5" cy="1028.5"/><circle cx="246" cy="1014"/><circle cx="423.1" cy="849.2"/><circle cx="317.7" cy="963.2"/><circle cx="436.4" cy="855.5"/><circle cx="324.7" cy="960.2"/><circle cx="209.9" cy="1036.7"/><circle cx="458.4" cy="828"/><circle cx="169.6" cy="1081.9"/><circle cx="300.4" cy="945.3"/><circle cx="362.9" cy="914.6"/><circle cx="346.4" cy="900.1"/><circle cx="445.8" cy="829.4"/><circle cx="272.5" cy="1003.2"/><circle cx="247.5" cy="1028.7"/><circle cx="274.9" cy="983.9"/><circle cx="283.8" cy="990.3"/><circle cx="230.7" cy="1015.8"/><circle cx="199.3" cy="1057.1"/><circle cx="389.4" cy="877.4"/><circle cx="225.8" cy="1044.6"/><circle cx="464.8" cy="816.6"/><circle cx="450.3" cy="822.7"/><circle cx="432.7" cy="837.6"/><circle cx="393.5" cy="852.3"/><circle cx="267.8" cy="1006.6"/><circle cx="435.3" cy="854.7"/><circle cx="293.8" cy="962.3"/><circle cx="360.3" cy="891"/><circle cx="261.4" cy="990.8"/><circle cx="375.2" cy="907.2"/><circle cx="418.8" cy="840.5"/><circle cx="357.4" cy="888.5"/><circle cx="381" cy="904.1"/><circle cx="261.5" cy="1004.8"/><circle cx="420.5" cy="864.1"/><circle cx="329.3" cy="923.7"/><circle cx="425.6" cy="828.8"/><circle cx="355.1" cy="911.6"/><circle cx="414.2" cy="870.8"/><circle cx="319.3" cy="947.3"/><circle cx="229.9" cy="1018.3"/><circle cx="357.8" cy="898.6"/><circle cx="271" cy="995.2"/><circle cx="351.1" cy="894.6"/><circle cx="446.5" cy="848.9"/><circle cx="263.7" cy="990.7"/><circle cx="433.1" cy="858.1"/><circle cx="194.6" cy="1052.7"/><circle cx="409.5" cy="872.2"/><circle cx="322.3" cy="931.1"/><circle cx="286.3" cy="984.2"/><circle cx="187.3" cy="1080.3"/><circle cx="298.1" cy="972.1"/><circle cx="271.1" cy="993.4"/><circle cx="236.6" cy="1030.5"/><circle cx="395" cy="868.8"/><circle cx="394.6" cy="881.9"/><circle cx="278.8" cy="992.4"/><circle cx="352.2" cy="920.4"/><circle cx="213" cy="1040.1"/><circle cx="258.7" cy="997.7"/><circle cx="361.2" cy="917.1"/><circle cx="340.3" cy="919.2"/><circle cx="404.9" cy="884.6"/><circle cx="343.7" cy="942.2"/><circle cx="305.1" cy="951.8"/><circle cx="221.9" cy="1039.1"/><circle cx="243" cy="997.6"/><circle cx="399.2" cy="866.1"/><circle cx="345.5" cy="899.9"/><circle cx="332.2" cy="942.5"/><circle cx="313.6" cy="949"/><circle cx="277.4" cy="983.8"/><circle cx="431" cy="850.4"/><circle cx="447.6" cy="844"/><circle cx="291" cy="988.2"/><circle cx="196.9" cy="1066.2"/><circle cx="298.5" cy="982.3"/><circle cx="340.2" cy="944.4"/><circle cx="384.9" cy="865.3"/><circle cx="329.9" cy="923.8"/><circle cx="460.7" cy="817.6"/><circle cx="252.7" cy="1009.2"/><circle cx="252.6" cy="993.2"/><circle cx="421.2" cy="873.6"/><circle cx="234" cy="1033.2"/><circle cx="197.3" cy="1071"/><circle cx="282.8" cy="960.2"/><circle cx="408.9" cy="860.5"/><circle cx="396.6" cy="869.7"/><circle cx="162.5" cy="1088.6"/><circle cx="414.3" cy="835.7"/><circle cx="430.4" cy="863.4"/><circle cx="300.5" cy="947.4"/><circle cx="339.4" cy="926.1"/><circle cx="373" cy="895.6"/><circle cx="202.5" cy="1054.5"/><circle cx="405" cy="875.1"/><circle cx="239.1" cy="1018.3"/><circle cx="387.2" cy="859.1"/><circle cx="340.9" cy="908.2"/><circle cx="298.2" cy="970.9"/><circle cx="290.4" cy="961.3"/><circle cx="264.8" cy="994.5"/><circle cx="234.4" cy="1026.1"/><circle cx="291.6" cy="980.1"/><circle cx="290.9" cy="955.6"/><circle cx="446.8" cy="842.4"/><circle cx="289.9" cy="953.6"/><circle cx="326.4" cy="958.6"/><circle cx="380.3" cy="874.7"/><circle cx="365.8" cy="913.8"/><circle cx="404.9" cy="867.1"/><circle cx="381.6" cy="899.8"/><circle cx="335" cy="950.9"/><circle cx="369.8" cy="899"/><circle cx="290.2" cy="971.1"/><circle cx="268.7" cy="971.3"/><circle cx="425.1" cy="834.5"/><circle cx="339.1" cy="930.9"/><circle cx="280.4" cy="985.9"/><circle cx="243.8" cy="1001.8"/><circle cx="417.2" cy="838.5"/><circle cx="456.5" cy="813.3"/><circle cx="247.1" cy="1029.6"/><circle cx="247.6" cy="1020.2"/><circle cx="391.5" cy="887.3"/><circle cx="421.7" cy="850.5"/><circle cx="218.1" cy="1041.5"/><circle cx="323.1" cy="950.4"/><circle cx="447.1" cy="849.7"/><circle cx="396.6" cy="872.6"/><circle cx="403.6" cy="868.4"/><circle cx="271.2" cy="977.6"/><circle cx="307.6" cy="972.9"/><circle cx="285.2" cy="957.3"/><circle cx="425.8" cy="830.6"/><circle cx="372.3" cy="913"/><circle cx="280.6" cy="963.9"/><circle cx="323.3" cy="934.4"/><circle cx="379.4" cy="896.7"/><circle cx="434.7" cy="847.8"/><circle cx="365.8" cy="883.4"/><circle cx="211.4" cy="1051"/><circle cx="316.3" cy="962.1"/><circle cx="382" cy="902.6"/><circle cx="433.2" cy="835.7"/><circle cx="413.7" cy="875.1"/><circle cx="358.6" cy="927.4"/><circle cx="434" cy="857"/><circle cx="187.4" cy="1067.5"/><circle cx="237.1" cy="1012.7"/><circle cx="314.8" cy="932.8"/><circle cx="215.9" cy="1043.7"/><circle cx="145.2" cy="1110"/><circle cx="233" cy="1034.9"/><circle cx="393.6" cy="873.3"/><circle cx="444.7" cy="851.3"/><circle cx="367.6" cy="903.2"/><circle cx="316.8" cy="967.6"/><circle cx="194.2" cy="1059.4"/><circle cx="399" cy="883.7"/><circle cx="334.4" cy="943.1"/><circle cx="404.8" cy="876.4"/><circle cx="172.4" cy="1085.6"/><circle cx="461.7" cy="805.8"/><circle cx="453.2" cy="824.7"/><circle cx="372" cy="909.7"/><circle cx="284.1" cy="979.2"/><circle cx="432.1" cy="856.2"/><circle cx="383.4" cy="902.4"/><circle cx="219.6" cy="1052.1"/><circle cx="381" cy="883"/><circle cx="229" cy="1022"/><circle cx="385.8" cy="874.5"/><circle cx="243" cy="1000.3"/><circle cx="165.4" cy="1085.5"/><circle cx="246.4" cy="1012.5"/><circle cx="313.6" cy="969.2"/><circle cx="456.6" cy="838.9"/><circle cx="292.7" cy="982.8"/><circle cx="456.5" cy="830.3"/><circle cx="344.9" cy="939.9"/><circle cx="258.7" cy="981.8"/><circle cx="319.9" cy="955.1"/><circle cx="305.6" cy="957.8"/><circle cx="195.2" cy="1072.9"/><circle cx="457.2" cy="834.8"/><circle cx="186.6" cy="1063"/><circle cx="217.8" cy="1046.2"/><circle cx="291.8" cy="967.5"/><circle cx="293.9" cy="976.2"/><circle cx="427.1" cy="864.1"/><circle cx="157.7" cy="1100.9"/><circle cx="423.2" cy="851.3"/><circle cx="292" cy="988.6"/><circle cx="202.4" cy="1049.4"/><circle cx="387.5" cy="887.8"/><circle cx="311.1" cy="973.9"/><circle cx="245.6" cy="1026.3"/><circle cx="236.5" cy="1036.7"/><circle cx="418.7" cy="840.7"/><circle cx="363.3" cy="884.6"/><circle cx="382" cy="876"/><circle cx="241.8" cy="1033.9"/><circle cx="246.2" cy="1004.8"/><circle cx="404.5" cy="880.1"/><circle cx="346.3" cy="906.3"/><circle cx="443" cy="839.4"/><circle cx="254.4" cy="1020.6"/><circle cx="450.3" cy="835.4"/><circle cx="373.2" cy="910.9"/><circle cx="327.4" cy="918.4"/><circle cx="331.2" cy="919.8"/><circle cx="433.5" cy="851.1"/><circle cx="354.7" cy="903.2"/><circle cx="385.8" cy="906.4"/><circle cx="466.7" cy="804.9"/><circle cx="455.6" cy="810.6"/><circle cx="336.7" cy="935"/><circle cx="387.2" cy="900"/><circle cx="245.7" cy="1026.6"/><circle cx="397" cy="864.7"/><circle cx="376.1" cy="908.7"/><circle cx="268.4" cy="977.1"/><circle cx="258.8" cy="1017.4"/><circle cx="296.6" cy="981.8"/><circle cx="367.6" cy="877.5"/><circle cx="403.6" cy="886.4"/><circle cx="295.4" cy="953.6"/><circle cx="318.8" cy="966.3"/><circle cx="333.7" cy="932.9"/><circle cx="460.4" cy="834.1"/><circle cx="355.6" cy="887.2"/><circle cx="443.9" cy="850"/><circle cx="245.5" cy="1006"/><circle cx="280.4" cy="971.6"/><circle cx="442.1" cy="818.8"/><circle cx="348.5" cy="912.5"/><circle cx="277.9" cy="984.8"/><circle cx="243.7" cy="1016.8"/><circle cx="241.6" cy="1008.8"/><circle cx="234.1" cy="1035.1"/><circle cx="222.2" cy="1049.3"/><circle cx="239.3" cy="1020.8"/><circle cx="418.7" cy="849.6"/><circle cx="396.5" cy="853.7"/><circle cx="434.9" cy="851.6"/><circle cx="220.7" cy="1029.8"/><circle cx="244.9" cy="1021.7"/><circle cx="376" cy="896.4"/><circle cx="270.1" cy="975.4"/><circle cx="431.9" cy="841.7"/><circle cx="222.4" cy="1030.4"/><circle cx="366.3" cy="920.3"/><circle cx="314.3" cy="944.9"/><circle cx="183" cy="1081.3"/><circle cx="180.6" cy="1065.2"/><circle cx="320.8" cy="957.9"/><circle cx="294.8" cy="976.2"/><circle cx="269.5" cy="980.6"/><circle cx="311.5" cy="936.5"/><circle cx="329" cy="917.7"/><circle cx="336" cy="938.7"/><circle cx="416.7" cy="879.1"/><circle cx="435.8" cy="797.7"/><circle cx="502.4" cy="788"/></g>
</g>
<path d="M117.5 1134.8L648 650.4" stroke="#000" stroke-width="3.3" clip-path="url(#cp3)"/>
<rect x="117.5" y="650.4" width="530.5" height="484.4" fill="none" stroke="#262626" stroke-width="2.4"/>
<path d="M117.2 649.2V1135.1H649.2" fill="none" stroke="#000" stroke-width="2.7"/>
<path d="M140.7 1135.8v9.5M291.8 1135.8v9.5M442.9 1135.8v9.5M594 1135.8v9.5M116.5 1114.1h-9.5M116.5 975.5h-9.5M116.5 836.9h-9.5M116.5 698.3h-9.5" stroke="#000" stroke-width="2" fill="none"/>
<text class="tk" transform="translate(140.7 1180.8) scale(.925 1)" text-anchor="middle">0</text>
<text class="tk" transform="translate(291.8 1180.8) scale(.925 1)" text-anchor="middle">10</text>
<text class="tk" transform="translate(442.9 1180.8) scale(.925 1)" text-anchor="middle">20</text>
<text class="tk" transform="translate(594 1180.8) scale(.925 1)" text-anchor="middle">30</text>
<text class="tk" transform="translate(91.5 1124.3) scale(.925 1)" text-anchor="end">0</text>
<text class="tk" transform="translate(91.5 985.7) scale(.925 1)" text-anchor="end">10</text>
<text class="tk" transform="translate(91.5 847.1) scale(.925 1)" text-anchor="end">20</text>
<text class="tk" transform="translate(91.5 708.5) scale(.925 1)" text-anchor="end">30</text>
<text class="tt" transform="translate(383.2 636.1) scale(.968 1)" text-anchor="middle">ERA5-Land</text>
<clipPath id="cp4"><rect x="737" y="650.4" width="530" height="484.4"/></clipPath>
<g><path d="M810.6 653.4V1131.8M911.2 653.4V1131.8M1012 653.4V1131.8M1112.7 653.4V1131.8M1213.3 653.4V1131.8M740 1067.9H1264M740 975.6H1264M740 883.3H1264M740 791H1264M740 698.7H1264" stroke="#ededed" stroke-width="1.6" fill="none"/><path d="M760.2 653.4V1131.8M860.9 653.4V1131.8M961.6 653.4V1131.8M1062.3 653.4V1131.8M1163 653.4V1131.8M1263.7 653.4V1131.8M740 1114.1H1264M740 1021.8H1264M740 929.5H1264M740 837.2H1264M740 744.9H1264M740 652.6H1264" stroke="#ebebeb" stroke-width="3.2" fill="none"/></g>
<g class="pt" clip-path="url(#cp4)">
<g class="nn"><circle cx="800.5" cy="1087.6"/><circle cx="761.7" cy="1116.3"/><circle cx="772" cy="1103.4"/><circle cx="780.6" cy="1103.5"/><circle cx="786.6" cy="1050.2"/><circle cx="765.4" cy="1108"/><circle cx="781" cy="1059.7"/><circle cx="784.4" cy="1062.9"/><circle cx="779.4" cy="1105.2"/><circle cx="798.9" cy="1084.2"/><circle cx="790.9" cy="1101.8"/><circle cx="789.7" cy="1051.9"/><circle cx="784.6" cy="1100.2"/><circle cx="767.8" cy="1115.8"/><circle cx="804.8" cy="1023.1"/><circle cx="770.2" cy="1080.6"/><circle cx="794.4" cy="1093"/><circle cx="768.2" cy="1084.2"/><circle cx="780.3" cy="1101"/><circle cx="779.1" cy="1064.5"/><circle cx="779.3" cy="1067.6"/><circle cx="803.2" cy="1030"/><circle cx="783.8" cy="1094.5"/><circle cx="780.8" cy="1103.9"/><circle cx="799.8" cy="1035.5"/><circle cx="799.5" cy="1087.3"/><circle cx="772.3" cy="1106"/><circle cx="773.4" cy="1109.1"/><circle cx="783.1" cy="1092.8"/><circle cx="794.9" cy="1042"/><circle cx="783.5" cy="1053.6"/><circle cx="760.6" cy="1114.4"/><circle cx="795.5" cy="1090.4"/><circle cx="789.7" cy="1044"/><circle cx="774.1" cy="1080.6"/><circle cx="772.3" cy="1074.7"/><circle cx="793.1" cy="1042.1"/><circle cx="767.7" cy="1090.9"/><circle cx="767.2" cy="1089.8"/><circle cx="780.2" cy="1062.2"/><circle cx="791.2" cy="1045.7"/><circle cx="782.4" cy="1057.2"/><circle cx="793.4" cy="1052.6"/><circle cx="774.7" cy="1068.5"/><circle cx="789.7" cy="1095.6"/><circle cx="763.3" cy="1112.7"/><circle cx="787.8" cy="1091.5"/><circle cx="774.8" cy="1078"/><circle cx="761.2" cy="1113.9"/><circle cx="770.4" cy="1080.6"/><circle cx="799.2" cy="1046.2"/><circle cx="770.1" cy="1083.9"/><circle cx="791.2" cy="1098.7"/><circle cx="772.9" cy="1079.4"/><circle cx="786.6" cy="1057"/><circle cx="800.4" cy="1034"/><circle cx="793.8" cy="1043.1"/><circle cx="799.4" cy="1035.3"/><circle cx="787.9" cy="1053.7"/><circle cx="785.8" cy="1047.8"/><circle cx="779.3" cy="1064.6"/><circle cx="797.2" cy="1049.1"/><circle cx="770.8" cy="1086.6"/><circle cx="801.3" cy="1086.1"/><circle cx="777.6" cy="1067"/><circle cx="767.5" cy="1108.9"/><circle cx="800.6" cy="1034.2"/><circle cx="770.7" cy="1110.4"/><circle cx="767.5" cy="1111.7"/><circle cx="779.4" cy="1073.2"/><circle cx="769.2" cy="1113.2"/><circle cx="771.4" cy="1108.6"/><circle cx="770.4" cy="1087"/><circle cx="771" cy="1086.7"/><circle cx="766.8" cy="1098.2"/><circle cx="795.6" cy="1033.9"/><circle cx="763.7" cy="1099.1"/><circle cx="763.3" cy="1097.1"/><circle cx="763.8" cy="1097.8"/><circle cx="782.5" cy="1064.1"/><circle cx="786.4" cy="1094.4"/><circle cx="794.6" cy="1085.6"/><circle cx="774.9" cy="1073.4"/><circle cx="777.6" cy="1107.6"/><circle cx="785" cy="1098.1"/><circle cx="778.5" cy="1105.8"/><circle cx="763.5" cy="1104.4"/><circle cx="771.4" cy="1109.8"/><circle cx="762.3" cy="1112.7"/><circle cx="777.9" cy="1068.3"/><circle cx="788.6" cy="1091.9"/><circle cx="765.2" cy="1110"/><circle cx="762" cy="1107.4"/><circle cx="772.4" cy="1105"/><circle cx="793.5" cy="1042.7"/><circle cx="782.3" cy="1096"/><circle cx="794.5" cy="1044.3"/><circle cx="771.3" cy="1109.2"/><circle cx="781.3" cy="1054.6"/><circle cx="773.1" cy="1103.5"/><circle cx="776.2" cy="1110"/><circle cx="772.5" cy="1108.9"/><circle cx="769.8" cy="1086.3"/><circle cx="776.7" cy="1070.2"/><circle cx="804.6" cy="1085.5"/><circle cx="803.7" cy="1085.1"/><circle cx="796.2" cy="1085.1"/><circle cx="794.7" cy="1042.4"/><circle cx="779.2" cy="1068.6"/><circle cx="775.6" cy="1074.7"/><circle cx="784.1" cy="1064.2"/><circle cx="792.2" cy="1054.3"/><circle cx="789.5" cy="1045"/><circle cx="759.4" cy="1116"/><circle cx="800.5" cy="1041.2"/><circle cx="790.3" cy="1047.2"/><circle cx="782.8" cy="1097"/><circle cx="777.6" cy="1104.8"/><circle cx="793.1" cy="1083.9"/><circle cx="770.4" cy="1082.6"/><circle cx="799.9" cy="1088.5"/><circle cx="775.9" cy="1071.6"/><circle cx="775.7" cy="1077.4"/><circle cx="784.5" cy="1098.4"/><circle cx="765" cy="1114.9"/><circle cx="778.7" cy="1103.5"/><circle cx="796.8" cy="1046.4"/><circle cx="762.2" cy="1113.5"/></g>
<g class="cc"><circle cx="968.4" cy="892.8"/><circle cx="900.6" cy="940.7"/><circle cx="934.8" cy="917.8"/><circle cx="820.2" cy="1010.5"/><circle cx="927" cy="930.3"/><circle cx="898" cy="943.6"/><circle cx="873.6" cy="964.9"/><circle cx="894.9" cy="950.5"/><circle cx="900" cy="945.6"/><circle cx="887.4" cy="958.2"/><circle cx="861.4" cy="971.7"/><circle cx="860.3" cy="975.2"/><circle cx="902.6" cy="938.5"/><circle cx="851.6" cy="985.4"/><circle cx="936" cy="919.8"/><circle cx="878.5" cy="958.8"/><circle cx="921.2" cy="927.7"/><circle cx="968" cy="893.8"/><circle cx="872.6" cy="970.4"/><circle cx="823.6" cy="1010.6"/><circle cx="856.6" cy="977.1"/><circle cx="875.7" cy="961.3"/><circle cx="826.7" cy="1004"/><circle cx="928.5" cy="925"/><circle cx="836.2" cy="1001.3"/><circle cx="889.7" cy="955"/><circle cx="844.2" cy="993.6"/><circle cx="947.4" cy="909.6"/><circle cx="824.5" cy="1011.2"/><circle cx="836.5" cy="996.5"/><circle cx="834.4" cy="1002.6"/><circle cx="954.1" cy="898.9"/><circle cx="943.7" cy="913.9"/><circle cx="929.7" cy="926.7"/><circle cx="886.5" cy="956.8"/><circle cx="911" cy="937.4"/><circle cx="858.5" cy="979.8"/><circle cx="859.8" cy="977.7"/><circle cx="851.3" cy="980.4"/><circle cx="860.2" cy="975.9"/><circle cx="906.6" cy="942"/><circle cx="888.8" cy="948.8"/><circle cx="891" cy="954.4"/><circle cx="941" cy="914.2"/><circle cx="948" cy="905.5"/><circle cx="945.9" cy="913.7"/><circle cx="963.1" cy="900.2"/><circle cx="891" cy="950.2"/><circle cx="947.9" cy="908.3"/><circle cx="927.2" cy="922.3"/><circle cx="1167.4" cy="765.4"/><circle cx="1131.3" cy="783.5"/><circle cx="1149.4" cy="788.1"/><circle cx="1151.5" cy="793.4"/><circle cx="1155.7" cy="801.9"/><circle cx="1141.9" cy="812.6"/><circle cx="1115.4" cy="809.4"/><circle cx="1099.5" cy="812.6"/><circle cx="1102.6" cy="815.7"/><circle cx="1052.7" cy="810.4"/><circle cx="1024.7" cy="828.1"/><circle cx="1043.2" cy="831.2"/><circle cx="1126" cy="810.4"/><circle cx="1123.9" cy="817.9"/><circle cx="1131.3" cy="815.7"/><circle cx="1094.1" cy="857.1"/><circle cx="1085.7" cy="862.5"/><circle cx="986.9" cy="942.1"/></g>
<g class="cc"><circle cx="905" cy="1006.4"/><circle cx="891.5" cy="1019.6"/><circle cx="850.9" cy="1052.7"/><circle cx="908.7" cy="999"/><circle cx="883.7" cy="1026.2"/><circle cx="849.4" cy="1050"/><circle cx="838" cy="1064.8"/><circle cx="860.7" cy="1046.6"/><circle cx="836.5" cy="1066.1"/><circle cx="880.8" cy="1025.1"/><circle cx="900.4" cy="1009.6"/><circle cx="897" cy="1014.7"/><circle cx="851.7" cy="1052.1"/><circle cx="829.9" cy="1072.9"/><circle cx="894" cy="1016.6"/><circle cx="930.2" cy="984.6"/><circle cx="831" cy="1071.6"/><circle cx="829.1" cy="1069.2"/><circle cx="846" cy="1059.6"/><circle cx="883.4" cy="1021.8"/><circle cx="881.5" cy="1022.9"/><circle cx="835.4" cy="1063.3"/><circle cx="891.2" cy="1019.9"/><circle cx="844.9" cy="1061.2"/><circle cx="927.9" cy="990.2"/><circle cx="896.4" cy="1012.7"/><circle cx="972.1" cy="935.7"/><circle cx="928.4" cy="984.2"/><circle cx="852.5" cy="1049.4"/><circle cx="912.5" cy="1002.7"/><circle cx="835.5" cy="1063.9"/><circle cx="852" cy="1055.7"/><circle cx="900.8" cy="1010"/><circle cx="880.8" cy="1024.1"/><circle cx="929.3" cy="985.6"/><circle cx="835.5" cy="1063.3"/><circle cx="864" cy="1038.2"/><circle cx="860.2" cy="1048.1"/><circle cx="966.7" cy="947.6"/><circle cx="827.6" cy="1074.8"/><circle cx="953.5" cy="961.2"/><circle cx="832.4" cy="1068.2"/><circle cx="905.2" cy="1006.3"/><circle cx="923.8" cy="991.6"/><circle cx="940" cy="975.5"/><circle cx="881.2" cy="1027"/><circle cx="832.5" cy="1069.1"/><circle cx="959" cy="952.9"/><circle cx="873" cy="1029.8"/><circle cx="937.2" cy="977.5"/></g>
<g class="cc"><circle cx="1016.9" cy="903.9"/><circle cx="1039.8" cy="877.2"/><circle cx="985.6" cy="926.8"/><circle cx="1100.7" cy="804.8"/><circle cx="1047.9" cy="873.3"/><circle cx="1059.9" cy="871.5"/><circle cx="963.7" cy="934.5"/><circle cx="958.8" cy="945.4"/><circle cx="990.3" cy="902.4"/><circle cx="1010.5" cy="858.3"/><circle cx="964.5" cy="895"/><circle cx="971.7" cy="901.8"/><circle cx="984" cy="924.2"/><circle cx="997.3" cy="894.5"/><circle cx="1012.8" cy="908.8"/><circle cx="1035" cy="893.3"/><circle cx="1031.3" cy="858.3"/><circle cx="963.6" cy="952.3"/><circle cx="995.1" cy="904.4"/><circle cx="1060.2" cy="860.2"/><circle cx="996.4" cy="919.8"/><circle cx="1094.2" cy="834.5"/><circle cx="991.4" cy="926.9"/><circle cx="1066.6" cy="827.7"/><circle cx="1066.3" cy="854.7"/><circle cx="1041.1" cy="882.2"/><circle cx="998.9" cy="928.3"/><circle cx="1096" cy="836.6"/><circle cx="973.9" cy="901.2"/><circle cx="983.6" cy="873.1"/><circle cx="1031.3" cy="889.7"/><circle cx="1039.9" cy="847.8"/><circle cx="1005.4" cy="861.4"/><circle cx="1094.2" cy="825.2"/><circle cx="1026.1" cy="894.3"/><circle cx="1003.9" cy="869.3"/><circle cx="1041" cy="868.7"/><circle cx="1034" cy="890.6"/><circle cx="1037.6" cy="855.4"/><circle cx="972.5" cy="928.3"/><circle cx="1063.7" cy="834.8"/><circle cx="989.4" cy="875.7"/><circle cx="1053.1" cy="877.2"/><circle cx="1047.3" cy="856.5"/><circle cx="977.3" cy="894.2"/><circle cx="1055.4" cy="868.4"/><circle cx="1007.4" cy="887.4"/><circle cx="969.3" cy="901.9"/><circle cx="973.5" cy="892.6"/><circle cx="997.1" cy="900.7"/><circle cx="965.2" cy="941.2"/><circle cx="1081.5" cy="844.5"/><circle cx="1090.4" cy="842.8"/><circle cx="967.5" cy="939.8"/><circle cx="983.8" cy="933.2"/><circle cx="984.4" cy="918.1"/><circle cx="1077" cy="835.6"/><circle cx="985.7" cy="881.4"/><circle cx="985.1" cy="883.9"/><circle cx="962.2" cy="957.7"/><circle cx="977.7" cy="937.3"/><circle cx="970.5" cy="941.1"/><circle cx="979.6" cy="888.2"/><circle cx="1032.2" cy="874.2"/><circle cx="1093.8" cy="822.3"/><circle cx="1044.7" cy="841.8"/><circle cx="1096.9" cy="811.9"/><circle cx="958.7" cy="892"/><circle cx="1035" cy="844.3"/><circle cx="969.9" cy="887.6"/><circle cx="1058.7" cy="829.2"/><circle cx="1054.3" cy="858"/><circle cx="1020" cy="894.9"/><circle cx="973.9" cy="922.5"/><circle cx="984.1" cy="873.8"/><circle cx="1067.2" cy="831.2"/><circle cx="1001.1" cy="897.7"/><circle cx="1037.2" cy="853.2"/><circle cx="979.3" cy="936.2"/><circle cx="962.1" cy="928.7"/><circle cx="1006.7" cy="889.7"/><circle cx="987.2" cy="880.2"/><circle cx="1060.4" cy="826.9"/><circle cx="1044.5" cy="881.4"/><circle cx="1035.3" cy="850.4"/><circle cx="993.3" cy="925.3"/><circle cx="1091.3" cy="812.4"/><circle cx="998.1" cy="883.7"/><circle cx="1024.8" cy="898.6"/><circle cx="987.1" cy="895"/><circle cx="1008.9" cy="904.8"/><circle cx="1032" cy="847.5"/><circle cx="1036.9" cy="887.5"/><circle cx="960.6" cy="918.8"/><circle cx="1078.8" cy="814.8"/><circle cx="975.4" cy="935"/><circle cx="987.3" cy="917.6"/><circle cx="1029.1" cy="867.6"/><circle cx="1054.3" cy="834.8"/><circle cx="1016" cy="861.4"/><circle cx="968.2" cy="905.8"/><circle cx="989.5" cy="871.9"/><circle cx="1007.2" cy="895.4"/><circle cx="1010.9" cy="891.4"/><circle cx="990.8" cy="906.8"/><circle cx="981.1" cy="936.7"/><circle cx="1009.8" cy="903.9"/><circle cx="1093.2" cy="824.8"/><circle cx="1004.7" cy="924"/><circle cx="1001.1" cy="875.9"/><circle cx="1051.5" cy="841.3"/><circle cx="1019.2" cy="869.7"/><circle cx="968.3" cy="911.8"/><circle cx="958.4" cy="921.3"/><circle cx="1074.6" cy="855.4"/><circle cx="957.9" cy="955.5"/><circle cx="1041.9" cy="839.6"/><circle cx="982.4" cy="925.9"/><circle cx="1062.4" cy="823.1"/><circle cx="1050.4" cy="845.8"/><circle cx="990.3" cy="901.3"/><circle cx="1049" cy="837.4"/><circle cx="1030.3" cy="843.6"/><circle cx="1032.2" cy="840.3"/><circle cx="965.9" cy="934.3"/><circle cx="995.8" cy="870.3"/><circle cx="981.9" cy="891"/><circle cx="1098.7" cy="816.9"/><circle cx="1017" cy="908.4"/><circle cx="1070.5" cy="842.2"/><circle cx="982.3" cy="892.3"/><circle cx="1002.6" cy="902.6"/><circle cx="982.3" cy="902.4"/><circle cx="1025.5" cy="883.7"/><circle cx="1073.7" cy="828.2"/><circle cx="1023.9" cy="881"/><circle cx="1022.7" cy="896.7"/><circle cx="1035.3" cy="890.9"/><circle cx="966.8" cy="897.2"/><circle cx="1050.9" cy="855.7"/><circle cx="1076" cy="848.4"/><circle cx="1064.8" cy="853"/><circle cx="1011.3" cy="857.3"/><circle cx="1042.9" cy="864.2"/><circle cx="1071.8" cy="848.6"/><circle cx="1042.6" cy="877.6"/><circle cx="1092.7" cy="818"/><circle cx="967.5" cy="937.8"/><circle cx="1028" cy="848.6"/><circle cx="989.3" cy="922"/><circle cx="1005.8" cy="873.2"/><circle cx="986" cy="882.4"/><circle cx="981.8" cy="875.9"/><circle cx="1023.4" cy="865"/><circle cx="1017.5" cy="860.5"/><circle cx="996.8" cy="870.2"/><circle cx="985.2" cy="936.2"/><circle cx="1010.3" cy="905.1"/><circle cx="1073.5" cy="819.8"/><circle cx="1087.5" cy="844.7"/><circle cx="1097.8" cy="824.2"/><circle cx="999.2" cy="862.7"/><circle cx="1018.3" cy="900.2"/><circle cx="971.2" cy="893.5"/><circle cx="1068.9" cy="828.1"/><circle cx="1040.7" cy="884.2"/><circle cx="1023.5" cy="859.5"/><circle cx="1053.8" cy="852.5"/><circle cx="1097" cy="835.4"/><circle cx="958.6" cy="897.5"/><circle cx="1031.5" cy="846"/><circle cx="1049.5" cy="869.9"/><circle cx="1007.3" cy="879.8"/><circle cx="977.5" cy="912.4"/><circle cx="1068.6" cy="837.9"/><circle cx="1058" cy="831.4"/><circle cx="1060" cy="835.9"/><circle cx="1009.9" cy="907.5"/><circle cx="1025.8" cy="856.3"/><circle cx="1051.8" cy="850.7"/><circle cx="1042.5" cy="877.6"/><circle cx="1069.9" cy="828.1"/><circle cx="986.7" cy="931.4"/><circle cx="1054.2" cy="830.4"/><circle cx="971" cy="880.9"/><circle cx="1013.4" cy="889"/><circle cx="998.9" cy="888.9"/><circle cx="984.3" cy="911.1"/><circle cx="1014.7" cy="868.4"/><circle cx="988.5" cy="891.4"/><circle cx="1013.2" cy="866.3"/><circle cx="1014.7" cy="909.8"/><circle cx="985" cy="885.2"/><circle cx="959.2" cy="942.4"/><circle cx="983.4" cy="908.5"/><circle cx="1008.9" cy="901.3"/><circle cx="1059.9" cy="826.9"/><circle cx="1065" cy="856.7"/><circle cx="977.4" cy="939.4"/><circle cx="980.4" cy="881.8"/><circle cx="987.5" cy="930.8"/><circle cx="1066.8" cy="838.5"/><circle cx="992.7" cy="918.4"/><circle cx="956.4" cy="914.1"/><circle cx="1051.1" cy="837.6"/><circle cx="1022.4" cy="891.7"/><circle cx="990.5" cy="928.9"/><circle cx="1065.4" cy="825"/><circle cx="981.1" cy="882.6"/><circle cx="1029.3" cy="859.6"/><circle cx="1010.6" cy="879.3"/><circle cx="968.8" cy="948.5"/><circle cx="1051.4" cy="867"/><circle cx="1018" cy="897.8"/><circle cx="1037.3" cy="886"/><circle cx="1080.7" cy="836.5"/><circle cx="1022.5" cy="852.2"/><circle cx="1021.4" cy="860"/><circle cx="1012.6" cy="905.2"/><circle cx="1071.5" cy="845.6"/><circle cx="992.4" cy="929.3"/><circle cx="1023.6" cy="862"/><circle cx="1089.6" cy="832.1"/><circle cx="972.7" cy="891.7"/><circle cx="993.9" cy="905.8"/><circle cx="1017.6" cy="878.1"/><circle cx="1006.3" cy="902.8"/><circle cx="992.5" cy="925.1"/><circle cx="1065.8" cy="862.6"/><circle cx="970.8" cy="914.1"/></g>
<g class="ns"><circle cx="931.7" cy="918.4"/><circle cx="874.4" cy="968.9"/><circle cx="887" cy="950.5"/><circle cx="863.7" cy="979.7"/><circle cx="899.1" cy="948.3"/><circle cx="974.1" cy="892.4"/><circle cx="884" cy="961.8"/><circle cx="901.1" cy="939.7"/><circle cx="864" cy="974.6"/><circle cx="828.7" cy="1005.4"/><circle cx="855.7" cy="986.6"/><circle cx="928.4" cy="921.1"/><circle cx="876.4" cy="959.5"/><circle cx="945" cy="912.8"/><circle cx="898.3" cy="945.2"/><circle cx="831.7" cy="1005.7"/><circle cx="955.5" cy="897.8"/><circle cx="858.4" cy="977.3"/><circle cx="925.4" cy="931.2"/><circle cx="967.8" cy="900.3"/><circle cx="927" cy="925.4"/><circle cx="943.7" cy="912.1"/><circle cx="973.3" cy="895.8"/><circle cx="875.4" cy="959.3"/><circle cx="884.2" cy="962.4"/><circle cx="844.4" cy="986.4"/><circle cx="917.3" cy="929.8"/><circle cx="949" cy="903.2"/><circle cx="964.4" cy="897.2"/><circle cx="893.5" cy="950.8"/><circle cx="898.9" cy="949.1"/><circle cx="884.4" cy="961.9"/><circle cx="939.4" cy="914.8"/><circle cx="901.3" cy="943.8"/><circle cx="872.3" cy="964.2"/><circle cx="901.4" cy="946"/><circle cx="910.6" cy="941"/><circle cx="829.2" cy="1000.9"/><circle cx="960.7" cy="900.3"/><circle cx="873.6" cy="967.2"/><circle cx="824.7" cy="1011.6"/><circle cx="915.8" cy="927.5"/><circle cx="861.3" cy="972.5"/><circle cx="897.2" cy="941.6"/><circle cx="882" cy="962.2"/><circle cx="973.9" cy="903.7"/><circle cx="885.8" cy="962.2"/><circle cx="862.7" cy="970.7"/><circle cx="872.7" cy="970.9"/><circle cx="966.7" cy="894.3"/><circle cx="863.9" cy="977.9"/><circle cx="883.8" cy="954.8"/><circle cx="892" cy="955.7"/><circle cx="822.5" cy="1011.9"/><circle cx="877.2" cy="968.2"/><circle cx="925.5" cy="922.7"/><circle cx="963" cy="890.3"/><circle cx="924.2" cy="932.7"/><circle cx="938.8" cy="919.1"/><circle cx="859.4" cy="977.2"/><circle cx="900.8" cy="948.1"/><circle cx="891.5" cy="951.1"/><circle cx="817.7" cy="1012"/><circle cx="858.6" cy="984.3"/><circle cx="940" cy="921.2"/><circle cx="903.6" cy="936.8"/><circle cx="836.4" cy="995.8"/><circle cx="890.4" cy="946.6"/><circle cx="835.1" cy="999.6"/><circle cx="931" cy="919.3"/><circle cx="907.2" cy="938.7"/><circle cx="876.7" cy="968.1"/><circle cx="870.2" cy="973.3"/><circle cx="883.9" cy="961.5"/><circle cx="869.1" cy="968.5"/><circle cx="931.2" cy="925.3"/><circle cx="825.1" cy="1012.4"/><circle cx="845.1" cy="992.9"/><circle cx="955.8" cy="902.1"/><circle cx="864.6" cy="972.7"/><circle cx="875.2" cy="964.6"/><circle cx="904.8" cy="940"/><circle cx="861.4" cy="981.1"/><circle cx="806.6" cy="1026.3"/><circle cx="902.4" cy="943.3"/><circle cx="866.7" cy="973.4"/><circle cx="871.2" cy="972.9"/><circle cx="851.1" cy="985.6"/><circle cx="831.4" cy="1001.4"/><circle cx="872.2" cy="973.7"/><circle cx="1127.7" cy="789.8"/><circle cx="1136.6" cy="803"/><circle cx="1167.8" cy="786.4"/><circle cx="1118.6" cy="823.6"/><circle cx="1085.7" cy="829.5"/><circle cx="1093.1" cy="839.1"/><circle cx="1083.5" cy="851.8"/><circle cx="1026.2" cy="842.3"/><circle cx="1028.3" cy="851.8"/><circle cx="1011.3" cy="859.3"/><circle cx="1003.9" cy="866.7"/><circle cx="985.8" cy="871.6"/><circle cx="954" cy="885.8"/><circle cx="907.8" cy="918.1"/><circle cx="877.9" cy="944.2"/></g>
<g class="ns"><circle cx="937.8" cy="980.8"/><circle cx="844.5" cy="1060.9"/><circle cx="899.5" cy="1006.5"/><circle cx="966.2" cy="949.9"/><circle cx="855.2" cy="1049.6"/><circle cx="872.6" cy="1035.5"/><circle cx="917.1" cy="998.4"/><circle cx="850.3" cy="1049.8"/><circle cx="881.2" cy="1022.6"/><circle cx="907.5" cy="1002.3"/><circle cx="932.8" cy="976.6"/><circle cx="928.4" cy="988.4"/><circle cx="847.1" cy="1052.9"/><circle cx="903.6" cy="1000.9"/><circle cx="918.7" cy="991.7"/><circle cx="796.7" cy="1097.4"/><circle cx="941.7" cy="978.3"/><circle cx="802.7" cy="1090.4"/><circle cx="879.5" cy="1027.8"/><circle cx="896" cy="1009.8"/><circle cx="955.9" cy="961.6"/><circle cx="815.9" cy="1083.1"/><circle cx="972.7" cy="931.5"/><circle cx="862.3" cy="1040.1"/><circle cx="880" cy="1026"/><circle cx="837.7" cy="1060.6"/><circle cx="836.8" cy="1068"/><circle cx="793.5" cy="1092.2"/><circle cx="875.9" cy="1027.3"/><circle cx="838.8" cy="1057.5"/><circle cx="825.7" cy="1071.3"/><circle cx="822.8" cy="1074"/><circle cx="836.1" cy="1068.4"/><circle cx="962.9" cy="952.7"/><circle cx="885.5" cy="1027"/><circle cx="851.3" cy="1050.6"/><circle cx="953.5" cy="963.8"/><circle cx="936.4" cy="977.2"/><circle cx="798.9" cy="1088.2"/><circle cx="898" cy="1013.3"/><circle cx="959" cy="960.3"/><circle cx="930.5" cy="983"/><circle cx="900.1" cy="1009.6"/><circle cx="938.8" cy="975.8"/><circle cx="963.1" cy="950.3"/><circle cx="878.4" cy="1023.8"/><circle cx="884.2" cy="1022.3"/><circle cx="965.4" cy="948.6"/><circle cx="817.7" cy="1081"/><circle cx="832.9" cy="1066.1"/><circle cx="918.7" cy="995.2"/><circle cx="886.8" cy="1020.7"/><circle cx="932.2" cy="981.4"/><circle cx="806" cy="1087"/><circle cx="974.6" cy="934.5"/><circle cx="926.9" cy="992.6"/><circle cx="952.2" cy="968.5"/><circle cx="898.7" cy="1013.6"/><circle cx="886.9" cy="1020.3"/><circle cx="795" cy="1092.6"/><circle cx="830" cy="1068.2"/><circle cx="797.8" cy="1088.8"/><circle cx="943.2" cy="967.4"/><circle cx="959.8" cy="953.8"/><circle cx="898.6" cy="1015.6"/><circle cx="962.5" cy="945.3"/><circle cx="852.9" cy="1045.6"/><circle cx="965.4" cy="950.7"/><circle cx="884.7" cy="1027.5"/><circle cx="813.8" cy="1086.5"/><circle cx="940.9" cy="976.9"/><circle cx="888.5" cy="1020.5"/><circle cx="879.1" cy="1027.9"/><circle cx="792.5" cy="1094.5"/><circle cx="933.6" cy="983.7"/><circle cx="885.3" cy="1026.1"/><circle cx="971" cy="943.5"/><circle cx="936.9" cy="979.8"/><circle cx="882.7" cy="1022.3"/><circle cx="935.7" cy="980.9"/></g>
<g class="ns"><circle cx="932.9" cy="961.5"/><circle cx="983.9" cy="925.9"/><circle cx="1049.8" cy="861.6"/><circle cx="955.4" cy="910.7"/><circle cx="1032" cy="875.2"/><circle cx="943.2" cy="910.1"/><circle cx="992.6" cy="917.8"/><circle cx="1078.1" cy="840.4"/><circle cx="961.3" cy="920.7"/><circle cx="1067.4" cy="839.7"/><circle cx="958.2" cy="905.3"/><circle cx="966" cy="951"/><circle cx="965.6" cy="908.9"/><circle cx="997.5" cy="888.6"/><circle cx="1048.3" cy="861.4"/><circle cx="1001.2" cy="892.4"/><circle cx="1026.4" cy="892.3"/><circle cx="974.4" cy="914.9"/><circle cx="1022.1" cy="896.4"/><circle cx="1035.9" cy="856.4"/><circle cx="945.1" cy="953.4"/><circle cx="986.8" cy="928.4"/><circle cx="954.3" cy="953"/><circle cx="964.2" cy="902.9"/><circle cx="1005.1" cy="906.6"/><circle cx="965" cy="915.9"/><circle cx="957.2" cy="917.1"/><circle cx="1019.7" cy="868.7"/><circle cx="934.4" cy="930.8"/><circle cx="1019.2" cy="888.2"/><circle cx="989.2" cy="894.5"/><circle cx="1068.1" cy="855.5"/><circle cx="979" cy="907.7"/><circle cx="974.3" cy="907.9"/><circle cx="986" cy="887"/><circle cx="1028.5" cy="885.4"/><circle cx="960.9" cy="923"/><circle cx="1050.5" cy="864.9"/><circle cx="1036.6" cy="883.2"/><circle cx="1018.3" cy="877.4"/><circle cx="1062.9" cy="859.7"/><circle cx="1038.9" cy="862.4"/><circle cx="937.4" cy="958.3"/><circle cx="937.2" cy="940.7"/><circle cx="934.9" cy="921.7"/><circle cx="1011.2" cy="879.4"/><circle cx="964.9" cy="951.2"/><circle cx="1045.7" cy="872.3"/><circle cx="1015.4" cy="906.2"/><circle cx="1042.4" cy="877.8"/><circle cx="951.1" cy="908.7"/><circle cx="1046.4" cy="867.8"/><circle cx="1040.3" cy="864.1"/><circle cx="1014.9" cy="902"/><circle cx="931.7" cy="980.7"/><circle cx="1005.4" cy="912.4"/><circle cx="1014.4" cy="883.8"/><circle cx="951.6" cy="925.2"/><circle cx="958" cy="920.8"/><circle cx="1006.5" cy="905"/><circle cx="997.8" cy="923.4"/><circle cx="977.3" cy="885.8"/><circle cx="1008" cy="909.3"/><circle cx="946" cy="934"/><circle cx="966" cy="929.5"/><circle cx="946.4" cy="962.9"/><circle cx="1009.8" cy="910.7"/><circle cx="1020" cy="884.4"/><circle cx="978.5" cy="921.6"/><circle cx="1020" cy="871.8"/><circle cx="974.6" cy="906.5"/><circle cx="994.3" cy="908.7"/><circle cx="992.6" cy="924"/><circle cx="1031.4" cy="858.8"/><circle cx="959.3" cy="895.4"/><circle cx="993.9" cy="910.9"/><circle cx="1002.6" cy="919.5"/><circle cx="990.6" cy="923.9"/><circle cx="991.6" cy="918.6"/><circle cx="975.9" cy="911.9"/><circle cx="947.8" cy="965.6"/><circle cx="975.1" cy="897.4"/><circle cx="1059.2" cy="841"/><circle cx="1032.6" cy="877.7"/><circle cx="1006.4" cy="882.2"/><circle cx="990.8" cy="899.2"/><circle cx="1016.1" cy="889.4"/><circle cx="967.1" cy="917.8"/><circle cx="946" cy="937.7"/><circle cx="952.4" cy="927.4"/><circle cx="942.4" cy="955.6"/><circle cx="970.4" cy="898.5"/><circle cx="1064.6" cy="852.8"/><circle cx="998.3" cy="885.1"/><circle cx="995.2" cy="890.3"/><circle cx="1037.5" cy="883.8"/><circle cx="930.9" cy="951.3"/><circle cx="1054.7" cy="856.1"/><circle cx="952.6" cy="936.2"/><circle cx="1035.5" cy="857.4"/><circle cx="987.9" cy="883.4"/><circle cx="957.8" cy="940.7"/><circle cx="942.7" cy="947.4"/><circle cx="1022.5" cy="863.7"/><circle cx="1028.8" cy="865.2"/><circle cx="951.2" cy="909.7"/><circle cx="992.6" cy="910.5"/><circle cx="948.8" cy="937.7"/><circle cx="958.7" cy="953.4"/><circle cx="934.5" cy="964.9"/><circle cx="971" cy="941.7"/><circle cx="981.8" cy="895.6"/><circle cx="1031.8" cy="883.4"/><circle cx="974.1" cy="890.6"/><circle cx="1002.1" cy="907.3"/><circle cx="1028" cy="892.8"/><circle cx="1021.8" cy="893.6"/><circle cx="1039.1" cy="862.6"/><circle cx="941.2" cy="929.5"/><circle cx="1017.4" cy="881.7"/><circle cx="1031.9" cy="884.5"/><circle cx="1025.7" cy="874"/><circle cx="982.3" cy="887.8"/><circle cx="978.6" cy="898.8"/><circle cx="1040.9" cy="869.4"/><circle cx="932.3" cy="945.4"/><circle cx="1029.7" cy="862.5"/><circle cx="1033.5" cy="861.5"/><circle cx="1005.2" cy="889.8"/><circle cx="1016.5" cy="888.5"/><circle cx="1009.6" cy="912.8"/><circle cx="987" cy="914.1"/><circle cx="995" cy="903.1"/><circle cx="944.5" cy="920.3"/><circle cx="1070.9" cy="853.3"/><circle cx="1014.7" cy="880.8"/><circle cx="1045.6" cy="877.5"/><circle cx="994.9" cy="881.1"/><circle cx="967" cy="948.9"/><circle cx="1025.1" cy="862.8"/><circle cx="955" cy="903.7"/><circle cx="932.8" cy="945.4"/><circle cx="971.2" cy="929.2"/><circle cx="972.4" cy="895.7"/><circle cx="958.1" cy="925.1"/><circle cx="1078.3" cy="832.3"/><circle cx="963.9" cy="911.9"/><circle cx="944.3" cy="943.6"/><circle cx="1039.1" cy="866.1"/><circle cx="941" cy="950.8"/><circle cx="949.7" cy="930.5"/><circle cx="1063" cy="856.3"/><circle cx="1008.4" cy="891.1"/><circle cx="976.2" cy="908.2"/><circle cx="983.4" cy="900.4"/><circle cx="978.7" cy="940.6"/><circle cx="987.6" cy="911"/><circle cx="1037.3" cy="877.1"/><circle cx="1081.9" cy="839.9"/><circle cx="971.6" cy="943.2"/><circle cx="1019.8" cy="873.3"/><circle cx="985.2" cy="894.1"/><circle cx="950" cy="960.4"/><circle cx="1069.9" cy="837.7"/><circle cx="946.9" cy="926.8"/><circle cx="1078.2" cy="838.3"/><circle cx="955.5" cy="957.2"/><circle cx="998.5" cy="915.5"/><circle cx="950.9" cy="914.7"/><circle cx="1009.3" cy="882.7"/><circle cx="1010.2" cy="875.5"/><circle cx="978.3" cy="931.8"/><circle cx="1050.7" cy="846.2"/><circle cx="1017.6" cy="902.4"/><circle cx="937.2" cy="950"/><circle cx="959.4" cy="929.5"/><circle cx="954.3" cy="909.5"/><circle cx="951.6" cy="908.1"/><circle cx="1062" cy="860.5"/><circle cx="930.9" cy="977.6"/><circle cx="981" cy="933.9"/><circle cx="1005.3" cy="883.1"/><circle cx="961.6" cy="909.9"/><circle cx="944.1" cy="909.4"/><circle cx="969.2" cy="894.3"/><circle cx="938.2" cy="956.9"/><circle cx="1033.1" cy="886"/><circle cx="985.3" cy="880.9"/><circle cx="986.3" cy="906.3"/><circle cx="1020.3" cy="903.1"/><circle cx="980.1" cy="909"/><circle cx="934.2" cy="925.4"/><circle cx="977.5" cy="899.9"/><circle cx="966.1" cy="896.6"/><circle cx="1010.2" cy="907.4"/><circle cx="1009.7" cy="872.9"/><circle cx="1023.5" cy="895.5"/><circle cx="1037.2" cy="868.3"/><circle cx="993.8" cy="898.2"/><circle cx="972.9" cy="905.3"/><circle cx="1025.6" cy="859.7"/><circle cx="1043.3" cy="865"/><circle cx="957.3" cy="945.7"/><circle cx="1005.4" cy="884.4"/><circle cx="1028.5" cy="877.9"/><circle cx="974.6" cy="890.1"/><circle cx="1047.4" cy="851.5"/><circle cx="1055.3" cy="866.3"/><circle cx="1006.9" cy="879"/><circle cx="1045.6" cy="865.9"/><circle cx="993.6" cy="893.5"/><circle cx="982.6" cy="920.8"/><circle cx="1041" cy="872.6"/><circle cx="933.5" cy="979.6"/><circle cx="1015.1" cy="897.9"/><circle cx="971.3" cy="888.8"/><circle cx="965.3" cy="947.1"/><circle cx="985" cy="891.4"/><circle cx="948.6" cy="950"/><circle cx="1007.1" cy="909"/><circle cx="1059.3" cy="863.4"/><circle cx="984.7" cy="903.3"/><circle cx="987" cy="916.2"/><circle cx="988.2" cy="892.7"/><circle cx="944" cy="929.1"/><circle cx="975" cy="925.8"/><circle cx="978.2" cy="903.4"/><circle cx="976.1" cy="931.5"/><circle cx="950.2" cy="915.7"/><circle cx="992.9" cy="911.3"/><circle cx="959.8" cy="901.8"/><circle cx="966" cy="947.4"/><circle cx="992.6" cy="918.2"/><circle cx="970.2" cy="921.4"/><circle cx="955.4" cy="957"/><circle cx="967" cy="948.7"/><circle cx="947.5" cy="927.4"/><circle cx="959.5" cy="916.9"/><circle cx="994.6" cy="902"/><circle cx="992.8" cy="891.2"/><circle cx="960.8" cy="937.8"/><circle cx="988.5" cy="883"/><circle cx="1027.5" cy="891.1"/><circle cx="1013.3" cy="871.6"/><circle cx="1030.1" cy="878.1"/><circle cx="979.4" cy="887.5"/><circle cx="931.2" cy="927.8"/><circle cx="1056.9" cy="855.5"/><circle cx="1079.3" cy="844"/><circle cx="994.4" cy="879.7"/><circle cx="1043.5" cy="877.7"/><circle cx="965.2" cy="928.3"/><circle cx="997.6" cy="882.4"/><circle cx="937" cy="969.9"/><circle cx="970.9" cy="893"/><circle cx="1002.5" cy="910.6"/><circle cx="981.6" cy="934"/><circle cx="937" cy="940.5"/><circle cx="966" cy="947.3"/><circle cx="1007.4" cy="875.7"/><circle cx="953.2" cy="958.5"/><circle cx="1029" cy="865.6"/><circle cx="1004.5" cy="884.7"/><circle cx="1044.5" cy="865.3"/><circle cx="1027.3" cy="877.5"/><circle cx="1015.5" cy="877.5"/><circle cx="985" cy="890.9"/><circle cx="1023.4" cy="862"/><circle cx="1013.5" cy="894.6"/><circle cx="936.5" cy="941.1"/></g>
<g class="fs"><circle cx="926.1" cy="933.6"/><circle cx="858.7" cy="991.6"/><circle cx="804.6" cy="1066.8"/><circle cx="909.8" cy="991"/><circle cx="812.2" cy="1028.1"/><circle cx="838.1" cy="998.8"/><circle cx="825.4" cy="1074.2"/><circle cx="887.9" cy="973.1"/><circle cx="822" cy="1044.4"/><circle cx="800.2" cy="1082.9"/><circle cx="887.3" cy="1022.8"/><circle cx="854.7" cy="1004.5"/><circle cx="801.3" cy="1084.6"/><circle cx="813.9" cy="1054.9"/><circle cx="810.3" cy="1059"/><circle cx="764.5" cy="1112.1"/><circle cx="812.6" cy="1084.9"/><circle cx="830.9" cy="1037"/><circle cx="836.5" cy="1044.8"/><circle cx="801.9" cy="1033"/><circle cx="824" cy="1010.3"/><circle cx="836.2" cy="1024.4"/><circle cx="914.8" cy="953.2"/><circle cx="904.6" cy="989.8"/><circle cx="880.5" cy="1022.4"/><circle cx="920.6" cy="942.2"/><circle cx="899.9" cy="996.9"/><circle cx="855" cy="1033.3"/><circle cx="786.8" cy="1094.8"/><circle cx="930.9" cy="980.2"/><circle cx="911" cy="982.9"/><circle cx="870.5" cy="1020.8"/><circle cx="854.8" cy="1042.5"/><circle cx="923.1" cy="975.3"/><circle cx="851.6" cy="997.5"/><circle cx="889.2" cy="957.1"/><circle cx="901.8" cy="1005.1"/><circle cx="818.1" cy="1020.4"/><circle cx="866.3" cy="1022.6"/><circle cx="890.3" cy="962.8"/><circle cx="851.2" cy="988.2"/><circle cx="804.1" cy="1076"/><circle cx="810" cy="1021.2"/><circle cx="889.3" cy="974"/><circle cx="904.4" cy="966.5"/><circle cx="876" cy="1026"/><circle cx="784.8" cy="1087.4"/><circle cx="832.9" cy="1046.2"/><circle cx="910.9" cy="932.4"/><circle cx="840.5" cy="1018.8"/><circle cx="785.7" cy="1075.6"/><circle cx="901.9" cy="956.3"/><circle cx="841.9" cy="1049.2"/><circle cx="912.3" cy="965.8"/><circle cx="825" cy="1070.7"/><circle cx="920.5" cy="934.5"/><circle cx="896.4" cy="950.3"/><circle cx="900.5" cy="961.2"/><circle cx="826.4" cy="1020.8"/><circle cx="823" cy="1054.7"/><circle cx="884.6" cy="1022.8"/><circle cx="772.7" cy="1095.5"/><circle cx="856.5" cy="1024.1"/><circle cx="839.1" cy="1057.4"/><circle cx="849.8" cy="989.3"/><circle cx="864.3" cy="1012"/><circle cx="893.9" cy="1015"/><circle cx="794" cy="1079.1"/><circle cx="855.3" cy="1044.6"/><circle cx="789.3" cy="1079.5"/><circle cx="828.4" cy="1067.7"/><circle cx="843.5" cy="1055.5"/><circle cx="917.3" cy="976.8"/><circle cx="816.7" cy="1072.6"/><circle cx="898" cy="968.5"/><circle cx="803.6" cy="1062"/><circle cx="862" cy="997.7"/><circle cx="769.5" cy="1091.6"/><circle cx="837.8" cy="1011.8"/><circle cx="825.7" cy="1051.3"/><circle cx="946.9" cy="948.7"/><circle cx="819.1" cy="1022.9"/><circle cx="887.6" cy="959.4"/><circle cx="860.7" cy="981.8"/><circle cx="875.5" cy="1019.5"/><circle cx="914.6" cy="996.7"/><circle cx="862.7" cy="1022.7"/><circle cx="892.9" cy="970.4"/><circle cx="804.4" cy="1028.5"/><circle cx="890.5" cy="982.3"/><circle cx="925.1" cy="948.1"/><circle cx="811.9" cy="1079"/><circle cx="899.9" cy="1001"/><circle cx="765.1" cy="1113.8"/><circle cx="919.4" cy="961.9"/><circle cx="780.2" cy="1068.3"/><circle cx="843" cy="1045.4"/><circle cx="874" cy="964.3"/><circle cx="867.6" cy="1033.8"/><circle cx="939.9" cy="951.7"/><circle cx="910" cy="965.7"/><circle cx="808.8" cy="1088.6"/><circle cx="796.4" cy="1047.5"/><circle cx="894.2" cy="995.7"/><circle cx="906.3" cy="976.4"/><circle cx="801.6" cy="1051.6"/><circle cx="912.2" cy="960.4"/><circle cx="831.9" cy="1046"/><circle cx="785.9" cy="1076"/><circle cx="805.8" cy="1080.6"/><circle cx="799.7" cy="1068.5"/><circle cx="878.3" cy="1008.8"/><circle cx="884.8" cy="993.3"/><circle cx="906.3" cy="975.7"/><circle cx="819.2" cy="1036.2"/><circle cx="845.8" cy="1001.2"/><circle cx="939.4" cy="967.8"/><circle cx="878.6" cy="1007"/><circle cx="779.9" cy="1073.6"/><circle cx="824.2" cy="1071.2"/><circle cx="827" cy="1042.6"/><circle cx="912" cy="937.5"/><circle cx="841.2" cy="1037.5"/><circle cx="877.9" cy="968.3"/><circle cx="891.7" cy="955.4"/><circle cx="856.2" cy="1025.1"/><circle cx="874.4" cy="1014.7"/><circle cx="827.7" cy="1061"/><circle cx="868.1" cy="1009.1"/><circle cx="929.2" cy="979.4"/><circle cx="869.6" cy="1019.8"/><circle cx="802.8" cy="1060.7"/><circle cx="818.8" cy="1074.6"/><circle cx="935.3" cy="980.8"/><circle cx="775.8" cy="1106.2"/><circle cx="943.5" cy="930.2"/><circle cx="821.2" cy="1041"/><circle cx="827.8" cy="1002"/><circle cx="885.4" cy="987"/><circle cx="850.7" cy="1042.8"/><circle cx="972.8" cy="927"/><circle cx="835.9" cy="1007.7"/><circle cx="840.4" cy="1042.1"/><circle cx="877.7" cy="1001.5"/><circle cx="786.8" cy="1098.8"/><circle cx="920.6" cy="934"/><circle cx="986.4" cy="911.8"/><circle cx="925.5" cy="928.5"/><circle cx="942.6" cy="924.6"/><circle cx="832.2" cy="1039.8"/><circle cx="911.2" cy="982.5"/><circle cx="901.6" cy="987.2"/><circle cx="815.7" cy="1079"/><circle cx="939.3" cy="931.7"/><circle cx="911.4" cy="1003.6"/><circle cx="867" cy="1021.3"/><circle cx="817" cy="1043.2"/><circle cx="871.3" cy="969.9"/><circle cx="897.5" cy="1008.8"/><circle cx="794.5" cy="1054.8"/><circle cx="866" cy="1034.4"/><circle cx="913.6" cy="946.6"/><circle cx="819.5" cy="1009.7"/><circle cx="892.4" cy="1009.1"/><circle cx="876" cy="964.3"/><circle cx="912.1" cy="998.3"/><circle cx="846.4" cy="1035"/><circle cx="815.4" cy="1051.2"/><circle cx="811.3" cy="1059.8"/><circle cx="837" cy="999.9"/><circle cx="867.3" cy="1012.3"/><circle cx="831" cy="1061.8"/><circle cx="796.2" cy="1080"/><circle cx="822.2" cy="1015.7"/><circle cx="804.9" cy="1040.8"/><circle cx="872.1" cy="972"/><circle cx="859" cy="1002.4"/><circle cx="782.6" cy="1064.6"/><circle cx="808.9" cy="1079.7"/><circle cx="902.4" cy="988.5"/><circle cx="819" cy="1061.8"/><circle cx="874.3" cy="1027.8"/><circle cx="830.1" cy="1065.9"/><circle cx="915.1" cy="964.4"/><circle cx="776.5" cy="1079.4"/><circle cx="917.5" cy="967.1"/><circle cx="883.6" cy="958.8"/><circle cx="809.8" cy="1081.3"/><circle cx="875.7" cy="1026.7"/><circle cx="882.7" cy="1015"/><circle cx="783.1" cy="1063.5"/><circle cx="890.1" cy="986.9"/><circle cx="770.8" cy="1089.6"/><circle cx="810.2" cy="1048.2"/><circle cx="844.6" cy="1021.8"/><circle cx="902" cy="1010.4"/><circle cx="855.5" cy="1005.2"/><circle cx="838.8" cy="1020.3"/><circle cx="791.1" cy="1052.4"/><circle cx="838" cy="1010.3"/><circle cx="765.5" cy="1104.2"/><circle cx="904.1" cy="996.8"/><circle cx="823.9" cy="1023.4"/><circle cx="920.5" cy="952.4"/><circle cx="780.7" cy="1080.9"/><circle cx="855.4" cy="984.1"/><circle cx="883.1" cy="983.7"/><circle cx="902.5" cy="965.5"/><circle cx="845" cy="1050"/><circle cx="810" cy="1040.7"/><circle cx="859.1" cy="1049.3"/><circle cx="871.3" cy="1023.9"/><circle cx="805.2" cy="1078.1"/><circle cx="912.5" cy="953.6"/><circle cx="943.4" cy="953.4"/><circle cx="824.9" cy="1043.8"/><circle cx="931.8" cy="986.8"/><circle cx="809.4" cy="1034.2"/><circle cx="833.2" cy="1056.1"/><circle cx="867.9" cy="1008.2"/><circle cx="898.8" cy="993.1"/><circle cx="867.3" cy="984.3"/><circle cx="954.8" cy="918.1"/><circle cx="891.2" cy="1019.2"/><circle cx="841.4" cy="1051.7"/><circle cx="829.4" cy="1021.2"/><circle cx="843.6" cy="996.7"/><circle cx="872.4" cy="1003"/><circle cx="948.4" cy="930.2"/><circle cx="825.4" cy="1012.9"/><circle cx="808" cy="1031.9"/><circle cx="830" cy="1022.6"/><circle cx="825.3" cy="1045.3"/><circle cx="843" cy="1021.1"/><circle cx="795.9" cy="1047.5"/><circle cx="794.5" cy="1095.2"/><circle cx="837.8" cy="1013.6"/><circle cx="821.1" cy="1057.4"/><circle cx="930.7" cy="978.2"/><circle cx="813.4" cy="1055.4"/><circle cx="863.6" cy="1040.6"/><circle cx="887.9" cy="956.9"/><circle cx="821.4" cy="1071.8"/><circle cx="827.3" cy="1076.1"/><circle cx="768.4" cy="1091.4"/><circle cx="849.5" cy="1049.7"/><circle cx="954.4" cy="904.9"/><circle cx="794.9" cy="1092.2"/><circle cx="858.6" cy="983.6"/><circle cx="903.5" cy="1001.9"/><circle cx="811.3" cy="1078.6"/><circle cx="945.2" cy="964.3"/><circle cx="784.2" cy="1070.4"/><circle cx="911.7" cy="951.5"/><circle cx="820.6" cy="1015.6"/><circle cx="849.3" cy="1043"/><circle cx="869.5" cy="997.6"/><circle cx="908.7" cy="990.8"/><circle cx="812.6" cy="1044.2"/><circle cx="873.2" cy="992.5"/><circle cx="836.9" cy="1019.4"/><circle cx="874.9" cy="988.3"/><circle cx="899.7" cy="991.6"/><circle cx="894.5" cy="975.7"/><circle cx="866.8" cy="1033.1"/><circle cx="890.2" cy="998.2"/><circle cx="852.5" cy="1022.9"/><circle cx="922.4" cy="986.7"/><circle cx="918.6" cy="976.3"/><circle cx="893.9" cy="950.1"/><circle cx="851.2" cy="1037.9"/><circle cx="833.2" cy="1052.9"/><circle cx="871.1" cy="1014.1"/><circle cx="852.6" cy="992.6"/><circle cx="934.2" cy="940.5"/><circle cx="882.2" cy="1018.9"/><circle cx="876.2" cy="994.2"/><circle cx="902.2" cy="964.9"/><circle cx="915" cy="990.8"/><circle cx="959.3" cy="924.5"/><circle cx="815.2" cy="1079.6"/><circle cx="769.1" cy="1093.6"/><circle cx="938" cy="951.6"/><circle cx="860.1" cy="982"/><circle cx="851.3" cy="1027.9"/><circle cx="811.3" cy="1027.8"/><circle cx="805.1" cy="1041.4"/><circle cx="827.1" cy="1036.4"/><circle cx="942.4" cy="921.6"/><circle cx="829.4" cy="1046.4"/><circle cx="868.5" cy="1032.8"/><circle cx="887.8" cy="1024"/><circle cx="818.4" cy="1062.9"/><circle cx="940.2" cy="920.5"/><circle cx="817.4" cy="1064.4"/><circle cx="799" cy="1065.1"/><circle cx="816.5" cy="1077.5"/><circle cx="888.7" cy="1009.5"/><circle cx="793.7" cy="1060.7"/><circle cx="929.5" cy="943.3"/><circle cx="892.4" cy="967.2"/><circle cx="867.9" cy="978.7"/><circle cx="840.6" cy="999.4"/><circle cx="914.9" cy="953.7"/><circle cx="939.7" cy="973.9"/><circle cx="868.5" cy="1037.7"/><circle cx="919" cy="935.5"/><circle cx="923.1" cy="985.6"/><circle cx="822.5" cy="1058.8"/><circle cx="832.5" cy="1000.8"/><circle cx="816.5" cy="1074.2"/><circle cx="824.5" cy="1037.3"/><circle cx="786.5" cy="1057.2"/><circle cx="764.1" cy="1105.3"/><circle cx="909.1" cy="940.2"/><circle cx="864.9" cy="1038"/><circle cx="858.3" cy="1042.4"/><circle cx="814.3" cy="1049.2"/><circle cx="812.3" cy="1029.4"/><circle cx="906" cy="949.5"/><circle cx="812.2" cy="1044"/><circle cx="895.6" cy="953.6"/><circle cx="909.1" cy="950.7"/><circle cx="861.6" cy="1038.5"/><circle cx="861.6" cy="1009.4"/><circle cx="943.5" cy="915.5"/><circle cx="898.8" cy="956.5"/><circle cx="815" cy="1066.1"/><circle cx="877.9" cy="1018"/><circle cx="937.6" cy="930.3"/><circle cx="908.6" cy="950.5"/><circle cx="781.5" cy="1099.2"/><circle cx="868.6" cy="972"/><circle cx="823.6" cy="1061.4"/><circle cx="803.1" cy="1051.2"/><circle cx="862.2" cy="1027.1"/><circle cx="924.2" cy="947.5"/><circle cx="848" cy="1039.6"/><circle cx="848.5" cy="1023.9"/><circle cx="924.2" cy="963.8"/><circle cx="791.1" cy="1084.7"/><circle cx="849.1" cy="1012.1"/><circle cx="859.9" cy="1021.2"/><circle cx="917.1" cy="936.2"/><circle cx="830.8" cy="1030.2"/><circle cx="898.6" cy="1005.5"/><circle cx="875.2" cy="969.2"/><circle cx="790.2" cy="1099.4"/><circle cx="874.6" cy="970.5"/><circle cx="855.5" cy="991.5"/><circle cx="908.5" cy="953.5"/><circle cx="812.2" cy="1044.2"/><circle cx="865.6" cy="1034.9"/><circle cx="823" cy="1039.8"/><circle cx="897.1" cy="1011.5"/><circle cx="910" cy="944.3"/><circle cx="891.9" cy="956.4"/><circle cx="943.7" cy="949.7"/><circle cx="838.9" cy="999.2"/><circle cx="934.6" cy="927.3"/><circle cx="797.9" cy="1090.2"/><circle cx="902.9" cy="987.5"/><circle cx="903.5" cy="981.2"/><circle cx="871" cy="989.8"/><circle cx="854.7" cy="1052.8"/><circle cx="908" cy="968.9"/><circle cx="881.1" cy="1012"/><circle cx="949.7" cy="964.8"/><circle cx="827.5" cy="1023.7"/><circle cx="883.6" cy="990.1"/><circle cx="897.6" cy="1006.4"/><circle cx="847" cy="1025.5"/><circle cx="860.7" cy="996.1"/><circle cx="821.3" cy="1046.1"/><circle cx="924.8" cy="972.7"/><circle cx="807.8" cy="1024.3"/><circle cx="830.8" cy="1026.1"/><circle cx="894.8" cy="960"/><circle cx="812.5" cy="1019.2"/><circle cx="900.6" cy="983"/><circle cx="773.3" cy="1086.4"/><circle cx="935.6" cy="964.8"/><circle cx="884.3" cy="1025"/><circle cx="855.3" cy="1044.4"/><circle cx="900.9" cy="944.5"/><circle cx="854" cy="1002.4"/><circle cx="874.7" cy="971"/><circle cx="818.6" cy="1019.5"/><circle cx="890.5" cy="1017.1"/><circle cx="854.3" cy="1038.5"/><circle cx="798.3" cy="1064.3"/><circle cx="958.3" cy="925.3"/><circle cx="801.7" cy="1087.6"/><circle cx="822.8" cy="1022.2"/><circle cx="838.8" cy="1059.1"/><circle cx="801" cy="1073.6"/><circle cx="811.1" cy="1027.2"/><circle cx="870.8" cy="1031.1"/><circle cx="800" cy="1066.4"/><circle cx="790.6" cy="1067"/><circle cx="856.8" cy="985.6"/><circle cx="766.3" cy="1112"/><circle cx="838.9" cy="1049.1"/><circle cx="912.7" cy="960.1"/><circle cx="833.4" cy="1000.4"/><circle cx="922.9" cy="975.5"/><circle cx="909.5" cy="967.4"/><circle cx="793" cy="1076.1"/><circle cx="855.2" cy="986.4"/><circle cx="795.3" cy="1079.4"/><circle cx="906" cy="943.2"/><circle cx="846.4" cy="1007.4"/><circle cx="847.5" cy="1008.2"/><circle cx="843.3" cy="1002.2"/><circle cx="918.9" cy="978.2"/><circle cx="795.6" cy="1066.8"/><circle cx="905.6" cy="963.1"/><circle cx="793" cy="1047.6"/><circle cx="867.1" cy="1019.9"/><circle cx="944.1" cy="938.5"/><circle cx="908.1" cy="982.2"/><circle cx="912" cy="939.4"/><circle cx="852.9" cy="986.9"/><circle cx="894.4" cy="985.7"/><circle cx="816" cy="1059"/><circle cx="770.9" cy="1089"/><circle cx="899.7" cy="992.6"/><circle cx="820.7" cy="1009.3"/><circle cx="782.2" cy="1094.6"/><circle cx="790.4" cy="1051.9"/><circle cx="879.5" cy="1022.6"/><circle cx="970.5" cy="898.3"/><circle cx="932.9" cy="982"/><circle cx="908.6" cy="935.3"/><circle cx="895.1" cy="961.5"/><circle cx="819.5" cy="1030.1"/><circle cx="870.6" cy="1021.3"/><circle cx="870.9" cy="1010.7"/><circle cx="862.6" cy="1024.1"/><circle cx="842.8" cy="1024"/><circle cx="891.4" cy="982.1"/><circle cx="851" cy="1016.8"/><circle cx="882.2" cy="1015.4"/><circle cx="863.5" cy="1023.5"/><circle cx="837.4" cy="1044"/><circle cx="904.7" cy="975.3"/><circle cx="816.6" cy="1063.2"/><circle cx="815.8" cy="1038.4"/><circle cx="865.1" cy="1038.8"/><circle cx="853.7" cy="1021.8"/><circle cx="844.8" cy="1034"/><circle cx="813.2" cy="1077.5"/><circle cx="868.3" cy="1019.3"/><circle cx="856.6" cy="1019.7"/><circle cx="844.9" cy="1002.8"/><circle cx="776.8" cy="1076.6"/><circle cx="856" cy="1001.2"/><circle cx="906.8" cy="935.1"/><circle cx="940" cy="936.9"/><circle cx="803.4" cy="1066.7"/><circle cx="881.6" cy="967.7"/><circle cx="780.7" cy="1073.4"/><circle cx="799.6" cy="1079.4"/><circle cx="797.8" cy="1092.8"/><circle cx="842.3" cy="1057.4"/><circle cx="851.6" cy="1024.1"/><circle cx="852.1" cy="1046"/><circle cx="869.1" cy="998.2"/><circle cx="806.5" cy="1070.9"/><circle cx="838.3" cy="1005.4"/><circle cx="843.6" cy="994.7"/><circle cx="836.3" cy="1022.9"/><circle cx="856.5" cy="993.6"/><circle cx="908.4" cy="972.1"/><circle cx="823.4" cy="1032.5"/><circle cx="903.1" cy="980.6"/><circle cx="784" cy="1063"/><circle cx="924" cy="934.1"/><circle cx="839.4" cy="1025.7"/><circle cx="865.9" cy="990.5"/><circle cx="853.3" cy="1044.7"/><circle cx="848.7" cy="1037.3"/><circle cx="923.2" cy="980.9"/><circle cx="944.1" cy="921.8"/><circle cx="796.2" cy="1084.8"/><circle cx="849.2" cy="1033.1"/><circle cx="897.2" cy="960.4"/><circle cx="936.5" cy="975.4"/><circle cx="805.9" cy="1078.8"/><circle cx="912.6" cy="962.8"/><circle cx="858.9" cy="980"/><circle cx="822.1" cy="1077.4"/><circle cx="857.1" cy="981.6"/><circle cx="933.7" cy="953.2"/><circle cx="823" cy="1014.9"/><circle cx="917.2" cy="983.4"/><circle cx="779.2" cy="1075.8"/><circle cx="782.8" cy="1066.7"/><circle cx="809.6" cy="1070.9"/><circle cx="891.1" cy="951.8"/><circle cx="825.2" cy="1017.7"/><circle cx="900.1" cy="986.4"/><circle cx="930.2" cy="980.2"/><circle cx="867.9" cy="978.7"/><circle cx="818.5" cy="1035.1"/><circle cx="928.4" cy="929.9"/><circle cx="839.7" cy="1022.6"/><circle cx="866.7" cy="1009.7"/><circle cx="813.7" cy="1024.8"/><circle cx="901.6" cy="970.8"/><circle cx="862.3" cy="1007.8"/><circle cx="956.7" cy="896.2"/><circle cx="841.2" cy="1035.9"/><circle cx="890" cy="957.7"/><circle cx="865" cy="986"/><circle cx="890.4" cy="960.9"/><circle cx="906.4" cy="953.8"/><circle cx="871.9" cy="970.7"/><circle cx="911.6" cy="934.6"/><circle cx="860.1" cy="1040.3"/><circle cx="837.3" cy="1016.4"/><circle cx="841.8" cy="998.3"/><circle cx="826.1" cy="1013.9"/><circle cx="905.5" cy="965.3"/><circle cx="881.3" cy="981"/><circle cx="916.4" cy="982.5"/><circle cx="778.1" cy="1071.8"/><circle cx="804" cy="1089.1"/><circle cx="814" cy="1022.5"/><circle cx="874" cy="968.8"/><circle cx="934.4" cy="976.6"/><circle cx="885.7" cy="989.2"/><circle cx="772.2" cy="1097.6"/><circle cx="797.5" cy="1076.6"/><circle cx="785.4" cy="1097.5"/><circle cx="845.3" cy="1045"/><circle cx="928.2" cy="977.9"/><circle cx="826.7" cy="1042.5"/><circle cx="860" cy="977.7"/><circle cx="881.1" cy="999.9"/><circle cx="784.1" cy="1084.7"/><circle cx="838.2" cy="1010.2"/><circle cx="915.2" cy="982.3"/><circle cx="871.1" cy="1004.4"/><circle cx="931.4" cy="968.9"/><circle cx="797.2" cy="1050.5"/><circle cx="848.9" cy="1040.4"/><circle cx="913.6" cy="945.9"/><circle cx="889" cy="961.3"/><circle cx="795.8" cy="1044.8"/><circle cx="790.1" cy="1051.7"/><circle cx="877.7" cy="994"/><circle cx="829" cy="1067.8"/><circle cx="860.6" cy="1020.5"/><circle cx="762.5" cy="1115.3"/><circle cx="938.9" cy="921.9"/><circle cx="891.4" cy="975.4"/><circle cx="786.1" cy="1082.6"/><circle cx="786.1" cy="1067.8"/><circle cx="824.7" cy="1031.1"/><circle cx="910" cy="954.5"/><circle cx="791.8" cy="1081.6"/><circle cx="839.5" cy="1028.9"/><circle cx="885.9" cy="1002.4"/><circle cx="797" cy="1037.8"/><circle cx="879.3" cy="991.1"/><circle cx="889.1" cy="1014.6"/><circle cx="861" cy="1014.9"/><circle cx="870.2" cy="982.8"/><circle cx="852.2" cy="988"/><circle cx="808.9" cy="1040.2"/><circle cx="856.3" cy="984.1"/><circle cx="867.3" cy="998.1"/><circle cx="915" cy="974.1"/><circle cx="900.6" cy="1004.5"/><circle cx="837.5" cy="994"/><circle cx="893.8" cy="1011.5"/><circle cx="767.1" cy="1095.7"/><circle cx="794.6" cy="1052.1"/><circle cx="794.4" cy="1072.3"/><circle cx="926.1" cy="983.7"/><circle cx="913.3" cy="966.8"/><circle cx="780.5" cy="1100.9"/><circle cx="807.3" cy="1024.1"/><circle cx="901.7" cy="942.7"/><circle cx="939.9" cy="936.5"/><circle cx="873.8" cy="995.7"/><circle cx="853.3" cy="1013.1"/><circle cx="857.2" cy="1001.3"/><circle cx="909.9" cy="972.4"/><circle cx="824.3" cy="1032.1"/><circle cx="875" cy="983.8"/><circle cx="847.5" cy="1007"/><circle cx="891.4" cy="956.7"/><circle cx="800.2" cy="1070.7"/><circle cx="935.5" cy="932.3"/><circle cx="871.1" cy="983.9"/><circle cx="770.8" cy="1101.1"/><circle cx="903.8" cy="961"/><circle cx="784.7" cy="1075.3"/><circle cx="789.4" cy="1052.2"/><circle cx="966.6" cy="930.9"/><circle cx="782.2" cy="1065.1"/><circle cx="791" cy="1095.2"/><circle cx="762.2" cy="1108"/><circle cx="891.3" cy="972.8"/><circle cx="807.5" cy="1052.1"/><circle cx="836.5" cy="1045.6"/><circle cx="866.7" cy="1027.1"/><circle cx="819.4" cy="1050.4"/><circle cx="905.3" cy="951.1"/><circle cx="914.3" cy="937.6"/><circle cx="890.7" cy="1012.7"/><circle cx="783.4" cy="1104.5"/><circle cx="830.4" cy="1064.6"/><circle cx="853.2" cy="1007.3"/><circle cx="928.9" cy="929.7"/><circle cx="818.4" cy="1058.7"/><circle cx="899" cy="980.4"/><circle cx="838.4" cy="1020.6"/><circle cx="855.4" cy="1039.5"/><circle cx="804.7" cy="1034.3"/><circle cx="891" cy="985.1"/><circle cx="775.5" cy="1075.6"/><circle cx="790.6" cy="1072.5"/><circle cx="761.3" cy="1115.9"/><circle cx="818.6" cy="1017.6"/><circle cx="809.9" cy="1029"/><circle cx="852.8" cy="980.8"/><circle cx="867.2" cy="972"/><circle cx="794.6" cy="1049.6"/><circle cx="825.8" cy="1009"/><circle cx="917.6" cy="961.7"/><circle cx="843.2" cy="1055.1"/><circle cx="904" cy="980.3"/><circle cx="906.8" cy="956"/><circle cx="906.9" cy="950.5"/><circle cx="885.2" cy="1020.1"/><circle cx="882.3" cy="1019.6"/><circle cx="881.3" cy="979.5"/><circle cx="768" cy="1104.3"/><circle cx="910.3" cy="958.3"/><circle cx="879.9" cy="1021.7"/><circle cx="777.2" cy="1104.2"/><circle cx="931" cy="979.9"/><circle cx="832.7" cy="1061.9"/><circle cx="875.4" cy="999.3"/><circle cx="771" cy="1103.6"/><circle cx="956.4" cy="911.8"/><circle cx="837.2" cy="997.4"/><circle cx="829.4" cy="1014.6"/><circle cx="860.3" cy="979.7"/><circle cx="847" cy="1030.6"/><circle cx="819" cy="1044.6"/><circle cx="843.3" cy="995.1"/><circle cx="865.1" cy="995.3"/><circle cx="846.9" cy="989.5"/><circle cx="920.1" cy="985.5"/><circle cx="858.2" cy="1000"/><circle cx="788.2" cy="1088.8"/><circle cx="867.5" cy="1035.8"/><circle cx="910.7" cy="964.1"/><circle cx="915" cy="945.3"/><circle cx="779.7" cy="1106.1"/><circle cx="822.4" cy="1059"/><circle cx="791.3" cy="1066.5"/><circle cx="775.9" cy="1076"/><circle cx="864.7" cy="1019.2"/><circle cx="883.7" cy="972.7"/><circle cx="810.8" cy="1031.5"/><circle cx="861.4" cy="985.3"/><circle cx="874.4" cy="975.9"/><circle cx="875.9" cy="1029.1"/><circle cx="839" cy="1040.3"/><circle cx="816.3" cy="1035.2"/><circle cx="819.4" cy="1027.3"/><circle cx="874.7" cy="1010.2"/><circle cx="849.2" cy="1033.8"/><circle cx="797" cy="1047.3"/><circle cx="942.1" cy="918.3"/><circle cx="826.7" cy="1054.7"/><circle cx="917.4" cy="987.6"/><circle cx="894.1" cy="993.9"/><circle cx="784.9" cy="1097.5"/><circle cx="923" cy="990.4"/><circle cx="941.6" cy="945.7"/><circle cx="934.9" cy="925.3"/><circle cx="881.1" cy="994.6"/><circle cx="782.3" cy="1069.4"/><circle cx="896.7" cy="959.3"/><circle cx="809.1" cy="1046.1"/><circle cx="873" cy="984.6"/><circle cx="826.6" cy="1010"/><circle cx="874.8" cy="1002"/><circle cx="914.6" cy="1000.2"/><circle cx="839.6" cy="1050"/><circle cx="853.7" cy="984.4"/><circle cx="824.6" cy="1070.2"/><circle cx="878.6" cy="1000.6"/><circle cx="878.4" cy="992.2"/><circle cx="924.7" cy="963.5"/><circle cx="777.4" cy="1074.7"/><circle cx="859.2" cy="1043.9"/><circle cx="852.3" cy="1041.5"/><circle cx="857.7" cy="985.3"/><circle cx="805.7" cy="1060.5"/><circle cx="913.2" cy="930.8"/><circle cx="840" cy="1003.8"/><circle cx="890" cy="995.9"/><circle cx="870.2" cy="998.2"/><circle cx="791.9" cy="1050.6"/><circle cx="882.3" cy="964.4"/><circle cx="834.4" cy="1070.7"/><circle cx="811" cy="1076.5"/><circle cx="877.9" cy="962.5"/><circle cx="784.2" cy="1067.6"/><circle cx="817.5" cy="1019.5"/><circle cx="889.2" cy="990.1"/><circle cx="841.2" cy="1039.8"/><circle cx="899.6" cy="982.3"/><circle cx="911.9" cy="950.7"/><circle cx="780.6" cy="1077.6"/><circle cx="850.5" cy="983.3"/><circle cx="887.6" cy="1007.1"/><circle cx="929.1" cy="965.7"/><circle cx="902.8" cy="966.2"/><circle cx="881.6" cy="1007.2"/><circle cx="792.4" cy="1076.1"/><circle cx="879.6" cy="1014.9"/><circle cx="884.2" cy="1014.8"/><circle cx="865.1" cy="979.7"/><circle cx="922.2" cy="955.3"/><circle cx="869" cy="1002.6"/><circle cx="800.8" cy="1071.7"/><circle cx="949.6" cy="942.6"/><circle cx="886.6" cy="959"/><circle cx="882.7" cy="988.8"/><circle cx="926.1" cy="950.8"/><circle cx="874.1" cy="1003"/><circle cx="890.6" cy="985.2"/><circle cx="839.1" cy="1016.3"/><circle cx="931.4" cy="922.7"/><circle cx="913.6" cy="950"/><circle cx="771.7" cy="1092"/><circle cx="806.5" cy="1081.3"/><circle cx="900.9" cy="945.1"/><circle cx="816.4" cy="1063.7"/><circle cx="893" cy="971.8"/><circle cx="831.8" cy="1046.2"/><circle cx="918.6" cy="940"/><circle cx="850.5" cy="1022.1"/><circle cx="873" cy="977.5"/><circle cx="785.8" cy="1058.3"/><circle cx="842.5" cy="1047.3"/><circle cx="908.1" cy="953.3"/><circle cx="832.9" cy="1023.3"/><circle cx="898.2" cy="953.4"/><circle cx="792.5" cy="1076.1"/><circle cx="835.3" cy="1060.1"/><circle cx="820.7" cy="1049.1"/><circle cx="814" cy="1078.2"/><circle cx="861" cy="1031.6"/><circle cx="883.4" cy="1011.5"/><circle cx="826.7" cy="1036.2"/><circle cx="876.4" cy="996.3"/><circle cx="815.5" cy="1076.4"/><circle cx="830.6" cy="1034.4"/><circle cx="894.3" cy="1006.4"/><circle cx="881.1" cy="997.9"/><circle cx="959.7" cy="901"/><circle cx="828.5" cy="1029.1"/><circle cx="905" cy="976.5"/><circle cx="908.8" cy="996.2"/><circle cx="812" cy="1066.2"/><circle cx="822.1" cy="1026.5"/><circle cx="910.2" cy="995.8"/><circle cx="920.9" cy="971.7"/><circle cx="838.8" cy="1030.8"/><circle cx="900.1" cy="949.5"/><circle cx="820.9" cy="1067.6"/><circle cx="793.8" cy="1086.3"/><circle cx="912.8" cy="989.2"/><circle cx="807.3" cy="1077.7"/><circle cx="814" cy="1065.8"/><circle cx="795.4" cy="1055.3"/><circle cx="778.1" cy="1088.6"/><circle cx="912.6" cy="948.4"/><circle cx="881.5" cy="964.9"/><circle cx="875.3" cy="1026.7"/><circle cx="796.8" cy="1057.8"/><circle cx="892.9" cy="979.3"/><circle cx="922.1" cy="963.1"/><circle cx="808.1" cy="1040.1"/><circle cx="822.1" cy="1020.2"/><circle cx="844.5" cy="987.3"/><circle cx="801.7" cy="1049.2"/><circle cx="770.8" cy="1086.9"/><circle cx="793.4" cy="1059.7"/><circle cx="779" cy="1069.8"/><circle cx="910.1" cy="943.2"/><circle cx="891.2" cy="1001.4"/><circle cx="830.4" cy="1007.8"/><circle cx="857" cy="1013"/><circle cx="847.2" cy="991.9"/><circle cx="933.2" cy="969.6"/><circle cx="901.3" cy="992.4"/><circle cx="877.8" cy="968.8"/><circle cx="912.1" cy="999.7"/><circle cx="765.4" cy="1099.3"/><circle cx="872.8" cy="985.2"/><circle cx="920.1" cy="997.3"/><circle cx="822.4" cy="1034.6"/><circle cx="891.3" cy="1003.9"/><circle cx="844.3" cy="1022.6"/><circle cx="810.9" cy="1066.3"/><circle cx="806.1" cy="1063.3"/><circle cx="910" cy="997.4"/><circle cx="775.7" cy="1108.9"/><circle cx="845.9" cy="1053.1"/><circle cx="935" cy="959.1"/><circle cx="816.2" cy="1085.1"/><circle cx="790.9" cy="1093"/><circle cx="777.4" cy="1096.9"/><circle cx="806" cy="1034.5"/><circle cx="768.8" cy="1107.7"/><circle cx="793.6" cy="1089.6"/><circle cx="838.3" cy="1037.9"/><circle cx="861.1" cy="985.4"/><circle cx="837.3" cy="1002.8"/><circle cx="828.3" cy="1067.3"/><circle cx="847.2" cy="1048.7"/><circle cx="789.5" cy="1098.4"/><circle cx="962.3" cy="946.8"/><circle cx="907.1" cy="958"/><circle cx="774.9" cy="1096.4"/><circle cx="892.8" cy="986.6"/><circle cx="897.7" cy="1000.2"/><circle cx="919" cy="982.3"/><circle cx="849.6" cy="998.1"/><circle cx="872.8" cy="970"/><circle cx="854.2" cy="1025.9"/><circle cx="874.1" cy="996.5"/><circle cx="896.2" cy="995.8"/><circle cx="786.6" cy="1102.5"/><circle cx="864.3" cy="1030.4"/><circle cx="878.5" cy="997.2"/><circle cx="883.1" cy="1027.1"/><circle cx="813.5" cy="1070.7"/><circle cx="821.9" cy="1060.2"/><circle cx="838.9" cy="1022"/><circle cx="955.2" cy="907.9"/><circle cx="800.8" cy="1037.7"/><circle cx="874.4" cy="1030.6"/><circle cx="901.8" cy="947.2"/><circle cx="827.9" cy="1058.4"/><circle cx="846" cy="989.8"/><circle cx="846.5" cy="1012.5"/><circle cx="806.2" cy="1058.4"/><circle cx="919.3" cy="936.4"/><circle cx="879.3" cy="980.7"/><circle cx="883.6" cy="955.7"/><circle cx="938.7" cy="962.1"/><circle cx="885.2" cy="976.3"/><circle cx="895.3" cy="1009.8"/><circle cx="833.2" cy="1061.9"/><circle cx="828.2" cy="1068.1"/><circle cx="783.5" cy="1057.8"/><circle cx="891.6" cy="955.5"/><circle cx="876.2" cy="1023.9"/><circle cx="837.6" cy="1041.1"/><circle cx="877.5" cy="1012.5"/><circle cx="799.6" cy="1039.7"/><circle cx="833.6" cy="1057.3"/><circle cx="871.1" cy="994.8"/><circle cx="954.2" cy="919.4"/><circle cx="779.2" cy="1103"/><circle cx="798" cy="1035.6"/><circle cx="844.9" cy="997"/><circle cx="941.1" cy="971.2"/><circle cx="840.2" cy="1055.7"/><circle cx="874.1" cy="996.8"/><circle cx="851.5" cy="1003.5"/><circle cx="920.2" cy="983.5"/><circle cx="786.6" cy="1096"/><circle cx="816.8" cy="1062.9"/><circle cx="917.6" cy="989"/><circle cx="802.9" cy="1054.4"/><circle cx="872.1" cy="1004.9"/><circle cx="887.9" cy="984.1"/><circle cx="890.6" cy="995.2"/><circle cx="932.7" cy="968.6"/><circle cx="883.8" cy="1006"/><circle cx="910.4" cy="939.1"/><circle cx="864" cy="1031.9"/><circle cx="926.6" cy="983.1"/><circle cx="947.2" cy="925.8"/><circle cx="839.8" cy="1000.8"/><circle cx="851" cy="1016.9"/><circle cx="864.4" cy="991.1"/><circle cx="919.8" cy="987.8"/><circle cx="817.8" cy="1052"/><circle cx="907.1" cy="945.6"/><circle cx="845.8" cy="1049.2"/><circle cx="789.1" cy="1096.6"/><circle cx="873.3" cy="1015.8"/><circle cx="824.7" cy="1011.4"/><circle cx="801.2" cy="1086.6"/><circle cx="876.3" cy="964.6"/><circle cx="843.6" cy="1056.3"/><circle cx="861.1" cy="1024.8"/><circle cx="845.4" cy="988.6"/><circle cx="828.2" cy="1031.7"/><circle cx="820.1" cy="1026.6"/><circle cx="878.6" cy="979.8"/><circle cx="859.7" cy="976.6"/><circle cx="809.6" cy="1081.4"/><circle cx="835.1" cy="1004"/><circle cx="899.5" cy="985.1"/><circle cx="831.7" cy="1037.6"/><circle cx="773.4" cy="1084.1"/><circle cx="898.7" cy="997.1"/><circle cx="865.7" cy="1035.2"/><circle cx="798.9" cy="1071.1"/><circle cx="851.1" cy="1008"/><circle cx="786.9" cy="1088"/><circle cx="840.7" cy="1032.4"/><circle cx="843" cy="1053.5"/><circle cx="839.7" cy="1052.6"/><circle cx="843.5" cy="1047.5"/><circle cx="889.4" cy="979.5"/><circle cx="790.5" cy="1061.8"/><circle cx="935.4" cy="949.7"/><circle cx="792.1" cy="1061.1"/><circle cx="765.2" cy="1112.6"/><circle cx="820.3" cy="1016.7"/><circle cx="834.3" cy="1059.6"/><circle cx="915.7" cy="943.6"/><circle cx="851.3" cy="1010.7"/><circle cx="835.3" cy="1017.9"/><circle cx="801.5" cy="1057.7"/><circle cx="913.5" cy="998.8"/><circle cx="930" cy="985.8"/><circle cx="916.2" cy="936"/><circle cx="796.9" cy="1084.9"/><circle cx="874.6" cy="1026.8"/><circle cx="856.3" cy="987.5"/><circle cx="859.3" cy="996.1"/><circle cx="806" cy="1070.8"/><circle cx="811" cy="1050.7"/><circle cx="848.7" cy="1057.6"/><circle cx="829.9" cy="1052.9"/><circle cx="872.6" cy="994.4"/><circle cx="905" cy="968.3"/><circle cx="839.3" cy="1031.7"/><circle cx="774.6" cy="1076.7"/><circle cx="849" cy="1027"/><circle cx="813.1" cy="1064.9"/><circle cx="823.8" cy="1016.2"/><circle cx="844.9" cy="995.5"/><circle cx="787.7" cy="1089.8"/><circle cx="906.4" cy="936.4"/><circle cx="923.1" cy="990.2"/><circle cx="845.5" cy="1046.8"/><circle cx="864.8" cy="1011"/><circle cx="776.7" cy="1095"/><circle cx="810.7" cy="1020.4"/><circle cx="802.4" cy="1065.9"/><circle cx="782.1" cy="1061.6"/><circle cx="798.3" cy="1073.6"/><circle cx="908.1" cy="946.4"/><circle cx="841.6" cy="1007"/><circle cx="944.4" cy="944.8"/><circle cx="887.7" cy="992"/><circle cx="819.2" cy="1075"/><circle cx="915.1" cy="953.8"/><circle cx="914" cy="939"/><circle cx="769" cy="1097.6"/><circle cx="846.9" cy="1046.9"/><circle cx="773.5" cy="1104.9"/><circle cx="786.9" cy="1088"/><circle cx="894.3" cy="994.2"/><circle cx="867.4" cy="1032.9"/><circle cx="848.7" cy="992.8"/><circle cx="939.9" cy="971"/><circle cx="915.4" cy="994.3"/><circle cx="824.5" cy="1055.5"/><circle cx="823.4" cy="1075.6"/><circle cx="895.9" cy="973.4"/><circle cx="919.3" cy="954.2"/><circle cx="938.9" cy="962.9"/><circle cx="854.6" cy="978.7"/><circle cx="790.1" cy="1056"/><circle cx="830.3" cy="1042.5"/><circle cx="887.6" cy="953.9"/><circle cx="907.4" cy="937.2"/><circle cx="823.7" cy="1058.4"/><circle cx="818.3" cy="1018.9"/><circle cx="929.3" cy="947.1"/><circle cx="864.4" cy="1029.4"/><circle cx="871.2" cy="993.1"/><circle cx="833.5" cy="1005.9"/><circle cx="945.9" cy="961.6"/><circle cx="897.9" cy="968.6"/><circle cx="913.1" cy="994.5"/><circle cx="777.1" cy="1083.7"/><circle cx="879.2" cy="986.4"/><circle cx="769.9" cy="1089"/><circle cx="853.1" cy="988.4"/><circle cx="777.2" cy="1073.8"/><circle cx="878.6" cy="1029.6"/><circle cx="839.9" cy="1051.5"/><circle cx="922.3" cy="975.7"/><circle cx="919.9" cy="984.8"/><circle cx="915.9" cy="947.2"/><circle cx="930.4" cy="944.3"/><circle cx="817.5" cy="1073.1"/><circle cx="923.8" cy="968.9"/><circle cx="910.8" cy="940.9"/><circle cx="837" cy="1014.9"/><circle cx="794.2" cy="1046.3"/><circle cx="876.6" cy="1008.5"/><circle cx="883.3" cy="979.5"/><circle cx="789.5" cy="1087.1"/><circle cx="852.1" cy="1022.6"/><circle cx="913.7" cy="939.6"/><circle cx="951.6" cy="907.9"/><circle cx="844.5" cy="1018.4"/><circle cx="925.1" cy="976.4"/><circle cx="870.6" cy="1038.8"/><circle cx="884.6" cy="969.2"/><circle cx="799.8" cy="1055"/><circle cx="766.3" cy="1105.4"/><circle cx="861.6" cy="982"/><circle cx="846.8" cy="1023.1"/><circle cx="844" cy="1040.1"/><circle cx="899.8" cy="972.2"/><circle cx="934.1" cy="974.2"/><circle cx="832.6" cy="1055.8"/><circle cx="765.1" cy="1113.3"/><circle cx="843.1" cy="1019.3"/><circle cx="785.4" cy="1071.3"/><circle cx="832.4" cy="1050.7"/><circle cx="792.6" cy="1063.8"/><circle cx="874" cy="1014.7"/><circle cx="931.9" cy="980.4"/><circle cx="810.6" cy="1026.6"/><circle cx="839.6" cy="1032"/><circle cx="899.4" cy="973.4"/><circle cx="867.8" cy="1009.9"/><circle cx="840.3" cy="1049.2"/><circle cx="774.3" cy="1100.3"/><circle cx="812.6" cy="1041.8"/><circle cx="790.8" cy="1047.7"/><circle cx="821.4" cy="1073.2"/><circle cx="786.5" cy="1054"/><circle cx="807.3" cy="1082.5"/><circle cx="854.9" cy="1008.5"/><circle cx="840.2" cy="1002.6"/><circle cx="767.7" cy="1110.9"/><circle cx="813.8" cy="1045"/><circle cx="892.1" cy="961.8"/><circle cx="921.2" cy="949.5"/><circle cx="802.6" cy="1091.6"/><circle cx="943.4" cy="916.9"/><circle cx="813.4" cy="1061.7"/><circle cx="825.7" cy="1068.9"/><circle cx="937" cy="961.3"/><circle cx="939.5" cy="971.8"/><circle cx="819.3" cy="1059.2"/><circle cx="803" cy="1036.9"/><circle cx="780.5" cy="1101.1"/><circle cx="916.6" cy="987.3"/><circle cx="815.5" cy="1058.1"/><circle cx="889.2" cy="998.8"/><circle cx="873.5" cy="979.4"/><circle cx="944.6" cy="963.7"/><circle cx="817.9" cy="1027.2"/><circle cx="926.6" cy="961.9"/><circle cx="893.7" cy="993.9"/><circle cx="856.4" cy="984"/><circle cx="856.7" cy="1024.3"/><circle cx="892.7" cy="964.9"/><circle cx="765.9" cy="1112.5"/><circle cx="784.6" cy="1069.2"/><circle cx="885.9" cy="982.8"/><circle cx="799.3" cy="1057.6"/><circle cx="877.1" cy="1002.5"/><circle cx="828.2" cy="1053.9"/><circle cx="821.5" cy="1038.9"/><circle cx="905.6" cy="956.4"/><circle cx="945.2" cy="972.6"/><circle cx="938.2" cy="925.7"/><circle cx="874.1" cy="1004"/><circle cx="770.6" cy="1087.4"/><circle cx="932" cy="985.6"/><circle cx="924.2" cy="984.2"/><circle cx="875.8" cy="1000.5"/><circle cx="862" cy="1037.6"/><circle cx="942.3" cy="946.8"/><circle cx="850" cy="1028.7"/><circle cx="872.8" cy="1022.9"/><circle cx="902.8" cy="955.3"/><circle cx="785.9" cy="1066.5"/><circle cx="771.7" cy="1095.7"/><circle cx="810.5" cy="1081.6"/><circle cx="824.6" cy="1069.2"/><circle cx="805.6" cy="1042.2"/><circle cx="932.8" cy="978.4"/><circle cx="904.8" cy="940.6"/><circle cx="810.7" cy="1073.1"/><circle cx="790.5" cy="1051.7"/><circle cx="793.6" cy="1084.8"/><circle cx="800.7" cy="1086.6"/><circle cx="823.4" cy="1071.8"/><circle cx="854.8" cy="1044"/><circle cx="902.5" cy="999.4"/><circle cx="891.6" cy="1009.7"/><circle cx="921.8" cy="992.5"/><circle cx="895.9" cy="962.3"/><circle cx="886.8" cy="987.7"/><circle cx="904.9" cy="1007.9"/><circle cx="906.6" cy="948"/><circle cx="936" cy="949.2"/><circle cx="775.1" cy="1095.5"/><circle cx="781.2" cy="1100"/><circle cx="798" cy="1096.2"/><circle cx="841" cy="1013.8"/><circle cx="801.5" cy="1078.3"/><circle cx="799.8" cy="1065.1"/><circle cx="812.6" cy="1057.1"/><circle cx="863.9" cy="1017.5"/><circle cx="823.2" cy="1019.8"/><circle cx="819.3" cy="1016.1"/><circle cx="902.1" cy="967"/><circle cx="794" cy="1053.5"/><circle cx="924.4" cy="956.4"/><circle cx="871.9" cy="1003"/><circle cx="851.8" cy="985"/><circle cx="827.6" cy="1008.9"/><circle cx="787.6" cy="1057"/><circle cx="972.9" cy="895.5"/><circle cx="791.2" cy="1065.9"/><circle cx="838.1" cy="1041.7"/><circle cx="813.4" cy="1076.8"/><circle cx="931.7" cy="979.1"/><circle cx="834.4" cy="1014.7"/><circle cx="789.9" cy="1052.9"/><circle cx="780.9" cy="1101"/><circle cx="897.7" cy="1004.7"/><circle cx="883.9" cy="964.6"/><circle cx="822.5" cy="1011.2"/><circle cx="901.4" cy="967.4"/><circle cx="854" cy="987.1"/><circle cx="813" cy="1065"/><circle cx="936.2" cy="924.1"/><circle cx="923.6" cy="955.5"/><circle cx="880.9" cy="1007.6"/><circle cx="796.2" cy="1078.2"/><circle cx="911" cy="996.1"/><circle cx="930.4" cy="943.7"/><circle cx="818" cy="1039.8"/><circle cx="895.4" cy="974.2"/><circle cx="852" cy="1051.4"/><circle cx="786.2" cy="1069.6"/><circle cx="826" cy="1060.6"/><circle cx="771" cy="1101.1"/><circle cx="799.7" cy="1039.2"/><circle cx="807.1" cy="1034.7"/><circle cx="880.4" cy="1011.4"/><circle cx="826.6" cy="1055.4"/><circle cx="893.1" cy="949.4"/><circle cx="801.9" cy="1093.9"/><circle cx="853.7" cy="1023.6"/><circle cx="853.7" cy="1032.5"/><circle cx="851.5" cy="1053.2"/><circle cx="824.6" cy="1016.9"/><circle cx="877.8" cy="1021"/><circle cx="904.5" cy="964.7"/><circle cx="912.2" cy="947"/><circle cx="805.2" cy="1032.7"/><circle cx="877.1" cy="985.9"/><circle cx="784.6" cy="1075.2"/><circle cx="832.2" cy="1045.1"/><circle cx="884.1" cy="983.8"/><circle cx="921.8" cy="984.7"/><circle cx="871.7" cy="984.9"/><circle cx="845.2" cy="1031.6"/><circle cx="828.8" cy="1006.2"/><circle cx="888" cy="955.8"/><circle cx="841.6" cy="1040.3"/><circle cx="890.8" cy="957.3"/><circle cx="881.3" cy="970"/><circle cx="829.7" cy="1044.9"/><circle cx="989" cy="908.3"/><circle cx="920.9" cy="971.3"/><circle cx="903.7" cy="947.8"/><circle cx="931.9" cy="926.4"/><circle cx="851.8" cy="1001.3"/><circle cx="878.6" cy="1007"/><circle cx="802" cy="1066.2"/><circle cx="966" cy="925.5"/><circle cx="843.4" cy="1038.6"/><circle cx="842.7" cy="1032.9"/><circle cx="854.3" cy="986.8"/><circle cx="855.8" cy="977.8"/><circle cx="935.9" cy="934.6"/><circle cx="822.4" cy="1051.5"/><circle cx="818.6" cy="1015.9"/><circle cx="812.5" cy="1039.3"/><circle cx="822.4" cy="1063.4"/><circle cx="820.4" cy="1059.7"/><circle cx="855.1" cy="996.4"/><circle cx="838.6" cy="1033.5"/><circle cx="847.7" cy="1024"/><circle cx="886.7" cy="986.2"/><circle cx="950.9" cy="927.5"/><circle cx="864" cy="1036.1"/><circle cx="922.5" cy="983.9"/><circle cx="837.5" cy="1061.2"/><circle cx="977" cy="923.5"/><circle cx="925.1" cy="930.7"/><circle cx="842.4" cy="1035.1"/><circle cx="820.3" cy="1028.5"/><circle cx="808.1" cy="1030.4"/><circle cx="918.8" cy="937.6"/><circle cx="873.8" cy="969.1"/><circle cx="786.4" cy="1089.9"/><circle cx="804.3" cy="1073.6"/><circle cx="804.2" cy="1044.3"/><circle cx="887" cy="993.8"/><circle cx="815.4" cy="1077"/><circle cx="854.3" cy="1007.1"/><circle cx="819.1" cy="1031.7"/><circle cx="784.5" cy="1056.2"/><circle cx="915.1" cy="959.6"/><circle cx="791.4" cy="1050.4"/><circle cx="847.7" cy="1024.7"/><circle cx="889.3" cy="996.8"/><circle cx="857.9" cy="1032.1"/><circle cx="767.3" cy="1102.6"/><circle cx="889.4" cy="998.5"/><circle cx="924.2" cy="969.7"/><circle cx="813.7" cy="1074.5"/><circle cx="886.6" cy="982.8"/><circle cx="844.7" cy="1053.3"/><circle cx="903.3" cy="988.5"/><circle cx="861.4" cy="983.4"/><circle cx="797.8" cy="1043"/><circle cx="840.4" cy="1030.8"/><circle cx="876.7" cy="986.1"/><circle cx="1242.8" cy="754.2"/><circle cx="1156.4" cy="796"/><circle cx="1095.2" cy="841.2"/><circle cx="1070.8" cy="850.8"/><circle cx="1040.6" cy="883.1"/><circle cx="1008.8" cy="877.3"/><circle cx="1000.7" cy="903.9"/><circle cx="984.8" cy="931.5"/><circle cx="968.9" cy="885.8"/><circle cx="951.9" cy="895.4"/><circle cx="1001.8" cy="889"/><circle cx="1002.4" cy="903.6"/><circle cx="985.1" cy="931.6"/><circle cx="938.7" cy="985.7"/></g>
</g>
<path d="M737 1134.8L1267 650.4" stroke="#000" stroke-width="3.3" clip-path="url(#cp4)"/>
<rect x="737" y="650.4" width="530" height="484.4" fill="none" stroke="#262626" stroke-width="2.4"/>
<path d="M736.7 649.2V1135.1H1268.2" fill="none" stroke="#000" stroke-width="2.7"/>
<path d="M760.2 1135.8v9.5M860.9 1135.8v9.5M961.6 1135.8v9.5M1062.3 1135.8v9.5M1163 1135.8v9.5M1263.7 1135.8v9.5M736 1114.1h-9.5M736 1021.8h-9.5M736 929.5h-9.5M736 837.2h-9.5M736 744.9h-9.5M736 652.6h-9.5" stroke="#000" stroke-width="2" fill="none"/>
<text class="tk" transform="translate(760.2 1180.8) scale(.925 1)" text-anchor="middle">0</text>
<text class="tk" transform="translate(860.9 1180.8) scale(.925 1)" text-anchor="middle">25</text>
<text class="tk" transform="translate(961.6 1180.8) scale(.925 1)" text-anchor="middle">50</text>
<text class="tk" transform="translate(1062.3 1180.8) scale(.925 1)" text-anchor="middle">75</text>
<text class="tk" transform="translate(1163 1180.8) scale(.925 1)" text-anchor="middle">100</text>
<text class="tk" transform="translate(1263.7 1180.8) scale(.925 1)" text-anchor="middle">125</text>
<text class="tk" transform="translate(711 1124.3) scale(.925 1)" text-anchor="end">0</text>
<text class="tk" transform="translate(711 1032) scale(.925 1)" text-anchor="end">25</text>
<text class="tk" transform="translate(711 939.7) scale(.925 1)" text-anchor="end">50</text>
<text class="tk" transform="translate(711 847.4) scale(.925 1)" text-anchor="end">75</text>
<text class="tk" transform="translate(711 755.1) scale(.925 1)" text-anchor="end">100</text>
<text class="tk" transform="translate(711 662.8) scale(.925 1)" text-anchor="end">125</text>
<text class="tt" transform="translate(1002.5 636.1) scale(.968 1)" text-anchor="middle">CMORPH-CDR</text>
<text class="ax" x="995.5" y="1221.4" text-anchor="middle">Stationary [mm/h]</text>
<text class="ax" transform="translate(46.5 594.5) rotate(-90)" text-anchor="middle">Non-stationary [mm/h]</text>
<circle class="nn" cx="1465" cy="864.8" r="15.2" fill-opacity=".7" stroke-opacity=".7" stroke-width="2"/>
<text class="lg" transform="translate(1511 875.5) scale(.975 1)">Near North</text>
<circle class="cc" cx="1465" cy="921.9" r="15.2" fill-opacity=".7" stroke-opacity=".7" stroke-width="2"/>
<text class="lg" transform="translate(1511 932.6) scale(.975 1)">Central Chile</text>
<circle class="ns" cx="1465" cy="978.8" r="15.2" fill-opacity=".7" stroke-opacity=".7" stroke-width="2"/>
<text class="lg" transform="translate(1511 989.5) scale(.975 1)">Near South</text>
<circle class="fs" cx="1465" cy="1035.6" r="15.2" fill-opacity=".7" stroke-opacity=".7" stroke-width="2"/>
<text class="lg" transform="translate(1511 1046.3) scale(.975 1)">Far South</text>
</svg></body></html>
